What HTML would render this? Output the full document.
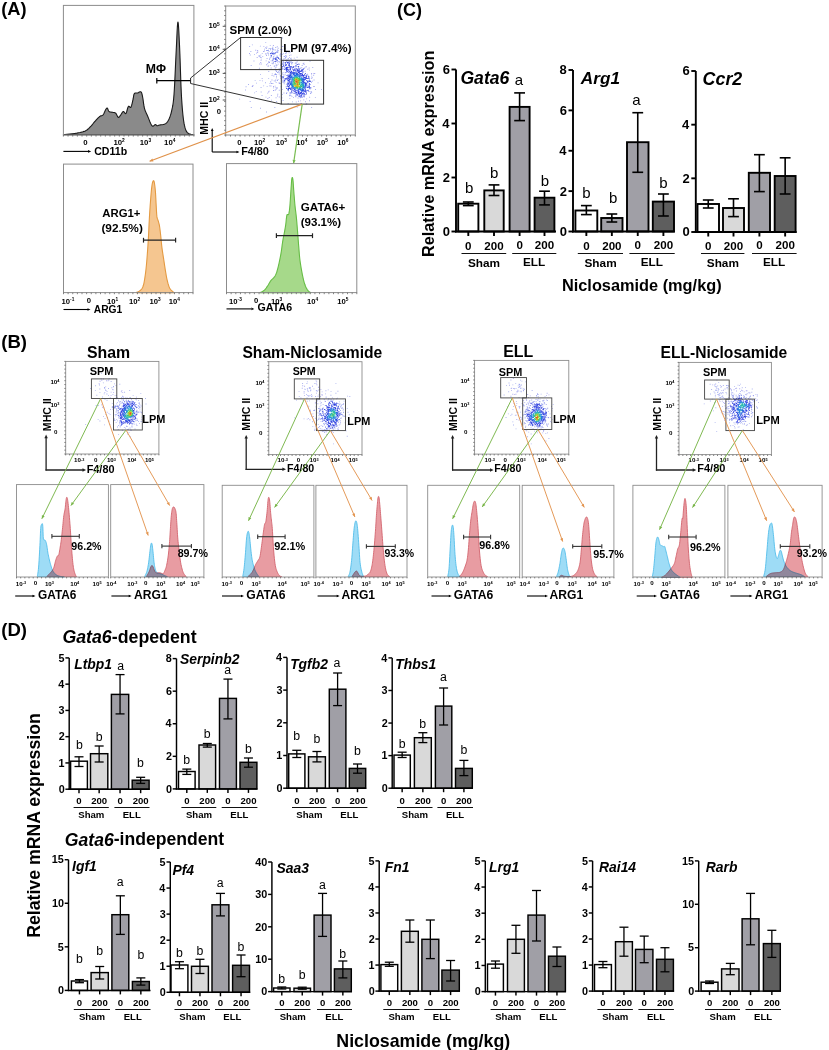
<!DOCTYPE html>
<html><head><meta charset="utf-8"><style>
html,body{margin:0;padding:0;background:#fff;width:829px;height:1050px;overflow:hidden;}
svg{display:block;}
text{font-family:"Liberation Sans",sans-serif;}
</style></head><body>
<svg width="829" height="1050" viewBox="0 0 829 1050">
<rect width="829" height="1050" fill="#fff"/>
<text x="1.29" y="15.46" font-size="18.29" font-weight="bold" font-style="normal" fill="#000">(A)</text>
<path d="M63.4,134.8 L64.93,134.62 L67.09,134.38 L69.62,134.09 L72.28,133.77 L74.79,133.43 L76.9,133.1 L78.63,132.79 L80.2,132.48 L81.62,132.16 L82.93,131.8 L84.15,131.39 L85.3,130.9 L86.34,130.34 L87.24,129.71 L88.06,129.03 L88.82,128.3 L89.59,127.52 L90.4,126.7 L91.26,125.8 L92.13,124.8 L93.01,123.76 L93.87,122.71 L94.7,121.71 L95.5,120.8 L96.26,119.96 L97,119.15 L97.71,118.39 L98.39,117.68 L99.06,117.05 L99.7,116.5 L100.32,116.1 L100.93,115.86 L101.51,115.69 L102.06,115.51 L102.59,115.24 L103.1,114.8 L103.58,114.12 L104.03,113.26 L104.46,112.3 L104.86,111.34 L105.24,110.48 L105.6,109.8 L105.93,109.27 L106.23,108.8 L106.5,108.42 L106.76,108.17 L107.03,108.05 L107.3,108.1 L107.56,108.4 L107.8,108.95 L108.04,109.64 L108.31,110.37 L108.62,111.02 L109,111.5 L109.47,111.78 L110.01,111.96 L110.6,112.06 L111.21,112.12 L111.82,112.19 L112.4,112.3 L112.96,112.41 L113.53,112.47 L114.1,112.54 L114.66,112.65 L115.19,112.86 L115.7,113.2 L116.17,113.79 L116.62,114.61 L117.05,115.52 L117.47,116.38 L117.88,117.06 L118.3,117.4 L118.72,117.37 L119.14,117.06 L119.56,116.57 L119.97,115.97 L120.38,115.35 L120.8,114.8 L121.22,114.23 L121.63,113.56 L122.04,112.86 L122.46,112.23 L122.88,111.75 L123.3,111.5 L123.73,111.63 L124.16,112.11 L124.6,112.74 L125.04,113.31 L125.47,113.63 L125.9,113.5 L126.32,112.75 L126.74,111.51 L127.16,110.02 L127.57,108.52 L127.98,107.23 L128.4,106.4 L128.82,106.17 L129.25,106.39 L129.68,106.83 L130.1,107.26 L130.51,107.46 L130.9,107.2 L131.28,106.4 L131.66,105.23 L132.03,103.82 L132.37,102.32 L132.7,100.87 L133,99.6 L133.24,98.46 L133.41,97.32 L133.57,96.22 L133.74,95.23 L133.97,94.37 L134.3,93.7 L134.75,93.27 L135.28,93.06 L135.87,92.99 L136.49,92.99 L137.11,92.98 L137.7,92.9 L138.29,92.68 L138.9,92.35 L139.51,92.03 L140.09,91.79 L140.63,91.75 L141.1,92 L141.48,92.55 L141.8,93.34 L142.06,94.31 L142.3,95.44 L142.54,96.68 L142.8,98 L143.05,99.47 L143.27,101.13 L143.49,102.9 L143.74,104.71 L144.03,106.47 L144.4,108.1 L144.85,109.59 L145.37,110.99 L145.94,112.35 L146.54,113.7 L147.17,115.07 L147.8,116.5 L148.46,118.12 L149.17,119.92 L149.9,121.75 L150.63,123.44 L151.34,124.85 L152,125.8 L152.63,126.18 L153.26,126.09 L153.86,125.71 L154.42,125.21 L154.94,124.78 L155.4,124.6 L155.77,124.68 L156.06,124.9 L156.31,125.17 L156.54,125.46 L156.79,125.69 L157.1,125.8 L157.44,125.78 L157.78,125.69 L158.14,125.53 L158.54,125.35 L159.02,125.16 L159.6,125 L160.32,124.88 L161.17,124.8 L162.09,124.71 L163.03,124.58 L163.92,124.39 L164.7,124.1 L165.37,123.76 L165.96,123.4 L166.51,122.97 L167.03,122.43 L167.55,121.72 L168.1,120.8 L168.68,119.69 L169.27,118.43 L169.86,117 L170.43,115.39 L170.99,113.56 L171.5,111.5 L171.97,109.44 L172.41,107.43 L172.82,105.21 L173.22,102.51 L173.61,99.07 L174,94.6 L174.39,88.67 L174.77,81.4 L175.15,73.39 L175.51,65.21 L175.87,57.45 L176.2,50.7 L176.51,44.41 L176.8,38.01 L177.08,32.03 L177.35,27 L177.62,23.48 L177.9,22 L178.18,22.86 L178.47,25.68 L178.75,30.01 L179.03,35.36 L179.32,41.28 L179.6,47.3 L179.88,53.96 L180.16,61.75 L180.43,70.1 L180.71,78.45 L181,86.24 L181.3,92.9 L181.61,98.45 L181.93,103.34 L182.25,107.66 L182.59,111.52 L182.93,115 L183.3,118.2 L183.68,121.04 L184.06,123.43 L184.46,125.44 L184.88,127.16 L185.33,128.65 L185.8,130 L186.3,131.13 L186.82,131.96 L187.36,132.57 L187.94,133.04 L188.55,133.42 L189.2,133.8 L189.96,134.14 L190.84,134.38 L191.76,134.54 L192.63,134.64 L193.37,134.72 L193.9,134.8 Z" fill="#8a8a8a" stroke="#1a1a1a" stroke-width="1.1" stroke-linejoin="round"/>
<rect x="63.4" y="5.4" width="130.5" height="129.6" fill="none" stroke="#8c8c8c" stroke-width="1"/>
<path d="M63.4,135v1.6 M68.06,135v1.6 M72.72,135v1.6 M77.38,135v1.6 M82.04,135v1.6 M86.7,135v1.6 M91.36,135v1.6 M96.03,135v1.6 M100.69,135v1.6 M105.35,135v1.6 M110.01,135v1.6 M114.67,135v1.6 M119.33,135v1.6 M123.99,135v1.6 M128.65,135v1.6 M133.31,135v1.6 M137.97,135v1.6 M142.63,135v1.6 M147.29,135v1.6 M151.95,135v1.6 M156.61,135v1.6 M161.28,135v1.6 M165.94,135v1.6 M170.6,135v1.6 M175.26,135v1.6 M179.92,135v1.6 M184.58,135v1.6 M189.24,135v1.6 M193.9,135v1.6" stroke="#666" stroke-width="0.8" fill="none"/>
<text x="145.7" y="72.71" font-size="12.24" font-weight="bold" font-style="normal" fill="#000">MΦ</text>
<line x1="156.8" y1="80.7" x2="190.6" y2="80.7" stroke="#000" stroke-width="1.2"/>
<line x1="156.8" y1="78" x2="156.8" y2="83.4" stroke="#000" stroke-width="1.2"/>
<text x="83.14" y="144.66" font-size="7.8" font-weight="bold" font-style="normal" fill="#000">0</text>
<text x="113.4" y="144.8" font-size="7.8" font-weight="bold">10<tspan font-size="4.84" dy="-2.34">2</tspan></text>
<text x="139.7" y="144.8" font-size="7.8" font-weight="bold">10<tspan font-size="4.84" dy="-2.34">3</tspan></text>
<text x="164.1" y="144.8" font-size="7.8" font-weight="bold">10<tspan font-size="4.84" dy="-2.34">4</tspan></text>
<line x1="63.4" y1="151.4" x2="88" y2="151.4" stroke="#000" stroke-width="1.1"/>
<path d="M91.2,151.4 L88,152.84 L88,149.96 Z" fill="#000" stroke="none"/>
<text x="94.18" y="154.58" font-size="10.59" font-weight="bold" font-style="normal" fill="#000">CD11b</text>
<path d="M260.0,107.8h0.9v0.9h-0.9zM268.2,78.2h0.9v0.9h-0.9zM256.1,82.7h0.9v0.9h-0.9zM239.2,98.7h0.9v0.9h-0.9zM249.7,101.0h0.9v0.9h-0.9zM271.0,99.7h0.9v0.9h-0.9zM265.1,82.3h0.9v0.9h-0.9zM282.0,89.2h0.9v0.9h-0.9zM260.0,74.2h0.9v0.9h-0.9zM292.0,101.4h0.9v0.9h-0.9zM274.4,107.0h0.9v0.9h-0.9zM280.7,86.3h0.9v0.9h-0.9zM261.6,95.1h0.9v0.9h-0.9zM248.1,84.0h0.9v0.9h-0.9zM276.2,101.1h0.9v0.9h-0.9zM245.6,86.3h0.9v0.9h-0.9zM263.2,85.4h0.9v0.9h-0.9zM312.3,67.1h0.9v0.9h-0.9zM278.8,89.8h0.9v0.9h-0.9zM282.1,37.5h0.9v0.9h-0.9zM265.3,42.2h0.9v0.9h-0.9zM259.9,45.7h0.9v0.9h-0.9zM311.2,107.1h0.9v0.9h-0.9zM317.6,82.4h0.9v0.9h-0.9zM321.1,88.9h0.9v0.9h-0.9zM296.7,106.8h0.9v0.9h-0.9zM306.2,98.4h0.9v0.9h-0.9zM314.9,96.9h0.9v0.9h-0.9zM269.8,44.9h0.9v0.9h-0.9zM315.1,89.0h0.9v0.9h-0.9zM251.9,44.4h0.9v0.9h-0.9zM309.2,96.8h0.9v0.9h-0.9zM266.0,111.6h0.9v0.9h-0.9zM245.0,89.6h0.9v0.9h-0.9zM254.7,79.9h0.9v0.9h-0.9zM258.9,67.8h0.9v0.9h-0.9zM260.6,87.1h0.9v0.9h-0.9zM268.3,71.1h0.9v0.9h-0.9zM309.1,100.3h0.9v0.9h-0.9zM253.5,60.5h0.9v0.9h-0.9zM249.2,46.1h0.9v0.9h-0.9zM287.7,103.0h0.9v0.9h-0.9zM309.6,60.9h0.9v0.9h-0.9zM250.7,65.1h0.9v0.9h-0.9zM250.8,107.0h0.9v0.9h-0.9zM260.7,91.6h0.9v0.9h-0.9zM282.6,100.1h0.9v0.9h-0.9zM282.0,46.0h0.9v0.9h-0.9zM250.4,51.0h0.9v0.9h-0.9zM295.8,101.5h0.9v0.9h-0.9zM254.0,53.9h0.9v0.9h-0.9zM249.8,54.5h0.9v0.9h-0.9zM275.6,97.3h0.9v0.9h-0.9zM255.8,91.2h0.9v0.9h-0.9zM296.6,56.8h0.9v0.9h-0.9zM266.7,85.9h0.9v0.9h-0.9zM265.5,96.7h0.9v0.9h-0.9zM282.1,94.2h0.9v0.9h-0.9zM270.7,67.6h0.9v0.9h-0.9zM261.7,78.0h0.9v0.9h-0.9zM270.9,95.0h0.9v0.9h-0.9zM277.3,93.8h0.9v0.9h-0.9zM259.5,80.2h0.9v0.9h-0.9zM254.2,92.4h0.9v0.9h-0.9zM313.6,86.2h0.9v0.9h-0.9z" fill="#5060e0" fill-opacity="0.55"/>
<path d="M289.4,98.2h0.9v0.9h-0.9zM261.9,80.4h0.9v0.9h-0.9zM308.7,67.5h0.9v0.9h-0.9zM306.3,103.2h0.9v0.9h-0.9zM260.8,63.6h0.9v0.9h-0.9zM267.4,98.1h0.9v0.9h-0.9zM301.1,103.1h0.9v0.9h-0.9zM286.0,93.1h0.9v0.9h-0.9zM289.8,51.6h0.9v0.9h-0.9zM314.3,73.1h0.9v0.9h-0.9zM256.7,57.1h0.9v0.9h-0.9zM278.8,83.0h0.9v0.9h-0.9zM300.4,103.2h0.9v0.9h-0.9zM249.1,53.1h0.9v0.9h-0.9zM284.7,47.7h0.9v0.9h-0.9zM271.6,75.1h0.9v0.9h-0.9zM313.5,86.0h0.9v0.9h-0.9zM309.1,69.7h0.9v0.9h-0.9zM263.4,45.9h0.9v0.9h-0.9zM281.6,97.4h0.9v0.9h-0.9zM268.2,91.6h0.9v0.9h-0.9zM313.6,79.5h0.9v0.9h-0.9zM268.7,90.7h0.9v0.9h-0.9zM278.8,96.5h0.9v0.9h-0.9zM267.2,92.7h0.9v0.9h-0.9zM298.0,100.8h0.9v0.9h-0.9zM268.8,97.1h0.9v0.9h-0.9zM259.3,63.6h0.9v0.9h-0.9zM272.9,45.1h0.9v0.9h-0.9zM305.7,103.8h0.9v0.9h-0.9zM276.8,46.3h0.9v0.9h-0.9zM261.8,53.2h0.9v0.9h-0.9zM263.1,51.0h0.9v0.9h-0.9zM283.5,92.5h0.9v0.9h-0.9zM305.0,101.3h0.9v0.9h-0.9zM252.6,85.2h0.9v0.9h-0.9zM279.8,83.1h0.9v0.9h-0.9zM255.3,49.8h0.9v0.9h-0.9zM280.9,48.9h0.9v0.9h-0.9zM303.3,99.4h0.9v0.9h-0.9zM283.6,45.9h0.9v0.9h-0.9zM266.4,46.6h0.9v0.9h-0.9zM293.8,57.7h0.9v0.9h-0.9zM293.0,96.9h0.9v0.9h-0.9zM260.6,59.9h0.9v0.9h-0.9zM252.3,85.2h0.9v0.9h-0.9zM271.5,79.5h0.9v0.9h-0.9zM269.3,85.4h0.9v0.9h-0.9zM252.2,85.9h0.9v0.9h-0.9zM265.7,60.4h0.9v0.9h-0.9zM260.3,62.0h0.9v0.9h-0.9zM281.6,49.2h0.9v0.9h-0.9zM284.6,48.2h0.9v0.9h-0.9zM266.1,64.3h0.9v0.9h-0.9zM307.4,68.8h0.9v0.9h-0.9zM265.2,53.4h0.9v0.9h-0.9zM277.0,95.6h0.9v0.9h-0.9zM251.8,86.1h0.9v0.9h-0.9zM271.8,73.4h0.9v0.9h-0.9zM276.9,87.4h0.9v0.9h-0.9zM270.5,85.6h0.9v0.9h-0.9zM266.6,58.2h0.9v0.9h-0.9zM300.2,100.4h0.9v0.9h-0.9zM268.3,61.8h0.9v0.9h-0.9zM285.8,51.7h0.9v0.9h-0.9zM256.1,52.7h0.9v0.9h-0.9zM302.7,63.3h0.9v0.9h-0.9zM260.8,58.7h0.9v0.9h-0.9zM273.1,86.0h0.9v0.9h-0.9zM311.2,73.1h0.9v0.9h-0.9zM311.8,77.3h0.9v0.9h-0.9zM303.0,63.4h0.9v0.9h-0.9zM303.5,62.7h0.9v0.9h-0.9zM289.0,55.2h0.9v0.9h-0.9zM313.3,73.3h0.9v0.9h-0.9zM311.0,73.7h0.9v0.9h-0.9zM273.1,89.9h0.9v0.9h-0.9zM305.8,65.9h0.9v0.9h-0.9zM266.6,58.0h0.9v0.9h-0.9zM273.0,90.0h0.9v0.9h-0.9zM267.4,65.7h0.9v0.9h-0.9zM305.5,66.5h0.9v0.9h-0.9zM268.2,65.5h0.9v0.9h-0.9zM257.3,50.7h0.9v0.9h-0.9zM297.1,60.4h0.9v0.9h-0.9zM266.0,55.0h0.9v0.9h-0.9zM290.5,54.5h0.9v0.9h-0.9zM257.2,52.1h0.9v0.9h-0.9zM270.1,65.2h0.9v0.9h-0.9zM257.2,50.1h0.9v0.9h-0.9z" fill="#5050e0" fill-opacity="0.55"/>
<path d="M311.2,92.2h0.9v0.9h-0.9zM277.7,47.8h0.9v0.9h-0.9zM262.3,56.2h0.9v0.9h-0.9zM264.1,50.6h0.9v0.9h-0.9zM265.3,47.2h0.9v0.9h-0.9zM270.3,81.7h0.9v0.9h-0.9zM272.4,83.0h0.9v0.9h-0.9zM276.1,77.4h0.9v0.9h-0.9zM274.8,80.7h0.9v0.9h-0.9zM286.4,92.3h0.9v0.9h-0.9zM258.7,56.0h0.9v0.9h-0.9zM265.7,53.6h0.9v0.9h-0.9zM279.6,54.6h0.9v0.9h-0.9zM273.7,80.4h0.9v0.9h-0.9zM285.9,52.4h0.9v0.9h-0.9zM291.5,96.2h0.9v0.9h-0.9zM288.6,52.4h0.9v0.9h-0.9zM303.8,63.9h0.9v0.9h-0.9zM258.7,55.1h0.9v0.9h-0.9zM275.3,47.1h0.9v0.9h-0.9zM280.1,49.2h0.9v0.9h-0.9zM271.1,83.0h0.9v0.9h-0.9zM277.6,79.2h0.9v0.9h-0.9zM301.7,65.1h0.9v0.9h-0.9zM269.0,62.1h0.9v0.9h-0.9zM270.3,81.3h0.9v0.9h-0.9zM274.7,85.7h0.9v0.9h-0.9zM276.4,87.8h0.9v0.9h-0.9zM290.7,57.7h0.9v0.9h-0.9zM281.5,50.4h0.9v0.9h-0.9zM278.7,68.2h0.9v0.9h-0.9zM304.3,67.4h0.9v0.9h-0.9zM274.7,89.8h0.9v0.9h-0.9zM289.0,56.9h0.9v0.9h-0.9zM259.8,56.5h0.9v0.9h-0.9zM310.1,93.1h0.9v0.9h-0.9zM274.4,74.0h0.9v0.9h-0.9zM272.5,63.4h0.9v0.9h-0.9zM311.3,75.7h0.9v0.9h-0.9zM260.3,54.7h0.9v0.9h-0.9zM273.4,75.6h0.9v0.9h-0.9zM310.5,92.5h0.9v0.9h-0.9zM283.7,83.3h0.9v0.9h-0.9zM280.3,54.5h0.9v0.9h-0.9zM299.0,63.9h0.9v0.9h-0.9zM264.0,48.7h0.9v0.9h-0.9zM290.3,58.0h0.9v0.9h-0.9zM284.1,50.9h0.9v0.9h-0.9zM289.3,95.4h0.9v0.9h-0.9zM312.0,80.7h0.9v0.9h-0.9zM313.2,74.9h0.9v0.9h-0.9zM295.0,59.7h0.9v0.9h-0.9zM290.7,58.9h0.9v0.9h-0.9zM278.7,81.9h0.9v0.9h-0.9zM285.3,53.0h0.9v0.9h-0.9zM267.3,63.3h0.9v0.9h-0.9zM280.7,54.0h0.9v0.9h-0.9zM268.5,61.3h0.9v0.9h-0.9zM275.7,82.2h0.9v0.9h-0.9zM276.1,75.8h0.9v0.9h-0.9zM269.5,83.2h0.9v0.9h-0.9zM275.5,87.2h0.9v0.9h-0.9zM276.9,80.0h0.9v0.9h-0.9zM275.3,74.1h0.9v0.9h-0.9zM276.2,74.2h0.9v0.9h-0.9zM292.2,62.3h0.9v0.9h-0.9zM290.4,95.1h0.9v0.9h-0.9zM282.6,71.9h0.9v0.9h-0.9zM289.1,94.7h0.9v0.9h-0.9zM260.6,57.1h0.9v0.9h-0.9zM273.4,49.4h0.9v0.9h-0.9zM271.6,62.8h0.9v0.9h-0.9zM294.9,95.7h0.9v0.9h-0.9zM275.3,79.5h0.9v0.9h-0.9zM273.8,65.8h0.9v0.9h-0.9zM282.6,60.0h0.9v0.9h-0.9zM269.1,58.8h0.9v0.9h-0.9zM280.4,53.1h0.9v0.9h-0.9zM276.7,64.7h0.9v0.9h-0.9zM297.6,97.5h0.9v0.9h-0.9zM294.8,62.8h0.9v0.9h-0.9zM270.1,56.7h0.9v0.9h-0.9zM275.6,88.8h0.9v0.9h-0.9zM310.9,77.8h0.9v0.9h-0.9zM273.2,87.4h0.9v0.9h-0.9zM277.0,80.1h0.9v0.9h-0.9zM279.4,70.3h0.9v0.9h-0.9zM275.4,69.8h0.9v0.9h-0.9zM272.9,62.5h0.9v0.9h-0.9zM267.0,50.0h0.9v0.9h-0.9zM268.7,48.1h0.9v0.9h-0.9zM278.5,72.1h0.9v0.9h-0.9zM272.4,46.7h0.9v0.9h-0.9zM274.9,73.2h0.9v0.9h-0.9zM275.7,64.5h0.9v0.9h-0.9zM304.7,70.8h0.9v0.9h-0.9zM282.8,53.2h0.9v0.9h-0.9zM295.4,62.4h0.9v0.9h-0.9zM277.9,50.3h0.9v0.9h-0.9zM277.3,52.0h0.9v0.9h-0.9zM271.8,48.4h0.9v0.9h-0.9zM278.7,73.5h0.9v0.9h-0.9zM270.3,48.0h0.9v0.9h-0.9zM269.4,57.7h0.9v0.9h-0.9zM282.2,53.9h0.9v0.9h-0.9zM280.7,58.2h0.9v0.9h-0.9zM285.8,55.6h0.9v0.9h-0.9zM275.4,69.9h0.9v0.9h-0.9zM268.2,52.8h0.9v0.9h-0.9zM268.0,54.5h0.9v0.9h-0.9zM276.8,50.8h0.9v0.9h-0.9zM295.5,96.3h0.9v0.9h-0.9zM276.0,64.5h0.9v0.9h-0.9zM274.8,67.6h0.9v0.9h-0.9zM298.4,63.3h0.9v0.9h-0.9zM275.7,66.6h0.9v0.9h-0.9zM272.6,48.5h0.9v0.9h-0.9zM310.7,91.1h0.9v0.9h-0.9zM271.0,56.3h0.9v0.9h-0.9zM279.8,58.8h0.9v0.9h-0.9zM296.5,61.6h0.9v0.9h-0.9zM275.7,65.0h0.9v0.9h-0.9zM271.9,47.7h0.9v0.9h-0.9zM279.3,59.2h0.9v0.9h-0.9zM280.2,74.9h0.9v0.9h-0.9zM284.8,72.3h0.9v0.9h-0.9zM283.4,81.5h0.9v0.9h-0.9zM310.1,83.9h0.9v0.9h-0.9zM265.8,48.1h0.9v0.9h-0.9zM310.6,90.9h0.9v0.9h-0.9zM280.5,56.0h0.9v0.9h-0.9zM275.3,69.6h0.9v0.9h-0.9zM266.0,50.1h0.9v0.9h-0.9zM277.2,52.0h0.9v0.9h-0.9zM282.2,73.4h0.9v0.9h-0.9zM295.6,62.4h0.9v0.9h-0.9zM267.9,50.1h0.9v0.9h-0.9zM274.1,65.5h0.9v0.9h-0.9zM268.0,49.8h0.9v0.9h-0.9zM274.8,49.5h0.9v0.9h-0.9zM272.3,49.0h0.9v0.9h-0.9zM291.5,62.0h0.9v0.9h-0.9zM285.8,56.3h0.9v0.9h-0.9zM307.2,73.7h0.9v0.9h-0.9zM278.9,70.4h0.9v0.9h-0.9zM283.3,58.7h0.9v0.9h-0.9zM304.1,96.1h0.9v0.9h-0.9zM276.9,49.6h0.9v0.9h-0.9zM276.8,51.4h0.9v0.9h-0.9zM277.3,61.7h0.9v0.9h-0.9zM277.8,63.7h0.9v0.9h-0.9zM304.1,67.9h0.9v0.9h-0.9zM303.7,96.6h0.9v0.9h-0.9zM279.2,58.6h0.9v0.9h-0.9zM292.1,60.2h0.9v0.9h-0.9zM278.5,61.0h0.9v0.9h-0.9zM284.1,81.3h0.9v0.9h-0.9zM311.1,81.8h0.9v0.9h-0.9zM291.1,60.7h0.9v0.9h-0.9zM305.8,94.0h0.9v0.9h-0.9zM268.6,50.9h0.9v0.9h-0.9zM276.6,55.6h0.9v0.9h-0.9zM270.1,49.3h0.9v0.9h-0.9zM277.2,61.5h0.9v0.9h-0.9zM267.0,52.5h0.9v0.9h-0.9zM279.8,75.4h0.9v0.9h-0.9zM282.5,81.9h0.9v0.9h-0.9zM291.2,62.6h0.9v0.9h-0.9zM276.1,70.9h0.9v0.9h-0.9zM280.8,68.7h0.9v0.9h-0.9zM285.1,55.2h0.9v0.9h-0.9zM281.8,68.9h0.9v0.9h-0.9zM280.4,68.6h0.9v0.9h-0.9zM302.9,68.0h0.9v0.9h-0.9zM284.8,74.4h0.9v0.9h-0.9zM283.7,58.2h0.9v0.9h-0.9zM284.2,56.0h0.9v0.9h-0.9zM276.6,56.1h0.9v0.9h-0.9zM310.9,87.4h0.9v0.9h-0.9zM280.4,77.8h0.9v0.9h-0.9zM276.2,51.6h0.9v0.9h-0.9zM272.0,59.5h0.9v0.9h-0.9zM272.9,61.6h0.9v0.9h-0.9zM280.3,65.2h0.9v0.9h-0.9zM298.2,64.0h0.9v0.9h-0.9zM276.8,56.2h0.9v0.9h-0.9zM272.0,60.3h0.9v0.9h-0.9zM290.0,93.3h0.9v0.9h-0.9zM275.9,71.2h0.9v0.9h-0.9zM276.1,69.4h0.9v0.9h-0.9zM291.3,63.5h0.9v0.9h-0.9zM280.7,71.3h0.9v0.9h-0.9zM282.2,68.1h0.9v0.9h-0.9zM270.7,60.4h0.9v0.9h-0.9zM287.8,58.0h0.9v0.9h-0.9zM282.0,80.5h0.9v0.9h-0.9zM283.6,55.9h0.9v0.9h-0.9zM285.3,72.0h0.9v0.9h-0.9zM291.0,92.7h0.9v0.9h-0.9zM291.0,92.3h0.9v0.9h-0.9zM285.2,57.1h0.9v0.9h-0.9zM296.1,65.7h0.9v0.9h-0.9zM280.9,77.8h0.9v0.9h-0.9zM310.0,87.3h0.9v0.9h-0.9zM281.3,79.1h0.9v0.9h-0.9zM284.4,81.5h0.9v0.9h-0.9zM281.0,62.9h0.9v0.9h-0.9zM283.4,74.2h0.9v0.9h-0.9zM287.7,59.6h0.9v0.9h-0.9zM289.3,92.5h0.9v0.9h-0.9zM287.5,89.9h0.9v0.9h-0.9zM295.2,94.7h0.9v0.9h-0.9zM273.8,54.4h0.9v0.9h-0.9zM281.9,61.6h0.9v0.9h-0.9zM293.1,66.0h0.9v0.9h-0.9zM295.9,63.6h0.9v0.9h-0.9zM285.7,86.6h0.9v0.9h-0.9zM283.3,80.5h0.9v0.9h-0.9zM284.2,80.3h0.9v0.9h-0.9zM286.4,59.6h0.9v0.9h-0.9zM280.4,63.7h0.9v0.9h-0.9zM282.7,68.5h0.9v0.9h-0.9zM281.2,77.8h0.9v0.9h-0.9zM283.5,75.5h0.9v0.9h-0.9zM281.6,73.7h0.9v0.9h-0.9zM285.1,57.6h0.9v0.9h-0.9zM285.8,85.9h0.9v0.9h-0.9zM272.7,58.3h0.9v0.9h-0.9zM273.4,52.6h0.9v0.9h-0.9zM287.6,89.4h0.9v0.9h-0.9zM274.6,53.4h0.9v0.9h-0.9zM279.2,61.7h0.9v0.9h-0.9zM272.7,57.5h0.9v0.9h-0.9zM280.3,76.3h0.9v0.9h-0.9zM294.5,66.1h0.9v0.9h-0.9zM274.9,62.7h0.9v0.9h-0.9zM301.3,67.3h0.9v0.9h-0.9zM310.1,87.0h0.9v0.9h-0.9zM299.7,97.4h0.9v0.9h-0.9zM301.8,97.0h0.9v0.9h-0.9zM281.7,63.2h0.9v0.9h-0.9zM308.4,91.0h0.9v0.9h-0.9zM281.6,64.0h0.9v0.9h-0.9zM308.6,91.1h0.9v0.9h-0.9zM290.3,92.0h0.9v0.9h-0.9zM301.3,96.9h0.9v0.9h-0.9zM277.0,72.0h0.9v0.9h-0.9zM283.0,60.8h0.9v0.9h-0.9zM277.9,70.9h0.9v0.9h-0.9zM282.0,67.3h0.9v0.9h-0.9zM296.3,65.9h0.9v0.9h-0.9zM286.1,75.1h0.9v0.9h-0.9zM275.8,60.6h0.9v0.9h-0.9zM310.2,81.1h0.9v0.9h-0.9zM292.7,92.9h0.9v0.9h-0.9zM274.2,52.8h0.9v0.9h-0.9zM272.6,59.8h0.9v0.9h-0.9zM298.3,66.1h0.9v0.9h-0.9zM285.9,83.9h0.9v0.9h-0.9zM285.0,57.6h0.9v0.9h-0.9z" fill="#4050e0" fill-opacity="0.55"/>
<path d="M270.7,55.3h0.9v0.9h-0.9zM271.3,52.4h0.9v0.9h-0.9zM273.7,57.9h0.9v0.9h-0.9zM282.1,65.9h0.9v0.9h-0.9zM309.7,80.5h0.9v0.9h-0.9zM285.1,65.0h0.9v0.9h-0.9zM281.2,64.0h0.9v0.9h-0.9zM274.5,53.0h0.9v0.9h-0.9zM291.6,91.8h0.9v0.9h-0.9zM308.6,77.4h0.9v0.9h-0.9zM275.4,60.9h0.9v0.9h-0.9zM284.3,80.1h0.9v0.9h-0.9zM304.9,73.1h0.9v0.9h-0.9zM304.2,94.5h0.9v0.9h-0.9zM309.2,83.9h0.9v0.9h-0.9zM270.4,53.4h0.9v0.9h-0.9zM283.1,76.4h0.9v0.9h-0.9zM302.7,96.2h0.9v0.9h-0.9zM307.8,90.3h0.9v0.9h-0.9zM283.1,62.4h0.9v0.9h-0.9zM273.3,56.4h0.9v0.9h-0.9zM281.5,76.7h0.9v0.9h-0.9zM309.3,87.5h0.9v0.9h-0.9zM291.0,90.9h0.9v0.9h-0.9zM299.8,67.7h0.9v0.9h-0.9zM284.5,77.9h0.9v0.9h-0.9zM277.8,57.3h0.9v0.9h-0.9zM306.0,92.9h0.9v0.9h-0.9zM296.9,64.1h0.9v0.9h-0.9zM309.8,81.1h0.9v0.9h-0.9zM271.0,54.9h0.9v0.9h-0.9zM286.2,71.3h0.9v0.9h-0.9zM307.3,90.1h0.9v0.9h-0.9zM302.3,69.9h0.9v0.9h-0.9zM298.1,66.2h0.9v0.9h-0.9zM308.7,84.5h0.9v0.9h-0.9zM286.5,71.5h0.9v0.9h-0.9zM309.0,81.0h0.9v0.9h-0.9zM271.9,50.7h0.9v0.9h-0.9zM283.7,79.6h0.9v0.9h-0.9zM270.7,55.1h0.9v0.9h-0.9zM287.9,90.3h0.9v0.9h-0.9zM270.8,52.8h0.9v0.9h-0.9zM270.1,53.1h0.9v0.9h-0.9zM286.1,88.0h0.9v0.9h-0.9zM281.4,66.2h0.9v0.9h-0.9zM298.0,67.6h0.9v0.9h-0.9zM300.3,96.6h0.9v0.9h-0.9zM295.5,65.0h0.9v0.9h-0.9zM297.8,66.0h0.9v0.9h-0.9zM282.6,77.5h0.9v0.9h-0.9zM281.6,63.4h0.9v0.9h-0.9zM277.0,56.9h0.9v0.9h-0.9zM299.7,96.3h0.9v0.9h-0.9zM302.9,68.8h0.9v0.9h-0.9zM288.9,61.4h0.9v0.9h-0.9zM275.4,52.0h0.9v0.9h-0.9zM287.5,89.1h0.9v0.9h-0.9zM285.4,78.3h0.9v0.9h-0.9zM308.2,76.5h0.9v0.9h-0.9zM301.8,69.4h0.9v0.9h-0.9zM306.4,74.7h0.9v0.9h-0.9zM283.3,65.8h0.9v0.9h-0.9zM293.1,66.5h0.9v0.9h-0.9zM293.8,92.9h0.9v0.9h-0.9zM307.9,80.8h0.9v0.9h-0.9zM302.4,69.1h0.9v0.9h-0.9zM285.0,59.9h0.9v0.9h-0.9zM308.2,75.7h0.9v0.9h-0.9zM308.5,87.0h0.9v0.9h-0.9zM308.8,80.3h0.9v0.9h-0.9zM286.6,60.0h0.9v0.9h-0.9zM308.4,76.2h0.9v0.9h-0.9zM272.7,52.7h0.9v0.9h-0.9zM273.2,58.7h0.9v0.9h-0.9zM286.0,77.7h0.9v0.9h-0.9zM308.9,78.6h0.9v0.9h-0.9zM308.6,86.6h0.9v0.9h-0.9zM285.0,61.9h0.9v0.9h-0.9zM304.6,94.2h0.9v0.9h-0.9zM308.7,85.4h0.9v0.9h-0.9zM291.0,90.6h0.9v0.9h-0.9zM307.7,89.8h0.9v0.9h-0.9zM298.0,95.7h0.9v0.9h-0.9zM282.1,76.4h0.9v0.9h-0.9zM281.4,76.3h0.9v0.9h-0.9zM308.8,80.3h0.9v0.9h-0.9zM306.5,74.6h0.9v0.9h-0.9zM282.8,76.8h0.9v0.9h-0.9zM308.2,76.6h0.9v0.9h-0.9zM309.1,86.3h0.9v0.9h-0.9zM291.9,66.8h0.9v0.9h-0.9zM274.5,61.0h0.9v0.9h-0.9zM272.7,53.1h0.9v0.9h-0.9zM291.6,66.8h0.9v0.9h-0.9zM284.0,69.2h0.9v0.9h-0.9zM275.7,59.5h0.9v0.9h-0.9zM284.9,62.8h0.9v0.9h-0.9zM275.8,57.3h0.9v0.9h-0.9zM284.9,78.8h0.9v0.9h-0.9zM272.3,53.5h0.9v0.9h-0.9zM272.0,52.8h0.9v0.9h-0.9zM308.9,83.1h0.9v0.9h-0.9zM286.8,83.2h0.9v0.9h-0.9zM289.7,61.6h0.9v0.9h-0.9zM284.7,62.1h0.9v0.9h-0.9zM286.0,61.4h0.9v0.9h-0.9zM286.0,78.5h0.9v0.9h-0.9zM285.5,65.2h0.9v0.9h-0.9zM287.6,61.6h0.9v0.9h-0.9zM274.8,58.8h0.9v0.9h-0.9zM306.3,80.1h0.9v0.9h-0.9zM301.0,69.6h0.9v0.9h-0.9zM278.2,57.8h0.9v0.9h-0.9zM298.9,68.5h0.9v0.9h-0.9zM307.0,81.1h0.9v0.9h-0.9zM308.8,85.9h0.9v0.9h-0.9zM285.3,68.2h0.9v0.9h-0.9zM306.9,80.8h0.9v0.9h-0.9zM288.1,89.1h0.9v0.9h-0.9zM308.0,77.9h0.9v0.9h-0.9zM288.8,61.7h0.9v0.9h-0.9zM306.3,75.0h0.9v0.9h-0.9zM278.1,58.2h0.9v0.9h-0.9zM275.7,58.7h0.9v0.9h-0.9zM301.4,70.3h0.9v0.9h-0.9zM288.0,62.5h0.9v0.9h-0.9zM299.0,95.9h0.9v0.9h-0.9zM286.9,85.6h0.9v0.9h-0.9zM287.1,83.6h0.9v0.9h-0.9zM289.1,65.6h0.9v0.9h-0.9zM309.6,88.4h0.9v0.9h-0.9zM295.8,93.8h0.9v0.9h-0.9zM289.9,68.0h0.9v0.9h-0.9zM301.1,95.7h0.9v0.9h-0.9zM290.2,67.7h0.9v0.9h-0.9zM302.5,71.6h0.9v0.9h-0.9zM283.2,64.8h0.9v0.9h-0.9zM295.3,66.4h0.9v0.9h-0.9zM289.1,63.0h0.9v0.9h-0.9zM286.9,71.1h0.9v0.9h-0.9zM309.4,88.4h0.9v0.9h-0.9zM285.5,64.3h0.9v0.9h-0.9zM284.6,68.6h0.9v0.9h-0.9zM272.9,53.5h0.9v0.9h-0.9z" fill="#4050e0" fill-opacity="1"/>
<path d="M293.2,66.8h0.9v0.9h-0.9zM296.8,94.8h0.9v0.9h-0.9zM275.2,57.8h0.9v0.9h-0.9zM276.9,59.8h0.9v0.9h-0.9zM296.5,94.5h0.9v0.9h-0.9zM288.6,88.2h0.9v0.9h-0.9zM285.9,70.1h0.9v0.9h-0.9zM302.3,71.6h0.9v0.9h-0.9zM287.5,88.2h0.9v0.9h-0.9zM288.6,65.4h0.9v0.9h-0.9zM288.9,65.1h0.9v0.9h-0.9zM295.4,93.2h0.9v0.9h-0.9zM287.4,84.9h0.9v0.9h-0.9zM302.4,71.7h0.9v0.9h-0.9zM283.3,63.7h0.9v0.9h-0.9zM287.7,70.1h0.9v0.9h-0.9zM285.7,63.9h0.9v0.9h-0.9zM294.9,91.9h0.9v0.9h-0.9zM302.8,94.5h0.9v0.9h-0.9zM288.5,65.0h0.9v0.9h-0.9zM275.4,58.8h0.9v0.9h-0.9zM290.0,66.3h0.9v0.9h-0.9zM287.6,86.0h0.9v0.9h-0.9zM286.9,62.0h0.9v0.9h-0.9zM304.0,93.2h0.9v0.9h-0.9zM286.0,68.1h0.9v0.9h-0.9zM307.4,82.1h0.9v0.9h-0.9zM288.2,88.0h0.9v0.9h-0.9zM287.6,82.1h0.9v0.9h-0.9zM288.3,72.2h0.9v0.9h-0.9zM301.1,95.4h0.9v0.9h-0.9zM307.5,87.0h0.9v0.9h-0.9zM275.4,58.2h0.9v0.9h-0.9zM288.6,64.5h0.9v0.9h-0.9zM305.2,91.6h0.9v0.9h-0.9zM288.8,64.0h0.9v0.9h-0.9zM299.1,69.4h0.9v0.9h-0.9zM305.7,90.5h0.9v0.9h-0.9zM290.8,66.0h0.9v0.9h-0.9zM286.9,62.1h0.9v0.9h-0.9zM286.1,67.0h0.9v0.9h-0.9zM285.6,64.5h0.9v0.9h-0.9zM285.8,69.2h0.9v0.9h-0.9zM296.6,69.2h0.9v0.9h-0.9zM291.8,67.7h0.9v0.9h-0.9zM297.8,69.6h0.9v0.9h-0.9zM287.1,62.6h0.9v0.9h-0.9zM290.5,66.6h0.9v0.9h-0.9zM301.1,71.2h0.9v0.9h-0.9zM287.5,84.3h0.9v0.9h-0.9zM307.2,78.2h0.9v0.9h-0.9zM287.6,80.7h0.9v0.9h-0.9zM286.0,68.5h0.9v0.9h-0.9zM288.3,86.5h0.9v0.9h-0.9zM303.8,93.5h0.9v0.9h-0.9zM288.8,66.4h0.9v0.9h-0.9zM299.1,70.6h0.9v0.9h-0.9zM296.2,68.3h0.9v0.9h-0.9zM287.2,79.6h0.9v0.9h-0.9zM286.9,68.8h0.9v0.9h-0.9zM305.8,78.1h0.9v0.9h-0.9zM307.6,86.3h0.9v0.9h-0.9zM285.7,69.0h0.9v0.9h-0.9zM288.6,64.5h0.9v0.9h-0.9zM286.0,68.4h0.9v0.9h-0.9zM300.7,70.1h0.9v0.9h-0.9zM305.0,78.3h0.9v0.9h-0.9zM298.1,70.2h0.9v0.9h-0.9zM286.8,67.6h0.9v0.9h-0.9zM285.7,67.2h0.9v0.9h-0.9zM288.1,80.4h0.9v0.9h-0.9zM287.3,74.7h0.9v0.9h-0.9zM290.1,69.4h0.9v0.9h-0.9zM287.8,70.5h0.9v0.9h-0.9zM294.5,90.8h0.9v0.9h-0.9zM294.5,69.2h0.9v0.9h-0.9zM305.8,91.9h0.9v0.9h-0.9zM306.9,87.2h0.9v0.9h-0.9zM289.4,70.6h0.9v0.9h-0.9zM286.6,69.4h0.9v0.9h-0.9zM290.1,89.2h0.9v0.9h-0.9zM297.4,68.8h0.9v0.9h-0.9zM293.6,91.3h0.9v0.9h-0.9zM304.1,74.3h0.9v0.9h-0.9zM288.2,64.6h0.9v0.9h-0.9zM284.3,66.6h0.9v0.9h-0.9zM305.5,91.7h0.9v0.9h-0.9zM306.5,77.9h0.9v0.9h-0.9zM294.6,68.9h0.9v0.9h-0.9zM288.2,80.3h0.9v0.9h-0.9zM289.5,67.2h0.9v0.9h-0.9zM295.3,90.8h0.9v0.9h-0.9zM306.3,83.2h0.9v0.9h-0.9zM294.3,69.2h0.9v0.9h-0.9zM288.8,68.8h0.9v0.9h-0.9zM287.9,83.1h0.9v0.9h-0.9zM301.7,93.8h0.9v0.9h-0.9zM304.6,74.8h0.9v0.9h-0.9zM297.7,70.8h0.9v0.9h-0.9zM297.2,93.5h0.9v0.9h-0.9zM304.6,74.7h0.9v0.9h-0.9zM289.2,88.1h0.9v0.9h-0.9zM300.8,94.7h0.9v0.9h-0.9zM305.3,90.1h0.9v0.9h-0.9zM305.5,89.9h0.9v0.9h-0.9zM290.1,69.0h0.9v0.9h-0.9zM303.0,74.9h0.9v0.9h-0.9zM294.5,68.5h0.9v0.9h-0.9zM298.8,94.2h0.9v0.9h-0.9zM290.4,89.0h0.9v0.9h-0.9zM306.2,76.0h0.9v0.9h-0.9zM294.9,90.4h0.9v0.9h-0.9zM287.5,78.7h0.9v0.9h-0.9zM296.9,70.0h0.9v0.9h-0.9zM299.1,94.6h0.9v0.9h-0.9zM305.1,76.9h0.9v0.9h-0.9zM288.5,86.1h0.9v0.9h-0.9zM294.6,68.3h0.9v0.9h-0.9zM289.3,71.4h0.9v0.9h-0.9zM288.0,79.7h0.9v0.9h-0.9zM299.0,71.6h0.9v0.9h-0.9zM292.4,69.2h0.9v0.9h-0.9zM303.3,75.3h0.9v0.9h-0.9zM288.8,86.8h0.9v0.9h-0.9zM289.2,71.4h0.9v0.9h-0.9zM300.1,71.1h0.9v0.9h-0.9zM299.7,94.9h0.9v0.9h-0.9zM305.8,77.0h0.9v0.9h-0.9zM288.5,86.5h0.9v0.9h-0.9zM288.8,80.8h0.9v0.9h-0.9zM301.6,73.5h0.9v0.9h-0.9zM292.8,69.4h0.9v0.9h-0.9zM294.4,90.2h0.9v0.9h-0.9zM287.4,75.7h0.9v0.9h-0.9zM303.2,92.9h0.9v0.9h-0.9zM304.6,91.1h0.9v0.9h-0.9zM301.8,92.9h0.9v0.9h-0.9zM289.8,88.2h0.9v0.9h-0.9zM288.2,66.9h0.9v0.9h-0.9zM292.7,90.0h0.9v0.9h-0.9zM291.6,89.3h0.9v0.9h-0.9zM305.4,76.6h0.9v0.9h-0.9zM298.5,93.4h0.9v0.9h-0.9zM305.5,76.7h0.9v0.9h-0.9zM287.5,75.5h0.9v0.9h-0.9zM300.6,93.7h0.9v0.9h-0.9zM298.0,93.2h0.9v0.9h-0.9zM301.5,92.7h0.9v0.9h-0.9zM305.8,83.4h0.9v0.9h-0.9zM290.4,71.7h0.9v0.9h-0.9zM287.1,66.9h0.9v0.9h-0.9zM302.1,73.5h0.9v0.9h-0.9zM295.9,92.0h0.9v0.9h-0.9zM290.3,71.8h0.9v0.9h-0.9zM299.4,93.0h0.9v0.9h-0.9zM291.7,89.3h0.9v0.9h-0.9zM287.7,69.2h0.9v0.9h-0.9zM298.1,92.4h0.9v0.9h-0.9zM300.0,93.1h0.9v0.9h-0.9zM302.2,74.4h0.9v0.9h-0.9zM306.7,84.7h0.9v0.9h-0.9zM296.9,91.6h0.9v0.9h-0.9zM296.1,92.4h0.9v0.9h-0.9zM288.3,83.6h0.9v0.9h-0.9zM290.1,72.4h0.9v0.9h-0.9zM293.8,70.1h0.9v0.9h-0.9zM290.0,72.2h0.9v0.9h-0.9zM293.4,69.7h0.9v0.9h-0.9zM297.0,71.4h0.9v0.9h-0.9zM287.2,76.9h0.9v0.9h-0.9zM298.3,92.3h0.9v0.9h-0.9zM293.3,70.0h0.9v0.9h-0.9zM304.4,77.1h0.9v0.9h-0.9zM286.8,66.7h0.9v0.9h-0.9zM290.2,72.6h0.9v0.9h-0.9zM302.3,92.9h0.9v0.9h-0.9zM289.0,85.0h0.9v0.9h-0.9zM290.4,87.9h0.9v0.9h-0.9zM305.4,82.1h0.9v0.9h-0.9zM293.1,69.6h0.9v0.9h-0.9zM305.4,82.8h0.9v0.9h-0.9zM301.4,74.2h0.9v0.9h-0.9zM304.9,89.3h0.9v0.9h-0.9zM293.0,69.5h0.9v0.9h-0.9zM305.7,84.2h0.9v0.9h-0.9zM298.7,71.8h0.9v0.9h-0.9zM288.8,79.8h0.9v0.9h-0.9zM295.0,90.2h0.9v0.9h-0.9zM300.3,93.0h0.9v0.9h-0.9zM298.0,92.1h0.9v0.9h-0.9zM302.4,75.6h0.9v0.9h-0.9zM290.2,72.8h0.9v0.9h-0.9zM305.3,83.0h0.9v0.9h-0.9zM289.6,72.9h0.9v0.9h-0.9zM302.0,74.9h0.9v0.9h-0.9zM304.8,79.0h0.9v0.9h-0.9zM299.8,73.0h0.9v0.9h-0.9zM298.1,92.1h0.9v0.9h-0.9zM304.3,90.8h0.9v0.9h-0.9zM293.3,70.5h0.9v0.9h-0.9zM302.9,75.8h0.9v0.9h-0.9zM303.3,75.8h0.9v0.9h-0.9zM302.3,75.5h0.9v0.9h-0.9zM301.2,92.1h0.9v0.9h-0.9zM287.3,78.0h0.9v0.9h-0.9zM297.9,71.7h0.9v0.9h-0.9zM288.5,74.5h0.9v0.9h-0.9zM300.7,73.1h0.9v0.9h-0.9zM294.1,89.0h0.9v0.9h-0.9zM291.3,71.1h0.9v0.9h-0.9zM303.3,91.9h0.9v0.9h-0.9zM298.0,72.1h0.9v0.9h-0.9zM300.0,72.9h0.9v0.9h-0.9zM291.1,70.7h0.9v0.9h-0.9zM295.7,70.4h0.9v0.9h-0.9zM305.4,87.1h0.9v0.9h-0.9zM298.8,72.8h0.9v0.9h-0.9zM300.3,92.1h0.9v0.9h-0.9zM303.9,90.7h0.9v0.9h-0.9zM300.2,92.1h0.9v0.9h-0.9zM289.0,81.7h0.9v0.9h-0.9zM295.2,70.4h0.9v0.9h-0.9zM299.5,73.3h0.9v0.9h-0.9zM291.0,71.6h0.9v0.9h-0.9zM289.5,81.7h0.9v0.9h-0.9zM301.2,75.2h0.9v0.9h-0.9zM289.2,83.7h0.9v0.9h-0.9zM295.1,70.3h0.9v0.9h-0.9zM295.7,70.9h0.9v0.9h-0.9zM298.2,91.2h0.9v0.9h-0.9zM288.1,77.8h0.9v0.9h-0.9zM291.2,87.6h0.9v0.9h-0.9zM288.6,75.8h0.9v0.9h-0.9zM305.6,85.8h0.9v0.9h-0.9zM298.0,90.8h0.9v0.9h-0.9zM298.6,91.2h0.9v0.9h-0.9zM291.6,72.6h0.9v0.9h-0.9zM302.0,90.7h0.9v0.9h-0.9zM293.1,73.1h0.9v0.9h-0.9zM304.0,79.4h0.9v0.9h-0.9zM289.3,75.9h0.9v0.9h-0.9zM289.2,79.2h0.9v0.9h-0.9zM305.0,83.7h0.9v0.9h-0.9zM299.8,73.9h0.9v0.9h-0.9zM290.5,87.5h0.9v0.9h-0.9zM296.2,90.2h0.9v0.9h-0.9zM288.9,75.8h0.9v0.9h-0.9zM288.2,76.0h0.9v0.9h-0.9zM304.8,88.3h0.9v0.9h-0.9zM303.7,79.8h0.9v0.9h-0.9zM294.8,72.4h0.9v0.9h-0.9zM289.1,79.1h0.9v0.9h-0.9zM300.7,74.9h0.9v0.9h-0.9zM289.0,75.5h0.9v0.9h-0.9zM289.7,83.7h0.9v0.9h-0.9zM292.6,72.2h0.9v0.9h-0.9zM303.7,77.1h0.9v0.9h-0.9zM304.4,82.9h0.9v0.9h-0.9zM299.7,74.9h0.9v0.9h-0.9zM303.7,77.4h0.9v0.9h-0.9zM297.2,90.2h0.9v0.9h-0.9zM298.9,91.5h0.9v0.9h-0.9zM290.5,80.9h0.9v0.9h-0.9zM297.3,90.2h0.9v0.9h-0.9zM303.5,90.0h0.9v0.9h-0.9zM290.5,80.9h0.9v0.9h-0.9zM289.6,82.6h0.9v0.9h-0.9zM304.1,81.9h0.9v0.9h-0.9zM289.7,75.9h0.9v0.9h-0.9zM293.4,72.4h0.9v0.9h-0.9zM298.0,90.2h0.9v0.9h-0.9zM288.4,77.2h0.9v0.9h-0.9zM305.5,85.1h0.9v0.9h-0.9zM305.2,86.6h0.9v0.9h-0.9zM303.7,78.6h0.9v0.9h-0.9zM289.7,73.9h0.9v0.9h-0.9zM305.1,84.2h0.9v0.9h-0.9zM303.5,90.6h0.9v0.9h-0.9zM301.2,75.4h0.9v0.9h-0.9zM299.6,74.0h0.9v0.9h-0.9zM289.0,76.7h0.9v0.9h-0.9z" fill="#3040e0" fill-opacity="1"/>
<path d="M291.9,87.6h0.9v0.9h-0.9zM303.5,81.7h0.9v0.9h-0.9zM303.3,81.6h0.9v0.9h-0.9zM293.2,71.9h0.9v0.9h-0.9zM294.5,88.6h0.9v0.9h-0.9zM305.1,85.2h0.9v0.9h-0.9zM299.5,74.4h0.9v0.9h-0.9zM293.4,72.3h0.9v0.9h-0.9zM305.3,85.1h0.9v0.9h-0.9zM294.7,72.4h0.9v0.9h-0.9zM291.1,73.2h0.9v0.9h-0.9zM289.3,76.7h0.9v0.9h-0.9zM289.6,74.7h0.9v0.9h-0.9zM301.8,90.1h0.9v0.9h-0.9zM293.5,72.4h0.9v0.9h-0.9zM291.3,73.4h0.9v0.9h-0.9zM295.9,72.5h0.9v0.9h-0.9zM303.4,77.0h0.9v0.9h-0.9zM302.0,89.8h0.9v0.9h-0.9zM289.8,75.4h0.9v0.9h-0.9zM303.7,81.8h0.9v0.9h-0.9zM290.0,83.4h0.9v0.9h-0.9zM297.0,73.1h0.9v0.9h-0.9zM292.9,73.9h0.9v0.9h-0.9zM302.6,89.9h0.9v0.9h-0.9zM291.7,72.0h0.9v0.9h-0.9zM301.5,90.9h0.9v0.9h-0.9zM289.2,77.7h0.9v0.9h-0.9zM293.3,72.4h0.9v0.9h-0.9zM289.3,75.3h0.9v0.9h-0.9zM291.4,73.2h0.9v0.9h-0.9zM297.8,73.7h0.9v0.9h-0.9zM303.2,90.7h0.9v0.9h-0.9zM297.9,73.9h0.9v0.9h-0.9zM290.2,74.5h0.9v0.9h-0.9zM303.0,90.1h0.9v0.9h-0.9z" fill="#3050e0" fill-opacity="1"/>
<path d="M303.0,79.2h0.9v0.9h-0.9zM303.4,82.0h0.9v0.9h-0.9zM294.2,72.3h0.9v0.9h-0.9zM290.2,74.6h0.9v0.9h-0.9zM295.8,72.6h0.9v0.9h-0.9zM294.4,88.5h0.9v0.9h-0.9zM303.2,78.3h0.9v0.9h-0.9zM289.7,75.0h0.9v0.9h-0.9zM293.6,73.9h0.9v0.9h-0.9zM290.7,74.3h0.9v0.9h-0.9zM301.0,90.5h0.9v0.9h-0.9zM303.2,81.2h0.9v0.9h-0.9zM304.9,84.3h0.9v0.9h-0.9zM294.0,73.6h0.9v0.9h-0.9zM294.2,72.2h0.9v0.9h-0.9zM290.0,84.0h0.9v0.9h-0.9zM302.3,81.8h0.9v0.9h-0.9zM302.3,81.8h0.9v0.9h-0.9zM294.5,73.0h0.9v0.9h-0.9zM290.4,83.0h0.9v0.9h-0.9zM293.1,88.3h0.9v0.9h-0.9zM289.9,79.3h0.9v0.9h-0.9zM302.2,90.1h0.9v0.9h-0.9zM293.1,88.3h0.9v0.9h-0.9zM292.4,87.7h0.9v0.9h-0.9zM291.9,73.3h0.9v0.9h-0.9zM290.8,75.7h0.9v0.9h-0.9zM293.1,74.2h0.9v0.9h-0.9zM301.5,89.7h0.9v0.9h-0.9zM290.7,81.7h0.9v0.9h-0.9zM289.8,76.7h0.9v0.9h-0.9zM303.1,80.3h0.9v0.9h-0.9zM302.3,78.4h0.9v0.9h-0.9zM289.4,77.9h0.9v0.9h-0.9z" fill="#2050e0" fill-opacity="1"/>
<path d="M290.7,83.1h0.9v0.9h-0.9zM301.9,89.0h0.9v0.9h-0.9zM296.4,73.9h0.9v0.9h-0.9zM304.0,86.8h0.9v0.9h-0.9zM296.7,73.7h0.9v0.9h-0.9zM303.7,88.1h0.9v0.9h-0.9zM303.3,89.3h0.9v0.9h-0.9zM298.9,75.2h0.9v0.9h-0.9zM290.7,82.3h0.9v0.9h-0.9zM291.6,86.8h0.9v0.9h-0.9zM298.5,89.4h0.9v0.9h-0.9zM303.7,88.0h0.9v0.9h-0.9zM304.7,86.1h0.9v0.9h-0.9zM299.3,75.4h0.9v0.9h-0.9zM290.1,77.3h0.9v0.9h-0.9zM290.0,76.8h0.9v0.9h-0.9zM303.3,88.7h0.9v0.9h-0.9zM290.4,77.5h0.9v0.9h-0.9zM302.3,79.8h0.9v0.9h-0.9zM302.6,79.6h0.9v0.9h-0.9zM290.4,77.3h0.9v0.9h-0.9zM291.5,86.4h0.9v0.9h-0.9zM298.4,74.4h0.9v0.9h-0.9zM290.7,84.5h0.9v0.9h-0.9zM290.2,77.7h0.9v0.9h-0.9zM298.1,74.6h0.9v0.9h-0.9zM302.0,89.0h0.9v0.9h-0.9zM291.0,84.3h0.9v0.9h-0.9zM291.2,84.3h0.9v0.9h-0.9zM295.4,88.9h0.9v0.9h-0.9zM303.7,88.0h0.9v0.9h-0.9zM295.8,74.4h0.9v0.9h-0.9zM297.8,89.3h0.9v0.9h-0.9zM290.5,75.2h0.9v0.9h-0.9zM290.9,79.3h0.9v0.9h-0.9zM290.7,84.2h0.9v0.9h-0.9zM291.2,82.7h0.9v0.9h-0.9zM291.0,76.8h0.9v0.9h-0.9zM297.9,89.3h0.9v0.9h-0.9zM291.0,77.4h0.9v0.9h-0.9zM290.6,84.6h0.9v0.9h-0.9zM296.0,73.1h0.9v0.9h-0.9zM301.9,79.3h0.9v0.9h-0.9zM300.5,76.3h0.9v0.9h-0.9zM290.3,77.8h0.9v0.9h-0.9zM302.4,79.2h0.9v0.9h-0.9zM302.3,79.7h0.9v0.9h-0.9zM297.0,74.0h0.9v0.9h-0.9zM296.7,75.4h0.9v0.9h-0.9zM302.2,81.1h0.9v0.9h-0.9zM293.5,75.3h0.9v0.9h-0.9zM301.0,89.5h0.9v0.9h-0.9zM300.6,90.4h0.9v0.9h-0.9zM297.8,74.4h0.9v0.9h-0.9zM300.7,90.1h0.9v0.9h-0.9zM302.6,88.7h0.9v0.9h-0.9zM291.2,76.1h0.9v0.9h-0.9zM303.8,86.4h0.9v0.9h-0.9zM291.8,85.7h0.9v0.9h-0.9zM291.2,80.7h0.9v0.9h-0.9zM296.0,74.6h0.9v0.9h-0.9zM293.9,74.8h0.9v0.9h-0.9zM291.4,86.3h0.9v0.9h-0.9zM291.9,86.1h0.9v0.9h-0.9zM290.7,83.6h0.9v0.9h-0.9zM302.5,82.6h0.9v0.9h-0.9zM295.5,74.0h0.9v0.9h-0.9zM299.4,89.1h0.9v0.9h-0.9zM303.4,87.0h0.9v0.9h-0.9zM304.7,85.3h0.9v0.9h-0.9zM300.2,89.0h0.9v0.9h-0.9zM301.4,76.9h0.9v0.9h-0.9zM292.2,86.1h0.9v0.9h-0.9zM302.0,79.8h0.9v0.9h-0.9zM291.4,84.9h0.9v0.9h-0.9zM301.8,78.4h0.9v0.9h-0.9z" fill="#2060e0" fill-opacity="1"/>
<path d="M292.2,75.6h0.9v0.9h-0.9zM292.7,76.9h0.9v0.9h-0.9zM299.3,76.3h0.9v0.9h-0.9zM294.4,76.0h0.9v0.9h-0.9zM299.8,89.6h0.9v0.9h-0.9zM291.6,77.2h0.9v0.9h-0.9zM297.4,74.9h0.9v0.9h-0.9zM294.2,74.4h0.9v0.9h-0.9zM303.6,86.6h0.9v0.9h-0.9zM292.2,77.4h0.9v0.9h-0.9zM302.1,80.8h0.9v0.9h-0.9zM291.5,82.3h0.9v0.9h-0.9zM294.1,74.8h0.9v0.9h-0.9zM296.3,75.4h0.9v0.9h-0.9zM291.4,80.7h0.9v0.9h-0.9zM303.3,86.2h0.9v0.9h-0.9zM301.4,77.6h0.9v0.9h-0.9zM296.3,75.4h0.9v0.9h-0.9zM291.5,80.4h0.9v0.9h-0.9zM292.6,76.7h0.9v0.9h-0.9zM299.9,88.7h0.9v0.9h-0.9zM299.8,76.6h0.9v0.9h-0.9zM292.9,76.8h0.9v0.9h-0.9zM301.0,79.0h0.9v0.9h-0.9zM291.4,80.9h0.9v0.9h-0.9zM301.3,82.0h0.9v0.9h-0.9zM296.8,74.5h0.9v0.9h-0.9zM294.6,87.9h0.9v0.9h-0.9zM291.8,78.0h0.9v0.9h-0.9zM302.7,87.2h0.9v0.9h-0.9zM293.3,87.2h0.9v0.9h-0.9zM303.2,86.3h0.9v0.9h-0.9zM292.4,86.4h0.9v0.9h-0.9zM292.3,85.2h0.9v0.9h-0.9zM303.0,86.7h0.9v0.9h-0.9zM292.0,79.7h0.9v0.9h-0.9zM301.3,79.5h0.9v0.9h-0.9zM299.6,76.4h0.9v0.9h-0.9zM298.8,76.1h0.9v0.9h-0.9zM303.1,83.3h0.9v0.9h-0.9zM302.5,87.6h0.9v0.9h-0.9zM298.6,88.8h0.9v0.9h-0.9zM302.7,83.2h0.9v0.9h-0.9zM294.7,75.2h0.9v0.9h-0.9zM301.6,80.6h0.9v0.9h-0.9zM294.8,75.9h0.9v0.9h-0.9zM303.2,83.2h0.9v0.9h-0.9zM293.8,87.1h0.9v0.9h-0.9zM291.7,85.0h0.9v0.9h-0.9zM303.0,87.2h0.9v0.9h-0.9zM301.8,83.0h0.9v0.9h-0.9zM299.3,77.0h0.9v0.9h-0.9zM295.2,75.7h0.9v0.9h-0.9zM295.0,87.4h0.9v0.9h-0.9zM298.3,88.8h0.9v0.9h-0.9zM301.6,78.0h0.9v0.9h-0.9zM293.5,87.3h0.9v0.9h-0.9zM292.6,86.0h0.9v0.9h-0.9zM301.3,78.4h0.9v0.9h-0.9zM298.2,88.8h0.9v0.9h-0.9zM293.2,76.9h0.9v0.9h-0.9zM295.1,75.0h0.9v0.9h-0.9zM303.5,84.7h0.9v0.9h-0.9z" fill="#2070e0" fill-opacity="1"/>
<path d="M292.3,84.3h0.9v0.9h-0.9zM294.2,75.1h0.9v0.9h-0.9zM297.9,75.7h0.9v0.9h-0.9zM292.6,80.2h0.9v0.9h-0.9zM292.0,84.1h0.9v0.9h-0.9zM296.5,75.8h0.9v0.9h-0.9zM303.3,85.7h0.9v0.9h-0.9zM292.5,85.6h0.9v0.9h-0.9zM301.9,84.3h0.9v0.9h-0.9zM301.5,78.2h0.9v0.9h-0.9zM292.9,79.2h0.9v0.9h-0.9zM292.4,80.9h0.9v0.9h-0.9zM300.9,78.2h0.9v0.9h-0.9zM297.3,88.5h0.9v0.9h-0.9zM302.6,84.9h0.9v0.9h-0.9zM298.3,76.3h0.9v0.9h-0.9zM291.6,82.6h0.9v0.9h-0.9zM301.0,79.9h0.9v0.9h-0.9zM295.9,75.7h0.9v0.9h-0.9zM292.2,85.5h0.9v0.9h-0.9zM294.4,76.3h0.9v0.9h-0.9zM299.0,88.5h0.9v0.9h-0.9zM294.4,87.5h0.9v0.9h-0.9zM299.0,88.1h0.9v0.9h-0.9zM292.8,86.0h0.9v0.9h-0.9zM301.5,78.4h0.9v0.9h-0.9zM294.4,87.5h0.9v0.9h-0.9zM303.5,83.6h0.9v0.9h-0.9z" fill="#2080e0" fill-opacity="1"/>
<path d="M300.2,87.4h0.9v0.9h-0.9zM292.4,85.8h0.9v0.9h-0.9zM292.2,78.9h0.9v0.9h-0.9zM301.5,88.4h0.9v0.9h-0.9zM299.3,88.0h0.9v0.9h-0.9zM300.6,88.4h0.9v0.9h-0.9zM298.7,88.0h0.9v0.9h-0.9zM300.8,79.0h0.9v0.9h-0.9zM299.1,87.9h0.9v0.9h-0.9zM297.0,75.7h0.9v0.9h-0.9zM294.5,87.4h0.9v0.9h-0.9zM295.9,86.8h0.9v0.9h-0.9zM303.4,84.6h0.9v0.9h-0.9zM293.4,86.9h0.9v0.9h-0.9zM293.7,76.9h0.9v0.9h-0.9zM301.1,81.9h0.9v0.9h-0.9zM301.0,82.2h0.9v0.9h-0.9zM299.2,82.6h0.9v0.9h-0.9zM300.3,87.1h0.9v0.9h-0.9zM300.7,88.2h0.9v0.9h-0.9zM295.6,87.5h0.9v0.9h-0.9zM299.2,82.7h0.9v0.9h-0.9zM292.5,81.6h0.9v0.9h-0.9zM302.1,88.2h0.9v0.9h-0.9zM302.8,85.0h0.9v0.9h-0.9zM303.2,85.6h0.9v0.9h-0.9z" fill="#2090d0" fill-opacity="1"/>
<path d="M291.7,83.5h0.9v0.9h-0.9zM301.9,85.4h0.9v0.9h-0.9zM302.3,87.2h0.9v0.9h-0.9zM303.1,85.9h0.9v0.9h-0.9zM292.4,85.1h0.9v0.9h-0.9zM301.8,85.2h0.9v0.9h-0.9zM299.0,87.6h0.9v0.9h-0.9zM300.7,79.8h0.9v0.9h-0.9zM292.5,84.9h0.9v0.9h-0.9zM292.6,78.6h0.9v0.9h-0.9zM302.3,86.7h0.9v0.9h-0.9zM300.0,87.5h0.9v0.9h-0.9zM293.0,78.6h0.9v0.9h-0.9zM292.1,78.9h0.9v0.9h-0.9zM295.7,76.5h0.9v0.9h-0.9zM302.5,84.1h0.9v0.9h-0.9zM298.9,76.8h0.9v0.9h-0.9zM302.7,85.6h0.9v0.9h-0.9zM301.6,84.2h0.9v0.9h-0.9zM300.7,83.5h0.9v0.9h-0.9zM299.2,82.7h0.9v0.9h-0.9zM298.8,87.5h0.9v0.9h-0.9zM296.0,87.0h0.9v0.9h-0.9zM301.8,85.6h0.9v0.9h-0.9z" fill="#20a0c0" fill-opacity="1"/>
<path d="M293.5,77.3h0.9v0.9h-0.9zM296.0,86.5h0.9v0.9h-0.9zM297.6,87.7h0.9v0.9h-0.9zM292.9,85.4h0.9v0.9h-0.9zM292.2,83.5h0.9v0.9h-0.9zM299.0,77.4h0.9v0.9h-0.9zM295.9,76.9h0.9v0.9h-0.9zM292.8,78.5h0.9v0.9h-0.9zM291.9,78.4h0.9v0.9h-0.9zM293.5,79.9h0.9v0.9h-0.9zM293.2,79.4h0.9v0.9h-0.9zM300.1,85.5h0.9v0.9h-0.9zM295.8,87.4h0.9v0.9h-0.9zM298.9,77.0h0.9v0.9h-0.9zM299.9,78.3h0.9v0.9h-0.9zM292.6,79.2h0.9v0.9h-0.9zM303.1,83.9h0.9v0.9h-0.9zM300.6,83.5h0.9v0.9h-0.9z" fill="#20b0c0" fill-opacity="1"/>
<path d="M300.9,84.1h0.9v0.9h-0.9zM301.5,86.0h0.9v0.9h-0.9zM301.4,85.0h0.9v0.9h-0.9zM302.8,85.3h0.9v0.9h-0.9zM300.5,79.2h0.9v0.9h-0.9zM301.8,88.1h0.9v0.9h-0.9zM293.9,82.5h0.9v0.9h-0.9zM295.0,86.9h0.9v0.9h-0.9zM302.8,85.4h0.9v0.9h-0.9zM299.8,78.3h0.9v0.9h-0.9zM295.9,76.4h0.9v0.9h-0.9zM300.0,85.6h0.9v0.9h-0.9z" fill="#20b0b0" fill-opacity="1"/>
<path d="M295.3,77.1h0.9v0.9h-0.9zM301.5,83.6h0.9v0.9h-0.9zM301.4,83.5h0.9v0.9h-0.9zM292.5,84.2h0.9v0.9h-0.9zM294.0,78.2h0.9v0.9h-0.9zM294.2,81.9h0.9v0.9h-0.9zM300.7,84.5h0.9v0.9h-0.9zM299.5,78.3h0.9v0.9h-0.9zM296.2,76.8h0.9v0.9h-0.9zM292.6,83.9h0.9v0.9h-0.9zM293.0,81.2h0.9v0.9h-0.9zM300.1,84.9h0.9v0.9h-0.9zM300.1,81.8h0.9v0.9h-0.9z" fill="#20c0b0" fill-opacity="1"/>
<path d="M296.6,87.9h0.9v0.9h-0.9zM300.4,85.1h0.9v0.9h-0.9zM300.4,84.7h0.9v0.9h-0.9zM296.7,87.9h0.9v0.9h-0.9zM296.9,87.2h0.9v0.9h-0.9zM293.9,78.0h0.9v0.9h-0.9zM298.0,78.3h0.9v0.9h-0.9zM292.6,83.4h0.9v0.9h-0.9zM300.6,81.2h0.9v0.9h-0.9zM299.4,86.0h0.9v0.9h-0.9zM292.7,82.2h0.9v0.9h-0.9zM296.5,86.1h0.9v0.9h-0.9zM299.6,85.7h0.9v0.9h-0.9zM294.2,82.3h0.9v0.9h-0.9zM294.0,77.3h0.9v0.9h-0.9z" fill="#30c0a0" fill-opacity="1"/>
<path d="M296.6,76.7h0.9v0.9h-0.9zM293.2,80.2h0.9v0.9h-0.9zM299.1,86.9h0.9v0.9h-0.9zM293.5,80.6h0.9v0.9h-0.9zM300.0,78.9h0.9v0.9h-0.9zM293.6,82.6h0.9v0.9h-0.9zM301.2,86.0h0.9v0.9h-0.9zM294.5,81.6h0.9v0.9h-0.9zM299.4,87.1h0.9v0.9h-0.9zM294.0,79.0h0.9v0.9h-0.9zM299.5,82.3h0.9v0.9h-0.9zM294.5,84.0h0.9v0.9h-0.9zM293.6,80.5h0.9v0.9h-0.9z" fill="#30c090" fill-opacity="1"/>
<path d="M293.9,79.8h0.9v0.9h-0.9zM299.2,81.4h0.9v0.9h-0.9zM299.9,79.0h0.9v0.9h-0.9zM299.6,86.4h0.9v0.9h-0.9zM293.7,79.3h0.9v0.9h-0.9zM298.7,78.2h0.9v0.9h-0.9zM296.7,77.0h0.9v0.9h-0.9zM296.3,86.9h0.9v0.9h-0.9zM298.9,79.5h0.9v0.9h-0.9zM295.3,83.1h0.9v0.9h-0.9zM300.6,80.4h0.9v0.9h-0.9zM296.2,87.6h0.9v0.9h-0.9zM294.0,78.0h0.9v0.9h-0.9zM298.6,83.6h0.9v0.9h-0.9zM293.9,83.3h0.9v0.9h-0.9zM296.3,77.4h0.9v0.9h-0.9zM298.8,81.8h0.9v0.9h-0.9zM297.3,77.1h0.9v0.9h-0.9zM294.6,83.8h0.9v0.9h-0.9z" fill="#40c080" fill-opacity="1"/>
<path d="M298.0,78.5h0.9v0.9h-0.9zM298.8,83.1h0.9v0.9h-0.9zM299.0,78.9h0.9v0.9h-0.9zM299.1,84.0h0.9v0.9h-0.9zM293.4,84.1h0.9v0.9h-0.9zM299.0,84.2h0.9v0.9h-0.9zM292.9,82.9h0.9v0.9h-0.9zM298.8,79.3h0.9v0.9h-0.9zM298.7,87.0h0.9v0.9h-0.9z" fill="#40c070" fill-opacity="1"/>
<path d="M295.6,77.6h0.9v0.9h-0.9zM295.2,83.3h0.9v0.9h-0.9zM295.3,83.3h0.9v0.9h-0.9zM296.9,87.5h0.9v0.9h-0.9zM298.9,77.9h0.9v0.9h-0.9zM294.3,77.7h0.9v0.9h-0.9zM295.6,83.4h0.9v0.9h-0.9zM298.8,84.4h0.9v0.9h-0.9zM299.2,81.2h0.9v0.9h-0.9zM299.4,83.6h0.9v0.9h-0.9zM300.6,86.3h0.9v0.9h-0.9zM293.3,80.9h0.9v0.9h-0.9zM295.6,83.7h0.9v0.9h-0.9zM298.8,78.4h0.9v0.9h-0.9zM299.2,79.5h0.9v0.9h-0.9zM297.0,86.7h0.9v0.9h-0.9zM294.1,79.9h0.9v0.9h-0.9zM295.3,83.3h0.9v0.9h-0.9zM293.8,80.8h0.9v0.9h-0.9z" fill="#40c060" fill-opacity="1"/>
<path d="M296.2,78.6h0.9v0.9h-0.9zM297.4,78.1h0.9v0.9h-0.9zM294.6,79.5h0.9v0.9h-0.9zM297.7,77.7h0.9v0.9h-0.9zM294.1,79.7h0.9v0.9h-0.9zM295.7,85.9h0.9v0.9h-0.9zM298.7,84.1h0.9v0.9h-0.9zM298.0,81.6h0.9v0.9h-0.9zM297.1,87.3h0.9v0.9h-0.9zM294.1,80.2h0.9v0.9h-0.9zM300.8,86.4h0.9v0.9h-0.9zM299.0,84.1h0.9v0.9h-0.9zM298.0,81.8h0.9v0.9h-0.9zM299.3,80.2h0.9v0.9h-0.9zM295.2,83.2h0.9v0.9h-0.9zM298.7,79.0h0.9v0.9h-0.9zM294.5,80.3h0.9v0.9h-0.9zM293.5,81.8h0.9v0.9h-0.9zM294.7,77.8h0.9v0.9h-0.9zM297.4,86.9h0.9v0.9h-0.9zM297.4,80.2h0.9v0.9h-0.9zM294.5,83.1h0.9v0.9h-0.9zM298.0,81.4h0.9v0.9h-0.9zM297.8,81.3h0.9v0.9h-0.9zM294.8,83.3h0.9v0.9h-0.9z" fill="#50c040" fill-opacity="1"/>
<path d="M298.2,82.1h0.9v0.9h-0.9zM293.7,84.7h0.9v0.9h-0.9zM294.7,82.8h0.9v0.9h-0.9zM297.1,78.8h0.9v0.9h-0.9zM298.4,84.9h0.9v0.9h-0.9zM297.1,78.5h0.9v0.9h-0.9zM297.3,78.5h0.9v0.9h-0.9zM298.7,80.1h0.9v0.9h-0.9zM298.6,84.2h0.9v0.9h-0.9zM297.2,85.9h0.9v0.9h-0.9zM299.7,80.0h0.9v0.9h-0.9zM295.9,85.6h0.9v0.9h-0.9zM296.8,86.5h0.9v0.9h-0.9zM297.1,86.2h0.9v0.9h-0.9zM295.6,85.3h0.9v0.9h-0.9zM299.0,86.1h0.9v0.9h-0.9z" fill="#70d030" fill-opacity="1"/>
<path d="M296.1,82.1h0.9v0.9h-0.9zM296.7,78.6h0.9v0.9h-0.9zM295.9,78.1h0.9v0.9h-0.9zM294.8,78.5h0.9v0.9h-0.9zM297.8,79.5h0.9v0.9h-0.9zM297.9,79.5h0.9v0.9h-0.9z" fill="#90d030" fill-opacity="1"/>
<path d="M296.9,80.5h0.9v0.9h-0.9zM295.4,82.9h0.9v0.9h-0.9zM295.3,85.4h0.9v0.9h-0.9zM297.6,83.2h0.9v0.9h-0.9zM297.6,79.5h0.9v0.9h-0.9zM293.7,85.6h0.9v0.9h-0.9zM296.2,78.4h0.9v0.9h-0.9zM298.1,84.1h0.9v0.9h-0.9z" fill="#a0d030" fill-opacity="1"/>
<path d="M297.6,85.4h0.9v0.9h-0.9zM297.6,80.4h0.9v0.9h-0.9zM297.5,81.5h0.9v0.9h-0.9zM296.6,78.8h0.9v0.9h-0.9zM296.1,85.0h0.9v0.9h-0.9zM295.9,84.1h0.9v0.9h-0.9zM297.7,82.7h0.9v0.9h-0.9zM294.8,85.5h0.9v0.9h-0.9z" fill="#b0d030" fill-opacity="1"/>
<path d="M295.1,79.6h0.9v0.9h-0.9zM295.2,86.2h0.9v0.9h-0.9zM297.5,83.7h0.9v0.9h-0.9zM295.1,81.6h0.9v0.9h-0.9zM297.4,82.7h0.9v0.9h-0.9zM297.2,79.9h0.9v0.9h-0.9zM297.5,86.0h0.9v0.9h-0.9zM297.4,83.5h0.9v0.9h-0.9zM296.8,84.6h0.9v0.9h-0.9zM294.8,86.1h0.9v0.9h-0.9zM294.5,78.9h0.9v0.9h-0.9zM297.7,79.7h0.9v0.9h-0.9zM298.7,85.9h0.9v0.9h-0.9z" fill="#c0d030" fill-opacity="1"/>
<path d="M298.0,86.1h0.9v0.9h-0.9zM297.7,84.7h0.9v0.9h-0.9zM294.2,85.4h0.9v0.9h-0.9zM295.7,81.8h0.9v0.9h-0.9zM296.3,85.3h0.9v0.9h-0.9zM296.4,84.7h0.9v0.9h-0.9zM297.0,85.1h0.9v0.9h-0.9zM298.4,80.9h0.9v0.9h-0.9zM295.6,79.8h0.9v0.9h-0.9zM295.6,78.8h0.9v0.9h-0.9zM295.6,78.8h0.9v0.9h-0.9zM297.9,80.0h0.9v0.9h-0.9zM296.1,81.9h0.9v0.9h-0.9z" fill="#e0d020" fill-opacity="1"/>
<path d="M298.0,82.2h0.9v0.9h-0.9zM297.4,85.1h0.9v0.9h-0.9zM296.9,82.0h0.9v0.9h-0.9zM296.8,84.4h0.9v0.9h-0.9zM297.8,85.9h0.9v0.9h-0.9zM296.9,82.2h0.9v0.9h-0.9zM297.1,79.9h0.9v0.9h-0.9zM295.2,85.5h0.9v0.9h-0.9zM295.4,79.1h0.9v0.9h-0.9zM294.5,85.3h0.9v0.9h-0.9z" fill="#e0a020" fill-opacity="1"/>
<path d="M297.2,82.5h0.9v0.9h-0.9zM297.9,80.3h0.9v0.9h-0.9z" fill="#e08020" fill-opacity="1"/>
<path d="M298.0,79.9h0.9v0.9h-0.9zM295.5,81.6h0.9v0.9h-0.9zM297.0,84.0h0.9v0.9h-0.9zM296.7,83.6h0.9v0.9h-0.9z" fill="#e07020" fill-opacity="1"/>
<path d="M296.0,79.2h0.9v0.9h-0.9zM297.0,81.3h0.9v0.9h-0.9zM296.6,82.7h0.9v0.9h-0.9zM296.0,80.8h0.9v0.9h-0.9z" fill="#e06020" fill-opacity="1"/>
<path d="M295.6,81.4h0.9v0.9h-0.9zM296.1,81.3h0.9v0.9h-0.9zM295.8,80.4h0.9v0.9h-0.9zM295.7,80.9h0.9v0.9h-0.9z" fill="#e05020" fill-opacity="1"/>
<path d="M295.5,80.5h0.9v0.9h-0.9z" fill="#e04020" fill-opacity="1"/>
<rect x="225.7" y="6" width="129.6" height="129" fill="none" stroke="#8c8c8c" stroke-width="1"/>
<path d="M225.7,6h-1.6 M225.7,10.78h-1.6 M225.7,15.56h-1.6 M225.7,20.33h-1.6 M225.7,25.11h-1.6 M225.7,29.89h-1.6 M225.7,34.67h-1.6 M225.7,39.44h-1.6 M225.7,44.22h-1.6 M225.7,49h-1.6 M225.7,53.78h-1.6 M225.7,58.56h-1.6 M225.7,63.33h-1.6 M225.7,68.11h-1.6 M225.7,72.89h-1.6 M225.7,77.67h-1.6 M225.7,82.44h-1.6 M225.7,87.22h-1.6 M225.7,92h-1.6 M225.7,96.78h-1.6 M225.7,101.56h-1.6 M225.7,106.33h-1.6 M225.7,111.11h-1.6 M225.7,115.89h-1.6 M225.7,120.67h-1.6 M225.7,125.44h-1.6 M225.7,130.22h-1.6 M225.7,135h-1.6" stroke="#666" stroke-width="0.8" fill="none"/>
<path d="M225.7,135v1.6 M230.5,135v1.6 M235.3,135v1.6 M240.1,135v1.6 M244.9,135v1.6 M249.7,135v1.6 M254.5,135v1.6 M259.3,135v1.6 M264.1,135v1.6 M268.9,135v1.6 M273.7,135v1.6 M278.5,135v1.6 M283.3,135v1.6 M288.1,135v1.6 M292.9,135v1.6 M297.7,135v1.6 M302.5,135v1.6 M307.3,135v1.6 M312.1,135v1.6 M316.9,135v1.6 M321.7,135v1.6 M326.5,135v1.6 M331.3,135v1.6 M336.1,135v1.6 M340.9,135v1.6 M345.7,135v1.6 M350.5,135v1.6 M355.3,135v1.6" stroke="#666" stroke-width="0.8" fill="none"/>
<rect x="240.6" y="37.5" width="40.7" height="32.1" fill="none" stroke="#333" stroke-width="1"/>
<rect x="281.3" y="60.3" width="42.3" height="43.8" fill="none" stroke="#333" stroke-width="1"/>
<text x="229.45" y="33.7" font-size="11.58" font-weight="bold" font-style="normal" fill="#000">SPM (2.0%)</text>
<text x="283.25" y="51.81" font-size="11.6" font-weight="bold" font-style="normal" fill="#000">LPM (97.4%)</text>
<text x="208.5" y="28.3" font-size="7.7" font-weight="bold">10<tspan font-size="4.77" dy="-2.31">5</tspan></text>
<text x="208.5" y="51.3" font-size="7.7" font-weight="bold">10<tspan font-size="4.77" dy="-2.31">4</tspan></text>
<text x="208.5" y="75.4" font-size="7.7" font-weight="bold">10<tspan font-size="4.77" dy="-2.31">3</tspan></text>
<text x="208.5" y="102" font-size="7.7" font-weight="bold">10<tspan font-size="4.77" dy="-2.31">2</tspan></text>
<text x="216.86" y="114.39" font-size="7.7" font-weight="bold" font-style="normal" fill="#000">0</text>
<line x1="222.7" y1="26.3" x2="225.7" y2="26.3" stroke="#444" stroke-width="0.9"/>
<line x1="222.7" y1="49.3" x2="225.7" y2="49.3" stroke="#444" stroke-width="0.9"/>
<line x1="222.7" y1="73.4" x2="225.7" y2="73.4" stroke="#444" stroke-width="0.9"/>
<line x1="222.7" y1="100" x2="225.7" y2="100" stroke="#444" stroke-width="0.9"/>
<text transform="translate(208.3,134.69) rotate(-90)" font-size="10.57" font-weight="bold" font-style="normal">MHC II</text>
<line x1="212.2" y1="152" x2="212.2" y2="130" stroke="#000" stroke-width="1.1"/>
<path d="M212.2,127.9 L213.55,130.9 L210.85,130.9 Z" fill="#000" stroke="none"/>
<line x1="212.2" y1="152" x2="237" y2="152" stroke="#000" stroke-width="1.1"/>
<path d="M239.5,152 L236.5,153.35 L236.5,150.65 Z" fill="#000" stroke="none"/>
<text x="241.2" y="154.84" font-size="10.82" font-weight="bold" font-style="normal" fill="#000">F4/80</text>
<text x="237.16" y="144.89" font-size="7.7" font-weight="bold" font-style="normal" fill="#000">0</text>
<text x="254" y="144.7" font-size="7.7" font-weight="bold">10<tspan font-size="4.77" dy="-2.31">2</tspan></text>
<text x="275.7" y="144.7" font-size="7.7" font-weight="bold">10<tspan font-size="4.77" dy="-2.31">3</tspan></text>
<text x="296.2" y="144.7" font-size="7.7" font-weight="bold">10<tspan font-size="4.77" dy="-2.31">4</tspan></text>
<text x="316.7" y="144.7" font-size="7.7" font-weight="bold">10<tspan font-size="4.77" dy="-2.31">5</tspan></text>
<text x="337.2" y="144.7" font-size="7.7" font-weight="bold">10<tspan font-size="4.77" dy="-2.31">6</tspan></text>
<line x1="190.6" y1="78" x2="190.6" y2="83.5" stroke="#222" stroke-width="1"/>
<line x1="190.6" y1="78" x2="240.6" y2="37.5" stroke="#333" stroke-width="1"/>
<line x1="190.6" y1="83.5" x2="281.3" y2="104.1" stroke="#333" stroke-width="1"/>
<line x1="302.2" y1="104.1" x2="149.6" y2="161.2" stroke="#e0924a" stroke-width="1.2"/>
<path d="M149.6,161.2 L152.33,158.5 L153.43,161.45 Z" fill="#e0924a" stroke="none"/>
<line x1="302.2" y1="104.1" x2="293.6" y2="163.4" stroke="#7abd52" stroke-width="1.2"/>
<path d="M293.6,163.4 L292.54,159.71 L295.66,160.16 Z" fill="#7abd52" stroke="none"/>
<path d="M136.3,292.6 L136.78,292.35 L137.46,292.02 L138.25,291.62 L139.08,291.17 L139.86,290.69 L140.5,290.2 L141.01,289.72 L141.46,289.25 L141.86,288.75 L142.22,288.18 L142.56,287.51 L142.9,286.7 L143.22,285.8 L143.51,284.84 L143.79,283.77 L144.05,282.56 L144.32,281.15 L144.6,279.5 L144.89,277.64 L145.19,275.61 L145.49,273.39 L145.8,270.93 L146.1,268.22 L146.4,265.2 L146.71,261.78 L147.02,257.97 L147.34,253.89 L147.64,249.69 L147.93,245.48 L148.2,241.4 L148.43,237.36 L148.64,233.24 L148.84,229.12 L149.02,225.09 L149.21,221.22 L149.4,217.6 L149.6,214.23 L149.8,211.05 L150,208.03 L150.2,205.16 L150.4,202.43 L150.6,199.8 L150.8,197.26 L151,194.8 L151.2,192.48 L151.4,190.32 L151.6,188.38 L151.8,186.7 L152,185.28 L152.2,184.11 L152.4,183.14 L152.6,182.37 L152.8,181.76 L153,181.3 L153.2,180.95 L153.4,180.73 L153.6,180.67 L153.8,180.82 L154,181.22 L154.2,181.9 L154.4,182.91 L154.61,184.23 L154.82,185.79 L155.03,187.55 L155.22,189.44 L155.4,191.4 L155.56,193.55 L155.7,195.94 L155.83,198.47 L155.96,201.02 L156.08,203.47 L156.2,205.7 L156.31,207.76 L156.41,209.75 L156.51,211.64 L156.62,213.4 L156.74,215 L156.9,216.4 L157.1,217.54 L157.32,218.44 L157.57,219.17 L157.82,219.82 L158.07,220.47 L158.3,221.2 L158.51,221.95 L158.71,222.63 L158.91,223.31 L159.11,224.05 L159.3,224.93 L159.5,226 L159.7,227.28 L159.9,228.73 L160.1,230.31 L160.3,231.98 L160.5,233.72 L160.7,235.5 L160.89,237.34 L161.08,239.29 L161.26,241.3 L161.46,243.34 L161.67,245.39 L161.9,247.4 L162.17,249.38 L162.46,251.37 L162.76,253.35 L163.08,255.33 L163.39,257.32 L163.7,259.3 L164,261.31 L164.3,263.36 L164.6,265.4 L164.9,267.41 L165.2,269.36 L165.5,271.2 L165.79,272.95 L166.08,274.63 L166.37,276.24 L166.66,277.79 L166.97,279.28 L167.3,280.7 L167.65,282.08 L168,283.41 L168.38,284.67 L168.76,285.86 L169.17,286.94 L169.6,287.9 L170.07,288.72 L170.59,289.43 L171.13,290.02 L171.66,290.54 L172.16,290.99 L172.6,291.4 L172.99,291.75 L173.36,292.01 L173.69,292.22 L173.98,292.37 L174.22,292.5 L174.4,292.6 Z" fill="#f5c690" stroke="#e49a42" stroke-width="1.1" stroke-linejoin="round"/>
<rect x="63.5" y="164.1" width="129.5" height="128.5" fill="none" stroke="#8c8c8c" stroke-width="1"/>
<path d="M63.5,292.6v1.6 M68.12,292.6v1.6 M72.75,292.6v1.6 M77.38,292.6v1.6 M82,292.6v1.6 M86.62,292.6v1.6 M91.25,292.6v1.6 M95.88,292.6v1.6 M100.5,292.6v1.6 M105.12,292.6v1.6 M109.75,292.6v1.6 M114.38,292.6v1.6 M119,292.6v1.6 M123.62,292.6v1.6 M128.25,292.6v1.6 M132.88,292.6v1.6 M137.5,292.6v1.6 M142.12,292.6v1.6 M146.75,292.6v1.6 M151.38,292.6v1.6 M156,292.6v1.6 M160.62,292.6v1.6 M165.25,292.6v1.6 M169.88,292.6v1.6 M174.5,292.6v1.6 M179.12,292.6v1.6 M183.75,292.6v1.6 M188.38,292.6v1.6 M193,292.6v1.6" stroke="#666" stroke-width="0.8" fill="none"/>
<text x="102.22" y="216.75" font-size="11.36" font-weight="bold" font-style="normal" fill="#000">ARG1+</text>
<text x="101.41" y="231.58" font-size="11.84" font-weight="bold" font-style="normal" fill="#000">(92.5%)</text>
<line x1="143.5" y1="240.2" x2="175.6" y2="240.2" stroke="#222" stroke-width="1.2"/>
<line x1="143.5" y1="237.8" x2="143.5" y2="242.6" stroke="#222" stroke-width="1.2"/>
<line x1="175.6" y1="237.8" x2="175.6" y2="242.6" stroke="#222" stroke-width="1.2"/>
<text x="61.5" y="303.6" font-size="7.7" font-weight="bold">10<tspan font-size="4.77" dy="-2.31">-1</tspan></text>
<text x="86.86" y="302.99" font-size="7.7" font-weight="bold" font-style="normal" fill="#000">0</text>
<text x="107" y="303.6" font-size="7.7" font-weight="bold">10<tspan font-size="4.77" dy="-2.31">1</tspan></text>
<text x="129" y="303.6" font-size="7.7" font-weight="bold">10<tspan font-size="4.77" dy="-2.31">2</tspan></text>
<text x="149.4" y="303.6" font-size="7.7" font-weight="bold">10<tspan font-size="4.77" dy="-2.31">3</tspan></text>
<text x="168.7" y="303.6" font-size="7.7" font-weight="bold">10<tspan font-size="4.77" dy="-2.31">4</tspan></text>
<line x1="63.5" y1="309.5" x2="88" y2="309.5" stroke="#000" stroke-width="1.1"/>
<path d="M90.5,309.5 L87.5,310.85 L87.5,308.15 Z" fill="#000" stroke="none"/>
<text x="93.74" y="312.99" font-size="10.28" font-weight="bold" font-style="normal" fill="#000">ARG1</text>
<path d="M260.1,292.6 L260.56,292.37 L261.21,292.06 L261.98,291.69 L262.79,291.26 L263.59,290.76 L264.3,290.2 L264.94,289.55 L265.57,288.81 L266.18,288 L266.77,287.16 L267.35,286.32 L267.9,285.5 L268.42,284.68 L268.91,283.84 L269.39,282.99 L269.85,282.17 L270.32,281.4 L270.8,280.7 L271.3,280.11 L271.81,279.61 L272.33,279.16 L272.84,278.71 L273.33,278.24 L273.8,277.7 L274.23,277.13 L274.64,276.57 L275.04,275.99 L275.42,275.33 L275.81,274.54 L276.2,273.6 L276.6,272.49 L277,271.25 L277.4,269.89 L277.8,268.42 L278.2,266.85 L278.6,265.2 L279.01,263.42 L279.43,261.49 L279.84,259.47 L280.25,257.4 L280.64,255.32 L281,253.3 L281.32,251.29 L281.61,249.24 L281.89,247.2 L282.15,245.19 L282.42,243.24 L282.7,241.4 L283,239.65 L283.31,237.97 L283.63,236.35 L283.94,234.8 L284.23,233.32 L284.5,231.9 L284.73,230.61 L284.94,229.45 L285.14,228.36 L285.32,227.26 L285.51,226.1 L285.7,224.8 L285.89,223.25 L286.08,221.47 L286.26,219.63 L286.46,217.87 L286.67,216.34 L286.9,215.2 L287.17,214.6 L287.48,214.44 L287.8,214.52 L288.12,214.61 L288.43,214.51 L288.7,214 L288.93,213.14 L289.14,212.11 L289.34,210.89 L289.52,209.43 L289.71,207.72 L289.9,205.7 L290.1,203.19 L290.31,200.17 L290.52,196.88 L290.73,193.58 L290.92,190.5 L291.1,187.9 L291.25,185.7 L291.39,183.69 L291.51,181.91 L291.63,180.4 L291.76,179.18 L291.9,178.3 L292.06,177.75 L292.22,177.5 L292.39,177.56 L292.57,177.91 L292.74,178.56 L292.9,179.5 L293.05,180.84 L293.2,182.59 L293.34,184.63 L293.48,186.86 L293.63,189.15 L293.8,191.4 L293.98,193.67 L294.17,196.08 L294.37,198.55 L294.57,201.02 L294.78,203.43 L295,205.7 L295.22,207.79 L295.46,209.76 L295.7,211.65 L295.94,213.54 L296.18,215.51 L296.4,217.6 L296.61,219.83 L296.81,222.14 L297.01,224.52 L297.21,226.96 L297.4,229.42 L297.6,231.9 L297.8,234.44 L298,237.07 L298.2,239.73 L298.4,242.37 L298.6,244.94 L298.8,247.4 L298.99,249.71 L299.16,251.9 L299.32,254.03 L299.51,256.13 L299.73,258.27 L300,260.5 L300.33,262.87 L300.71,265.36 L301.12,267.88 L301.56,270.34 L301.99,272.68 L302.4,274.8 L302.79,276.7 L303.18,278.46 L303.57,280.07 L303.96,281.58 L304.37,282.98 L304.8,284.3 L305.25,285.53 L305.73,286.66 L306.21,287.69 L306.71,288.63 L307.21,289.46 L307.7,290.2 L308.23,290.83 L308.8,291.35 L309.38,291.77 L309.92,292.11 L310.37,292.38 L310.7,292.6 Z" fill="#a6d98a" stroke="#66bd45" stroke-width="1.1" stroke-linejoin="round"/>
<rect x="226.5" y="163.6" width="130.3" height="129" fill="none" stroke="#8c8c8c" stroke-width="1"/>
<path d="M226.5,292.6v1.6 M231.15,292.6v1.6 M235.81,292.6v1.6 M240.46,292.6v1.6 M245.11,292.6v1.6 M249.77,292.6v1.6 M254.42,292.6v1.6 M259.07,292.6v1.6 M263.73,292.6v1.6 M268.38,292.6v1.6 M273.04,292.6v1.6 M277.69,292.6v1.6 M282.34,292.6v1.6 M287,292.6v1.6 M291.65,292.6v1.6 M296.3,292.6v1.6 M300.96,292.6v1.6 M305.61,292.6v1.6 M310.26,292.6v1.6 M314.92,292.6v1.6 M319.57,292.6v1.6 M324.23,292.6v1.6 M328.88,292.6v1.6 M333.53,292.6v1.6 M338.19,292.6v1.6 M342.84,292.6v1.6 M347.49,292.6v1.6 M352.15,292.6v1.6 M356.8,292.6v1.6" stroke="#666" stroke-width="0.8" fill="none"/>
<text x="300.84" y="211.13" font-size="11.62" font-weight="bold" font-style="normal" fill="#000">GATA6+</text>
<text x="300.72" y="226.07" font-size="11.54" font-weight="bold" font-style="normal" fill="#000">(93.1%)</text>
<line x1="276.4" y1="235.7" x2="312.5" y2="235.7" stroke="#222" stroke-width="1.2"/>
<line x1="276.4" y1="233.3" x2="276.4" y2="238.1" stroke="#222" stroke-width="1.2"/>
<line x1="312.5" y1="233.3" x2="312.5" y2="238.1" stroke="#222" stroke-width="1.2"/>
<text x="229" y="303.6" font-size="7.7" font-weight="bold">10<tspan font-size="4.77" dy="-2.31">-3</tspan></text>
<text x="254.06" y="302.99" font-size="7.7" font-weight="bold" font-style="normal" fill="#000">0</text>
<text x="271" y="303.6" font-size="7.7" font-weight="bold">10<tspan font-size="4.77" dy="-2.31">3</tspan></text>
<text x="307" y="303.6" font-size="7.7" font-weight="bold">10<tspan font-size="4.77" dy="-2.31">4</tspan></text>
<text x="337.3" y="303.6" font-size="7.7" font-weight="bold">10<tspan font-size="4.77" dy="-2.31">5</tspan></text>
<line x1="226.5" y1="308.9" x2="251" y2="308.9" stroke="#000" stroke-width="1.1"/>
<path d="M254.3,308.9 L251.3,310.25 L251.3,307.55 Z" fill="#000" stroke="none"/>
<text x="257.57" y="311.45" font-size="10.65" font-weight="bold" font-style="normal" fill="#000">GATA6</text>
<text x="1.27" y="347.53" font-size="18.53" font-weight="bold" font-style="normal" fill="#000">(B)</text>
<text x="86.92" y="358.2" font-size="15.86" font-weight="bold" font-style="normal" fill="#000">Sham</text>
<path d="M85.2,424.2h0.85v0.85h-0.85zM118.2,433.9h0.85v0.85h-0.85zM109.5,424.2h0.85v0.85h-0.85zM104.2,424.5h0.85v0.85h-0.85zM102.9,382.5h0.85v0.85h-0.85zM119.4,383.8h0.85v0.85h-0.85zM94.9,389.9h0.85v0.85h-0.85zM90.3,388.1h0.85v0.85h-0.85zM129.3,390.1h0.85v0.85h-0.85zM132.7,395.0h0.85v0.85h-0.85zM129.8,436.3h0.85v0.85h-0.85zM140.4,393.2h0.85v0.85h-0.85zM145.6,403.6h0.85v0.85h-0.85zM134.6,428.6h0.85v0.85h-0.85zM145.0,398.1h0.85v0.85h-0.85zM144.3,414.9h0.85v0.85h-0.85zM101.2,373.0h0.85v0.85h-0.85zM95.2,385.3h0.85v0.85h-0.85zM108.1,388.1h0.85v0.85h-0.85zM99.5,392.2h0.85v0.85h-0.85zM122.2,429.8h0.85v0.85h-0.85zM99.4,388.6h0.85v0.85h-0.85zM108.5,420.7h0.85v0.85h-0.85zM96.4,394.8h0.85v0.85h-0.85zM109.7,414.0h0.85v0.85h-0.85zM142.2,423.5h0.85v0.85h-0.85zM105.5,413.9h0.85v0.85h-0.85zM97.7,418.9h0.85v0.85h-0.85zM104.6,398.8h0.85v0.85h-0.85zM102.2,396.5h0.85v0.85h-0.85zM103.1,415.9h0.85v0.85h-0.85zM106.6,399.8h0.85v0.85h-0.85zM103.4,407.4h0.85v0.85h-0.85zM124.2,391.8h0.85v0.85h-0.85zM117.8,429.1h0.85v0.85h-0.85zM110.7,381.1h0.85v0.85h-0.85zM102.2,396.6h0.85v0.85h-0.85zM127.2,433.6h0.85v0.85h-0.85zM141.3,416.7h0.85v0.85h-0.85zM99.5,420.6h0.85v0.85h-0.85zM95.7,405.1h0.85v0.85h-0.85zM99.0,384.6h0.85v0.85h-0.85zM107.1,417.1h0.85v0.85h-0.85z" fill="#5060e0" fill-opacity="0.55"/>
<path d="M110.0,408.9h0.85v0.85h-0.85zM136.0,396.7h0.85v0.85h-0.85zM102.1,406.8h0.85v0.85h-0.85zM102.9,378.6h0.85v0.85h-0.85zM101.0,404.5h0.85v0.85h-0.85zM141.4,419.0h0.85v0.85h-0.85zM114.1,383.4h0.85v0.85h-0.85zM128.6,432.0h0.85v0.85h-0.85zM113.2,422.7h0.85v0.85h-0.85zM120.9,391.3h0.85v0.85h-0.85zM136.1,423.7h0.85v0.85h-0.85zM111.8,403.2h0.85v0.85h-0.85zM121.5,389.9h0.85v0.85h-0.85zM109.8,397.2h0.85v0.85h-0.85zM135.3,398.6h0.85v0.85h-0.85zM103.8,393.5h0.85v0.85h-0.85zM98.7,383.3h0.85v0.85h-0.85zM98.2,405.2h0.85v0.85h-0.85zM136.5,425.1h0.85v0.85h-0.85zM106.2,380.3h0.85v0.85h-0.85zM108.5,412.9h0.85v0.85h-0.85zM104.6,418.2h0.85v0.85h-0.85zM123.9,427.0h0.85v0.85h-0.85zM108.7,377.9h0.85v0.85h-0.85zM139.0,423.0h0.85v0.85h-0.85zM106.7,411.8h0.85v0.85h-0.85zM131.6,426.6h0.85v0.85h-0.85zM110.7,391.7h0.85v0.85h-0.85zM127.1,429.2h0.85v0.85h-0.85zM130.7,429.8h0.85v0.85h-0.85zM113.2,415.2h0.85v0.85h-0.85zM122.3,392.2h0.85v0.85h-0.85zM141.2,412.3h0.85v0.85h-0.85zM115.5,385.2h0.85v0.85h-0.85zM112.3,389.0h0.85v0.85h-0.85zM101.4,379.8h0.85v0.85h-0.85zM100.7,378.3h0.85v0.85h-0.85zM114.7,394.9h0.85v0.85h-0.85zM99.6,380.8h0.85v0.85h-0.85zM116.0,395.0h0.85v0.85h-0.85zM108.0,395.2h0.85v0.85h-0.85zM113.2,391.9h0.85v0.85h-0.85zM110.6,395.0h0.85v0.85h-0.85zM107.6,380.5h0.85v0.85h-0.85z" fill="#5050e0" fill-opacity="0.55"/>
<path d="M104.0,387.1h0.85v0.85h-0.85zM138.2,400.0h0.85v0.85h-0.85zM113.0,386.0h0.85v0.85h-0.85zM106.6,390.9h0.85v0.85h-0.85zM112.5,393.9h0.85v0.85h-0.85zM105.3,386.5h0.85v0.85h-0.85zM125.2,427.7h0.85v0.85h-0.85zM130.3,429.5h0.85v0.85h-0.85zM113.9,419.6h0.85v0.85h-0.85zM122.0,395.8h0.85v0.85h-0.85zM126.8,426.0h0.85v0.85h-0.85zM129.8,397.3h0.85v0.85h-0.85zM108.4,379.6h0.85v0.85h-0.85zM111.5,387.3h0.85v0.85h-0.85zM139.1,402.6h0.85v0.85h-0.85zM113.1,412.8h0.85v0.85h-0.85zM114.0,418.5h0.85v0.85h-0.85zM128.2,428.8h0.85v0.85h-0.85zM126.0,425.8h0.85v0.85h-0.85zM117.1,426.6h0.85v0.85h-0.85zM113.1,386.3h0.85v0.85h-0.85zM140.7,421.1h0.85v0.85h-0.85zM112.7,389.5h0.85v0.85h-0.85zM116.9,401.9h0.85v0.85h-0.85zM136.1,399.5h0.85v0.85h-0.85zM106.5,393.6h0.85v0.85h-0.85zM115.7,422.2h0.85v0.85h-0.85zM105.5,390.1h0.85v0.85h-0.85zM104.3,387.9h0.85v0.85h-0.85zM129.6,397.1h0.85v0.85h-0.85zM115.3,415.4h0.85v0.85h-0.85zM115.9,398.4h0.85v0.85h-0.85zM140.6,405.6h0.85v0.85h-0.85zM140.4,411.6h0.85v0.85h-0.85zM104.3,387.9h0.85v0.85h-0.85zM104.4,392.0h0.85v0.85h-0.85zM113.5,420.2h0.85v0.85h-0.85zM131.5,425.7h0.85v0.85h-0.85zM115.8,397.0h0.85v0.85h-0.85zM129.6,427.6h0.85v0.85h-0.85zM118.7,401.0h0.85v0.85h-0.85zM116.8,398.1h0.85v0.85h-0.85zM122.9,396.5h0.85v0.85h-0.85zM138.9,402.8h0.85v0.85h-0.85zM120.0,426.5h0.85v0.85h-0.85zM121.0,397.0h0.85v0.85h-0.85zM116.3,419.2h0.85v0.85h-0.85zM114.6,420.0h0.85v0.85h-0.85zM118.3,425.1h0.85v0.85h-0.85zM117.2,420.4h0.85v0.85h-0.85zM117.2,398.1h0.85v0.85h-0.85zM138.0,421.2h0.85v0.85h-0.85zM105.2,389.4h0.85v0.85h-0.85zM119.6,426.4h0.85v0.85h-0.85zM138.3,402.7h0.85v0.85h-0.85zM117.1,397.4h0.85v0.85h-0.85zM113.1,409.9h0.85v0.85h-0.85zM113.3,404.0h0.85v0.85h-0.85zM139.4,404.3h0.85v0.85h-0.85zM139.6,407.3h0.85v0.85h-0.85zM114.8,414.1h0.85v0.85h-0.85zM136.9,420.2h0.85v0.85h-0.85zM112.5,409.2h0.85v0.85h-0.85zM139.5,409.5h0.85v0.85h-0.85zM126.7,397.4h0.85v0.85h-0.85zM126.5,397.8h0.85v0.85h-0.85zM116.4,410.4h0.85v0.85h-0.85zM116.1,414.0h0.85v0.85h-0.85zM121.7,399.4h0.85v0.85h-0.85zM122.7,397.6h0.85v0.85h-0.85zM124.9,397.5h0.85v0.85h-0.85zM119.5,398.2h0.85v0.85h-0.85zM131.1,399.2h0.85v0.85h-0.85zM138.8,406.1h0.85v0.85h-0.85zM120.9,398.4h0.85v0.85h-0.85zM134.3,423.7h0.85v0.85h-0.85zM118.1,399.8h0.85v0.85h-0.85zM116.3,403.5h0.85v0.85h-0.85zM136.8,419.5h0.85v0.85h-0.85zM138.3,407.9h0.85v0.85h-0.85zM123.0,399.3h0.85v0.85h-0.85zM119.1,402.4h0.85v0.85h-0.85zM119.3,404.1h0.85v0.85h-0.85zM127.3,398.1h0.85v0.85h-0.85zM116.1,409.4h0.85v0.85h-0.85zM115.7,411.6h0.85v0.85h-0.85zM120.1,401.3h0.85v0.85h-0.85zM120.5,402.9h0.85v0.85h-0.85zM138.9,407.2h0.85v0.85h-0.85zM136.8,411.0h0.85v0.85h-0.85zM131.6,424.4h0.85v0.85h-0.85zM132.8,423.5h0.85v0.85h-0.85zM123.1,400.2h0.85v0.85h-0.85zM116.9,412.8h0.85v0.85h-0.85zM136.3,410.6h0.85v0.85h-0.85zM137.9,411.8h0.85v0.85h-0.85zM125.8,398.5h0.85v0.85h-0.85zM111.8,406.4h0.85v0.85h-0.85zM121.6,402.5h0.85v0.85h-0.85zM111.9,407.4h0.85v0.85h-0.85zM121.7,401.6h0.85v0.85h-0.85zM128.2,398.4h0.85v0.85h-0.85zM120.3,425.2h0.85v0.85h-0.85zM112.3,406.0h0.85v0.85h-0.85zM113.1,407.5h0.85v0.85h-0.85zM117.8,410.8h0.85v0.85h-0.85zM112.5,407.1h0.85v0.85h-0.85zM118.0,406.1h0.85v0.85h-0.85zM136.5,417.9h0.85v0.85h-0.85zM138.4,411.5h0.85v0.85h-0.85zM128.9,424.1h0.85v0.85h-0.85zM136.6,409.7h0.85v0.85h-0.85zM118.3,405.6h0.85v0.85h-0.85zM122.3,402.4h0.85v0.85h-0.85zM136.9,406.9h0.85v0.85h-0.85zM138.7,411.7h0.85v0.85h-0.85zM135.4,420.4h0.85v0.85h-0.85zM121.1,425.1h0.85v0.85h-0.85zM135.6,420.2h0.85v0.85h-0.85zM134.0,421.2h0.85v0.85h-0.85zM117.6,406.0h0.85v0.85h-0.85zM136.7,412.1h0.85v0.85h-0.85zM136.2,403.9h0.85v0.85h-0.85zM119.2,405.2h0.85v0.85h-0.85zM133.6,421.6h0.85v0.85h-0.85zM132.0,423.3h0.85v0.85h-0.85zM135.7,403.9h0.85v0.85h-0.85zM126.1,399.7h0.85v0.85h-0.85zM136.2,407.3h0.85v0.85h-0.85zM114.8,405.4h0.85v0.85h-0.85zM125.5,400.4h0.85v0.85h-0.85zM114.3,405.7h0.85v0.85h-0.85z" fill="#4050e0" fill-opacity="0.55"/>
<path d="M135.8,406.8h0.85v0.85h-0.85zM114.8,405.8h0.85v0.85h-0.85zM114.6,406.7h0.85v0.85h-0.85zM117.7,410.0h0.85v0.85h-0.85zM136.1,406.8h0.85v0.85h-0.85zM126.6,401.2h0.85v0.85h-0.85zM135.1,406.0h0.85v0.85h-0.85zM128.9,401.0h0.85v0.85h-0.85zM124.2,401.3h0.85v0.85h-0.85zM118.5,417.4h0.85v0.85h-0.85zM135.9,414.6h0.85v0.85h-0.85zM117.7,414.8h0.85v0.85h-0.85zM117.9,415.1h0.85v0.85h-0.85zM128.3,401.0h0.85v0.85h-0.85zM137.8,405.4h0.85v0.85h-0.85zM132.8,400.9h0.85v0.85h-0.85zM116.4,408.4h0.85v0.85h-0.85zM118.6,407.5h0.85v0.85h-0.85zM119.5,423.5h0.85v0.85h-0.85zM118.3,407.8h0.85v0.85h-0.85zM114.4,407.0h0.85v0.85h-0.85zM121.2,423.8h0.85v0.85h-0.85zM114.5,407.7h0.85v0.85h-0.85zM117.7,407.5h0.85v0.85h-0.85zM121.2,424.1h0.85v0.85h-0.85zM135.8,414.4h0.85v0.85h-0.85zM127.9,399.9h0.85v0.85h-0.85zM128.8,401.3h0.85v0.85h-0.85zM132.8,400.9h0.85v0.85h-0.85zM119.5,422.2h0.85v0.85h-0.85zM129.6,423.1h0.85v0.85h-0.85zM135.3,418.3h0.85v0.85h-0.85zM135.6,414.1h0.85v0.85h-0.85zM116.8,405.6h0.85v0.85h-0.85zM136.5,413.8h0.85v0.85h-0.85zM118.1,412.5h0.85v0.85h-0.85zM131.6,400.8h0.85v0.85h-0.85zM119.1,409.0h0.85v0.85h-0.85zM116.6,406.2h0.85v0.85h-0.85zM134.5,401.9h0.85v0.85h-0.85zM136.5,413.5h0.85v0.85h-0.85zM118.7,415.9h0.85v0.85h-0.85zM116.6,405.8h0.85v0.85h-0.85zM135.1,404.5h0.85v0.85h-0.85zM119.5,420.6h0.85v0.85h-0.85zM121.8,423.4h0.85v0.85h-0.85zM131.4,423.2h0.85v0.85h-0.85zM126.3,401.4h0.85v0.85h-0.85zM132.4,420.0h0.85v0.85h-0.85zM122.2,423.6h0.85v0.85h-0.85zM134.6,417.3h0.85v0.85h-0.85zM133.2,421.0h0.85v0.85h-0.85zM123.0,423.0h0.85v0.85h-0.85zM119.8,408.0h0.85v0.85h-0.85zM121.8,405.7h0.85v0.85h-0.85zM135.2,417.0h0.85v0.85h-0.85zM132.2,420.4h0.85v0.85h-0.85zM134.9,417.3h0.85v0.85h-0.85zM135.8,411.3h0.85v0.85h-0.85zM118.5,412.5h0.85v0.85h-0.85zM123.5,403.1h0.85v0.85h-0.85zM123.3,403.3h0.85v0.85h-0.85zM132.6,401.5h0.85v0.85h-0.85zM133.4,419.2h0.85v0.85h-0.85zM130.2,401.4h0.85v0.85h-0.85zM126.9,423.2h0.85v0.85h-0.85zM134.5,418.0h0.85v0.85h-0.85zM124.7,422.6h0.85v0.85h-0.85zM134.6,405.7h0.85v0.85h-0.85zM132.6,421.2h0.85v0.85h-0.85zM120.5,418.6h0.85v0.85h-0.85zM119.8,412.6h0.85v0.85h-0.85zM120.4,420.5h0.85v0.85h-0.85zM132.2,418.9h0.85v0.85h-0.85zM119.8,408.8h0.85v0.85h-0.85zM133.6,402.6h0.85v0.85h-0.85zM120.1,420.4h0.85v0.85h-0.85zM133.5,402.4h0.85v0.85h-0.85zM119.8,418.0h0.85v0.85h-0.85zM121.2,422.1h0.85v0.85h-0.85z" fill="#4050e0" fill-opacity="1"/>
<path d="M121.5,422.4h0.85v0.85h-0.85zM121.4,421.8h0.85v0.85h-0.85zM129.0,422.9h0.85v0.85h-0.85zM119.9,417.7h0.85v0.85h-0.85zM134.3,419.0h0.85v0.85h-0.85zM122.5,422.5h0.85v0.85h-0.85zM123.8,422.3h0.85v0.85h-0.85zM120.3,416.8h0.85v0.85h-0.85zM120.0,408.4h0.85v0.85h-0.85zM120.8,420.4h0.85v0.85h-0.85zM120.3,420.6h0.85v0.85h-0.85zM121.2,422.6h0.85v0.85h-0.85zM124.6,421.5h0.85v0.85h-0.85zM120.1,416.6h0.85v0.85h-0.85zM120.0,413.4h0.85v0.85h-0.85zM134.1,408.9h0.85v0.85h-0.85zM133.7,408.1h0.85v0.85h-0.85zM120.2,412.7h0.85v0.85h-0.85zM121.1,422.6h0.85v0.85h-0.85zM123.2,404.5h0.85v0.85h-0.85zM125.3,421.5h0.85v0.85h-0.85zM125.2,421.6h0.85v0.85h-0.85zM120.7,417.8h0.85v0.85h-0.85zM121.1,418.3h0.85v0.85h-0.85zM121.2,421.0h0.85v0.85h-0.85zM134.0,403.3h0.85v0.85h-0.85zM134.6,415.8h0.85v0.85h-0.85zM130.6,422.3h0.85v0.85h-0.85zM134.8,415.3h0.85v0.85h-0.85zM132.4,402.4h0.85v0.85h-0.85zM134.6,415.5h0.85v0.85h-0.85zM120.6,412.1h0.85v0.85h-0.85zM123.2,405.3h0.85v0.85h-0.85zM129.8,422.4h0.85v0.85h-0.85zM123.7,405.0h0.85v0.85h-0.85zM129.0,402.5h0.85v0.85h-0.85zM132.0,402.6h0.85v0.85h-0.85zM123.7,405.2h0.85v0.85h-0.85zM126.4,402.6h0.85v0.85h-0.85zM122.0,418.8h0.85v0.85h-0.85zM119.9,413.8h0.85v0.85h-0.85zM130.9,420.9h0.85v0.85h-0.85zM122.9,405.7h0.85v0.85h-0.85zM131.2,418.8h0.85v0.85h-0.85zM133.3,410.0h0.85v0.85h-0.85zM133.8,404.9h0.85v0.85h-0.85zM133.6,410.3h0.85v0.85h-0.85zM132.5,418.2h0.85v0.85h-0.85zM130.7,419.8h0.85v0.85h-0.85zM120.8,410.2h0.85v0.85h-0.85zM122.8,421.5h0.85v0.85h-0.85zM134.3,416.1h0.85v0.85h-0.85zM131.8,402.7h0.85v0.85h-0.85zM127.4,422.5h0.85v0.85h-0.85zM131.5,402.7h0.85v0.85h-0.85zM122.5,419.2h0.85v0.85h-0.85zM134.5,415.3h0.85v0.85h-0.85zM119.8,414.8h0.85v0.85h-0.85zM126.3,421.7h0.85v0.85h-0.85zM130.6,402.6h0.85v0.85h-0.85zM127.0,402.4h0.85v0.85h-0.85zM132.1,403.3h0.85v0.85h-0.85zM122.8,418.7h0.85v0.85h-0.85zM121.4,407.7h0.85v0.85h-0.85zM133.4,404.1h0.85v0.85h-0.85zM132.7,403.9h0.85v0.85h-0.85zM127.3,402.8h0.85v0.85h-0.85zM133.1,409.9h0.85v0.85h-0.85zM122.9,421.2h0.85v0.85h-0.85zM126.7,403.6h0.85v0.85h-0.85zM126.0,421.4h0.85v0.85h-0.85zM133.5,407.9h0.85v0.85h-0.85zM121.4,408.7h0.85v0.85h-0.85zM129.5,421.6h0.85v0.85h-0.85zM123.2,406.1h0.85v0.85h-0.85zM119.9,415.1h0.85v0.85h-0.85zM119.9,415.0h0.85v0.85h-0.85zM130.5,419.6h0.85v0.85h-0.85zM132.3,403.5h0.85v0.85h-0.85zM121.1,416.8h0.85v0.85h-0.85zM134.3,413.4h0.85v0.85h-0.85zM120.6,411.1h0.85v0.85h-0.85zM134.5,412.4h0.85v0.85h-0.85zM120.3,414.6h0.85v0.85h-0.85zM128.3,403.2h0.85v0.85h-0.85zM124.1,404.6h0.85v0.85h-0.85zM133.2,407.6h0.85v0.85h-0.85zM129.5,421.4h0.85v0.85h-0.85zM125.0,403.7h0.85v0.85h-0.85zM121.6,408.5h0.85v0.85h-0.85zM123.1,418.3h0.85v0.85h-0.85zM130.0,419.4h0.85v0.85h-0.85zM129.7,420.8h0.85v0.85h-0.85zM123.8,418.9h0.85v0.85h-0.85zM124.7,403.9h0.85v0.85h-0.85zM127.9,422.1h0.85v0.85h-0.85zM124.9,420.4h0.85v0.85h-0.85zM121.2,411.1h0.85v0.85h-0.85zM123.9,418.5h0.85v0.85h-0.85zM133.5,411.6h0.85v0.85h-0.85zM133.3,416.2h0.85v0.85h-0.85zM132.6,417.1h0.85v0.85h-0.85zM121.1,415.4h0.85v0.85h-0.85zM132.1,405.5h0.85v0.85h-0.85zM123.3,406.5h0.85v0.85h-0.85zM132.2,404.9h0.85v0.85h-0.85zM121.4,414.2h0.85v0.85h-0.85zM130.5,403.6h0.85v0.85h-0.85zM133.1,410.5h0.85v0.85h-0.85zM129.3,419.5h0.85v0.85h-0.85zM121.7,412.1h0.85v0.85h-0.85zM126.9,421.7h0.85v0.85h-0.85zM126.7,421.3h0.85v0.85h-0.85zM131.5,404.7h0.85v0.85h-0.85zM128.7,420.9h0.85v0.85h-0.85zM131.2,404.7h0.85v0.85h-0.85zM131.7,405.2h0.85v0.85h-0.85zM125.3,404.5h0.85v0.85h-0.85zM121.3,416.2h0.85v0.85h-0.85zM126.8,404.3h0.85v0.85h-0.85zM128.3,403.8h0.85v0.85h-0.85zM129.1,419.9h0.85v0.85h-0.85zM129.1,419.8h0.85v0.85h-0.85zM122.0,416.8h0.85v0.85h-0.85zM121.8,409.8h0.85v0.85h-0.85zM127.1,421.1h0.85v0.85h-0.85zM122.0,409.7h0.85v0.85h-0.85zM122.2,409.9h0.85v0.85h-0.85zM133.8,413.2h0.85v0.85h-0.85zM126.7,404.3h0.85v0.85h-0.85zM127.5,404.3h0.85v0.85h-0.85zM126.7,404.4h0.85v0.85h-0.85zM121.6,414.6h0.85v0.85h-0.85zM122.1,409.0h0.85v0.85h-0.85zM128.5,404.6h0.85v0.85h-0.85zM121.8,413.3h0.85v0.85h-0.85zM124.5,405.6h0.85v0.85h-0.85zM128.9,420.1h0.85v0.85h-0.85zM132.9,410.1h0.85v0.85h-0.85zM131.6,406.7h0.85v0.85h-0.85zM122.3,409.6h0.85v0.85h-0.85zM126.1,420.6h0.85v0.85h-0.85zM130.9,404.7h0.85v0.85h-0.85zM131.8,405.9h0.85v0.85h-0.85zM130.4,404.2h0.85v0.85h-0.85zM123.7,407.0h0.85v0.85h-0.85zM131.8,406.1h0.85v0.85h-0.85zM122.5,410.1h0.85v0.85h-0.85zM122.3,410.9h0.85v0.85h-0.85zM129.1,404.5h0.85v0.85h-0.85zM128.4,419.5h0.85v0.85h-0.85zM128.7,420.2h0.85v0.85h-0.85zM127.1,420.5h0.85v0.85h-0.85zM122.1,413.3h0.85v0.85h-0.85zM122.8,408.1h0.85v0.85h-0.85zM123.4,410.0h0.85v0.85h-0.85zM123.0,408.6h0.85v0.85h-0.85zM126.9,404.4h0.85v0.85h-0.85zM124.7,418.5h0.85v0.85h-0.85zM122.4,409.1h0.85v0.85h-0.85zM125.3,420.1h0.85v0.85h-0.85zM127.6,420.4h0.85v0.85h-0.85zM128.7,404.9h0.85v0.85h-0.85z" fill="#3040e0" fill-opacity="1"/>
<path d="M124.4,406.8h0.85v0.85h-0.85zM125.8,420.3h0.85v0.85h-0.85zM123.2,413.0h0.85v0.85h-0.85zM123.2,415.2h0.85v0.85h-0.85zM128.2,420.1h0.85v0.85h-0.85zM124.1,412.1h0.85v0.85h-0.85zM126.1,405.3h0.85v0.85h-0.85zM122.9,415.3h0.85v0.85h-0.85zM123.7,409.4h0.85v0.85h-0.85zM123.6,413.1h0.85v0.85h-0.85zM133.1,415.2h0.85v0.85h-0.85z" fill="#3050e0" fill-opacity="1"/>
<path d="M122.5,415.7h0.85v0.85h-0.85zM122.4,413.6h0.85v0.85h-0.85zM132.9,415.0h0.85v0.85h-0.85zM131.1,406.2h0.85v0.85h-0.85zM132.3,415.8h0.85v0.85h-0.85zM122.8,411.9h0.85v0.85h-0.85zM123.2,415.3h0.85v0.85h-0.85zM130.9,416.7h0.85v0.85h-0.85zM124.6,407.2h0.85v0.85h-0.85zM131.0,406.7h0.85v0.85h-0.85zM127.4,406.7h0.85v0.85h-0.85zM124.3,407.0h0.85v0.85h-0.85zM125.4,408.1h0.85v0.85h-0.85zM131.9,408.6h0.85v0.85h-0.85zM125.0,418.4h0.85v0.85h-0.85zM124.9,408.2h0.85v0.85h-0.85zM133.0,411.7h0.85v0.85h-0.85zM124.9,406.4h0.85v0.85h-0.85zM122.5,414.5h0.85v0.85h-0.85z" fill="#2050e0" fill-opacity="1"/>
<path d="M132.1,408.7h0.85v0.85h-0.85zM126.6,408.4h0.85v0.85h-0.85zM125.7,404.9h0.85v0.85h-0.85zM123.1,414.4h0.85v0.85h-0.85zM129.5,405.6h0.85v0.85h-0.85zM123.7,408.3h0.85v0.85h-0.85zM123.8,415.5h0.85v0.85h-0.85zM130.1,417.3h0.85v0.85h-0.85zM126.4,407.3h0.85v0.85h-0.85zM123.0,411.1h0.85v0.85h-0.85zM124.5,411.9h0.85v0.85h-0.85zM123.8,412.4h0.85v0.85h-0.85zM125.3,406.2h0.85v0.85h-0.85zM129.5,406.0h0.85v0.85h-0.85zM123.5,414.0h0.85v0.85h-0.85zM124.3,417.1h0.85v0.85h-0.85zM123.8,414.9h0.85v0.85h-0.85zM128.6,405.5h0.85v0.85h-0.85zM131.6,415.9h0.85v0.85h-0.85zM123.5,413.9h0.85v0.85h-0.85zM126.5,407.3h0.85v0.85h-0.85zM126.2,419.8h0.85v0.85h-0.85zM128.1,406.3h0.85v0.85h-0.85zM126.8,406.0h0.85v0.85h-0.85zM124.1,409.4h0.85v0.85h-0.85zM131.8,408.8h0.85v0.85h-0.85zM124.2,408.0h0.85v0.85h-0.85zM124.0,410.4h0.85v0.85h-0.85zM125.8,409.8h0.85v0.85h-0.85zM123.7,410.6h0.85v0.85h-0.85zM125.2,406.6h0.85v0.85h-0.85zM126.5,405.4h0.85v0.85h-0.85zM126.8,419.5h0.85v0.85h-0.85zM124.5,408.9h0.85v0.85h-0.85zM129.6,406.3h0.85v0.85h-0.85zM126.5,405.8h0.85v0.85h-0.85zM124.3,408.7h0.85v0.85h-0.85zM127.8,419.6h0.85v0.85h-0.85zM130.6,407.7h0.85v0.85h-0.85zM124.9,410.2h0.85v0.85h-0.85zM129.4,405.6h0.85v0.85h-0.85z" fill="#2060e0" fill-opacity="1"/>
<path d="M130.2,406.8h0.85v0.85h-0.85zM126.2,410.3h0.85v0.85h-0.85zM124.1,410.9h0.85v0.85h-0.85zM123.8,414.5h0.85v0.85h-0.85zM127.7,419.0h0.85v0.85h-0.85zM123.9,416.6h0.85v0.85h-0.85zM132.6,411.6h0.85v0.85h-0.85zM128.5,405.9h0.85v0.85h-0.85zM127.5,418.5h0.85v0.85h-0.85zM126.0,412.1h0.85v0.85h-0.85zM126.8,407.0h0.85v0.85h-0.85zM125.6,418.2h0.85v0.85h-0.85zM127.4,418.9h0.85v0.85h-0.85zM132.3,410.2h0.85v0.85h-0.85zM125.5,418.3h0.85v0.85h-0.85zM132.1,415.0h0.85v0.85h-0.85zM125.8,411.7h0.85v0.85h-0.85zM127.3,408.4h0.85v0.85h-0.85zM130.7,407.3h0.85v0.85h-0.85zM125.3,417.8h0.85v0.85h-0.85zM131.3,408.0h0.85v0.85h-0.85zM131.8,409.4h0.85v0.85h-0.85zM125.3,409.1h0.85v0.85h-0.85zM130.4,408.1h0.85v0.85h-0.85zM126.4,418.7h0.85v0.85h-0.85zM130.8,407.5h0.85v0.85h-0.85zM124.3,413.9h0.85v0.85h-0.85zM127.8,419.3h0.85v0.85h-0.85z" fill="#2070e0" fill-opacity="1"/>
<path d="M130.7,416.3h0.85v0.85h-0.85zM126.8,417.6h0.85v0.85h-0.85zM123.8,416.6h0.85v0.85h-0.85zM125.4,413.7h0.85v0.85h-0.85zM126.9,407.3h0.85v0.85h-0.85zM124.8,409.9h0.85v0.85h-0.85zM129.2,406.3h0.85v0.85h-0.85zM123.6,411.2h0.85v0.85h-0.85zM124.6,409.3h0.85v0.85h-0.85zM129.5,407.4h0.85v0.85h-0.85zM132.7,412.9h0.85v0.85h-0.85zM124.6,413.4h0.85v0.85h-0.85zM123.8,416.0h0.85v0.85h-0.85zM125.0,415.1h0.85v0.85h-0.85zM127.2,407.3h0.85v0.85h-0.85zM125.7,416.7h0.85v0.85h-0.85zM124.9,413.3h0.85v0.85h-0.85zM130.6,416.3h0.85v0.85h-0.85zM129.2,405.9h0.85v0.85h-0.85zM126.7,410.0h0.85v0.85h-0.85zM129.7,416.0h0.85v0.85h-0.85zM126.8,410.3h0.85v0.85h-0.85zM126.3,411.4h0.85v0.85h-0.85z" fill="#2080e0" fill-opacity="1"/>
<path d="M126.3,411.1h0.85v0.85h-0.85zM129.0,406.5h0.85v0.85h-0.85zM129.7,407.8h0.85v0.85h-0.85zM129.7,408.5h0.85v0.85h-0.85zM127.9,408.4h0.85v0.85h-0.85zM131.1,415.9h0.85v0.85h-0.85zM128.7,406.6h0.85v0.85h-0.85zM124.8,409.1h0.85v0.85h-0.85z" fill="#2090d0" fill-opacity="1"/>
<path d="M125.9,417.4h0.85v0.85h-0.85zM126.5,411.2h0.85v0.85h-0.85zM130.9,415.8h0.85v0.85h-0.85zM130.6,415.8h0.85v0.85h-0.85zM126.9,418.0h0.85v0.85h-0.85zM129.6,408.2h0.85v0.85h-0.85zM125.1,416.4h0.85v0.85h-0.85zM125.4,412.8h0.85v0.85h-0.85zM125.3,414.8h0.85v0.85h-0.85zM125.4,414.8h0.85v0.85h-0.85zM126.5,418.5h0.85v0.85h-0.85zM125.4,416.1h0.85v0.85h-0.85zM128.1,407.9h0.85v0.85h-0.85zM125.1,415.8h0.85v0.85h-0.85zM125.2,415.7h0.85v0.85h-0.85zM127.1,410.8h0.85v0.85h-0.85zM129.8,408.7h0.85v0.85h-0.85zM128.0,409.3h0.85v0.85h-0.85zM132.4,411.0h0.85v0.85h-0.85zM129.5,415.8h0.85v0.85h-0.85zM126.0,417.7h0.85v0.85h-0.85zM132.6,413.5h0.85v0.85h-0.85zM126.4,417.5h0.85v0.85h-0.85z" fill="#20a0c0" fill-opacity="1"/>
<path d="M125.3,413.0h0.85v0.85h-0.85zM129.2,416.6h0.85v0.85h-0.85zM124.2,415.8h0.85v0.85h-0.85zM126.6,417.0h0.85v0.85h-0.85zM131.6,415.1h0.85v0.85h-0.85zM126.7,417.3h0.85v0.85h-0.85zM132.5,414.0h0.85v0.85h-0.85zM128.1,417.4h0.85v0.85h-0.85z" fill="#20b0b0" fill-opacity="1"/>
<path d="M126.5,417.0h0.85v0.85h-0.85zM129.6,409.2h0.85v0.85h-0.85zM126.6,411.3h0.85v0.85h-0.85zM124.6,416.3h0.85v0.85h-0.85zM127.5,410.0h0.85v0.85h-0.85zM130.7,408.7h0.85v0.85h-0.85zM127.8,417.1h0.85v0.85h-0.85zM127.7,417.3h0.85v0.85h-0.85zM127.2,411.1h0.85v0.85h-0.85z" fill="#20c0b0" fill-opacity="1"/>
<path d="M125.5,415.8h0.85v0.85h-0.85zM129.1,417.2h0.85v0.85h-0.85zM125.5,415.9h0.85v0.85h-0.85zM132.0,414.6h0.85v0.85h-0.85zM128.6,409.6h0.85v0.85h-0.85zM127.1,416.5h0.85v0.85h-0.85zM130.0,415.6h0.85v0.85h-0.85zM127.2,415.7h0.85v0.85h-0.85z" fill="#30c0a0" fill-opacity="1"/>
<path d="M129.2,409.4h0.85v0.85h-0.85zM130.0,409.5h0.85v0.85h-0.85zM126.2,415.9h0.85v0.85h-0.85zM131.0,415.4h0.85v0.85h-0.85zM130.1,409.6h0.85v0.85h-0.85zM128.5,416.1h0.85v0.85h-0.85zM132.0,411.3h0.85v0.85h-0.85z" fill="#30c090" fill-opacity="1"/>
<path d="M126.1,414.9h0.85v0.85h-0.85zM128.4,416.1h0.85v0.85h-0.85zM129.6,409.4h0.85v0.85h-0.85zM130.3,409.6h0.85v0.85h-0.85zM131.9,412.8h0.85v0.85h-0.85z" fill="#30c080" fill-opacity="1"/>
<path d="M131.5,410.6h0.85v0.85h-0.85zM132.1,413.4h0.85v0.85h-0.85zM127.0,415.1h0.85v0.85h-0.85zM128.5,415.5h0.85v0.85h-0.85zM126.4,414.0h0.85v0.85h-0.85z" fill="#40c080" fill-opacity="1"/>
<path d="M132.0,413.3h0.85v0.85h-0.85zM131.9,413.2h0.85v0.85h-0.85zM129.9,409.8h0.85v0.85h-0.85zM128.2,410.3h0.85v0.85h-0.85zM127.7,411.7h0.85v0.85h-0.85zM130.2,410.0h0.85v0.85h-0.85zM128.9,415.4h0.85v0.85h-0.85z" fill="#40c070" fill-opacity="1"/>
<path d="M127.6,412.1h0.85v0.85h-0.85zM127.0,414.9h0.85v0.85h-0.85zM131.4,410.8h0.85v0.85h-0.85zM128.9,415.3h0.85v0.85h-0.85zM130.8,410.0h0.85v0.85h-0.85z" fill="#40c060" fill-opacity="1"/>
<path d="M131.8,413.7h0.85v0.85h-0.85zM128.4,414.8h0.85v0.85h-0.85zM131.3,414.4h0.85v0.85h-0.85zM128.1,414.6h0.85v0.85h-0.85zM130.3,415.1h0.85v0.85h-0.85zM127.5,413.7h0.85v0.85h-0.85z" fill="#40c050" fill-opacity="1"/>
<path d="M130.6,415.1h0.85v0.85h-0.85zM127.5,413.1h0.85v0.85h-0.85zM127.6,413.7h0.85v0.85h-0.85zM128.6,414.7h0.85v0.85h-0.85zM128.3,414.9h0.85v0.85h-0.85zM127.9,412.0h0.85v0.85h-0.85zM130.5,410.6h0.85v0.85h-0.85zM131.2,411.9h0.85v0.85h-0.85zM130.4,414.9h0.85v0.85h-0.85zM130.0,410.6h0.85v0.85h-0.85z" fill="#50c040" fill-opacity="1"/>
<path d="M129.0,411.0h0.85v0.85h-0.85zM128.8,410.7h0.85v0.85h-0.85zM128.8,410.6h0.85v0.85h-0.85zM131.4,413.6h0.85v0.85h-0.85zM130.1,411.6h0.85v0.85h-0.85z" fill="#60d040" fill-opacity="1"/>
<path d="M128.9,410.8h0.85v0.85h-0.85zM130.8,414.8h0.85v0.85h-0.85zM129.0,411.5h0.85v0.85h-0.85zM127.9,412.5h0.85v0.85h-0.85z" fill="#70d030" fill-opacity="1"/>
<path d="M128.2,413.0h0.85v0.85h-0.85zM129.1,415.0h0.85v0.85h-0.85zM131.0,412.8h0.85v0.85h-0.85zM128.9,412.8h0.85v0.85h-0.85z" fill="#80d030" fill-opacity="1"/>
<path d="M128.7,413.0h0.85v0.85h-0.85zM128.1,412.4h0.85v0.85h-0.85zM128.6,413.5h0.85v0.85h-0.85zM128.2,412.2h0.85v0.85h-0.85zM130.1,411.7h0.85v0.85h-0.85zM128.7,413.1h0.85v0.85h-0.85z" fill="#a0d030" fill-opacity="1"/>
<path d="M128.8,414.3h0.85v0.85h-0.85zM129.5,414.7h0.85v0.85h-0.85zM130.8,412.1h0.85v0.85h-0.85zM130.5,411.5h0.85v0.85h-0.85zM129.3,413.0h0.85v0.85h-0.85zM128.1,412.9h0.85v0.85h-0.85zM129.9,411.8h0.85v0.85h-0.85zM128.9,413.5h0.85v0.85h-0.85zM130.6,411.5h0.85v0.85h-0.85z" fill="#c0d030" fill-opacity="1"/>
<path d="M129.5,415.0h0.85v0.85h-0.85zM129.7,412.0h0.85v0.85h-0.85zM130.1,414.6h0.85v0.85h-0.85z" fill="#d0d020" fill-opacity="1"/>
<path d="M130.9,412.3h0.85v0.85h-0.85zM130.7,412.5h0.85v0.85h-0.85zM130.5,412.3h0.85v0.85h-0.85z" fill="#e0d020" fill-opacity="1"/>
<path d="M129.1,414.5h0.85v0.85h-0.85zM130.5,411.9h0.85v0.85h-0.85z" fill="#e0c020" fill-opacity="1"/>
<path d="M130.1,412.3h0.85v0.85h-0.85zM129.3,412.5h0.85v0.85h-0.85zM130.1,412.3h0.85v0.85h-0.85zM130.1,412.2h0.85v0.85h-0.85z" fill="#e0a020" fill-opacity="1"/>
<path d="M129.6,413.6h0.85v0.85h-0.85zM129.4,412.3h0.85v0.85h-0.85zM129.4,412.3h0.85v0.85h-0.85z" fill="#e08020" fill-opacity="1"/>
<path d="M129.8,412.8h0.85v0.85h-0.85zM130.2,413.9h0.85v0.85h-0.85zM130.1,412.7h0.85v0.85h-0.85zM130.4,414.1h0.85v0.85h-0.85zM129.3,413.7h0.85v0.85h-0.85z" fill="#e06020" fill-opacity="1"/>
<path d="M130.3,412.8h0.85v0.85h-0.85z" fill="#e05020" fill-opacity="1"/>
<path d="M130.3,412.9h0.85v0.85h-0.85z" fill="#e04020" fill-opacity="1"/>
<rect x="65.7" y="361.4" width="93.2" height="92.6" fill="none" stroke="#8c8c8c" stroke-width="0.9"/>
<path d="M65.7,361.4h-1.4 M65.7,365.26h-1.4 M65.7,369.12h-1.4 M65.7,372.97h-1.4 M65.7,376.83h-1.4 M65.7,380.69h-1.4 M65.7,384.55h-1.4 M65.7,388.41h-1.4 M65.7,392.27h-1.4 M65.7,396.12h-1.4 M65.7,399.98h-1.4 M65.7,403.84h-1.4 M65.7,407.7h-1.4 M65.7,411.56h-1.4 M65.7,415.42h-1.4 M65.7,419.27h-1.4 M65.7,423.13h-1.4 M65.7,426.99h-1.4 M65.7,430.85h-1.4 M65.7,434.71h-1.4 M65.7,438.57h-1.4 M65.7,442.43h-1.4 M65.7,446.28h-1.4 M65.7,450.14h-1.4 M65.7,454h-1.4" stroke="#666" stroke-width="0.8" fill="none"/>
<path d="M65.7,454v1.4 M69.58,454v1.4 M73.47,454v1.4 M77.35,454v1.4 M81.23,454v1.4 M85.12,454v1.4 M89,454v1.4 M92.88,454v1.4 M96.77,454v1.4 M100.65,454v1.4 M104.53,454v1.4 M108.42,454v1.4 M112.3,454v1.4 M116.18,454v1.4 M120.07,454v1.4 M123.95,454v1.4 M127.83,454v1.4 M131.72,454v1.4 M135.6,454v1.4 M139.48,454v1.4 M143.37,454v1.4 M147.25,454v1.4 M151.13,454v1.4 M155.02,454v1.4 M158.9,454v1.4" stroke="#666" stroke-width="0.8" fill="none"/>
<rect x="91.4" y="378.9" width="25.4" height="19.6" fill="none" stroke="#444" stroke-width="0.9"/>
<rect x="113.5" y="398.5" width="28.8" height="31.5" fill="none" stroke="#444" stroke-width="0.9"/>
<text x="89.67" y="374.68" font-size="10.97" font-weight="bold" font-style="normal" fill="#000">SPM</text>
<text x="142.29" y="422.53" font-size="10.91" font-weight="bold" font-style="normal" fill="#000">LPM</text>
<text x="50.4" y="384.2" font-size="6.2" font-weight="bold">10<tspan font-size="3.84" dy="-1.86">4</tspan></text>
<text x="50.4" y="406.7" font-size="6.2" font-weight="bold">10<tspan font-size="3.84" dy="-1.86">3</tspan></text>
<text x="54.08" y="434.14" font-size="6.2" font-weight="bold" font-style="normal" fill="#000">0</text>
<text transform="translate(50.52,431.19) rotate(-90)" font-size="10.6" font-weight="bold" font-style="normal">MHC II</text>
<line x1="46.1" y1="470.6" x2="46.1" y2="437.1" stroke="#222" stroke-width="1.3"/>
<path d="M46.1,434.6 L47.8,438.2 L44.4,438.2 Z" fill="#222" stroke="none"/>
<line x1="45.5" y1="470" x2="83.6" y2="470" stroke="#222" stroke-width="1.3"/>
<path d="M86.1,470 L82.5,471.7 L82.5,468.3 Z" fill="#222" stroke="none"/>
<text x="86.69" y="472.87" font-size="10.86" font-weight="bold" font-style="normal" fill="#000">F4/80</text>
<text x="74" y="462.4" font-size="6.2" font-weight="bold">10<tspan font-size="3.84" dy="-1.86">-3</tspan></text>
<text x="93.98" y="462.24" font-size="6.2" font-weight="bold" font-style="normal" fill="#000">0</text>
<text x="106.9" y="462.4" font-size="6.2" font-weight="bold">10<tspan font-size="3.84" dy="-1.86">3</tspan></text>
<text x="127.2" y="462.4" font-size="6.2" font-weight="bold">10<tspan font-size="3.84" dy="-1.86">4</tspan></text>
<text x="144.9" y="462.4" font-size="6.2" font-weight="bold">10<tspan font-size="3.84" dy="-1.86">5</tspan></text>
<path d="M46.7,576.6 L47.03,576.27 L47.49,575.83 L48.04,575.29 L48.62,574.72 L49.19,574.14 L49.7,573.6 L50.17,573.09 L50.63,572.59 L51.08,572.08 L51.51,571.56 L51.92,571.04 L52.3,570.5 L52.64,569.99 L52.93,569.51 L53.21,569.03 L53.47,568.5 L53.73,567.87 L54,567.1 L54.28,566.13 L54.57,564.99 L54.85,563.76 L55.13,562.51 L55.42,561.33 L55.7,560.3 L55.99,559.4 L56.28,558.56 L56.58,557.78 L56.86,557.09 L57.14,556.49 L57.4,556 L57.64,555.72 L57.86,555.67 L58.07,555.71 L58.28,555.71 L58.49,555.55 L58.7,555.1 L58.92,554.33 L59.13,553.34 L59.35,552.18 L59.57,550.92 L59.78,549.61 L60,548.3 L60.22,547.01 L60.43,545.69 L60.65,544.32 L60.87,542.89 L61.08,541.35 L61.3,539.7 L61.52,537.9 L61.74,535.95 L61.96,533.91 L62.17,531.83 L62.39,529.74 L62.6,527.7 L62.8,525.64 L63,523.51 L63.2,521.38 L63.4,519.31 L63.6,517.4 L63.8,515.7 L64.02,514.29 L64.24,513.11 L64.47,512.09 L64.69,511.11 L64.91,510.08 L65.1,508.9 L65.27,507.51 L65.43,505.96 L65.58,504.36 L65.72,502.82 L65.86,501.43 L66,500.3 L66.14,499.41 L66.27,498.66 L66.4,498.07 L66.53,497.65 L66.66,497.39 L66.8,497.3 L66.94,497.35 L67.08,497.52 L67.22,497.86 L67.37,498.41 L67.53,499.21 L67.7,500.3 L67.89,501.73 L68.1,503.47 L68.32,505.47 L68.55,507.65 L68.78,509.95 L69,512.3 L69.22,514.81 L69.45,517.54 L69.68,520.4 L69.9,523.27 L70.11,526.04 L70.3,528.6 L70.46,530.88 L70.59,532.96 L70.7,534.94 L70.81,536.94 L70.94,539.05 L71.1,541.4 L71.29,544.09 L71.5,547.06 L71.72,550.16 L71.95,553.21 L72.18,556.08 L72.4,558.6 L72.61,560.77 L72.82,562.71 L73.03,564.46 L73.24,566.05 L73.46,567.52 L73.7,568.9 L73.96,570.19 L74.25,571.34 L74.55,572.38 L74.85,573.3 L75.14,574.1 L75.4,574.8 L75.65,575.36 L75.91,575.77 L76.16,576.07 L76.38,576.29 L76.56,576.45 L76.7,576.6 Z" fill="#e89ca2" stroke="#d2646e" stroke-width="0.9" stroke-linejoin="round"/>
<path d="M37.3,576.6 L37.44,575.7 L37.64,574.58 L37.87,573.19 L38.12,571.5 L38.37,569.48 L38.6,567.1 L38.82,564.17 L39.05,560.69 L39.28,556.88 L39.5,552.96 L39.71,549.16 L39.9,545.7 L40.06,542.45 L40.2,539.21 L40.33,536.08 L40.44,533.19 L40.57,530.66 L40.7,528.6 L40.84,527.08 L40.99,526.03 L41.13,525.33 L41.28,524.88 L41.44,524.57 L41.6,524.3 L41.78,524 L41.97,523.74 L42.17,523.62 L42.36,523.75 L42.54,524.21 L42.7,525.1 L42.83,526.68 L42.93,528.92 L43.02,531.49 L43.1,534.08 L43.19,536.36 L43.3,538 L43.42,538.94 L43.53,539.43 L43.66,539.6 L43.79,539.61 L43.94,539.59 L44.1,539.7 L44.29,539.86 L44.5,539.94 L44.72,539.99 L44.95,540.09 L45.18,540.27 L45.4,540.6 L45.62,541.06 L45.83,541.59 L46.05,542.22 L46.27,542.95 L46.48,543.81 L46.7,544.8 L46.91,545.99 L47.12,547.37 L47.33,548.88 L47.54,550.44 L47.76,551.97 L48,553.4 L48.26,554.76 L48.54,556.1 L48.83,557.41 L49.12,558.69 L49.41,559.93 L49.7,561.1 L49.98,562.22 L50.27,563.29 L50.55,564.31 L50.83,565.29 L51.12,566.22 L51.4,567.1 L51.67,567.93 L51.93,568.71 L52.19,569.44 L52.47,570.13 L52.76,570.78 L53.1,571.4 L53.47,571.99 L53.87,572.54 L54.29,573.06 L54.74,573.54 L55.21,573.99 L55.7,574.4 L56.2,574.77 L56.71,575.09 L57.24,575.38 L57.8,575.64 L58.42,575.88 L59.1,576.1 L59.92,576.31 L60.89,576.49 L61.91,576.66 L62.89,576.8 L63.71,576.91 L64.3,577 Z" fill="#9edcf6" stroke="#52bdea" stroke-width="0.9" stroke-linejoin="round" style="mix-blend-mode:multiply"/>
<rect x="16.5" y="484.6" width="91.9" height="92.4" fill="none" stroke="#8c8c8c" stroke-width="0.9"/>
<path d="M16.5,577v1.4 M20.68,577v1.4 M24.85,577v1.4 M29.03,577v1.4 M33.21,577v1.4 M37.39,577v1.4 M41.56,577v1.4 M45.74,577v1.4 M49.92,577v1.4 M54.1,577v1.4 M58.27,577v1.4 M62.45,577v1.4 M66.63,577v1.4 M70.8,577v1.4 M74.98,577v1.4 M79.16,577v1.4 M83.34,577v1.4 M87.51,577v1.4 M91.69,577v1.4 M95.87,577v1.4 M100.05,577v1.4 M104.22,577v1.4 M108.4,577v1.4" stroke="#666" stroke-width="0.8" fill="none"/>
<line x1="51.9" y1="536.3" x2="79.3" y2="536.3" stroke="#333" stroke-width="1.1"/>
<line x1="51.9" y1="534.1" x2="51.9" y2="538.5" stroke="#333" stroke-width="1.1"/>
<line x1="79.3" y1="534.1" x2="79.3" y2="538.5" stroke="#333" stroke-width="1.1"/>
<text x="15.8" y="585.6" font-size="6.2" font-weight="bold">10<tspan font-size="3.84" dy="-1.86">-3</tspan></text>
<text x="33.78" y="585.34" font-size="6.2" font-weight="bold" font-style="normal" fill="#000">0</text>
<text x="44.9" y="585.6" font-size="6.2" font-weight="bold">10<tspan font-size="3.84" dy="-1.86">3</tspan></text>
<text x="70.2" y="585.6" font-size="6.2" font-weight="bold">10<tspan font-size="3.84" dy="-1.86">4</tspan></text>
<text x="92.5" y="585.6" font-size="6.2" font-weight="bold">10<tspan font-size="3.84" dy="-1.86">5</tspan></text>
<path d="M146.4,576.6 L146.68,576.12 L147.06,575.48 L147.51,574.71 L148.01,573.85 L148.51,572.94 L149,572 L149.47,570.86 L149.96,569.45 L150.45,567.98 L150.96,566.67 L151.47,565.74 L152,565.4 L152.53,565.84 L153.07,566.94 L153.62,568.41 L154.19,569.98 L154.78,571.37 L155.4,572.3 L156.08,572.74 L156.8,572.9 L157.55,572.88 L158.3,572.77 L159.03,572.68 L159.7,572.7 L160.34,572.87 L160.96,573.11 L161.56,573.37 L162.12,573.58 L162.64,573.68 L163.1,573.6 L163.49,573.34 L163.82,572.94 L164.11,572.42 L164.37,571.83 L164.62,571.18 L164.9,570.5 L165.19,569.83 L165.47,569.14 L165.76,568.4 L166.04,567.56 L166.32,566.57 L166.6,565.4 L166.89,564.02 L167.18,562.48 L167.47,560.79 L167.76,558.98 L168.04,557.07 L168.3,555.1 L168.55,553 L168.78,550.75 L169.01,548.41 L169.22,546.03 L169.42,543.67 L169.6,541.4 L169.76,539.22 L169.9,537.07 L170.03,534.95 L170.14,532.84 L170.27,530.73 L170.4,528.6 L170.54,526.39 L170.69,524.1 L170.83,521.81 L170.98,519.59 L171.14,517.53 L171.3,515.7 L171.47,514.09 L171.65,512.63 L171.83,511.33 L172.02,510.19 L172.21,509.21 L172.4,508.4 L172.6,507.8 L172.8,507.41 L173,507.18 L173.2,507.07 L173.4,507.03 L173.6,507 L173.79,506.99 L173.97,507.03 L174.14,507.14 L174.32,507.33 L174.51,507.61 L174.7,508 L174.91,508.46 L175.14,508.97 L175.37,509.57 L175.6,510.3 L175.81,511.2 L176,512.3 L176.16,513.62 L176.3,515.13 L176.43,516.81 L176.54,518.63 L176.67,520.57 L176.8,522.6 L176.94,524.79 L177.08,527.18 L177.22,529.69 L177.37,532.23 L177.53,534.73 L177.7,537.1 L177.89,539.34 L178.09,541.52 L178.3,543.66 L178.52,545.77 L178.76,547.87 L179,550 L179.26,552.19 L179.52,554.43 L179.8,556.67 L180.09,558.85 L180.39,560.91 L180.7,562.8 L181.03,564.54 L181.38,566.17 L181.74,567.69 L182.11,569.07 L182.46,570.32 L182.8,571.4 L183.12,572.29 L183.43,572.98 L183.73,573.52 L184.02,573.98 L184.31,574.39 L184.6,574.8 L184.91,575.21 L185.24,575.59 L185.56,575.91 L185.86,576.19 L186.12,576.42 L186.3,576.6 Z" fill="#e89ca2" stroke="#d2646e" stroke-width="0.9" stroke-linejoin="round"/>
<path d="M144.7,576.6 L144.95,576.07 L145.29,575.38 L145.69,574.54 L146.12,573.58 L146.54,572.52 L146.9,571.4 L147.22,570.19 L147.52,568.88 L147.81,567.47 L148.08,565.98 L148.35,564.42 L148.6,562.8 L148.84,561.06 L149.07,559.16 L149.29,557.19 L149.5,555.24 L149.7,553.38 L149.9,551.7 L150.1,550.13 L150.29,548.6 L150.47,547.16 L150.65,545.87 L150.82,544.8 L151,544 L151.17,543.47 L151.34,543.14 L151.51,543.04 L151.67,543.14 L151.83,543.47 L152,544 L152.17,544.8 L152.33,545.87 L152.49,547.16 L152.66,548.6 L152.83,550.13 L153,551.7 L153.18,553.4 L153.35,555.3 L153.53,557.3 L153.71,559.29 L153.9,561.15 L154.1,562.8 L154.3,564.24 L154.5,565.56 L154.71,566.76 L154.93,567.84 L155.16,568.82 L155.4,569.7 L155.65,570.45 L155.9,571.07 L156.17,571.58 L156.45,572 L156.76,572.37 L157.1,572.7 L157.48,572.97 L157.9,573.16 L158.34,573.29 L158.8,573.39 L159.26,573.48 L159.7,573.6 L160.13,573.73 L160.57,573.86 L161,573.98 L161.43,574.1 L161.87,574.24 L162.3,574.4 L162.73,574.59 L163.17,574.81 L163.61,575.04 L164.04,575.27 L164.47,575.49 L164.9,575.7 L165.35,575.9 L165.83,576.09 L166.31,576.28 L166.76,576.45 L167.13,576.59 L167.4,576.7 Z" fill="#9edcf6" stroke="#52bdea" stroke-width="0.9" stroke-linejoin="round" style="mix-blend-mode:multiply"/>
<rect x="110.7" y="484.6" width="93.2" height="92.4" fill="none" stroke="#8c8c8c" stroke-width="0.9"/>
<path d="M110.7,577v1.4 M114.94,577v1.4 M119.17,577v1.4 M123.41,577v1.4 M127.65,577v1.4 M131.88,577v1.4 M136.12,577v1.4 M140.35,577v1.4 M144.59,577v1.4 M148.83,577v1.4 M153.06,577v1.4 M157.3,577v1.4 M161.54,577v1.4 M165.77,577v1.4 M170.01,577v1.4 M174.25,577v1.4 M178.48,577v1.4 M182.72,577v1.4 M186.95,577v1.4 M191.19,577v1.4 M195.43,577v1.4 M199.66,577v1.4 M203.9,577v1.4" stroke="#666" stroke-width="0.8" fill="none"/>
<line x1="161.9" y1="546.1" x2="191.4" y2="546.1" stroke="#333" stroke-width="1.1"/>
<line x1="161.9" y1="543.9" x2="161.9" y2="548.3" stroke="#333" stroke-width="1.1"/>
<line x1="191.4" y1="543.9" x2="191.4" y2="548.3" stroke="#333" stroke-width="1.1"/>
<text x="106.2" y="585.6" font-size="6.2" font-weight="bold">10<tspan font-size="3.84" dy="-1.86">-4</tspan></text>
<text x="127.2" y="585.6" font-size="6.2" font-weight="bold">10<tspan font-size="3.84" dy="-1.86">-3</tspan></text>
<text x="143.88" y="585.34" font-size="6.2" font-weight="bold" font-style="normal" fill="#000">0</text>
<text x="156.3" y="585.6" font-size="6.2" font-weight="bold">10<tspan font-size="3.84" dy="-1.86">3</tspan></text>
<text x="176.1" y="585.6" font-size="6.2" font-weight="bold">10<tspan font-size="3.84" dy="-1.86">4</tspan></text>
<text x="190.5" y="585.6" font-size="6.2" font-weight="bold">10<tspan font-size="3.84" dy="-1.86">5</tspan></text>
<text x="71.33" y="549.77" font-size="10.67" font-weight="bold" font-style="normal" fill="#000">96.2%</text>
<text x="177.68" y="557.48" font-size="10.68" font-weight="bold" font-style="normal" fill="#000">89.7%</text>
<line x1="15.2" y1="596" x2="33.5" y2="596" stroke="#000" stroke-width="1.1"/>
<path d="M35.5,596 L32.5,597.35 L32.5,594.65 Z" fill="#000" stroke="none"/>
<text x="38.03" y="598.69" font-size="11.85" font-weight="bold" font-style="normal" fill="#000">GATA6</text>
<line x1="111.4" y1="596" x2="129.7" y2="596" stroke="#000" stroke-width="1.1"/>
<path d="M131.7,596 L128.7,597.35 L128.7,594.65 Z" fill="#000" stroke="none"/>
<text x="133.9" y="598.88" font-size="12.11" font-weight="bold" font-style="normal" fill="#000">ARG1</text>
<line x1="100.7" y1="398.5" x2="41.8" y2="518.8" stroke="#78b548" stroke-width="0.95"/>
<path d="M41.8,518.8 L41.92,515.07 L44.67,516.42 Z" fill="#78b548" stroke="none"/>
<line x1="126" y1="430" x2="70.9" y2="505.6" stroke="#78b548" stroke-width="0.95"/>
<path d="M70.9,505.6 L71.67,501.95 L74.14,503.75 Z" fill="#78b548" stroke="none"/>
<line x1="100.7" y1="398.5" x2="148.2" y2="535.5" stroke="#e39550" stroke-width="0.95"/>
<path d="M148.2,535.5 L145.64,532.79 L148.53,531.79 Z" fill="#e39550" stroke="none"/>
<line x1="126" y1="430" x2="169.7" y2="505.6" stroke="#e39550" stroke-width="0.95"/>
<path d="M169.7,505.6 L166.67,503.42 L169.32,501.89 Z" fill="#e39550" stroke="none"/>
<text x="242.43" y="357.83" font-size="15.63" font-weight="bold" font-style="normal" fill="#000">Sham-Niclosamide</text>
<path d="M345.8,430.4h0.85v0.85h-0.85zM353.3,411.5h0.85v0.85h-0.85zM346.8,435.8h0.85v0.85h-0.85zM296.0,399.7h0.85v0.85h-0.85zM335.5,382.9h0.85v0.85h-0.85zM330.6,391.2h0.85v0.85h-0.85zM333.2,443.4h0.85v0.85h-0.85zM330.5,394.8h0.85v0.85h-0.85zM298.6,391.2h0.85v0.85h-0.85zM303.6,418.4h0.85v0.85h-0.85zM344.6,422.4h0.85v0.85h-0.85zM325.0,393.4h0.85v0.85h-0.85zM294.3,417.5h0.85v0.85h-0.85zM312.1,421.3h0.85v0.85h-0.85zM346.8,408.2h0.85v0.85h-0.85zM302.8,400.0h0.85v0.85h-0.85zM347.2,395.7h0.85v0.85h-0.85zM310.1,409.8h0.85v0.85h-0.85zM327.8,389.5h0.85v0.85h-0.85zM348.8,414.3h0.85v0.85h-0.85zM317.8,424.0h0.85v0.85h-0.85zM313.5,388.4h0.85v0.85h-0.85zM343.6,400.7h0.85v0.85h-0.85zM300.5,397.4h0.85v0.85h-0.85zM325.7,396.4h0.85v0.85h-0.85zM347.6,424.6h0.85v0.85h-0.85zM347.6,411.8h0.85v0.85h-0.85zM335.5,392.8h0.85v0.85h-0.85zM321.7,391.5h0.85v0.85h-0.85zM347.6,420.7h0.85v0.85h-0.85zM315.2,396.1h0.85v0.85h-0.85zM312.4,426.2h0.85v0.85h-0.85zM314.0,430.2h0.85v0.85h-0.85zM325.5,390.3h0.85v0.85h-0.85zM308.4,405.8h0.85v0.85h-0.85zM298.8,395.9h0.85v0.85h-0.85zM308.0,407.6h0.85v0.85h-0.85zM302.2,383.1h0.85v0.85h-0.85zM306.5,383.1h0.85v0.85h-0.85zM309.0,400.4h0.85v0.85h-0.85zM306.8,400.8h0.85v0.85h-0.85zM337.5,390.8h0.85v0.85h-0.85zM349.4,396.1h0.85v0.85h-0.85zM306.9,381.4h0.85v0.85h-0.85zM315.5,406.4h0.85v0.85h-0.85zM337.1,397.7h0.85v0.85h-0.85z" fill="#5060e0" fill-opacity="0.55"/>
<path d="M306.8,418.7h0.85v0.85h-0.85zM310.0,411.0h0.85v0.85h-0.85zM318.3,427.1h0.85v0.85h-0.85zM336.2,398.5h0.85v0.85h-0.85zM311.7,398.5h0.85v0.85h-0.85zM316.0,392.7h0.85v0.85h-0.85zM326.1,434.3h0.85v0.85h-0.85zM324.5,400.7h0.85v0.85h-0.85zM312.0,385.8h0.85v0.85h-0.85zM304.2,385.8h0.85v0.85h-0.85zM322.1,394.6h0.85v0.85h-0.85zM314.4,428.8h0.85v0.85h-0.85zM345.3,415.9h0.85v0.85h-0.85zM348.2,422.8h0.85v0.85h-0.85zM306.6,397.6h0.85v0.85h-0.85zM308.1,418.0h0.85v0.85h-0.85zM304.0,395.0h0.85v0.85h-0.85zM301.8,387.8h0.85v0.85h-0.85zM320.5,389.0h0.85v0.85h-0.85zM314.8,426.4h0.85v0.85h-0.85zM309.5,419.3h0.85v0.85h-0.85zM315.7,380.4h0.85v0.85h-0.85zM303.7,391.0h0.85v0.85h-0.85zM317.6,395.8h0.85v0.85h-0.85zM323.8,399.1h0.85v0.85h-0.85zM343.1,408.7h0.85v0.85h-0.85zM315.9,383.5h0.85v0.85h-0.85zM343.2,403.0h0.85v0.85h-0.85zM338.0,429.0h0.85v0.85h-0.85zM317.5,399.4h0.85v0.85h-0.85zM339.6,423.7h0.85v0.85h-0.85zM332.9,431.9h0.85v0.85h-0.85zM311.0,394.2h0.85v0.85h-0.85zM331.9,397.5h0.85v0.85h-0.85zM325.1,401.1h0.85v0.85h-0.85zM318.1,386.8h0.85v0.85h-0.85zM319.8,428.3h0.85v0.85h-0.85zM321.0,394.5h0.85v0.85h-0.85zM312.9,416.1h0.85v0.85h-0.85zM319.2,398.6h0.85v0.85h-0.85zM303.7,392.6h0.85v0.85h-0.85zM317.9,386.7h0.85v0.85h-0.85zM317.6,389.9h0.85v0.85h-0.85zM314.9,402.6h0.85v0.85h-0.85zM312.5,413.5h0.85v0.85h-0.85zM302.3,385.3h0.85v0.85h-0.85zM320.7,425.2h0.85v0.85h-0.85zM318.6,394.4h0.85v0.85h-0.85zM310.6,413.7h0.85v0.85h-0.85zM313.2,410.0h0.85v0.85h-0.85zM311.4,416.0h0.85v0.85h-0.85zM315.7,402.2h0.85v0.85h-0.85z" fill="#5050e0" fill-opacity="0.55"/>
<path d="M313.9,410.2h0.85v0.85h-0.85zM314.9,417.8h0.85v0.85h-0.85zM328.4,398.2h0.85v0.85h-0.85zM314.3,409.7h0.85v0.85h-0.85zM306.2,393.9h0.85v0.85h-0.85zM319.7,400.7h0.85v0.85h-0.85zM311.6,395.6h0.85v0.85h-0.85zM316.7,412.5h0.85v0.85h-0.85zM313.9,409.7h0.85v0.85h-0.85zM337.2,429.7h0.85v0.85h-0.85zM325.7,397.5h0.85v0.85h-0.85zM317.4,403.3h0.85v0.85h-0.85zM344.0,415.8h0.85v0.85h-0.85zM307.5,390.5h0.85v0.85h-0.85zM307.5,395.1h0.85v0.85h-0.85zM342.8,404.1h0.85v0.85h-0.85zM343.2,411.8h0.85v0.85h-0.85zM322.7,403.9h0.85v0.85h-0.85zM304.8,389.0h0.85v0.85h-0.85zM314.5,383.1h0.85v0.85h-0.85zM316.7,391.0h0.85v0.85h-0.85zM307.8,390.9h0.85v0.85h-0.85zM338.9,401.5h0.85v0.85h-0.85zM316.3,381.5h0.85v0.85h-0.85zM331.5,431.3h0.85v0.85h-0.85zM316.7,400.6h0.85v0.85h-0.85zM319.2,426.1h0.85v0.85h-0.85zM316.1,419.8h0.85v0.85h-0.85zM320.2,396.2h0.85v0.85h-0.85zM340.2,422.3h0.85v0.85h-0.85zM333.3,398.7h0.85v0.85h-0.85zM340.8,417.5h0.85v0.85h-0.85zM343.2,412.2h0.85v0.85h-0.85zM320.5,404.8h0.85v0.85h-0.85zM315.9,390.1h0.85v0.85h-0.85zM343.1,415.6h0.85v0.85h-0.85zM336.9,428.5h0.85v0.85h-0.85zM316.1,418.8h0.85v0.85h-0.85zM331.2,430.8h0.85v0.85h-0.85zM320.5,405.0h0.85v0.85h-0.85zM316.0,408.6h0.85v0.85h-0.85zM309.6,394.9h0.85v0.85h-0.85zM310.2,390.4h0.85v0.85h-0.85zM321.1,402.3h0.85v0.85h-0.85zM321.9,430.8h0.85v0.85h-0.85zM311.2,396.2h0.85v0.85h-0.85zM308.4,395.8h0.85v0.85h-0.85zM316.5,384.4h0.85v0.85h-0.85zM319.9,402.7h0.85v0.85h-0.85zM341.6,403.9h0.85v0.85h-0.85zM327.5,399.7h0.85v0.85h-0.85zM308.8,387.6h0.85v0.85h-0.85zM318.6,389.2h0.85v0.85h-0.85zM321.5,428.7h0.85v0.85h-0.85zM342.6,409.7h0.85v0.85h-0.85zM316.9,419.7h0.85v0.85h-0.85zM310.0,387.7h0.85v0.85h-0.85zM322.1,426.0h0.85v0.85h-0.85zM338.0,427.4h0.85v0.85h-0.85zM338.7,424.6h0.85v0.85h-0.85zM310.4,389.6h0.85v0.85h-0.85zM328.4,399.0h0.85v0.85h-0.85zM342.1,407.6h0.85v0.85h-0.85zM309.6,387.0h0.85v0.85h-0.85zM304.4,388.7h0.85v0.85h-0.85zM322.7,429.7h0.85v0.85h-0.85zM326.1,431.4h0.85v0.85h-0.85zM306.9,387.9h0.85v0.85h-0.85zM322.5,425.7h0.85v0.85h-0.85zM340.4,418.1h0.85v0.85h-0.85zM322.9,407.4h0.85v0.85h-0.85zM342.1,415.5h0.85v0.85h-0.85zM322.7,407.6h0.85v0.85h-0.85zM324.3,432.1h0.85v0.85h-0.85zM307.0,389.5h0.85v0.85h-0.85zM309.2,387.8h0.85v0.85h-0.85zM322.8,407.8h0.85v0.85h-0.85zM329.1,429.4h0.85v0.85h-0.85zM320.6,420.9h0.85v0.85h-0.85zM339.7,420.6h0.85v0.85h-0.85zM339.6,403.6h0.85v0.85h-0.85zM324.8,405.2h0.85v0.85h-0.85zM319.5,406.5h0.85v0.85h-0.85zM323.5,430.8h0.85v0.85h-0.85zM341.0,405.2h0.85v0.85h-0.85zM339.8,420.2h0.85v0.85h-0.85zM318.0,418.6h0.85v0.85h-0.85zM318.2,408.1h0.85v0.85h-0.85zM323.8,424.1h0.85v0.85h-0.85zM333.4,428.4h0.85v0.85h-0.85zM319.3,418.5h0.85v0.85h-0.85zM318.3,418.8h0.85v0.85h-0.85zM325.0,427.2h0.85v0.85h-0.85zM330.6,399.1h0.85v0.85h-0.85zM341.2,407.8h0.85v0.85h-0.85zM325.1,430.3h0.85v0.85h-0.85zM319.1,414.3h0.85v0.85h-0.85zM318.4,415.2h0.85v0.85h-0.85zM334.7,428.4h0.85v0.85h-0.85zM325.2,426.3h0.85v0.85h-0.85zM318.7,413.5h0.85v0.85h-0.85zM328.1,403.0h0.85v0.85h-0.85zM323.3,423.1h0.85v0.85h-0.85zM339.2,404.5h0.85v0.85h-0.85zM319.4,408.0h0.85v0.85h-0.85zM325.5,405.1h0.85v0.85h-0.85zM323.9,429.1h0.85v0.85h-0.85zM318.7,412.3h0.85v0.85h-0.85zM324.0,424.5h0.85v0.85h-0.85zM318.7,416.7h0.85v0.85h-0.85zM340.4,406.7h0.85v0.85h-0.85zM340.1,410.1h0.85v0.85h-0.85zM340.4,405.8h0.85v0.85h-0.85zM338.3,403.3h0.85v0.85h-0.85zM331.7,429.9h0.85v0.85h-0.85zM319.5,408.8h0.85v0.85h-0.85zM318.9,412.9h0.85v0.85h-0.85zM319.3,408.5h0.85v0.85h-0.85zM326.1,428.6h0.85v0.85h-0.85zM323.0,411.9h0.85v0.85h-0.85zM325.2,429.5h0.85v0.85h-0.85zM341.1,412.4h0.85v0.85h-0.85zM332.8,428.8h0.85v0.85h-0.85zM340.5,413.9h0.85v0.85h-0.85zM324.5,422.7h0.85v0.85h-0.85zM336.7,425.0h0.85v0.85h-0.85zM320.5,417.9h0.85v0.85h-0.85zM328.2,403.4h0.85v0.85h-0.85zM320.4,419.1h0.85v0.85h-0.85zM319.7,409.9h0.85v0.85h-0.85zM342.0,413.9h0.85v0.85h-0.85zM327.7,428.6h0.85v0.85h-0.85zM332.5,400.0h0.85v0.85h-0.85z" fill="#4050e0" fill-opacity="0.55"/>
<path d="M336.3,402.4h0.85v0.85h-0.85zM319.6,410.5h0.85v0.85h-0.85zM321.1,418.2h0.85v0.85h-0.85zM322.6,410.7h0.85v0.85h-0.85zM322.2,412.4h0.85v0.85h-0.85zM326.7,428.6h0.85v0.85h-0.85zM336.5,425.7h0.85v0.85h-0.85zM322.3,420.8h0.85v0.85h-0.85zM323.9,409.1h0.85v0.85h-0.85zM326.3,427.9h0.85v0.85h-0.85zM319.0,410.8h0.85v0.85h-0.85zM340.9,413.9h0.85v0.85h-0.85zM328.8,401.7h0.85v0.85h-0.85zM331.8,427.8h0.85v0.85h-0.85zM320.5,414.8h0.85v0.85h-0.85zM325.8,405.2h0.85v0.85h-0.85zM332.1,401.0h0.85v0.85h-0.85zM322.4,411.1h0.85v0.85h-0.85zM322.2,412.6h0.85v0.85h-0.85zM330.4,400.7h0.85v0.85h-0.85zM330.8,401.1h0.85v0.85h-0.85zM320.5,414.1h0.85v0.85h-0.85zM328.9,402.8h0.85v0.85h-0.85zM326.1,405.5h0.85v0.85h-0.85zM328.9,402.0h0.85v0.85h-0.85zM336.8,403.0h0.85v0.85h-0.85zM321.1,415.3h0.85v0.85h-0.85zM321.9,410.7h0.85v0.85h-0.85zM332.0,401.9h0.85v0.85h-0.85zM328.2,403.7h0.85v0.85h-0.85zM339.1,408.6h0.85v0.85h-0.85zM322.5,419.5h0.85v0.85h-0.85zM338.1,406.6h0.85v0.85h-0.85zM324.3,409.1h0.85v0.85h-0.85zM322.3,415.3h0.85v0.85h-0.85zM321.9,408.2h0.85v0.85h-0.85zM320.5,409.3h0.85v0.85h-0.85zM330.7,400.4h0.85v0.85h-0.85zM337.9,405.8h0.85v0.85h-0.85zM322.1,409.0h0.85v0.85h-0.85zM335.6,425.7h0.85v0.85h-0.85zM329.3,402.4h0.85v0.85h-0.85zM332.1,427.1h0.85v0.85h-0.85zM320.3,413.1h0.85v0.85h-0.85zM325.2,409.7h0.85v0.85h-0.85zM338.9,419.1h0.85v0.85h-0.85zM322.1,418.5h0.85v0.85h-0.85zM336.0,403.5h0.85v0.85h-0.85zM323.5,420.2h0.85v0.85h-0.85zM323.2,414.5h0.85v0.85h-0.85zM325.6,422.8h0.85v0.85h-0.85zM329.7,428.0h0.85v0.85h-0.85zM338.8,408.5h0.85v0.85h-0.85zM322.4,418.5h0.85v0.85h-0.85zM323.4,413.5h0.85v0.85h-0.85zM337.4,406.9h0.85v0.85h-0.85zM325.7,422.8h0.85v0.85h-0.85zM332.1,402.3h0.85v0.85h-0.85zM334.3,426.9h0.85v0.85h-0.85zM335.6,403.3h0.85v0.85h-0.85zM332.1,426.7h0.85v0.85h-0.85zM323.2,414.8h0.85v0.85h-0.85zM327.6,426.6h0.85v0.85h-0.85zM339.7,412.6h0.85v0.85h-0.85zM333.1,426.4h0.85v0.85h-0.85zM322.1,417.3h0.85v0.85h-0.85zM335.7,424.5h0.85v0.85h-0.85zM337.7,408.1h0.85v0.85h-0.85zM334.7,403.6h0.85v0.85h-0.85zM331.1,405.3h0.85v0.85h-0.85zM332.6,402.5h0.85v0.85h-0.85zM325.0,421.1h0.85v0.85h-0.85zM330.5,427.6h0.85v0.85h-0.85zM326.6,406.0h0.85v0.85h-0.85zM336.2,423.6h0.85v0.85h-0.85zM335.1,404.2h0.85v0.85h-0.85zM335.2,424.2h0.85v0.85h-0.85zM332.7,402.6h0.85v0.85h-0.85zM332.7,425.1h0.85v0.85h-0.85zM335.9,404.6h0.85v0.85h-0.85zM328.4,426.7h0.85v0.85h-0.85zM328.3,426.3h0.85v0.85h-0.85z" fill="#4050e0" fill-opacity="1"/>
<path d="M338.7,415.3h0.85v0.85h-0.85zM333.7,403.3h0.85v0.85h-0.85zM326.8,405.9h0.85v0.85h-0.85zM334.0,402.4h0.85v0.85h-0.85zM326.7,424.3h0.85v0.85h-0.85zM336.2,405.0h0.85v0.85h-0.85zM338.1,416.5h0.85v0.85h-0.85zM329.0,426.5h0.85v0.85h-0.85zM337.9,421.7h0.85v0.85h-0.85zM334.4,424.7h0.85v0.85h-0.85zM330.0,402.9h0.85v0.85h-0.85zM337.7,417.0h0.85v0.85h-0.85zM331.2,404.6h0.85v0.85h-0.85zM339.5,413.3h0.85v0.85h-0.85zM333.0,424.8h0.85v0.85h-0.85zM334.2,425.6h0.85v0.85h-0.85zM339.4,412.9h0.85v0.85h-0.85zM337.0,408.8h0.85v0.85h-0.85zM334.9,405.0h0.85v0.85h-0.85zM337.0,408.3h0.85v0.85h-0.85zM333.1,425.1h0.85v0.85h-0.85zM336.6,408.7h0.85v0.85h-0.85zM332.7,403.8h0.85v0.85h-0.85zM334.4,404.1h0.85v0.85h-0.85zM324.6,413.5h0.85v0.85h-0.85zM328.2,425.8h0.85v0.85h-0.85zM328.1,404.6h0.85v0.85h-0.85zM328.5,425.6h0.85v0.85h-0.85zM327.2,407.1h0.85v0.85h-0.85zM336.5,406.0h0.85v0.85h-0.85zM323.8,418.3h0.85v0.85h-0.85zM326.3,407.6h0.85v0.85h-0.85zM329.4,404.7h0.85v0.85h-0.85zM329.4,425.7h0.85v0.85h-0.85zM324.2,420.2h0.85v0.85h-0.85zM329.3,425.5h0.85v0.85h-0.85zM333.8,404.3h0.85v0.85h-0.85zM328.1,424.9h0.85v0.85h-0.85zM339.5,414.6h0.85v0.85h-0.85zM331.7,425.5h0.85v0.85h-0.85zM338.6,411.5h0.85v0.85h-0.85zM326.0,421.5h0.85v0.85h-0.85zM335.3,423.2h0.85v0.85h-0.85zM326.3,410.3h0.85v0.85h-0.85zM325.2,413.6h0.85v0.85h-0.85zM329.1,404.8h0.85v0.85h-0.85zM326.7,410.6h0.85v0.85h-0.85zM328.0,422.4h0.85v0.85h-0.85zM329.2,425.2h0.85v0.85h-0.85zM333.4,424.2h0.85v0.85h-0.85zM337.2,415.9h0.85v0.85h-0.85zM327.7,423.4h0.85v0.85h-0.85zM338.0,419.4h0.85v0.85h-0.85zM335.4,423.3h0.85v0.85h-0.85zM326.5,410.2h0.85v0.85h-0.85zM334.0,404.8h0.85v0.85h-0.85zM324.2,418.2h0.85v0.85h-0.85zM326.1,412.3h0.85v0.85h-0.85zM332.0,423.8h0.85v0.85h-0.85zM334.2,404.9h0.85v0.85h-0.85zM326.1,412.5h0.85v0.85h-0.85zM332.6,404.8h0.85v0.85h-0.85zM335.4,422.6h0.85v0.85h-0.85zM338.4,410.9h0.85v0.85h-0.85zM326.6,412.2h0.85v0.85h-0.85zM324.2,416.6h0.85v0.85h-0.85zM329.5,422.8h0.85v0.85h-0.85zM327.9,422.8h0.85v0.85h-0.85zM328.4,406.5h0.85v0.85h-0.85zM327.7,406.9h0.85v0.85h-0.85zM329.0,423.1h0.85v0.85h-0.85zM325.6,420.4h0.85v0.85h-0.85zM324.2,415.7h0.85v0.85h-0.85zM337.3,410.3h0.85v0.85h-0.85zM330.4,424.1h0.85v0.85h-0.85zM327.7,422.1h0.85v0.85h-0.85zM330.1,423.0h0.85v0.85h-0.85zM327.6,423.9h0.85v0.85h-0.85zM334.8,407.7h0.85v0.85h-0.85zM328.0,406.8h0.85v0.85h-0.85zM324.3,418.6h0.85v0.85h-0.85zM336.6,419.8h0.85v0.85h-0.85zM331.0,421.8h0.85v0.85h-0.85zM336.7,420.5h0.85v0.85h-0.85zM336.8,410.0h0.85v0.85h-0.85zM335.3,408.1h0.85v0.85h-0.85zM327.5,408.3h0.85v0.85h-0.85zM330.1,424.2h0.85v0.85h-0.85zM329.8,423.3h0.85v0.85h-0.85zM337.1,410.1h0.85v0.85h-0.85zM324.8,415.9h0.85v0.85h-0.85zM330.8,425.4h0.85v0.85h-0.85zM327.1,408.9h0.85v0.85h-0.85zM337.0,420.3h0.85v0.85h-0.85zM330.2,424.5h0.85v0.85h-0.85zM330.7,421.9h0.85v0.85h-0.85zM328.4,421.8h0.85v0.85h-0.85zM336.7,419.2h0.85v0.85h-0.85zM328.1,407.1h0.85v0.85h-0.85zM331.9,421.8h0.85v0.85h-0.85zM338.4,414.0h0.85v0.85h-0.85zM331.8,406.0h0.85v0.85h-0.85zM331.7,406.2h0.85v0.85h-0.85zM331.6,422.0h0.85v0.85h-0.85zM334.3,422.6h0.85v0.85h-0.85zM337.4,415.3h0.85v0.85h-0.85zM333.4,421.4h0.85v0.85h-0.85zM331.1,406.5h0.85v0.85h-0.85zM336.6,421.0h0.85v0.85h-0.85zM336.2,421.4h0.85v0.85h-0.85zM327.5,409.5h0.85v0.85h-0.85zM330.4,423.9h0.85v0.85h-0.85zM335.2,407.0h0.85v0.85h-0.85zM335.1,408.3h0.85v0.85h-0.85zM334.3,422.1h0.85v0.85h-0.85zM328.2,410.1h0.85v0.85h-0.85zM337.3,414.9h0.85v0.85h-0.85zM338.3,413.7h0.85v0.85h-0.85zM336.3,419.0h0.85v0.85h-0.85zM331.3,406.4h0.85v0.85h-0.85zM335.3,408.4h0.85v0.85h-0.85zM337.3,414.5h0.85v0.85h-0.85zM327.3,420.2h0.85v0.85h-0.85zM327.6,410.8h0.85v0.85h-0.85zM334.8,421.9h0.85v0.85h-0.85zM332.8,420.7h0.85v0.85h-0.85zM336.2,418.9h0.85v0.85h-0.85zM327.8,412.4h0.85v0.85h-0.85zM337.0,418.0h0.85v0.85h-0.85zM336.2,420.2h0.85v0.85h-0.85zM337.2,411.8h0.85v0.85h-0.85zM330.8,406.9h0.85v0.85h-0.85zM331.6,420.5h0.85v0.85h-0.85zM327.9,408.6h0.85v0.85h-0.85zM335.5,421.6h0.85v0.85h-0.85zM328.3,408.9h0.85v0.85h-0.85zM325.0,416.6h0.85v0.85h-0.85zM324.8,417.8h0.85v0.85h-0.85zM337.0,414.9h0.85v0.85h-0.85zM326.5,414.0h0.85v0.85h-0.85zM326.4,419.3h0.85v0.85h-0.85zM327.2,413.1h0.85v0.85h-0.85zM328.0,421.2h0.85v0.85h-0.85zM328.6,407.2h0.85v0.85h-0.85zM337.8,412.4h0.85v0.85h-0.85zM331.1,421.1h0.85v0.85h-0.85zM328.0,411.1h0.85v0.85h-0.85zM332.5,420.4h0.85v0.85h-0.85zM336.8,415.1h0.85v0.85h-0.85zM326.5,414.0h0.85v0.85h-0.85zM336.4,410.0h0.85v0.85h-0.85zM335.9,419.1h0.85v0.85h-0.85zM337.7,412.7h0.85v0.85h-0.85zM334.0,407.1h0.85v0.85h-0.85zM326.9,420.1h0.85v0.85h-0.85zM325.2,417.8h0.85v0.85h-0.85zM332.7,406.7h0.85v0.85h-0.85zM327.7,419.9h0.85v0.85h-0.85zM329.0,406.7h0.85v0.85h-0.85zM334.5,408.6h0.85v0.85h-0.85zM333.6,421.3h0.85v0.85h-0.85zM325.7,416.7h0.85v0.85h-0.85zM324.8,418.4h0.85v0.85h-0.85zM333.9,406.9h0.85v0.85h-0.85zM330.2,420.9h0.85v0.85h-0.85zM327.0,420.2h0.85v0.85h-0.85zM328.2,419.5h0.85v0.85h-0.85zM327.1,413.8h0.85v0.85h-0.85zM329.4,406.9h0.85v0.85h-0.85zM334.2,421.2h0.85v0.85h-0.85z" fill="#3040e0" fill-opacity="1"/>
<path d="M335.9,419.9h0.85v0.85h-0.85zM325.5,415.5h0.85v0.85h-0.85zM325.5,417.9h0.85v0.85h-0.85zM326.0,419.0h0.85v0.85h-0.85zM335.8,420.5h0.85v0.85h-0.85zM336.5,417.7h0.85v0.85h-0.85zM327.5,413.5h0.85v0.85h-0.85zM337.2,413.4h0.85v0.85h-0.85zM327.1,413.9h0.85v0.85h-0.85zM328.7,409.5h0.85v0.85h-0.85zM333.1,407.5h0.85v0.85h-0.85zM327.2,413.7h0.85v0.85h-0.85zM328.1,412.7h0.85v0.85h-0.85zM333.0,407.6h0.85v0.85h-0.85zM333.6,421.0h0.85v0.85h-0.85z" fill="#3050e0" fill-opacity="1"/>
<path d="M327.8,419.1h0.85v0.85h-0.85zM326.0,415.5h0.85v0.85h-0.85zM328.1,411.6h0.85v0.85h-0.85zM326.2,415.1h0.85v0.85h-0.85zM326.5,419.0h0.85v0.85h-0.85zM337.1,413.2h0.85v0.85h-0.85zM331.3,419.6h0.85v0.85h-0.85zM329.7,419.6h0.85v0.85h-0.85zM329.5,408.4h0.85v0.85h-0.85zM326.4,416.9h0.85v0.85h-0.85zM327.3,418.8h0.85v0.85h-0.85zM336.3,417.4h0.85v0.85h-0.85zM332.9,420.3h0.85v0.85h-0.85zM330.2,410.2h0.85v0.85h-0.85zM336.6,413.9h0.85v0.85h-0.85zM335.5,419.2h0.85v0.85h-0.85zM330.5,419.6h0.85v0.85h-0.85zM326.6,417.3h0.85v0.85h-0.85zM336.1,415.7h0.85v0.85h-0.85zM331.3,419.2h0.85v0.85h-0.85zM336.4,412.1h0.85v0.85h-0.85z" fill="#2050e0" fill-opacity="1"/>
<path d="M329.3,410.8h0.85v0.85h-0.85zM328.9,419.4h0.85v0.85h-0.85zM336.2,413.6h0.85v0.85h-0.85zM328.9,409.5h0.85v0.85h-0.85zM328.9,419.4h0.85v0.85h-0.85zM329.6,419.1h0.85v0.85h-0.85zM328.3,413.5h0.85v0.85h-0.85zM335.5,419.9h0.85v0.85h-0.85zM328.9,419.5h0.85v0.85h-0.85zM335.9,414.1h0.85v0.85h-0.85zM331.3,408.0h0.85v0.85h-0.85zM329.4,418.3h0.85v0.85h-0.85zM327.8,413.7h0.85v0.85h-0.85zM336.1,411.8h0.85v0.85h-0.85zM330.1,408.3h0.85v0.85h-0.85zM327.0,415.8h0.85v0.85h-0.85zM329.8,409.4h0.85v0.85h-0.85zM333.3,408.4h0.85v0.85h-0.85zM329.0,409.0h0.85v0.85h-0.85zM329.6,418.8h0.85v0.85h-0.85zM335.0,418.5h0.85v0.85h-0.85zM330.5,409.0h0.85v0.85h-0.85zM333.4,409.0h0.85v0.85h-0.85zM335.4,412.0h0.85v0.85h-0.85zM336.5,412.3h0.85v0.85h-0.85zM330.0,410.4h0.85v0.85h-0.85zM334.9,418.5h0.85v0.85h-0.85zM335.7,415.7h0.85v0.85h-0.85zM327.1,418.2h0.85v0.85h-0.85zM331.4,408.3h0.85v0.85h-0.85zM336.2,412.9h0.85v0.85h-0.85zM333.5,420.0h0.85v0.85h-0.85zM335.0,418.8h0.85v0.85h-0.85zM334.7,409.5h0.85v0.85h-0.85zM332.9,419.6h0.85v0.85h-0.85zM326.9,416.2h0.85v0.85h-0.85zM328.3,417.9h0.85v0.85h-0.85zM335.1,417.2h0.85v0.85h-0.85zM336.3,413.0h0.85v0.85h-0.85zM335.0,419.7h0.85v0.85h-0.85zM329.4,418.9h0.85v0.85h-0.85zM328.8,413.0h0.85v0.85h-0.85zM333.0,409.0h0.85v0.85h-0.85zM331.3,408.4h0.85v0.85h-0.85z" fill="#2060e0" fill-opacity="1"/>
<path d="M331.2,410.0h0.85v0.85h-0.85zM331.8,418.3h0.85v0.85h-0.85zM327.6,417.9h0.85v0.85h-0.85zM327.9,414.4h0.85v0.85h-0.85zM334.5,417.5h0.85v0.85h-0.85zM329.3,409.4h0.85v0.85h-0.85zM328.6,414.5h0.85v0.85h-0.85zM328.5,414.8h0.85v0.85h-0.85zM331.1,408.6h0.85v0.85h-0.85zM331.6,408.5h0.85v0.85h-0.85zM333.2,409.1h0.85v0.85h-0.85zM327.0,416.5h0.85v0.85h-0.85zM331.5,418.4h0.85v0.85h-0.85zM332.9,418.4h0.85v0.85h-0.85zM336.0,412.2h0.85v0.85h-0.85zM331.1,409.0h0.85v0.85h-0.85zM329.0,416.3h0.85v0.85h-0.85zM327.1,417.5h0.85v0.85h-0.85zM334.5,418.2h0.85v0.85h-0.85zM327.1,417.2h0.85v0.85h-0.85zM333.0,417.1h0.85v0.85h-0.85zM334.6,418.5h0.85v0.85h-0.85zM328.1,415.4h0.85v0.85h-0.85zM333.4,417.3h0.85v0.85h-0.85zM334.9,412.7h0.85v0.85h-0.85zM330.6,411.0h0.85v0.85h-0.85zM335.0,412.4h0.85v0.85h-0.85zM334.8,412.6h0.85v0.85h-0.85zM330.7,417.7h0.85v0.85h-0.85z" fill="#2070e0" fill-opacity="1"/>
<path d="M327.4,417.4h0.85v0.85h-0.85zM332.0,408.7h0.85v0.85h-0.85zM334.6,415.9h0.85v0.85h-0.85zM331.4,417.5h0.85v0.85h-0.85zM331.7,418.2h0.85v0.85h-0.85zM335.0,410.5h0.85v0.85h-0.85zM333.6,409.6h0.85v0.85h-0.85zM334.7,409.7h0.85v0.85h-0.85zM333.2,418.8h0.85v0.85h-0.85zM332.7,410.0h0.85v0.85h-0.85zM330.3,417.1h0.85v0.85h-0.85zM333.2,417.5h0.85v0.85h-0.85zM331.8,410.2h0.85v0.85h-0.85zM329.9,416.9h0.85v0.85h-0.85zM334.1,411.0h0.85v0.85h-0.85zM333.5,417.4h0.85v0.85h-0.85zM328.1,416.7h0.85v0.85h-0.85zM334.5,416.1h0.85v0.85h-0.85zM331.9,408.9h0.85v0.85h-0.85zM330.9,410.7h0.85v0.85h-0.85zM330.8,413.5h0.85v0.85h-0.85zM332.0,417.2h0.85v0.85h-0.85zM328.7,414.7h0.85v0.85h-0.85z" fill="#2080e0" fill-opacity="1"/>
<path d="M330.8,413.3h0.85v0.85h-0.85zM333.5,416.8h0.85v0.85h-0.85zM334.0,410.7h0.85v0.85h-0.85zM333.4,416.8h0.85v0.85h-0.85zM334.6,412.3h0.85v0.85h-0.85zM331.7,410.5h0.85v0.85h-0.85zM333.8,417.1h0.85v0.85h-0.85zM330.8,413.3h0.85v0.85h-0.85zM329.0,417.1h0.85v0.85h-0.85zM329.7,416.1h0.85v0.85h-0.85zM329.8,414.1h0.85v0.85h-0.85zM333.8,417.8h0.85v0.85h-0.85z" fill="#2090d0" fill-opacity="1"/>
<path d="M332.0,410.3h0.85v0.85h-0.85zM334.5,410.8h0.85v0.85h-0.85zM330.9,411.2h0.85v0.85h-0.85zM328.6,416.5h0.85v0.85h-0.85zM333.4,410.8h0.85v0.85h-0.85zM333.3,415.8h0.85v0.85h-0.85zM328.3,416.1h0.85v0.85h-0.85zM329.5,415.6h0.85v0.85h-0.85zM329.7,414.3h0.85v0.85h-0.85zM332.7,409.6h0.85v0.85h-0.85zM331.3,417.8h0.85v0.85h-0.85zM329.1,416.8h0.85v0.85h-0.85zM329.8,414.6h0.85v0.85h-0.85zM330.0,414.7h0.85v0.85h-0.85zM329.8,413.7h0.85v0.85h-0.85z" fill="#20a0c0" fill-opacity="1"/>
<path d="M333.2,416.4h0.85v0.85h-0.85zM333.6,416.1h0.85v0.85h-0.85zM330.0,414.5h0.85v0.85h-0.85zM331.0,417.5h0.85v0.85h-0.85zM332.8,416.5h0.85v0.85h-0.85zM334.1,412.1h0.85v0.85h-0.85zM331.3,413.3h0.85v0.85h-0.85zM333.2,415.4h0.85v0.85h-0.85z" fill="#20b0c0" fill-opacity="1"/>
<path d="M331.5,413.3h0.85v0.85h-0.85zM330.8,412.8h0.85v0.85h-0.85zM331.9,411.7h0.85v0.85h-0.85zM331.2,413.4h0.85v0.85h-0.85zM333.9,415.0h0.85v0.85h-0.85zM333.1,416.1h0.85v0.85h-0.85z" fill="#20b0b0" fill-opacity="1"/>
<path d="M334.1,411.8h0.85v0.85h-0.85zM331.4,414.1h0.85v0.85h-0.85zM334.1,411.8h0.85v0.85h-0.85zM331.3,411.4h0.85v0.85h-0.85zM331.5,411.3h0.85v0.85h-0.85zM331.6,411.2h0.85v0.85h-0.85zM334.6,415.4h0.85v0.85h-0.85zM332.7,414.8h0.85v0.85h-0.85zM331.0,417.0h0.85v0.85h-0.85z" fill="#20c0b0" fill-opacity="1"/>
<path d="M333.1,411.1h0.85v0.85h-0.85zM335.1,413.3h0.85v0.85h-0.85zM333.7,414.2h0.85v0.85h-0.85zM333.8,412.7h0.85v0.85h-0.85zM331.4,412.9h0.85v0.85h-0.85zM330.3,415.3h0.85v0.85h-0.85zM334.5,413.6h0.85v0.85h-0.85zM330.4,415.1h0.85v0.85h-0.85zM333.3,411.5h0.85v0.85h-0.85z" fill="#30c0a0" fill-opacity="1"/>
<path d="M333.1,412.1h0.85v0.85h-0.85zM333.8,412.5h0.85v0.85h-0.85zM331.5,415.3h0.85v0.85h-0.85zM334.2,413.4h0.85v0.85h-0.85zM333.2,411.8h0.85v0.85h-0.85z" fill="#30c090" fill-opacity="1"/>
<path d="M332.9,413.9h0.85v0.85h-0.85zM332.4,414.3h0.85v0.85h-0.85zM332.3,414.9h0.85v0.85h-0.85zM333.3,414.9h0.85v0.85h-0.85zM330.8,415.4h0.85v0.85h-0.85zM333.6,413.1h0.85v0.85h-0.85z" fill="#30c080" fill-opacity="1"/>
<path d="M332.7,414.1h0.85v0.85h-0.85zM332.2,413.6h0.85v0.85h-0.85zM332.7,411.2h0.85v0.85h-0.85z" fill="#40c080" fill-opacity="1"/>
<path d="M332.3,413.7h0.85v0.85h-0.85zM332.3,414.1h0.85v0.85h-0.85zM331.5,415.8h0.85v0.85h-0.85zM332.4,415.2h0.85v0.85h-0.85zM332.3,413.6h0.85v0.85h-0.85zM332.2,415.7h0.85v0.85h-0.85zM332.6,413.6h0.85v0.85h-0.85z" fill="#40c070" fill-opacity="1"/>
<rect x="268.8" y="361.7" width="93.2" height="92.9" fill="none" stroke="#8c8c8c" stroke-width="0.9"/>
<path d="M268.8,361.7h-1.4 M268.8,365.57h-1.4 M268.8,369.44h-1.4 M268.8,373.31h-1.4 M268.8,377.18h-1.4 M268.8,381.05h-1.4 M268.8,384.93h-1.4 M268.8,388.8h-1.4 M268.8,392.67h-1.4 M268.8,396.54h-1.4 M268.8,400.41h-1.4 M268.8,404.28h-1.4 M268.8,408.15h-1.4 M268.8,412.02h-1.4 M268.8,415.89h-1.4 M268.8,419.76h-1.4 M268.8,423.63h-1.4 M268.8,427.5h-1.4 M268.8,431.38h-1.4 M268.8,435.25h-1.4 M268.8,439.12h-1.4 M268.8,442.99h-1.4 M268.8,446.86h-1.4 M268.8,450.73h-1.4 M268.8,454.6h-1.4" stroke="#666" stroke-width="0.8" fill="none"/>
<path d="M268.8,454.6v1.4 M272.68,454.6v1.4 M276.57,454.6v1.4 M280.45,454.6v1.4 M284.33,454.6v1.4 M288.22,454.6v1.4 M292.1,454.6v1.4 M295.98,454.6v1.4 M299.87,454.6v1.4 M303.75,454.6v1.4 M307.63,454.6v1.4 M311.52,454.6v1.4 M315.4,454.6v1.4 M319.28,454.6v1.4 M323.17,454.6v1.4 M327.05,454.6v1.4 M330.93,454.6v1.4 M334.82,454.6v1.4 M338.7,454.6v1.4 M342.58,454.6v1.4 M346.47,454.6v1.4 M350.35,454.6v1.4 M354.23,454.6v1.4 M358.12,454.6v1.4 M362,454.6v1.4" stroke="#666" stroke-width="0.8" fill="none"/>
<rect x="294.3" y="378.9" width="25.4" height="20" fill="none" stroke="#444" stroke-width="0.9"/>
<rect x="316.4" y="398.9" width="29.1" height="31.7" fill="none" stroke="#444" stroke-width="0.9"/>
<text x="292.68" y="375.44" font-size="10.63" font-weight="bold" font-style="normal" fill="#000">SPM</text>
<text x="347.29" y="424.93" font-size="10.91" font-weight="bold" font-style="normal" fill="#000">LPM</text>
<text x="255.4" y="384.5" font-size="6.2" font-weight="bold">10<tspan font-size="3.84" dy="-1.86">4</tspan></text>
<text x="255.4" y="407.7" font-size="6.2" font-weight="bold">10<tspan font-size="3.84" dy="-1.86">3</tspan></text>
<text x="259.08" y="434.74" font-size="6.2" font-weight="bold" font-style="normal" fill="#000">0</text>
<text transform="translate(250.42,430.69) rotate(-90)" font-size="10.6" font-weight="bold" font-style="normal">MHC II</text>
<line x1="246.2" y1="469.9" x2="246.2" y2="437.5" stroke="#222" stroke-width="1.3"/>
<path d="M246.2,435 L247.9,438.6 L244.5,438.6 Z" fill="#222" stroke="none"/>
<line x1="245.6" y1="469.3" x2="283.5" y2="469.3" stroke="#222" stroke-width="1.3"/>
<path d="M286,469.3 L282.4,471 L282.4,467.6 Z" fill="#222" stroke="none"/>
<text x="287.11" y="471.69" font-size="10.61" font-weight="bold" font-style="normal" fill="#000">F4/80</text>
<text x="277.5" y="462.4" font-size="6.2" font-weight="bold">10<tspan font-size="3.84" dy="-1.86">-3</tspan></text>
<text x="296.78" y="462.24" font-size="6.2" font-weight="bold" font-style="normal" fill="#000">0</text>
<text x="309.5" y="462.4" font-size="6.2" font-weight="bold">10<tspan font-size="3.84" dy="-1.86">3</tspan></text>
<text x="330.5" y="462.4" font-size="6.2" font-weight="bold">10<tspan font-size="3.84" dy="-1.86">4</tspan></text>
<text x="348.5" y="462.4" font-size="6.2" font-weight="bold">10<tspan font-size="3.84" dy="-1.86">5</tspan></text>
<path d="M247.9,576.6 L248.37,576.17 L249.01,575.61 L249.78,574.93 L250.6,574.14 L251.39,573.26 L252.1,572.3 L252.74,571.17 L253.36,569.86 L253.96,568.45 L254.53,567.04 L255.08,565.73 L255.6,564.6 L256.08,563.68 L256.53,562.89 L256.96,562.19 L257.36,561.55 L257.74,560.93 L258.1,560.3 L258.44,559.76 L258.76,559.36 L259.05,558.97 L259.33,558.5 L259.61,557.81 L259.9,556.8 L260.19,555.41 L260.47,553.73 L260.76,551.84 L261.04,549.81 L261.32,547.74 L261.6,545.7 L261.89,543.6 L262.18,541.37 L262.48,539.09 L262.76,536.84 L263.04,534.72 L263.3,532.8 L263.54,531.06 L263.77,529.42 L263.98,527.91 L264.19,526.53 L264.39,525.32 L264.6,524.3 L264.8,523.61 L265,523.28 L265.2,523.11 L265.4,522.92 L265.6,522.51 L265.8,521.7 L266.02,520.44 L266.24,518.87 L266.47,517.08 L266.69,515.18 L266.91,513.25 L267.1,511.4 L267.27,509.5 L267.43,507.46 L267.58,505.39 L267.72,503.43 L267.86,501.69 L268,500.3 L268.14,499.25 L268.27,498.45 L268.4,497.87 L268.53,497.5 L268.66,497.31 L268.8,497.3 L268.94,497.45 L269.09,497.79 L269.24,498.31 L269.4,499.03 L269.55,499.96 L269.7,501.1 L269.85,502.58 L270,504.41 L270.16,506.46 L270.31,508.55 L270.46,510.55 L270.6,512.3 L270.74,513.78 L270.87,515.09 L271,516.31 L271.13,517.5 L271.26,518.71 L271.4,520 L271.54,521.23 L271.68,522.33 L271.82,523.44 L271.97,524.75 L272.13,526.42 L272.3,528.6 L272.49,531.5 L272.69,535.01 L272.9,538.88 L273.12,542.84 L273.36,546.63 L273.6,550 L273.86,553.01 L274.12,555.89 L274.4,558.61 L274.69,561.12 L274.99,563.39 L275.3,565.4 L275.63,567.08 L275.97,568.46 L276.32,569.6 L276.68,570.57 L277.04,571.45 L277.4,572.3 L277.76,573.1 L278.13,573.79 L278.5,574.38 L278.87,574.88 L279.24,575.32 L279.6,575.7 L279.98,576.01 L280.39,576.22 L280.79,576.36 L281.16,576.46 L281.47,576.53 L281.7,576.6 Z" fill="#e89ca2" stroke="#d2646e" stroke-width="0.9" stroke-linejoin="round"/>
<path d="M242.7,576.6 L242.84,575.82 L243.04,574.8 L243.27,573.56 L243.52,572.13 L243.77,570.53 L244,568.8 L244.22,566.9 L244.43,564.8 L244.65,562.53 L244.87,560.14 L245.08,557.65 L245.3,555.1 L245.52,552.32 L245.74,549.24 L245.96,546.07 L246.18,543 L246.39,540.25 L246.6,538 L246.8,536.29 L246.99,534.96 L247.17,533.93 L247.35,533.14 L247.52,532.52 L247.7,532 L247.87,531.58 L248.04,531.33 L248.21,531.25 L248.37,531.33 L248.53,531.58 L248.7,532 L248.86,532.58 L249.03,533.33 L249.19,534.25 L249.35,535.33 L249.52,536.58 L249.7,538 L249.89,539.68 L250.09,541.65 L250.29,543.79 L250.49,545.97 L250.7,548.08 L250.9,550 L251.09,551.74 L251.28,553.39 L251.46,554.97 L251.66,556.49 L251.87,557.96 L252.1,559.4 L252.37,560.82 L252.66,562.22 L252.97,563.57 L253.29,564.85 L253.6,566.03 L253.9,567.1 L254.19,568.03 L254.47,568.83 L254.76,569.54 L255.04,570.19 L255.32,570.8 L255.6,571.4 L255.88,571.98 L256.17,572.53 L256.45,573.03 L256.73,573.51 L257.02,573.96 L257.3,574.4 L257.6,574.84 L257.93,575.27 L258.26,575.69 L258.56,576.06 L258.82,576.37 L259,576.6 Z" fill="#9edcf6" stroke="#52bdea" stroke-width="0.9" stroke-linejoin="round" style="mix-blend-mode:multiply"/>
<rect x="222.2" y="485.3" width="91.7" height="91.7" fill="none" stroke="#8c8c8c" stroke-width="0.9"/>
<path d="M222.2,577v1.4 M226.37,577v1.4 M230.54,577v1.4 M234.7,577v1.4 M238.87,577v1.4 M243.04,577v1.4 M247.21,577v1.4 M251.38,577v1.4 M255.55,577v1.4 M259.71,577v1.4 M263.88,577v1.4 M268.05,577v1.4 M272.22,577v1.4 M276.39,577v1.4 M280.55,577v1.4 M284.72,577v1.4 M288.89,577v1.4 M293.06,577v1.4 M297.23,577v1.4 M301.4,577v1.4 M305.56,577v1.4 M309.73,577v1.4 M313.9,577v1.4" stroke="#666" stroke-width="0.8" fill="none"/>
<line x1="257.7" y1="536.7" x2="285.1" y2="536.7" stroke="#333" stroke-width="1.1"/>
<line x1="257.7" y1="534.5" x2="257.7" y2="538.9" stroke="#333" stroke-width="1.1"/>
<line x1="285.1" y1="534.5" x2="285.1" y2="538.9" stroke="#333" stroke-width="1.1"/>
<text x="221.5" y="585.6" font-size="6.2" font-weight="bold">10<tspan font-size="3.84" dy="-1.86">-3</tspan></text>
<text x="239.78" y="585.34" font-size="6.2" font-weight="bold" font-style="normal" fill="#000">0</text>
<text x="251.5" y="585.6" font-size="6.2" font-weight="bold">10<tspan font-size="3.84" dy="-1.86">3</tspan></text>
<text x="277.5" y="585.6" font-size="6.2" font-weight="bold">10<tspan font-size="3.84" dy="-1.86">4</tspan></text>
<text x="300.5" y="585.6" font-size="6.2" font-weight="bold">10<tspan font-size="3.84" dy="-1.86">5</tspan></text>
<path d="M352,576.6 L352.48,575.87 L353.15,574.77 L353.94,573.51 L354.77,572.31 L355.59,571.4 L356.3,571 L356.9,571.24 L357.43,571.96 L357.94,572.98 L358.47,574.07 L359.04,575.05 L359.7,575.7 L360.49,576.04 L361.4,576.21 L362.36,576.28 L363.3,576.25 L364.17,576.18 L364.9,576.1 L365.47,576 L365.93,575.84 L366.31,575.63 L366.66,575.39 L367.01,575.11 L367.4,574.8 L367.84,574.48 L368.29,574.16 L368.75,573.79 L369.2,573.38 L369.62,572.89 L370,572.3 L370.34,571.63 L370.65,570.89 L370.93,570.07 L371.2,569.18 L371.45,568.19 L371.7,567.1 L371.94,565.93 L372.16,564.67 L372.37,563.33 L372.58,561.88 L372.79,560.31 L373,558.6 L373.22,556.75 L373.43,554.78 L373.65,552.69 L373.87,550.47 L374.08,548.14 L374.3,545.7 L374.52,543.04 L374.75,540.16 L374.98,537.15 L375.2,534.14 L375.41,531.26 L375.6,528.6 L375.76,526.19 L375.9,523.92 L376.02,521.78 L376.14,519.71 L376.27,517.7 L376.4,515.7 L376.55,513.7 L376.7,511.73 L376.85,509.8 L377,507.95 L377.15,506.21 L377.3,504.6 L377.44,503.08 L377.57,501.61 L377.7,500.26 L377.83,499.05 L377.96,498.05 L378.1,497.3 L378.25,496.79 L378.4,496.49 L378.55,496.39 L378.7,496.49 L378.85,496.79 L379,497.3 L379.14,498.05 L379.27,499.05 L379.4,500.26 L379.53,501.61 L379.66,503.08 L379.8,504.6 L379.94,506.16 L380.08,507.8 L380.22,509.54 L380.37,511.41 L380.53,513.46 L380.7,515.7 L380.89,518.2 L381.1,520.95 L381.32,523.87 L381.55,526.87 L381.78,529.87 L382,532.8 L382.21,535.68 L382.42,538.59 L382.62,541.51 L382.84,544.4 L383.06,547.24 L383.3,550 L383.56,552.75 L383.82,555.52 L384.1,558.24 L384.39,560.84 L384.69,563.25 L385,565.4 L385.32,567.3 L385.65,568.99 L385.99,570.5 L386.35,571.83 L386.72,572.99 L387.1,574 L387.53,574.81 L388.03,575.41 L388.53,575.84 L389.01,576.15 L389.41,576.39 L389.7,576.6 Z" fill="#e89ca2" stroke="#d2646e" stroke-width="0.9" stroke-linejoin="round"/>
<path d="M348.1,576.6 L348.3,576.22 L348.57,575.77 L348.89,575.2 L349.24,574.46 L349.58,573.51 L349.9,572.3 L350.19,570.81 L350.49,569.06 L350.78,567.11 L351.07,564.97 L351.34,562.69 L351.6,560.3 L351.84,557.7 L352.07,554.85 L352.28,551.86 L352.49,548.83 L352.69,545.87 L352.9,543.1 L353.11,540.44 L353.31,537.79 L353.51,535.21 L353.7,532.77 L353.9,530.55 L354.1,528.6 L354.3,526.93 L354.5,525.48 L354.7,524.24 L354.9,523.21 L355.1,522.36 L355.3,521.7 L355.5,521.22 L355.7,520.93 L355.91,520.84 L356.11,520.93 L356.31,521.22 L356.5,521.7 L356.69,522.33 L356.87,523.11 L357.04,524.08 L357.22,525.29 L357.41,526.78 L357.6,528.6 L357.81,530.86 L358.02,533.54 L358.24,536.51 L358.47,539.62 L358.69,542.73 L358.9,545.7 L359.1,548.64 L359.29,551.68 L359.47,554.73 L359.66,557.66 L359.87,560.39 L360.1,562.8 L360.37,564.88 L360.66,566.72 L360.97,568.35 L361.29,569.8 L361.6,571.11 L361.9,572.3 L362.21,573.37 L362.54,574.28 L362.86,575.04 L363.16,575.68 L363.42,576.19 L363.6,576.6 Z" fill="#9edcf6" stroke="#52bdea" stroke-width="0.9" stroke-linejoin="round" style="mix-blend-mode:multiply"/>
<rect x="315.9" y="485.3" width="91.1" height="91.7" fill="none" stroke="#8c8c8c" stroke-width="0.9"/>
<path d="M315.9,577v1.4 M320.04,577v1.4 M324.18,577v1.4 M328.32,577v1.4 M332.46,577v1.4 M336.6,577v1.4 M340.75,577v1.4 M344.89,577v1.4 M349.03,577v1.4 M353.17,577v1.4 M357.31,577v1.4 M361.45,577v1.4 M365.59,577v1.4 M369.73,577v1.4 M373.87,577v1.4 M378.01,577v1.4 M382.15,577v1.4 M386.3,577v1.4 M390.44,577v1.4 M394.58,577v1.4 M398.72,577v1.4 M402.86,577v1.4 M407,577v1.4" stroke="#666" stroke-width="0.8" fill="none"/>
<line x1="366.4" y1="546.4" x2="395.3" y2="546.4" stroke="#333" stroke-width="1.1"/>
<line x1="366.4" y1="544.2" x2="366.4" y2="548.6" stroke="#333" stroke-width="1.1"/>
<line x1="395.3" y1="544.2" x2="395.3" y2="548.6" stroke="#333" stroke-width="1.1"/>
<text x="313.5" y="585.6" font-size="6.2" font-weight="bold">10<tspan font-size="3.84" dy="-1.86">-4</tspan></text>
<text x="332.5" y="585.6" font-size="6.2" font-weight="bold">10<tspan font-size="3.84" dy="-1.86">-3</tspan></text>
<text x="349.78" y="585.34" font-size="6.2" font-weight="bold" font-style="normal" fill="#000">0</text>
<text x="361.5" y="585.6" font-size="6.2" font-weight="bold">10<tspan font-size="3.84" dy="-1.86">3</tspan></text>
<text x="381.5" y="585.6" font-size="6.2" font-weight="bold">10<tspan font-size="3.84" dy="-1.86">4</tspan></text>
<text x="395.5" y="585.6" font-size="6.2" font-weight="bold">10<tspan font-size="3.84" dy="-1.86">5</tspan></text>
<text x="274.22" y="549.97" font-size="10.95" font-weight="bold" font-style="normal" fill="#000">92.1%</text>
<text x="384.43" y="557.34" font-size="10.49" font-weight="bold" font-style="normal" fill="#000">93.3%</text>
<line x1="222" y1="596" x2="242" y2="596" stroke="#000" stroke-width="1.1"/>
<path d="M244,596 L241,597.35 L241,594.65 Z" fill="#000" stroke="none"/>
<text x="246.21" y="598.92" font-size="12.16" font-weight="bold" font-style="normal" fill="#000">GATA6</text>
<line x1="317.6" y1="596" x2="337.7" y2="596" stroke="#000" stroke-width="1.1"/>
<path d="M339.7,596 L336.7,597.35 L336.7,594.65 Z" fill="#000" stroke="none"/>
<text x="341.4" y="598.88" font-size="12.11" font-weight="bold" font-style="normal" fill="#000">ARG1</text>
<line x1="304.5" y1="398.9" x2="248.5" y2="520.8" stroke="#78b548" stroke-width="0.95"/>
<path d="M248.5,520.8 L248.53,517.07 L251.31,518.35 Z" fill="#78b548" stroke="none"/>
<line x1="330.3" y1="430.6" x2="274.6" y2="507.4" stroke="#78b548" stroke-width="0.95"/>
<path d="M274.6,507.4 L275.36,503.75 L277.83,505.55 Z" fill="#78b548" stroke="none"/>
<line x1="304.5" y1="398.9" x2="354.9" y2="517" stroke="#e39550" stroke-width="0.95"/>
<path d="M354.9,517 L352.16,514.47 L354.97,513.27 Z" fill="#e39550" stroke="none"/>
<line x1="330.3" y1="430.6" x2="372.1" y2="500.5" stroke="#e39550" stroke-width="0.95"/>
<path d="M372.1,500.5 L369.04,498.37 L371.67,496.8 Z" fill="#e39550" stroke="none"/>
<text x="503.16" y="357.49" font-size="15.93" font-weight="bold" font-style="normal" fill="#000">ELL</text>
<path d="M506.9,406.5h0.85v0.85h-0.85zM505.6,417.1h0.85v0.85h-0.85zM512.4,421.4h0.85v0.85h-0.85zM512.4,384.4h0.85v0.85h-0.85zM503.7,394.6h0.85v0.85h-0.85zM545.5,440.6h0.85v0.85h-0.85zM531.7,390.1h0.85v0.85h-0.85zM530.7,433.6h0.85v0.85h-0.85zM548.5,438.1h0.85v0.85h-0.85zM521.2,425.7h0.85v0.85h-0.85zM530.8,443.4h0.85v0.85h-0.85zM515.6,428.4h0.85v0.85h-0.85zM507.9,413.4h0.85v0.85h-0.85zM513.1,424.6h0.85v0.85h-0.85zM515.3,383.2h0.85v0.85h-0.85zM525.2,381.5h0.85v0.85h-0.85zM518.6,397.2h0.85v0.85h-0.85zM527.3,394.1h0.85v0.85h-0.85zM516.1,411.6h0.85v0.85h-0.85zM544.6,396.0h0.85v0.85h-0.85zM525.1,435.3h0.85v0.85h-0.85zM515.8,405.0h0.85v0.85h-0.85zM510.4,415.2h0.85v0.85h-0.85zM547.1,432.4h0.85v0.85h-0.85zM545.4,432.9h0.85v0.85h-0.85zM552.8,404.0h0.85v0.85h-0.85zM528.3,431.7h0.85v0.85h-0.85zM540.7,393.7h0.85v0.85h-0.85zM508.3,391.3h0.85v0.85h-0.85zM506.1,385.0h0.85v0.85h-0.85zM511.5,413.8h0.85v0.85h-0.85zM513.0,406.2h0.85v0.85h-0.85zM527.2,436.3h0.85v0.85h-0.85zM550.9,422.0h0.85v0.85h-0.85zM537.1,432.5h0.85v0.85h-0.85zM549.6,413.4h0.85v0.85h-0.85zM534.1,430.7h0.85v0.85h-0.85zM520.2,411.7h0.85v0.85h-0.85zM508.6,382.6h0.85v0.85h-0.85zM512.5,408.9h0.85v0.85h-0.85zM510.5,395.8h0.85v0.85h-0.85zM521.5,380.7h0.85v0.85h-0.85zM521.7,397.8h0.85v0.85h-0.85zM551.5,410.5h0.85v0.85h-0.85zM520.0,379.7h0.85v0.85h-0.85zM546.9,400.1h0.85v0.85h-0.85zM514.9,414.8h0.85v0.85h-0.85z" fill="#5060e0" fill-opacity="0.55"/>
<path d="M527.9,397.1h0.85v0.85h-0.85zM515.9,401.2h0.85v0.85h-0.85zM514.2,394.2h0.85v0.85h-0.85zM550.2,420.9h0.85v0.85h-0.85zM512.9,378.1h0.85v0.85h-0.85zM542.3,432.5h0.85v0.85h-0.85zM519.1,407.6h0.85v0.85h-0.85zM525.3,429.5h0.85v0.85h-0.85zM525.0,426.9h0.85v0.85h-0.85zM546.7,392.8h0.85v0.85h-0.85zM513.5,403.0h0.85v0.85h-0.85zM551.8,418.9h0.85v0.85h-0.85zM526.2,399.8h0.85v0.85h-0.85zM529.8,395.4h0.85v0.85h-0.85zM551.0,405.9h0.85v0.85h-0.85zM548.5,394.4h0.85v0.85h-0.85zM518.6,406.3h0.85v0.85h-0.85zM510.5,379.6h0.85v0.85h-0.85zM512.4,393.8h0.85v0.85h-0.85zM511.0,377.2h0.85v0.85h-0.85zM509.1,384.8h0.85v0.85h-0.85zM516.4,414.7h0.85v0.85h-0.85zM546.0,399.5h0.85v0.85h-0.85zM551.9,407.9h0.85v0.85h-0.85zM526.3,430.3h0.85v0.85h-0.85zM515.5,393.8h0.85v0.85h-0.85zM519.5,406.3h0.85v0.85h-0.85zM516.4,419.1h0.85v0.85h-0.85zM517.1,391.3h0.85v0.85h-0.85zM520.1,416.8h0.85v0.85h-0.85zM521.7,403.1h0.85v0.85h-0.85zM523.3,405.3h0.85v0.85h-0.85zM517.8,412.4h0.85v0.85h-0.85zM521.2,417.4h0.85v0.85h-0.85zM543.1,430.8h0.85v0.85h-0.85zM543.3,430.1h0.85v0.85h-0.85zM516.4,403.2h0.85v0.85h-0.85zM524.1,423.3h0.85v0.85h-0.85zM525.9,399.2h0.85v0.85h-0.85zM550.2,417.0h0.85v0.85h-0.85zM523.2,400.2h0.85v0.85h-0.85zM548.3,417.3h0.85v0.85h-0.85zM518.5,419.7h0.85v0.85h-0.85zM511.0,390.2h0.85v0.85h-0.85zM545.8,404.1h0.85v0.85h-0.85zM510.7,388.0h0.85v0.85h-0.85zM537.0,392.9h0.85v0.85h-0.85zM525.3,425.8h0.85v0.85h-0.85zM546.1,394.9h0.85v0.85h-0.85zM514.0,388.3h0.85v0.85h-0.85z" fill="#5050e0" fill-opacity="0.55"/>
<path d="M547.3,407.8h0.85v0.85h-0.85zM515.6,388.0h0.85v0.85h-0.85zM536.5,430.8h0.85v0.85h-0.85zM513.1,388.0h0.85v0.85h-0.85zM516.3,391.5h0.85v0.85h-0.85zM520.7,391.3h0.85v0.85h-0.85zM523.8,405.5h0.85v0.85h-0.85zM528.2,425.0h0.85v0.85h-0.85zM542.5,400.1h0.85v0.85h-0.85zM523.0,414.6h0.85v0.85h-0.85zM539.4,429.6h0.85v0.85h-0.85zM532.6,427.9h0.85v0.85h-0.85zM524.0,422.2h0.85v0.85h-0.85zM521.3,418.8h0.85v0.85h-0.85zM547.1,407.7h0.85v0.85h-0.85zM511.3,387.7h0.85v0.85h-0.85zM523.4,388.0h0.85v0.85h-0.85zM529.4,399.9h0.85v0.85h-0.85zM524.0,389.0h0.85v0.85h-0.85zM546.7,424.5h0.85v0.85h-0.85zM524.7,417.7h0.85v0.85h-0.85zM547.9,417.1h0.85v0.85h-0.85zM523.0,390.3h0.85v0.85h-0.85zM517.4,389.8h0.85v0.85h-0.85zM523.2,404.3h0.85v0.85h-0.85zM518.4,390.7h0.85v0.85h-0.85zM542.5,427.1h0.85v0.85h-0.85zM547.9,423.6h0.85v0.85h-0.85zM530.6,427.4h0.85v0.85h-0.85zM536.8,429.0h0.85v0.85h-0.85zM547.1,426.2h0.85v0.85h-0.85zM524.3,402.2h0.85v0.85h-0.85zM537.8,396.0h0.85v0.85h-0.85zM518.9,418.0h0.85v0.85h-0.85zM546.6,425.2h0.85v0.85h-0.85zM536.2,395.1h0.85v0.85h-0.85zM537.0,394.0h0.85v0.85h-0.85zM542.6,400.9h0.85v0.85h-0.85zM543.5,399.8h0.85v0.85h-0.85zM539.6,398.7h0.85v0.85h-0.85zM520.6,390.8h0.85v0.85h-0.85zM520.9,384.6h0.85v0.85h-0.85zM537.8,394.2h0.85v0.85h-0.85zM525.0,422.9h0.85v0.85h-0.85zM518.7,383.8h0.85v0.85h-0.85zM536.3,396.5h0.85v0.85h-0.85zM538.6,429.0h0.85v0.85h-0.85zM531.3,399.6h0.85v0.85h-0.85zM535.6,399.1h0.85v0.85h-0.85zM544.3,403.5h0.85v0.85h-0.85zM537.2,399.6h0.85v0.85h-0.85zM540.7,428.4h0.85v0.85h-0.85zM538.1,398.4h0.85v0.85h-0.85zM546.3,423.4h0.85v0.85h-0.85zM537.4,399.8h0.85v0.85h-0.85zM518.8,384.1h0.85v0.85h-0.85zM521.4,387.7h0.85v0.85h-0.85zM520.1,388.2h0.85v0.85h-0.85zM517.8,385.5h0.85v0.85h-0.85zM525.4,420.2h0.85v0.85h-0.85zM542.0,428.9h0.85v0.85h-0.85zM526.3,403.8h0.85v0.85h-0.85zM518.0,387.2h0.85v0.85h-0.85zM519.3,384.3h0.85v0.85h-0.85zM522.8,389.5h0.85v0.85h-0.85zM526.1,403.9h0.85v0.85h-0.85zM524.7,416.7h0.85v0.85h-0.85zM547.9,411.2h0.85v0.85h-0.85zM528.8,401.6h0.85v0.85h-0.85zM529.1,401.4h0.85v0.85h-0.85zM538.9,400.9h0.85v0.85h-0.85zM539.6,401.3h0.85v0.85h-0.85zM546.3,408.8h0.85v0.85h-0.85zM527.4,402.4h0.85v0.85h-0.85zM546.0,423.7h0.85v0.85h-0.85zM523.9,413.7h0.85v0.85h-0.85zM543.7,402.6h0.85v0.85h-0.85zM543.9,402.0h0.85v0.85h-0.85zM534.2,401.0h0.85v0.85h-0.85zM537.1,427.6h0.85v0.85h-0.85zM519.5,386.8h0.85v0.85h-0.85zM526.3,420.8h0.85v0.85h-0.85zM528.2,423.9h0.85v0.85h-0.85zM533.1,401.0h0.85v0.85h-0.85zM541.4,426.6h0.85v0.85h-0.85zM543.2,423.9h0.85v0.85h-0.85zM519.7,385.6h0.85v0.85h-0.85zM528.3,402.9h0.85v0.85h-0.85zM519.1,386.0h0.85v0.85h-0.85zM541.9,425.7h0.85v0.85h-0.85zM524.4,411.6h0.85v0.85h-0.85zM526.7,406.3h0.85v0.85h-0.85zM527.1,407.0h0.85v0.85h-0.85zM529.5,405.3h0.85v0.85h-0.85zM525.4,410.2h0.85v0.85h-0.85zM528.0,404.5h0.85v0.85h-0.85zM524.3,414.2h0.85v0.85h-0.85zM545.5,420.5h0.85v0.85h-0.85zM542.6,404.5h0.85v0.85h-0.85zM532.2,401.7h0.85v0.85h-0.85zM534.4,426.3h0.85v0.85h-0.85zM529.0,407.1h0.85v0.85h-0.85zM545.0,408.2h0.85v0.85h-0.85zM545.0,408.4h0.85v0.85h-0.85zM535.7,401.3h0.85v0.85h-0.85zM546.4,416.8h0.85v0.85h-0.85zM542.0,404.3h0.85v0.85h-0.85zM527.7,407.6h0.85v0.85h-0.85zM529.0,407.6h0.85v0.85h-0.85zM530.1,408.0h0.85v0.85h-0.85zM530.1,405.1h0.85v0.85h-0.85zM543.7,423.2h0.85v0.85h-0.85zM531.6,403.9h0.85v0.85h-0.85zM525.2,411.1h0.85v0.85h-0.85zM525.8,411.1h0.85v0.85h-0.85zM532.8,402.1h0.85v0.85h-0.85zM526.4,409.5h0.85v0.85h-0.85zM542.5,405.9h0.85v0.85h-0.85zM526.8,419.9h0.85v0.85h-0.85zM531.6,402.3h0.85v0.85h-0.85zM546.1,411.8h0.85v0.85h-0.85zM544.7,422.2h0.85v0.85h-0.85zM543.8,408.1h0.85v0.85h-0.85zM527.4,421.6h0.85v0.85h-0.85zM525.7,409.1h0.85v0.85h-0.85z" fill="#4050e0" fill-opacity="0.55"/>
<path d="M543.3,408.1h0.85v0.85h-0.85zM530.3,402.8h0.85v0.85h-0.85zM528.6,410.0h0.85v0.85h-0.85zM531.2,403.2h0.85v0.85h-0.85zM526.7,408.6h0.85v0.85h-0.85zM531.7,425.5h0.85v0.85h-0.85zM527.7,409.4h0.85v0.85h-0.85zM540.4,426.5h0.85v0.85h-0.85zM525.3,411.7h0.85v0.85h-0.85zM527.5,410.1h0.85v0.85h-0.85zM545.0,420.6h0.85v0.85h-0.85zM545.6,411.7h0.85v0.85h-0.85zM546.0,412.1h0.85v0.85h-0.85zM532.1,406.9h0.85v0.85h-0.85zM543.2,409.0h0.85v0.85h-0.85zM527.6,410.6h0.85v0.85h-0.85zM532.4,403.7h0.85v0.85h-0.85zM529.3,410.4h0.85v0.85h-0.85zM532.6,425.2h0.85v0.85h-0.85zM532.6,405.4h0.85v0.85h-0.85zM546.1,412.7h0.85v0.85h-0.85zM546.1,414.9h0.85v0.85h-0.85zM546.1,412.8h0.85v0.85h-0.85zM538.9,426.0h0.85v0.85h-0.85zM541.4,403.6h0.85v0.85h-0.85zM526.3,415.8h0.85v0.85h-0.85zM532.3,409.1h0.85v0.85h-0.85zM538.4,426.7h0.85v0.85h-0.85zM529.4,424.0h0.85v0.85h-0.85zM525.3,414.0h0.85v0.85h-0.85zM531.9,424.7h0.85v0.85h-0.85zM536.4,425.6h0.85v0.85h-0.85zM545.2,415.7h0.85v0.85h-0.85zM544.9,410.6h0.85v0.85h-0.85zM544.7,419.4h0.85v0.85h-0.85zM531.6,409.2h0.85v0.85h-0.85zM538.9,403.3h0.85v0.85h-0.85zM542.0,422.9h0.85v0.85h-0.85zM545.9,414.5h0.85v0.85h-0.85zM544.9,417.2h0.85v0.85h-0.85zM538.5,403.5h0.85v0.85h-0.85zM535.6,424.4h0.85v0.85h-0.85zM538.3,425.7h0.85v0.85h-0.85zM540.7,405.1h0.85v0.85h-0.85zM530.1,424.7h0.85v0.85h-0.85zM544.2,420.5h0.85v0.85h-0.85zM542.5,408.8h0.85v0.85h-0.85zM537.2,403.4h0.85v0.85h-0.85zM536.8,425.8h0.85v0.85h-0.85zM533.2,406.4h0.85v0.85h-0.85zM541.6,407.1h0.85v0.85h-0.85zM532.5,424.0h0.85v0.85h-0.85zM541.0,407.6h0.85v0.85h-0.85zM542.7,409.5h0.85v0.85h-0.85zM526.7,414.6h0.85v0.85h-0.85zM531.6,410.5h0.85v0.85h-0.85zM540.2,405.0h0.85v0.85h-0.85zM536.2,403.3h0.85v0.85h-0.85zM526.8,414.0h0.85v0.85h-0.85zM529.6,422.9h0.85v0.85h-0.85zM526.4,413.0h0.85v0.85h-0.85zM533.9,406.1h0.85v0.85h-0.85zM534.4,424.4h0.85v0.85h-0.85zM527.6,413.7h0.85v0.85h-0.85zM538.9,403.8h0.85v0.85h-0.85zM539.6,404.7h0.85v0.85h-0.85zM532.2,424.1h0.85v0.85h-0.85zM541.2,408.0h0.85v0.85h-0.85zM531.2,423.4h0.85v0.85h-0.85zM545.2,412.3h0.85v0.85h-0.85zM539.0,404.8h0.85v0.85h-0.85zM539.0,404.7h0.85v0.85h-0.85zM527.3,414.6h0.85v0.85h-0.85zM538.3,404.2h0.85v0.85h-0.85zM534.2,403.4h0.85v0.85h-0.85zM533.9,403.9h0.85v0.85h-0.85zM527.7,412.6h0.85v0.85h-0.85zM545.3,413.4h0.85v0.85h-0.85z" fill="#4050e0" fill-opacity="1"/>
<path d="M531.6,423.6h0.85v0.85h-0.85zM535.0,403.9h0.85v0.85h-0.85zM538.0,404.0h0.85v0.85h-0.85zM544.4,416.3h0.85v0.85h-0.85zM530.9,423.2h0.85v0.85h-0.85zM529.6,422.0h0.85v0.85h-0.85zM535.0,424.2h0.85v0.85h-0.85zM527.4,417.9h0.85v0.85h-0.85zM545.1,413.3h0.85v0.85h-0.85zM544.4,418.8h0.85v0.85h-0.85zM540.4,406.2h0.85v0.85h-0.85zM540.5,407.2h0.85v0.85h-0.85zM542.5,409.4h0.85v0.85h-0.85zM542.3,421.8h0.85v0.85h-0.85zM538.8,424.6h0.85v0.85h-0.85zM544.4,418.2h0.85v0.85h-0.85zM528.2,419.8h0.85v0.85h-0.85zM530.5,411.6h0.85v0.85h-0.85zM539.7,424.8h0.85v0.85h-0.85zM529.7,422.0h0.85v0.85h-0.85zM538.5,425.0h0.85v0.85h-0.85zM541.7,421.5h0.85v0.85h-0.85zM544.3,417.0h0.85v0.85h-0.85zM533.2,409.5h0.85v0.85h-0.85zM527.4,414.9h0.85v0.85h-0.85zM532.8,410.0h0.85v0.85h-0.85zM540.4,423.3h0.85v0.85h-0.85zM539.4,425.1h0.85v0.85h-0.85zM536.2,403.9h0.85v0.85h-0.85zM537.1,424.7h0.85v0.85h-0.85zM534.7,405.2h0.85v0.85h-0.85zM539.1,424.3h0.85v0.85h-0.85zM540.4,423.0h0.85v0.85h-0.85zM540.9,422.7h0.85v0.85h-0.85zM539.2,424.6h0.85v0.85h-0.85zM528.4,418.7h0.85v0.85h-0.85zM537.1,404.1h0.85v0.85h-0.85zM539.8,422.9h0.85v0.85h-0.85zM534.4,406.0h0.85v0.85h-0.85zM544.6,414.2h0.85v0.85h-0.85zM542.5,420.6h0.85v0.85h-0.85zM527.5,416.6h0.85v0.85h-0.85zM542.9,420.4h0.85v0.85h-0.85zM531.2,422.5h0.85v0.85h-0.85zM539.6,423.3h0.85v0.85h-0.85zM534.4,406.6h0.85v0.85h-0.85zM544.5,415.4h0.85v0.85h-0.85zM534.4,405.4h0.85v0.85h-0.85zM530.6,421.9h0.85v0.85h-0.85zM528.2,414.1h0.85v0.85h-0.85zM533.4,409.3h0.85v0.85h-0.85zM530.1,422.0h0.85v0.85h-0.85zM534.7,406.0h0.85v0.85h-0.85zM543.9,412.8h0.85v0.85h-0.85zM531.7,423.2h0.85v0.85h-0.85zM527.6,415.4h0.85v0.85h-0.85zM528.3,413.9h0.85v0.85h-0.85zM528.9,412.5h0.85v0.85h-0.85zM542.5,411.3h0.85v0.85h-0.85zM533.7,408.8h0.85v0.85h-0.85zM542.9,412.2h0.85v0.85h-0.85zM528.8,418.8h0.85v0.85h-0.85zM539.5,408.6h0.85v0.85h-0.85zM528.9,420.1h0.85v0.85h-0.85zM539.1,407.1h0.85v0.85h-0.85zM543.5,413.3h0.85v0.85h-0.85zM533.9,407.4h0.85v0.85h-0.85zM543.7,414.3h0.85v0.85h-0.85zM539.4,408.6h0.85v0.85h-0.85zM543.8,418.9h0.85v0.85h-0.85zM528.8,418.5h0.85v0.85h-0.85zM543.0,413.3h0.85v0.85h-0.85zM536.9,404.9h0.85v0.85h-0.85zM530.8,412.0h0.85v0.85h-0.85zM533.2,410.5h0.85v0.85h-0.85zM539.7,408.6h0.85v0.85h-0.85zM541.9,420.4h0.85v0.85h-0.85zM529.9,413.2h0.85v0.85h-0.85zM535.9,405.2h0.85v0.85h-0.85zM529.1,420.1h0.85v0.85h-0.85zM540.0,408.7h0.85v0.85h-0.85zM530.1,421.4h0.85v0.85h-0.85zM528.9,418.4h0.85v0.85h-0.85zM538.9,408.6h0.85v0.85h-0.85zM537.2,424.1h0.85v0.85h-0.85zM527.9,416.2h0.85v0.85h-0.85zM543.3,413.4h0.85v0.85h-0.85zM530.5,421.2h0.85v0.85h-0.85zM543.1,419.7h0.85v0.85h-0.85zM536.6,404.6h0.85v0.85h-0.85zM535.6,406.8h0.85v0.85h-0.85zM535.9,423.2h0.85v0.85h-0.85zM534.2,409.9h0.85v0.85h-0.85zM533.8,423.2h0.85v0.85h-0.85zM542.8,413.3h0.85v0.85h-0.85zM534.8,423.6h0.85v0.85h-0.85zM537.3,405.8h0.85v0.85h-0.85zM541.5,411.2h0.85v0.85h-0.85zM541.0,410.9h0.85v0.85h-0.85zM535.7,405.8h0.85v0.85h-0.85zM531.5,422.1h0.85v0.85h-0.85zM537.4,405.3h0.85v0.85h-0.85zM528.6,413.8h0.85v0.85h-0.85zM531.5,412.3h0.85v0.85h-0.85zM540.9,409.9h0.85v0.85h-0.85zM536.0,405.8h0.85v0.85h-0.85zM536.6,406.7h0.85v0.85h-0.85zM541.8,411.9h0.85v0.85h-0.85zM528.9,417.8h0.85v0.85h-0.85zM537.6,408.1h0.85v0.85h-0.85zM542.3,413.1h0.85v0.85h-0.85zM543.6,417.9h0.85v0.85h-0.85zM533.8,410.6h0.85v0.85h-0.85zM537.5,408.6h0.85v0.85h-0.85zM537.9,408.0h0.85v0.85h-0.85zM543.5,417.7h0.85v0.85h-0.85zM538.5,422.8h0.85v0.85h-0.85zM543.2,418.8h0.85v0.85h-0.85zM535.5,408.6h0.85v0.85h-0.85zM542.6,419.3h0.85v0.85h-0.85zM529.5,418.9h0.85v0.85h-0.85zM538.5,422.8h0.85v0.85h-0.85zM542.3,419.5h0.85v0.85h-0.85zM532.0,411.5h0.85v0.85h-0.85zM539.3,422.1h0.85v0.85h-0.85zM533.6,411.0h0.85v0.85h-0.85zM535.7,408.5h0.85v0.85h-0.85zM535.9,408.8h0.85v0.85h-0.85zM531.1,412.6h0.85v0.85h-0.85zM536.5,422.6h0.85v0.85h-0.85zM532.0,411.9h0.85v0.85h-0.85zM542.5,413.6h0.85v0.85h-0.85zM542.8,414.3h0.85v0.85h-0.85zM535.7,407.6h0.85v0.85h-0.85zM532.8,422.0h0.85v0.85h-0.85zM532.5,411.3h0.85v0.85h-0.85zM535.5,408.8h0.85v0.85h-0.85zM533.7,422.0h0.85v0.85h-0.85zM536.7,407.0h0.85v0.85h-0.85zM538.3,406.6h0.85v0.85h-0.85zM532.8,421.7h0.85v0.85h-0.85zM542.7,413.9h0.85v0.85h-0.85zM530.1,419.3h0.85v0.85h-0.85zM536.8,423.6h0.85v0.85h-0.85zM543.1,416.3h0.85v0.85h-0.85zM541.6,412.2h0.85v0.85h-0.85zM538.1,423.2h0.85v0.85h-0.85zM530.2,419.3h0.85v0.85h-0.85zM538.0,406.9h0.85v0.85h-0.85zM529.1,414.5h0.85v0.85h-0.85zM536.3,407.5h0.85v0.85h-0.85zM541.1,419.8h0.85v0.85h-0.85zM528.6,416.2h0.85v0.85h-0.85zM540.1,410.5h0.85v0.85h-0.85zM537.5,406.9h0.85v0.85h-0.85zM532.0,420.3h0.85v0.85h-0.85zM529.0,417.3h0.85v0.85h-0.85zM540.1,421.5h0.85v0.85h-0.85zM535.1,421.9h0.85v0.85h-0.85z" fill="#3040e0" fill-opacity="1"/>
<path d="M532.3,419.2h0.85v0.85h-0.85zM539.9,410.5h0.85v0.85h-0.85zM532.2,419.2h0.85v0.85h-0.85zM539.6,421.4h0.85v0.85h-0.85zM539.9,410.7h0.85v0.85h-0.85zM529.3,414.7h0.85v0.85h-0.85zM528.8,416.2h0.85v0.85h-0.85zM542.6,416.9h0.85v0.85h-0.85zM535.8,409.0h0.85v0.85h-0.85z" fill="#3050e0" fill-opacity="1"/>
<path d="M535.6,409.3h0.85v0.85h-0.85zM529.9,417.0h0.85v0.85h-0.85zM530.9,413.6h0.85v0.85h-0.85zM531.6,420.4h0.85v0.85h-0.85zM531.4,413.7h0.85v0.85h-0.85zM530.7,419.4h0.85v0.85h-0.85zM531.3,413.6h0.85v0.85h-0.85zM535.1,410.7h0.85v0.85h-0.85zM537.7,422.7h0.85v0.85h-0.85zM534.9,410.6h0.85v0.85h-0.85zM533.5,421.0h0.85v0.85h-0.85zM531.6,420.0h0.85v0.85h-0.85zM538.4,409.3h0.85v0.85h-0.85zM532.6,420.4h0.85v0.85h-0.85zM538.4,409.4h0.85v0.85h-0.85zM531.2,413.7h0.85v0.85h-0.85zM529.6,416.9h0.85v0.85h-0.85zM530.0,418.2h0.85v0.85h-0.85zM531.2,413.6h0.85v0.85h-0.85zM532.1,419.7h0.85v0.85h-0.85zM538.0,422.5h0.85v0.85h-0.85zM529.7,415.6h0.85v0.85h-0.85zM540.3,411.8h0.85v0.85h-0.85zM531.1,413.7h0.85v0.85h-0.85zM533.7,421.4h0.85v0.85h-0.85zM541.5,419.5h0.85v0.85h-0.85zM541.0,412.4h0.85v0.85h-0.85zM529.6,416.8h0.85v0.85h-0.85z" fill="#2050e0" fill-opacity="1"/>
<path d="M530.5,418.3h0.85v0.85h-0.85zM542.1,416.9h0.85v0.85h-0.85zM537.0,409.7h0.85v0.85h-0.85zM531.2,414.2h0.85v0.85h-0.85zM536.2,409.9h0.85v0.85h-0.85zM532.9,419.0h0.85v0.85h-0.85zM533.1,419.6h0.85v0.85h-0.85zM539.6,411.2h0.85v0.85h-0.85zM530.3,415.1h0.85v0.85h-0.85zM530.9,418.8h0.85v0.85h-0.85zM542.0,418.2h0.85v0.85h-0.85zM535.9,421.8h0.85v0.85h-0.85zM538.2,409.7h0.85v0.85h-0.85zM542.2,415.9h0.85v0.85h-0.85zM538.8,410.3h0.85v0.85h-0.85zM540.2,419.6h0.85v0.85h-0.85zM540.7,420.4h0.85v0.85h-0.85zM530.1,414.7h0.85v0.85h-0.85zM537.8,409.4h0.85v0.85h-0.85zM541.6,418.1h0.85v0.85h-0.85zM539.1,411.6h0.85v0.85h-0.85zM535.6,421.4h0.85v0.85h-0.85zM532.0,416.7h0.85v0.85h-0.85zM541.1,417.9h0.85v0.85h-0.85zM533.9,420.7h0.85v0.85h-0.85zM531.3,418.9h0.85v0.85h-0.85zM541.5,414.4h0.85v0.85h-0.85zM541.4,416.3h0.85v0.85h-0.85zM530.8,414.8h0.85v0.85h-0.85zM541.0,417.4h0.85v0.85h-0.85zM541.1,419.1h0.85v0.85h-0.85zM531.0,416.1h0.85v0.85h-0.85zM541.9,416.8h0.85v0.85h-0.85zM533.5,419.8h0.85v0.85h-0.85zM530.9,418.0h0.85v0.85h-0.85zM541.2,416.7h0.85v0.85h-0.85z" fill="#2060e0" fill-opacity="1"/>
<path d="M539.8,412.3h0.85v0.85h-0.85zM531.3,416.3h0.85v0.85h-0.85zM530.4,415.5h0.85v0.85h-0.85zM535.3,421.4h0.85v0.85h-0.85zM536.0,421.7h0.85v0.85h-0.85zM534.6,411.6h0.85v0.85h-0.85zM540.5,414.4h0.85v0.85h-0.85zM534.7,411.7h0.85v0.85h-0.85zM540.3,412.6h0.85v0.85h-0.85zM541.0,418.7h0.85v0.85h-0.85zM541.1,415.7h0.85v0.85h-0.85zM540.3,412.6h0.85v0.85h-0.85zM541.6,416.0h0.85v0.85h-0.85zM537.2,409.9h0.85v0.85h-0.85zM539.7,412.5h0.85v0.85h-0.85zM541.2,413.9h0.85v0.85h-0.85zM536.2,421.7h0.85v0.85h-0.85zM534.2,412.4h0.85v0.85h-0.85zM540.8,416.2h0.85v0.85h-0.85zM535.7,421.4h0.85v0.85h-0.85zM540.4,414.5h0.85v0.85h-0.85zM531.3,417.2h0.85v0.85h-0.85zM535.5,411.6h0.85v0.85h-0.85zM531.6,416.0h0.85v0.85h-0.85zM540.8,418.1h0.85v0.85h-0.85zM533.9,420.3h0.85v0.85h-0.85zM541.0,417.9h0.85v0.85h-0.85zM532.5,413.9h0.85v0.85h-0.85zM540.8,415.5h0.85v0.85h-0.85zM531.3,417.6h0.85v0.85h-0.85zM530.7,416.4h0.85v0.85h-0.85zM540.8,414.2h0.85v0.85h-0.85z" fill="#2070e0" fill-opacity="1"/>
<path d="M531.2,414.8h0.85v0.85h-0.85zM533.7,420.0h0.85v0.85h-0.85zM538.5,421.4h0.85v0.85h-0.85zM535.1,421.0h0.85v0.85h-0.85zM532.3,417.0h0.85v0.85h-0.85zM530.5,416.1h0.85v0.85h-0.85zM535.8,421.4h0.85v0.85h-0.85zM539.6,414.7h0.85v0.85h-0.85zM538.3,411.9h0.85v0.85h-0.85zM532.2,417.5h0.85v0.85h-0.85zM540.3,414.3h0.85v0.85h-0.85zM538.6,421.0h0.85v0.85h-0.85z" fill="#2080e0" fill-opacity="1"/>
<path d="M538.0,411.9h0.85v0.85h-0.85zM539.0,419.9h0.85v0.85h-0.85zM532.0,415.4h0.85v0.85h-0.85zM537.8,411.7h0.85v0.85h-0.85zM541.0,416.8h0.85v0.85h-0.85zM536.9,411.1h0.85v0.85h-0.85zM538.9,419.9h0.85v0.85h-0.85zM533.1,416.6h0.85v0.85h-0.85zM533.0,417.2h0.85v0.85h-0.85zM540.5,417.8h0.85v0.85h-0.85z" fill="#2080d0" fill-opacity="1"/>
<path d="M532.9,415.1h0.85v0.85h-0.85zM533.2,412.7h0.85v0.85h-0.85zM538.3,411.9h0.85v0.85h-0.85zM537.4,421.1h0.85v0.85h-0.85zM535.3,411.8h0.85v0.85h-0.85z" fill="#2090d0" fill-opacity="1"/>
<path d="M538.8,412.1h0.85v0.85h-0.85zM532.9,413.7h0.85v0.85h-0.85zM533.4,415.9h0.85v0.85h-0.85zM539.2,412.5h0.85v0.85h-0.85zM533.2,413.6h0.85v0.85h-0.85zM533.1,413.5h0.85v0.85h-0.85zM537.2,411.2h0.85v0.85h-0.85zM539.7,418.8h0.85v0.85h-0.85zM538.0,420.9h0.85v0.85h-0.85zM536.5,412.2h0.85v0.85h-0.85zM537.4,410.8h0.85v0.85h-0.85zM539.9,414.0h0.85v0.85h-0.85z" fill="#20a0d0" fill-opacity="1"/>
<path d="M536.2,411.8h0.85v0.85h-0.85zM537.1,411.5h0.85v0.85h-0.85zM539.7,415.3h0.85v0.85h-0.85zM532.8,414.8h0.85v0.85h-0.85zM533.4,413.0h0.85v0.85h-0.85zM533.3,414.3h0.85v0.85h-0.85zM539.6,415.6h0.85v0.85h-0.85zM533.7,418.9h0.85v0.85h-0.85zM536.4,420.6h0.85v0.85h-0.85zM536.5,412.1h0.85v0.85h-0.85zM534.7,412.5h0.85v0.85h-0.85zM540.1,416.6h0.85v0.85h-0.85z" fill="#20a0c0" fill-opacity="1"/>
<path d="M534.7,414.1h0.85v0.85h-0.85zM538.5,419.6h0.85v0.85h-0.85zM534.1,415.4h0.85v0.85h-0.85zM534.0,416.1h0.85v0.85h-0.85zM538.7,412.5h0.85v0.85h-0.85zM535.6,420.8h0.85v0.85h-0.85zM533.4,415.4h0.85v0.85h-0.85zM536.4,421.2h0.85v0.85h-0.85zM539.4,415.2h0.85v0.85h-0.85zM537.0,420.6h0.85v0.85h-0.85z" fill="#20b0b0" fill-opacity="1"/>
<path d="M539.4,413.9h0.85v0.85h-0.85zM533.2,415.6h0.85v0.85h-0.85zM540.0,416.3h0.85v0.85h-0.85zM534.1,418.5h0.85v0.85h-0.85zM539.3,418.5h0.85v0.85h-0.85zM539.2,418.7h0.85v0.85h-0.85zM536.8,412.5h0.85v0.85h-0.85zM534.5,418.5h0.85v0.85h-0.85zM537.4,412.1h0.85v0.85h-0.85zM532.9,414.3h0.85v0.85h-0.85zM535.4,413.2h0.85v0.85h-0.85z" fill="#20c0b0" fill-opacity="1"/>
<path d="M534.2,415.3h0.85v0.85h-0.85zM535.5,412.9h0.85v0.85h-0.85zM537.7,412.6h0.85v0.85h-0.85zM538.3,419.5h0.85v0.85h-0.85zM533.9,418.5h0.85v0.85h-0.85zM534.3,418.0h0.85v0.85h-0.85zM534.4,417.9h0.85v0.85h-0.85z" fill="#30c0a0" fill-opacity="1"/>
<path d="M535.8,413.0h0.85v0.85h-0.85zM539.0,414.8h0.85v0.85h-0.85zM538.8,413.8h0.85v0.85h-0.85zM534.8,413.2h0.85v0.85h-0.85z" fill="#30c090" fill-opacity="1"/>
<path d="M537.6,413.0h0.85v0.85h-0.85zM534.7,414.7h0.85v0.85h-0.85zM539.0,418.8h0.85v0.85h-0.85zM539.8,418.2h0.85v0.85h-0.85zM539.0,416.1h0.85v0.85h-0.85zM539.0,418.8h0.85v0.85h-0.85z" fill="#30c080" fill-opacity="1"/>
<path d="M537.9,419.4h0.85v0.85h-0.85zM536.7,413.4h0.85v0.85h-0.85zM538.9,415.3h0.85v0.85h-0.85zM536.7,413.5h0.85v0.85h-0.85zM534.5,415.0h0.85v0.85h-0.85zM538.0,415.4h0.85v0.85h-0.85zM536.0,417.8h0.85v0.85h-0.85zM538.3,413.3h0.85v0.85h-0.85zM535.7,413.4h0.85v0.85h-0.85zM536.6,413.4h0.85v0.85h-0.85zM537.8,419.2h0.85v0.85h-0.85zM538.0,420.1h0.85v0.85h-0.85z" fill="#40c070" fill-opacity="1"/>
<path d="M538.4,415.8h0.85v0.85h-0.85zM535.4,418.8h0.85v0.85h-0.85zM535.0,415.0h0.85v0.85h-0.85zM538.3,419.1h0.85v0.85h-0.85zM534.9,419.0h0.85v0.85h-0.85zM536.7,413.8h0.85v0.85h-0.85z" fill="#40c060" fill-opacity="1"/>
<path d="M535.2,419.4h0.85v0.85h-0.85zM537.7,415.6h0.85v0.85h-0.85zM539.5,417.5h0.85v0.85h-0.85zM536.2,418.4h0.85v0.85h-0.85zM536.7,413.6h0.85v0.85h-0.85zM536.3,414.5h0.85v0.85h-0.85zM536.0,418.2h0.85v0.85h-0.85zM534.9,414.5h0.85v0.85h-0.85zM535.3,415.0h0.85v0.85h-0.85z" fill="#50c050" fill-opacity="1"/>
<path d="M534.7,416.5h0.85v0.85h-0.85zM537.1,419.4h0.85v0.85h-0.85zM538.4,413.9h0.85v0.85h-0.85zM535.3,414.4h0.85v0.85h-0.85z" fill="#50c040" fill-opacity="1"/>
<path d="M539.3,417.8h0.85v0.85h-0.85zM534.9,417.5h0.85v0.85h-0.85zM537.3,414.0h0.85v0.85h-0.85zM535.5,419.2h0.85v0.85h-0.85zM537.5,419.2h0.85v0.85h-0.85zM538.1,417.0h0.85v0.85h-0.85zM538.2,416.3h0.85v0.85h-0.85zM534.8,415.9h0.85v0.85h-0.85z" fill="#60d040" fill-opacity="1"/>
<path d="M535.0,417.4h0.85v0.85h-0.85zM535.4,415.4h0.85v0.85h-0.85zM537.4,414.1h0.85v0.85h-0.85zM537.4,419.0h0.85v0.85h-0.85z" fill="#80d030" fill-opacity="1"/>
<path d="M537.3,415.6h0.85v0.85h-0.85zM536.6,415.1h0.85v0.85h-0.85zM536.4,420.1h0.85v0.85h-0.85zM535.6,414.6h0.85v0.85h-0.85zM536.4,419.8h0.85v0.85h-0.85zM535.5,414.6h0.85v0.85h-0.85zM535.8,418.5h0.85v0.85h-0.85z" fill="#90d030" fill-opacity="1"/>
<path d="M537.0,418.6h0.85v0.85h-0.85zM535.9,418.8h0.85v0.85h-0.85zM535.1,417.0h0.85v0.85h-0.85zM536.6,417.6h0.85v0.85h-0.85zM538.3,418.4h0.85v0.85h-0.85zM538.5,416.4h0.85v0.85h-0.85zM537.6,417.1h0.85v0.85h-0.85zM535.6,414.7h0.85v0.85h-0.85zM537.1,418.7h0.85v0.85h-0.85zM537.3,417.3h0.85v0.85h-0.85zM536.0,414.9h0.85v0.85h-0.85zM536.3,419.5h0.85v0.85h-0.85zM537.7,416.3h0.85v0.85h-0.85zM536.3,419.5h0.85v0.85h-0.85z" fill="#c0d030" fill-opacity="1"/>
<path d="M536.4,418.8h0.85v0.85h-0.85zM536.9,414.2h0.85v0.85h-0.85zM536.9,414.7h0.85v0.85h-0.85zM536.8,418.0h0.85v0.85h-0.85zM536.1,417.5h0.85v0.85h-0.85zM537.4,417.6h0.85v0.85h-0.85zM537.0,418.3h0.85v0.85h-0.85z" fill="#e0b020" fill-opacity="1"/>
<path d="M537.3,415.9h0.85v0.85h-0.85zM537.0,416.5h0.85v0.85h-0.85zM537.0,419.1h0.85v0.85h-0.85zM536.9,417.3h0.85v0.85h-0.85z" fill="#e09020" fill-opacity="1"/>
<path d="M536.6,416.2h0.85v0.85h-0.85zM536.2,417.1h0.85v0.85h-0.85zM537.0,416.0h0.85v0.85h-0.85z" fill="#e07020" fill-opacity="1"/>
<path d="M535.7,417.0h0.85v0.85h-0.85zM537.0,417.2h0.85v0.85h-0.85zM535.8,417.4h0.85v0.85h-0.85z" fill="#e05020" fill-opacity="1"/>
<path d="M535.8,417.3h0.85v0.85h-0.85z" fill="#e04020" fill-opacity="1"/>
<rect x="474.6" y="360.4" width="94.2" height="93.7" fill="none" stroke="#8c8c8c" stroke-width="0.9"/>
<path d="M474.6,360.4h-1.4 M474.6,364.3h-1.4 M474.6,368.21h-1.4 M474.6,372.11h-1.4 M474.6,376.02h-1.4 M474.6,379.92h-1.4 M474.6,383.82h-1.4 M474.6,387.73h-1.4 M474.6,391.63h-1.4 M474.6,395.54h-1.4 M474.6,399.44h-1.4 M474.6,403.35h-1.4 M474.6,407.25h-1.4 M474.6,411.15h-1.4 M474.6,415.06h-1.4 M474.6,418.96h-1.4 M474.6,422.87h-1.4 M474.6,426.77h-1.4 M474.6,430.68h-1.4 M474.6,434.58h-1.4 M474.6,438.48h-1.4 M474.6,442.39h-1.4 M474.6,446.29h-1.4 M474.6,450.2h-1.4 M474.6,454.1h-1.4" stroke="#666" stroke-width="0.8" fill="none"/>
<path d="M474.6,454.1v1.4 M478.53,454.1v1.4 M482.45,454.1v1.4 M486.38,454.1v1.4 M490.3,454.1v1.4 M494.23,454.1v1.4 M498.15,454.1v1.4 M502.07,454.1v1.4 M506,454.1v1.4 M509.93,454.1v1.4 M513.85,454.1v1.4 M517.77,454.1v1.4 M521.7,454.1v1.4 M525.62,454.1v1.4 M529.55,454.1v1.4 M533.48,454.1v1.4 M537.4,454.1v1.4 M541.32,454.1v1.4 M545.25,454.1v1.4 M549.17,454.1v1.4 M553.1,454.1v1.4 M557.02,454.1v1.4 M560.95,454.1v1.4 M564.88,454.1v1.4 M568.8,454.1v1.4" stroke="#666" stroke-width="0.8" fill="none"/>
<rect x="500.7" y="377.6" width="25.8" height="20.3" fill="none" stroke="#444" stroke-width="0.9"/>
<rect x="522.7" y="397.9" width="29.1" height="31.6" fill="none" stroke="#444" stroke-width="0.9"/>
<text x="498.67" y="375.61" font-size="10.87" font-weight="bold" font-style="normal" fill="#000">SPM</text>
<text x="552.9" y="423.06" font-size="10.81" font-weight="bold" font-style="normal" fill="#000">LPM</text>
<text x="460.4" y="383" font-size="6.2" font-weight="bold">10<tspan font-size="3.84" dy="-1.86">4</tspan></text>
<text x="460.4" y="406.5" font-size="6.2" font-weight="bold">10<tspan font-size="3.84" dy="-1.86">3</tspan></text>
<text x="464.08" y="433.64" font-size="6.2" font-weight="bold" font-style="normal" fill="#000">0</text>
<text transform="translate(457.12,430.99) rotate(-90)" font-size="10.6" font-weight="bold" font-style="normal">MHC II</text>
<line x1="452.6" y1="470.6" x2="452.6" y2="437.5" stroke="#222" stroke-width="1.3"/>
<path d="M452.6,435 L454.3,438.6 L450.9,438.6 Z" fill="#222" stroke="none"/>
<line x1="452" y1="470" x2="491.1" y2="470" stroke="#222" stroke-width="1.3"/>
<path d="M493.6,470 L490,471.7 L490,468.3 Z" fill="#222" stroke="none"/>
<text x="494.21" y="472.22" font-size="10.65" font-weight="bold" font-style="normal" fill="#000">F4/80</text>
<text x="484.5" y="462.4" font-size="6.2" font-weight="bold">10<tspan font-size="3.84" dy="-1.86">-3</tspan></text>
<text x="503.58" y="462.24" font-size="6.2" font-weight="bold" font-style="normal" fill="#000">0</text>
<text x="516.5" y="462.4" font-size="6.2" font-weight="bold">10<tspan font-size="3.84" dy="-1.86">3</tspan></text>
<text x="537.5" y="462.4" font-size="6.2" font-weight="bold">10<tspan font-size="3.84" dy="-1.86">4</tspan></text>
<text x="556.5" y="462.4" font-size="6.2" font-weight="bold">10<tspan font-size="3.84" dy="-1.86">5</tspan></text>
<path d="M459.3,576.6 L459.63,576.25 L460.09,575.79 L460.64,575.23 L461.22,574.58 L461.79,573.87 L462.3,573.1 L462.76,572.25 L463.21,571.31 L463.66,570.31 L464.09,569.25 L464.5,568.18 L464.9,567.1 L465.29,566.05 L465.67,565.02 L466.03,563.97 L466.38,562.86 L466.7,561.65 L467,560.3 L467.26,558.87 L467.49,557.38 L467.7,555.8 L467.9,554.07 L468.09,552.16 L468.3,550 L468.52,547.48 L468.74,544.61 L468.96,541.56 L469.17,538.46 L469.39,535.49 L469.6,532.8 L469.8,530.36 L470,528.05 L470.2,525.86 L470.4,523.79 L470.6,521.84 L470.8,520 L471.01,518.31 L471.23,516.79 L471.44,515.38 L471.66,514.04 L471.88,512.73 L472.1,511.4 L472.32,510.01 L472.53,508.58 L472.75,507.17 L472.97,505.86 L473.18,504.68 L473.4,503.7 L473.62,502.91 L473.84,502.26 L474.06,501.76 L474.28,501.39 L474.49,501.17 L474.7,501.1 L474.9,501.16 L475.09,501.36 L475.27,501.7 L475.45,502.2 L475.62,502.86 L475.8,503.7 L475.97,504.7 L476.13,505.84 L476.29,507.14 L476.45,508.64 L476.62,510.35 L476.8,512.3 L477,514.51 L477.21,516.97 L477.43,519.65 L477.66,522.5 L477.88,525.5 L478.1,528.6 L478.31,531.94 L478.52,535.58 L478.73,539.36 L478.94,543.12 L479.16,546.72 L479.4,550 L479.65,553.01 L479.92,555.89 L480.19,558.61 L480.48,561.12 L480.78,563.39 L481.1,565.4 L481.44,567.09 L481.8,568.47 L482.18,569.62 L482.56,570.6 L482.93,571.47 L483.3,572.3 L483.65,573.05 L484,573.65 L484.35,574.15 L484.7,574.57 L485.05,574.94 L485.4,575.3 L485.79,575.63 L486.21,575.91 L486.63,576.14 L487.03,576.33 L487.36,576.48 L487.6,576.6 Z" fill="#e89ca2" stroke="#d2646e" stroke-width="0.9" stroke-linejoin="round"/>
<path d="M447.7,576.6 L447.84,575.88 L448.04,574.99 L448.28,573.88 L448.53,572.5 L448.78,570.83 L449,568.8 L449.2,566.28 L449.39,563.29 L449.57,559.99 L449.75,556.56 L449.92,553.17 L450.1,550 L450.27,546.92 L450.44,543.76 L450.61,540.65 L450.78,537.7 L450.94,535.05 L451.1,532.8 L451.25,530.99 L451.4,529.51 L451.55,528.32 L451.7,527.38 L451.85,526.62 L452,526 L452.16,525.51 L452.33,525.18 L452.5,525.04 L452.67,525.11 L452.84,525.42 L453,526 L453.15,526.81 L453.3,527.82 L453.44,529.07 L453.59,530.59 L453.74,532.42 L453.9,534.6 L454.07,537.32 L454.24,540.6 L454.42,544.19 L454.61,547.83 L454.8,551.29 L455,554.3 L455.2,556.9 L455.4,559.3 L455.61,561.5 L455.83,563.53 L456.06,565.39 L456.3,567.1 L456.56,568.64 L456.82,570 L457.1,571.19 L457.39,572.24 L457.69,573.17 L458,574 L458.35,574.71 L458.75,575.28 L459.16,575.73 L459.54,576.09 L459.87,576.37 L460.1,576.6 Z" fill="#9edcf6" stroke="#52bdea" stroke-width="0.9" stroke-linejoin="round" style="mix-blend-mode:multiply"/>
<rect x="427.7" y="485.3" width="92" height="91.7" fill="none" stroke="#8c8c8c" stroke-width="0.9"/>
<path d="M427.7,577v1.4 M431.88,577v1.4 M436.06,577v1.4 M440.25,577v1.4 M444.43,577v1.4 M448.61,577v1.4 M452.79,577v1.4 M456.97,577v1.4 M461.15,577v1.4 M465.34,577v1.4 M469.52,577v1.4 M473.7,577v1.4 M477.88,577v1.4 M482.06,577v1.4 M486.25,577v1.4 M490.43,577v1.4 M494.61,577v1.4 M498.79,577v1.4 M502.97,577v1.4 M507.15,577v1.4 M511.34,577v1.4 M515.52,577v1.4 M519.7,577v1.4" stroke="#666" stroke-width="0.8" fill="none"/>
<line x1="463.6" y1="537" x2="490.6" y2="537" stroke="#333" stroke-width="1.1"/>
<line x1="463.6" y1="534.8" x2="463.6" y2="539.2" stroke="#333" stroke-width="1.1"/>
<line x1="490.6" y1="534.8" x2="490.6" y2="539.2" stroke="#333" stroke-width="1.1"/>
<text x="427" y="585.6" font-size="6.2" font-weight="bold">10<tspan font-size="3.84" dy="-1.86">-3</tspan></text>
<text x="445.78" y="585.34" font-size="6.2" font-weight="bold" font-style="normal" fill="#000">0</text>
<text x="457.5" y="585.6" font-size="6.2" font-weight="bold">10<tspan font-size="3.84" dy="-1.86">3</tspan></text>
<text x="483.5" y="585.6" font-size="6.2" font-weight="bold">10<tspan font-size="3.84" dy="-1.86">4</tspan></text>
<text x="506.5" y="585.6" font-size="6.2" font-weight="bold">10<tspan font-size="3.84" dy="-1.86">5</tspan></text>
<path d="M559.4,576.6 L559.63,576.43 L559.94,576.18 L560.31,575.89 L560.73,575.61 L561.16,575.4 L561.6,575.3 L562.01,575.34 L562.41,575.5 L562.84,575.71 L563.32,575.95 L563.89,576.16 L564.6,576.3 L565.5,576.39 L566.57,576.48 L567.74,576.54 L568.93,576.56 L570.04,576.52 L571,576.4 L571.81,576.21 L572.52,575.96 L573.17,575.65 L573.77,575.29 L574.34,574.87 L574.9,574.4 L575.45,573.9 L575.97,573.38 L576.46,572.81 L576.92,572.15 L577.37,571.39 L577.8,570.5 L578.22,569.5 L578.62,568.4 L579,567.21 L579.36,565.89 L579.69,564.42 L580,562.8 L580.27,560.99 L580.5,559.01 L580.71,556.88 L580.9,554.65 L581.09,552.34 L581.3,550 L581.52,547.52 L581.74,544.87 L581.96,542.14 L582.17,539.45 L582.39,536.9 L582.6,534.6 L582.8,532.53 L583,530.6 L583.2,528.81 L583.4,527.17 L583.6,525.66 L583.8,524.3 L584.01,523.1 L584.23,522.07 L584.44,521.19 L584.66,520.41 L584.88,519.73 L585.1,519.1 L585.32,518.53 L585.54,518.04 L585.76,517.64 L585.98,517.33 L586.19,517.12 L586.4,517 L586.59,516.97 L586.78,517.01 L586.96,517.14 L587.14,517.39 L587.32,517.77 L587.5,518.3 L587.68,518.9 L587.86,519.54 L588.04,520.31 L588.23,521.3 L588.41,522.6 L588.6,524.3 L588.79,526.51 L588.99,529.17 L589.19,532.15 L589.39,535.28 L589.59,538.42 L589.8,541.4 L590.01,544.33 L590.21,547.35 L590.42,550.38 L590.63,553.31 L590.86,556.09 L591.1,558.6 L591.35,560.87 L591.62,562.97 L591.89,564.91 L592.18,566.67 L592.48,568.27 L592.8,569.7 L593.14,570.94 L593.5,571.97 L593.88,572.83 L594.26,573.57 L594.63,574.21 L595,574.8 L595.38,575.31 L595.79,575.71 L596.19,576.02 L596.56,576.26 L596.87,576.44 L597.1,576.6 Z" fill="#e89ca2" stroke="#d2646e" stroke-width="0.9" stroke-linejoin="round"/>
<path d="M556.4,576.6 L556.58,576.18 L556.84,575.64 L557.14,574.99 L557.46,574.21 L557.79,573.32 L558.1,572.3 L558.4,571.12 L558.71,569.75 L559.03,568.27 L559.34,566.73 L559.63,565.18 L559.9,563.7 L560.13,562.24 L560.34,560.74 L560.53,559.24 L560.71,557.77 L560.9,556.38 L561.1,555.1 L561.31,553.89 L561.53,552.71 L561.74,551.61 L561.96,550.62 L562.18,549.77 L562.4,549.1 L562.62,548.62 L562.83,548.29 L563.05,548.11 L563.27,548.06 L563.48,548.13 L563.7,548.3 L563.92,548.56 L564.13,548.93 L564.35,549.41 L564.57,550.03 L564.78,550.78 L565,551.7 L565.22,552.82 L565.43,554.15 L565.65,555.62 L565.87,557.18 L566.08,558.76 L566.3,560.3 L566.51,561.86 L566.72,563.5 L566.92,565.16 L567.14,566.79 L567.36,568.32 L567.6,569.7 L567.86,570.96 L568.15,572.14 L568.45,573.23 L568.75,574.2 L569.04,575.03 L569.3,575.7 L569.55,576.16 L569.81,576.41 L570.06,576.53 L570.28,576.56 L570.46,576.56 L570.6,576.6 Z" fill="#9edcf6" stroke="#52bdea" stroke-width="0.9" stroke-linejoin="round" style="mix-blend-mode:multiply"/>
<rect x="522.2" y="485.3" width="91.7" height="91.7" fill="none" stroke="#8c8c8c" stroke-width="0.9"/>
<path d="M522.2,577v1.4 M526.37,577v1.4 M530.54,577v1.4 M534.7,577v1.4 M538.87,577v1.4 M543.04,577v1.4 M547.21,577v1.4 M551.38,577v1.4 M555.55,577v1.4 M559.71,577v1.4 M563.88,577v1.4 M568.05,577v1.4 M572.22,577v1.4 M576.39,577v1.4 M580.55,577v1.4 M584.72,577v1.4 M588.89,577v1.4 M593.06,577v1.4 M597.23,577v1.4 M601.4,577v1.4 M605.56,577v1.4 M609.73,577v1.4 M613.9,577v1.4" stroke="#666" stroke-width="0.8" fill="none"/>
<line x1="572.7" y1="546.4" x2="601.8" y2="546.4" stroke="#333" stroke-width="1.1"/>
<line x1="572.7" y1="544.2" x2="572.7" y2="548.6" stroke="#333" stroke-width="1.1"/>
<line x1="601.8" y1="544.2" x2="601.8" y2="548.6" stroke="#333" stroke-width="1.1"/>
<text x="519.5" y="585.6" font-size="6.2" font-weight="bold">10<tspan font-size="3.84" dy="-1.86">-4</tspan></text>
<text x="538.5" y="585.6" font-size="6.2" font-weight="bold">10<tspan font-size="3.84" dy="-1.86">-3</tspan></text>
<text x="555.28" y="585.34" font-size="6.2" font-weight="bold" font-style="normal" fill="#000">0</text>
<text x="567.5" y="585.6" font-size="6.2" font-weight="bold">10<tspan font-size="3.84" dy="-1.86">3</tspan></text>
<text x="587.5" y="585.6" font-size="6.2" font-weight="bold">10<tspan font-size="3.84" dy="-1.86">4</tspan></text>
<text x="601.5" y="585.6" font-size="6.2" font-weight="bold">10<tspan font-size="3.84" dy="-1.86">5</tspan></text>
<text x="479.32" y="548.72" font-size="10.74" font-weight="bold" font-style="normal" fill="#000">96.8%</text>
<text x="593.22" y="557.54" font-size="10.77" font-weight="bold" font-style="normal" fill="#000">95.7%</text>
<line x1="431.5" y1="596" x2="449.8" y2="596" stroke="#000" stroke-width="1.1"/>
<path d="M451.8,596 L448.8,597.35 L448.8,594.65 Z" fill="#000" stroke="none"/>
<text x="453.81" y="598.92" font-size="12.16" font-weight="bold" font-style="normal" fill="#000">GATA6</text>
<line x1="527" y1="596" x2="546" y2="596" stroke="#000" stroke-width="1.1"/>
<path d="M548,596 L545,597.35 L545,594.65 Z" fill="#000" stroke="none"/>
<text x="549.5" y="598.88" font-size="12.11" font-weight="bold" font-style="normal" fill="#000">ARG1</text>
<line x1="512.3" y1="397.9" x2="452.6" y2="518.8" stroke="#78b548" stroke-width="0.95"/>
<path d="M452.6,518.8 L452.73,515.07 L455.48,516.43 Z" fill="#78b548" stroke="none"/>
<line x1="537.9" y1="429.5" x2="482.2" y2="506.9" stroke="#78b548" stroke-width="0.95"/>
<path d="M482.2,506.9 L482.94,503.25 L485.43,505.03 Z" fill="#78b548" stroke="none"/>
<line x1="512.3" y1="397.9" x2="562.7" y2="541.6" stroke="#e39550" stroke-width="0.95"/>
<path d="M562.7,541.6 L560.13,538.9 L563.02,537.89 Z" fill="#e39550" stroke="none"/>
<line x1="537.9" y1="429.5" x2="584.3" y2="507.4" stroke="#e39550" stroke-width="0.95"/>
<path d="M584.3,507.4 L581.25,505.26 L583.87,503.7 Z" fill="#e39550" stroke="none"/>
<text x="660.48" y="357.83" font-size="15.63" font-weight="bold" font-style="normal" fill="#000">ELL-Niclosamide</text>
<path d="M712.9,410.5h0.85v0.85h-0.85zM742.8,428.9h0.85v0.85h-0.85zM711.2,389.1h0.85v0.85h-0.85zM710.2,393.6h0.85v0.85h-0.85zM715.4,407.3h0.85v0.85h-0.85zM719.1,405.1h0.85v0.85h-0.85zM724.4,420.1h0.85v0.85h-0.85zM714.7,422.2h0.85v0.85h-0.85zM714.4,402.1h0.85v0.85h-0.85zM745.0,386.9h0.85v0.85h-0.85zM703.8,403.4h0.85v0.85h-0.85zM716.3,431.2h0.85v0.85h-0.85zM751.8,388.6h0.85v0.85h-0.85zM738.7,426.4h0.85v0.85h-0.85zM716.5,379.7h0.85v0.85h-0.85zM722.0,406.2h0.85v0.85h-0.85zM748.9,422.9h0.85v0.85h-0.85zM729.0,422.5h0.85v0.85h-0.85zM711.8,398.7h0.85v0.85h-0.85zM726.3,393.5h0.85v0.85h-0.85zM709.7,383.8h0.85v0.85h-0.85zM714.9,396.5h0.85v0.85h-0.85zM709.9,400.6h0.85v0.85h-0.85zM737.7,426.7h0.85v0.85h-0.85zM718.3,382.0h0.85v0.85h-0.85zM734.6,427.6h0.85v0.85h-0.85zM725.0,414.9h0.85v0.85h-0.85zM734.2,385.9h0.85v0.85h-0.85zM751.4,391.8h0.85v0.85h-0.85zM730.3,425.5h0.85v0.85h-0.85zM741.8,387.3h0.85v0.85h-0.85zM720.5,386.8h0.85v0.85h-0.85zM752.9,395.5h0.85v0.85h-0.85zM737.6,384.7h0.85v0.85h-0.85zM740.2,383.7h0.85v0.85h-0.85zM754.0,411.6h0.85v0.85h-0.85zM746.8,424.3h0.85v0.85h-0.85zM756.7,407.1h0.85v0.85h-0.85zM733.6,422.3h0.85v0.85h-0.85zM725.6,392.1h0.85v0.85h-0.85zM757.1,394.4h0.85v0.85h-0.85zM730.2,425.3h0.85v0.85h-0.85zM758.1,401.9h0.85v0.85h-0.85zM739.1,385.2h0.85v0.85h-0.85zM756.9,407.8h0.85v0.85h-0.85z" fill="#5060e0" fill-opacity="0.55"/>
<path d="M736.0,390.6h0.85v0.85h-0.85zM756.8,395.7h0.85v0.85h-0.85zM723.6,414.2h0.85v0.85h-0.85zM742.3,390.3h0.85v0.85h-0.85zM736.2,387.8h0.85v0.85h-0.85zM721.4,389.9h0.85v0.85h-0.85zM743.8,424.2h0.85v0.85h-0.85zM756.2,406.2h0.85v0.85h-0.85zM752.9,395.1h0.85v0.85h-0.85zM739.3,388.3h0.85v0.85h-0.85zM730.7,389.1h0.85v0.85h-0.85zM713.6,391.5h0.85v0.85h-0.85zM712.3,384.4h0.85v0.85h-0.85zM723.3,402.1h0.85v0.85h-0.85zM755.5,394.0h0.85v0.85h-0.85zM756.9,399.5h0.85v0.85h-0.85zM723.1,385.0h0.85v0.85h-0.85zM722.8,384.9h0.85v0.85h-0.85zM714.9,394.8h0.85v0.85h-0.85zM734.0,425.9h0.85v0.85h-0.85zM719.6,400.9h0.85v0.85h-0.85zM727.2,417.8h0.85v0.85h-0.85zM721.0,410.1h0.85v0.85h-0.85zM724.2,403.1h0.85v0.85h-0.85zM745.8,390.4h0.85v0.85h-0.85zM745.9,425.2h0.85v0.85h-0.85zM723.0,389.8h0.85v0.85h-0.85zM724.1,398.5h0.85v0.85h-0.85zM719.9,385.2h0.85v0.85h-0.85zM733.6,389.3h0.85v0.85h-0.85zM715.3,383.6h0.85v0.85h-0.85zM746.3,394.3h0.85v0.85h-0.85zM735.0,388.2h0.85v0.85h-0.85zM749.5,392.6h0.85v0.85h-0.85zM732.6,425.2h0.85v0.85h-0.85zM721.2,385.9h0.85v0.85h-0.85zM724.6,388.6h0.85v0.85h-0.85zM753.8,405.6h0.85v0.85h-0.85zM724.4,405.4h0.85v0.85h-0.85zM721.9,400.7h0.85v0.85h-0.85zM725.4,411.8h0.85v0.85h-0.85zM741.1,389.8h0.85v0.85h-0.85zM720.9,412.4h0.85v0.85h-0.85zM743.8,391.4h0.85v0.85h-0.85zM746.5,390.3h0.85v0.85h-0.85zM730.2,388.0h0.85v0.85h-0.85zM728.1,397.2h0.85v0.85h-0.85zM724.5,398.1h0.85v0.85h-0.85zM725.7,401.1h0.85v0.85h-0.85z" fill="#5050e0" fill-opacity="0.55"/>
<path d="M725.2,408.2h0.85v0.85h-0.85zM741.9,423.4h0.85v0.85h-0.85zM719.2,399.6h0.85v0.85h-0.85zM722.6,412.9h0.85v0.85h-0.85zM748.5,392.3h0.85v0.85h-0.85zM727.4,385.0h0.85v0.85h-0.85zM727.8,385.2h0.85v0.85h-0.85zM727.4,388.4h0.85v0.85h-0.85zM751.0,416.5h0.85v0.85h-0.85zM745.4,421.2h0.85v0.85h-0.85zM735.7,394.8h0.85v0.85h-0.85zM751.3,416.2h0.85v0.85h-0.85zM731.1,390.3h0.85v0.85h-0.85zM732.3,392.3h0.85v0.85h-0.85zM740.1,391.2h0.85v0.85h-0.85zM721.7,410.9h0.85v0.85h-0.85zM745.2,394.0h0.85v0.85h-0.85zM751.7,412.6h0.85v0.85h-0.85zM718.4,388.9h0.85v0.85h-0.85zM714.3,384.6h0.85v0.85h-0.85zM729.1,394.7h0.85v0.85h-0.85zM714.5,392.6h0.85v0.85h-0.85zM715.0,389.7h0.85v0.85h-0.85zM751.5,409.5h0.85v0.85h-0.85zM727.9,399.4h0.85v0.85h-0.85zM752.3,412.1h0.85v0.85h-0.85zM744.7,421.2h0.85v0.85h-0.85zM750.0,395.5h0.85v0.85h-0.85zM726.1,385.1h0.85v0.85h-0.85zM729.7,397.9h0.85v0.85h-0.85zM716.3,386.6h0.85v0.85h-0.85zM717.3,385.4h0.85v0.85h-0.85zM749.8,396.1h0.85v0.85h-0.85zM755.3,398.3h0.85v0.85h-0.85zM723.1,411.2h0.85v0.85h-0.85zM751.9,414.7h0.85v0.85h-0.85zM724.5,411.6h0.85v0.85h-0.85zM719.4,396.9h0.85v0.85h-0.85zM740.0,422.7h0.85v0.85h-0.85zM722.3,391.9h0.85v0.85h-0.85zM746.7,393.0h0.85v0.85h-0.85zM754.2,400.8h0.85v0.85h-0.85zM726.4,408.1h0.85v0.85h-0.85zM727.8,403.5h0.85v0.85h-0.85zM753.4,400.0h0.85v0.85h-0.85zM726.0,406.9h0.85v0.85h-0.85zM740.2,393.5h0.85v0.85h-0.85zM727.0,386.9h0.85v0.85h-0.85zM720.7,393.0h0.85v0.85h-0.85zM744.6,420.8h0.85v0.85h-0.85zM753.4,401.3h0.85v0.85h-0.85zM739.0,393.0h0.85v0.85h-0.85zM726.2,387.5h0.85v0.85h-0.85zM749.1,396.7h0.85v0.85h-0.85zM714.7,386.0h0.85v0.85h-0.85zM753.6,399.6h0.85v0.85h-0.85zM755.9,400.2h0.85v0.85h-0.85zM743.9,423.0h0.85v0.85h-0.85zM715.6,386.5h0.85v0.85h-0.85zM743.3,395.0h0.85v0.85h-0.85zM729.6,398.6h0.85v0.85h-0.85zM722.7,397.0h0.85v0.85h-0.85zM718.4,395.5h0.85v0.85h-0.85zM717.7,388.1h0.85v0.85h-0.85zM717.7,389.8h0.85v0.85h-0.85zM728.4,386.2h0.85v0.85h-0.85zM728.1,403.1h0.85v0.85h-0.85zM741.0,422.2h0.85v0.85h-0.85zM722.6,392.6h0.85v0.85h-0.85zM750.8,410.8h0.85v0.85h-0.85zM717.9,394.2h0.85v0.85h-0.85zM729.0,415.4h0.85v0.85h-0.85zM722.3,395.6h0.85v0.85h-0.85zM716.0,388.5h0.85v0.85h-0.85zM720.4,391.9h0.85v0.85h-0.85zM717.4,393.9h0.85v0.85h-0.85zM727.6,414.0h0.85v0.85h-0.85zM744.0,397.0h0.85v0.85h-0.85zM729.0,418.8h0.85v0.85h-0.85zM720.4,398.8h0.85v0.85h-0.85zM734.6,423.7h0.85v0.85h-0.85zM740.8,394.4h0.85v0.85h-0.85zM744.1,396.0h0.85v0.85h-0.85zM717.2,392.2h0.85v0.85h-0.85zM722.6,397.7h0.85v0.85h-0.85zM722.7,397.0h0.85v0.85h-0.85zM749.5,397.7h0.85v0.85h-0.85zM731.2,392.6h0.85v0.85h-0.85zM728.9,401.6h0.85v0.85h-0.85zM750.8,413.0h0.85v0.85h-0.85zM748.7,416.8h0.85v0.85h-0.85zM721.5,396.2h0.85v0.85h-0.85zM727.5,408.7h0.85v0.85h-0.85zM751.9,399.4h0.85v0.85h-0.85zM727.9,400.8h0.85v0.85h-0.85zM729.1,419.8h0.85v0.85h-0.85zM727.3,406.6h0.85v0.85h-0.85zM717.6,391.5h0.85v0.85h-0.85zM752.3,404.3h0.85v0.85h-0.85zM715.8,390.1h0.85v0.85h-0.85zM718.9,393.3h0.85v0.85h-0.85zM732.6,396.2h0.85v0.85h-0.85zM729.8,404.6h0.85v0.85h-0.85zM720.4,397.1h0.85v0.85h-0.85zM736.8,423.0h0.85v0.85h-0.85zM737.0,423.7h0.85v0.85h-0.85zM750.5,398.8h0.85v0.85h-0.85zM738.1,394.6h0.85v0.85h-0.85zM729.1,414.5h0.85v0.85h-0.85zM720.7,393.5h0.85v0.85h-0.85zM733.6,393.7h0.85v0.85h-0.85zM731.3,393.9h0.85v0.85h-0.85zM718.9,393.6h0.85v0.85h-0.85zM732.2,394.9h0.85v0.85h-0.85zM731.8,395.4h0.85v0.85h-0.85zM730.5,416.2h0.85v0.85h-0.85zM730.5,401.0h0.85v0.85h-0.85zM731.3,420.2h0.85v0.85h-0.85zM730.7,401.3h0.85v0.85h-0.85zM745.8,397.3h0.85v0.85h-0.85zM748.4,416.3h0.85v0.85h-0.85zM732.9,395.8h0.85v0.85h-0.85zM719.4,395.2h0.85v0.85h-0.85zM728.9,411.3h0.85v0.85h-0.85zM739.0,394.9h0.85v0.85h-0.85zM743.4,396.6h0.85v0.85h-0.85zM726.9,412.3h0.85v0.85h-0.85zM733.1,395.2h0.85v0.85h-0.85zM731.1,399.4h0.85v0.85h-0.85zM747.9,398.1h0.85v0.85h-0.85zM731.5,420.0h0.85v0.85h-0.85zM731.7,419.6h0.85v0.85h-0.85zM751.8,400.2h0.85v0.85h-0.85zM727.9,410.2h0.85v0.85h-0.85zM728.6,411.8h0.85v0.85h-0.85zM732.1,418.8h0.85v0.85h-0.85zM729.3,403.0h0.85v0.85h-0.85zM748.3,398.3h0.85v0.85h-0.85zM735.7,396.5h0.85v0.85h-0.85zM736.6,422.5h0.85v0.85h-0.85zM730.6,419.0h0.85v0.85h-0.85zM743.2,397.2h0.85v0.85h-0.85zM729.3,411.4h0.85v0.85h-0.85zM732.3,397.1h0.85v0.85h-0.85zM731.5,395.5h0.85v0.85h-0.85zM728.1,405.9h0.85v0.85h-0.85zM728.5,412.5h0.85v0.85h-0.85zM728.5,408.1h0.85v0.85h-0.85zM729.1,411.6h0.85v0.85h-0.85z" fill="#4050e0" fill-opacity="0.55"/>
<path d="M731.7,413.1h0.85v0.85h-0.85zM747.4,413.9h0.85v0.85h-0.85zM748.3,414.2h0.85v0.85h-0.85zM738.0,422.5h0.85v0.85h-0.85zM740.8,395.2h0.85v0.85h-0.85zM748.1,412.8h0.85v0.85h-0.85zM735.8,421.8h0.85v0.85h-0.85zM747.6,416.7h0.85v0.85h-0.85zM731.5,415.9h0.85v0.85h-0.85zM729.9,405.2h0.85v0.85h-0.85zM730.7,418.7h0.85v0.85h-0.85zM749.1,414.7h0.85v0.85h-0.85zM751.4,402.4h0.85v0.85h-0.85zM730.3,406.4h0.85v0.85h-0.85zM731.8,414.8h0.85v0.85h-0.85zM729.8,405.8h0.85v0.85h-0.85zM736.9,421.9h0.85v0.85h-0.85zM744.8,398.2h0.85v0.85h-0.85zM735.3,418.5h0.85v0.85h-0.85zM747.5,413.8h0.85v0.85h-0.85zM732.7,412.3h0.85v0.85h-0.85zM751.0,408.7h0.85v0.85h-0.85zM748.4,411.9h0.85v0.85h-0.85zM749.3,399.7h0.85v0.85h-0.85zM729.8,412.6h0.85v0.85h-0.85zM747.4,414.1h0.85v0.85h-0.85zM729.3,410.4h0.85v0.85h-0.85zM736.6,421.3h0.85v0.85h-0.85zM739.1,395.5h0.85v0.85h-0.85zM731.3,417.9h0.85v0.85h-0.85zM742.6,420.9h0.85v0.85h-0.85zM734.3,417.6h0.85v0.85h-0.85zM733.4,418.3h0.85v0.85h-0.85zM732.5,414.8h0.85v0.85h-0.85zM732.2,402.4h0.85v0.85h-0.85zM747.7,410.6h0.85v0.85h-0.85zM741.0,396.9h0.85v0.85h-0.85zM749.8,402.0h0.85v0.85h-0.85zM731.7,401.4h0.85v0.85h-0.85zM743.8,419.5h0.85v0.85h-0.85zM733.2,411.8h0.85v0.85h-0.85zM730.1,410.4h0.85v0.85h-0.85zM732.3,402.4h0.85v0.85h-0.85zM749.0,410.1h0.85v0.85h-0.85zM734.8,399.4h0.85v0.85h-0.85zM734.5,414.7h0.85v0.85h-0.85zM734.7,416.7h0.85v0.85h-0.85zM751.4,406.4h0.85v0.85h-0.85zM734.3,415.0h0.85v0.85h-0.85zM734.1,399.1h0.85v0.85h-0.85zM734.9,415.4h0.85v0.85h-0.85zM732.4,417.5h0.85v0.85h-0.85zM733.1,397.8h0.85v0.85h-0.85zM749.4,401.0h0.85v0.85h-0.85zM749.4,401.6h0.85v0.85h-0.85zM745.7,399.4h0.85v0.85h-0.85zM745.8,399.9h0.85v0.85h-0.85zM736.9,396.7h0.85v0.85h-0.85zM734.1,414.8h0.85v0.85h-0.85zM737.1,421.5h0.85v0.85h-0.85zM745.6,400.4h0.85v0.85h-0.85zM745.0,416.2h0.85v0.85h-0.85zM743.0,419.2h0.85v0.85h-0.85zM742.6,418.8h0.85v0.85h-0.85zM733.6,398.4h0.85v0.85h-0.85zM738.6,422.1h0.85v0.85h-0.85zM733.9,399.5h0.85v0.85h-0.85zM745.1,417.0h0.85v0.85h-0.85zM732.1,403.1h0.85v0.85h-0.85zM734.1,413.5h0.85v0.85h-0.85zM744.8,416.1h0.85v0.85h-0.85zM745.0,417.7h0.85v0.85h-0.85zM742.2,399.2h0.85v0.85h-0.85zM733.5,402.9h0.85v0.85h-0.85zM733.0,404.4h0.85v0.85h-0.85zM733.9,399.7h0.85v0.85h-0.85zM746.6,399.9h0.85v0.85h-0.85zM738.6,396.6h0.85v0.85h-0.85z" fill="#4050e0" fill-opacity="1"/>
<path d="M746.5,416.2h0.85v0.85h-0.85zM747.1,399.9h0.85v0.85h-0.85zM734.1,416.4h0.85v0.85h-0.85zM731.3,405.8h0.85v0.85h-0.85zM735.0,399.0h0.85v0.85h-0.85zM733.0,417.7h0.85v0.85h-0.85zM736.8,421.1h0.85v0.85h-0.85zM749.0,408.4h0.85v0.85h-0.85zM751.1,406.8h0.85v0.85h-0.85z" fill="#4040e0" fill-opacity="1"/>
<path d="M733.2,401.2h0.85v0.85h-0.85zM733.1,411.6h0.85v0.85h-0.85zM735.4,399.7h0.85v0.85h-0.85zM746.7,401.6h0.85v0.85h-0.85zM734.4,400.2h0.85v0.85h-0.85zM741.0,398.3h0.85v0.85h-0.85zM745.8,415.9h0.85v0.85h-0.85zM744.6,415.9h0.85v0.85h-0.85zM740.9,398.2h0.85v0.85h-0.85zM740.4,420.4h0.85v0.85h-0.85zM733.7,403.0h0.85v0.85h-0.85zM749.5,403.0h0.85v0.85h-0.85zM739.8,397.7h0.85v0.85h-0.85zM746.8,401.3h0.85v0.85h-0.85zM740.7,398.1h0.85v0.85h-0.85zM735.4,398.7h0.85v0.85h-0.85zM733.5,404.1h0.85v0.85h-0.85zM745.7,413.2h0.85v0.85h-0.85zM735.5,417.1h0.85v0.85h-0.85zM746.5,410.3h0.85v0.85h-0.85zM745.5,413.9h0.85v0.85h-0.85zM730.8,406.4h0.85v0.85h-0.85zM742.5,417.6h0.85v0.85h-0.85zM739.7,420.9h0.85v0.85h-0.85zM734.5,400.5h0.85v0.85h-0.85zM745.5,401.1h0.85v0.85h-0.85zM744.8,414.9h0.85v0.85h-0.85zM746.1,410.1h0.85v0.85h-0.85zM750.9,405.0h0.85v0.85h-0.85zM742.8,417.5h0.85v0.85h-0.85zM735.8,403.1h0.85v0.85h-0.85zM741.8,419.1h0.85v0.85h-0.85zM738.9,397.4h0.85v0.85h-0.85zM744.2,414.2h0.85v0.85h-0.85zM737.8,398.0h0.85v0.85h-0.85zM731.1,410.9h0.85v0.85h-0.85zM734.2,404.1h0.85v0.85h-0.85zM735.4,411.4h0.85v0.85h-0.85zM743.9,416.1h0.85v0.85h-0.85zM736.1,398.0h0.85v0.85h-0.85zM734.9,402.5h0.85v0.85h-0.85zM745.9,410.8h0.85v0.85h-0.85zM744.2,416.6h0.85v0.85h-0.85zM743.6,415.8h0.85v0.85h-0.85zM745.8,409.7h0.85v0.85h-0.85zM744.1,414.4h0.85v0.85h-0.85zM738.2,398.2h0.85v0.85h-0.85zM736.6,398.6h0.85v0.85h-0.85zM734.5,404.3h0.85v0.85h-0.85zM736.3,418.4h0.85v0.85h-0.85zM745.6,410.7h0.85v0.85h-0.85zM750.6,404.7h0.85v0.85h-0.85zM737.0,419.9h0.85v0.85h-0.85zM744.8,401.0h0.85v0.85h-0.85zM749.0,402.9h0.85v0.85h-0.85zM748.6,402.6h0.85v0.85h-0.85zM733.6,411.1h0.85v0.85h-0.85zM741.1,413.9h0.85v0.85h-0.85zM737.4,419.7h0.85v0.85h-0.85zM739.1,398.2h0.85v0.85h-0.85zM736.7,399.3h0.85v0.85h-0.85zM733.6,405.3h0.85v0.85h-0.85zM745.4,410.4h0.85v0.85h-0.85zM736.6,402.4h0.85v0.85h-0.85zM742.1,418.0h0.85v0.85h-0.85zM736.2,403.3h0.85v0.85h-0.85zM740.7,419.3h0.85v0.85h-0.85zM748.5,407.7h0.85v0.85h-0.85zM746.2,409.6h0.85v0.85h-0.85zM733.5,405.0h0.85v0.85h-0.85zM745.8,410.3h0.85v0.85h-0.85zM745.4,410.0h0.85v0.85h-0.85zM731.3,408.7h0.85v0.85h-0.85zM741.9,417.6h0.85v0.85h-0.85zM735.3,414.9h0.85v0.85h-0.85zM742.8,399.9h0.85v0.85h-0.85zM736.7,399.6h0.85v0.85h-0.85zM745.9,401.8h0.85v0.85h-0.85zM731.6,407.6h0.85v0.85h-0.85zM748.4,408.1h0.85v0.85h-0.85zM750.3,405.6h0.85v0.85h-0.85zM735.9,412.1h0.85v0.85h-0.85zM749.5,407.0h0.85v0.85h-0.85zM745.1,412.0h0.85v0.85h-0.85zM748.4,407.4h0.85v0.85h-0.85zM732.2,406.4h0.85v0.85h-0.85zM741.1,413.5h0.85v0.85h-0.85zM739.1,419.4h0.85v0.85h-0.85zM736.7,401.4h0.85v0.85h-0.85zM742.7,416.7h0.85v0.85h-0.85zM747.1,401.9h0.85v0.85h-0.85zM738.6,419.5h0.85v0.85h-0.85zM748.0,409.0h0.85v0.85h-0.85zM732.5,408.6h0.85v0.85h-0.85zM739.0,419.3h0.85v0.85h-0.85zM744.1,412.5h0.85v0.85h-0.85zM747.8,407.5h0.85v0.85h-0.85zM735.3,404.7h0.85v0.85h-0.85zM738.6,418.4h0.85v0.85h-0.85zM741.8,415.0h0.85v0.85h-0.85zM732.6,408.6h0.85v0.85h-0.85zM749.5,404.3h0.85v0.85h-0.85zM733.7,409.9h0.85v0.85h-0.85zM731.9,410.0h0.85v0.85h-0.85zM731.8,407.4h0.85v0.85h-0.85zM734.3,409.6h0.85v0.85h-0.85zM738.3,418.6h0.85v0.85h-0.85zM741.7,415.8h0.85v0.85h-0.85zM733.3,408.7h0.85v0.85h-0.85zM744.9,409.3h0.85v0.85h-0.85zM738.8,419.1h0.85v0.85h-0.85zM739.4,418.8h0.85v0.85h-0.85zM742.4,414.4h0.85v0.85h-0.85zM744.9,411.8h0.85v0.85h-0.85zM737.6,418.7h0.85v0.85h-0.85zM749.3,407.0h0.85v0.85h-0.85zM735.2,410.2h0.85v0.85h-0.85zM738.3,399.1h0.85v0.85h-0.85zM732.3,408.6h0.85v0.85h-0.85zM732.8,408.6h0.85v0.85h-0.85zM732.2,408.9h0.85v0.85h-0.85zM733.1,407.5h0.85v0.85h-0.85zM749.7,404.6h0.85v0.85h-0.85zM736.7,413.9h0.85v0.85h-0.85zM736.7,415.5h0.85v0.85h-0.85zM733.4,409.2h0.85v0.85h-0.85zM732.6,408.8h0.85v0.85h-0.85zM736.4,405.3h0.85v0.85h-0.85zM737.8,417.4h0.85v0.85h-0.85zM741.0,417.3h0.85v0.85h-0.85zM736.8,414.5h0.85v0.85h-0.85zM737.9,400.0h0.85v0.85h-0.85zM737.2,404.0h0.85v0.85h-0.85zM733.6,409.3h0.85v0.85h-0.85zM745.2,402.0h0.85v0.85h-0.85zM732.7,406.6h0.85v0.85h-0.85zM733.7,408.1h0.85v0.85h-0.85zM748.4,403.4h0.85v0.85h-0.85zM746.4,402.4h0.85v0.85h-0.85zM748.7,404.0h0.85v0.85h-0.85zM737.0,413.0h0.85v0.85h-0.85zM735.5,405.8h0.85v0.85h-0.85zM743.8,412.3h0.85v0.85h-0.85zM735.9,404.9h0.85v0.85h-0.85zM739.9,399.6h0.85v0.85h-0.85zM736.6,411.8h0.85v0.85h-0.85zM733.5,406.7h0.85v0.85h-0.85zM736.9,412.9h0.85v0.85h-0.85zM748.9,406.8h0.85v0.85h-0.85zM735.9,409.4h0.85v0.85h-0.85zM733.7,407.7h0.85v0.85h-0.85zM739.6,401.1h0.85v0.85h-0.85zM742.6,411.5h0.85v0.85h-0.85zM749.1,406.7h0.85v0.85h-0.85zM739.6,401.2h0.85v0.85h-0.85zM739.3,417.7h0.85v0.85h-0.85zM737.6,401.6h0.85v0.85h-0.85zM741.0,416.4h0.85v0.85h-0.85zM737.2,413.1h0.85v0.85h-0.85zM739.9,417.8h0.85v0.85h-0.85zM745.9,403.1h0.85v0.85h-0.85zM737.6,404.6h0.85v0.85h-0.85zM737.8,403.7h0.85v0.85h-0.85zM737.8,415.2h0.85v0.85h-0.85zM737.8,415.9h0.85v0.85h-0.85zM740.7,400.0h0.85v0.85h-0.85zM738.5,399.7h0.85v0.85h-0.85zM738.8,416.9h0.85v0.85h-0.85zM742.4,411.1h0.85v0.85h-0.85zM742.9,411.7h0.85v0.85h-0.85zM738.2,414.9h0.85v0.85h-0.85zM743.3,401.6h0.85v0.85h-0.85z" fill="#3040e0" fill-opacity="1"/>
<path d="M739.5,417.4h0.85v0.85h-0.85zM742.9,410.8h0.85v0.85h-0.85zM740.3,400.1h0.85v0.85h-0.85zM744.0,411.6h0.85v0.85h-0.85zM738.0,402.0h0.85v0.85h-0.85zM740.3,413.9h0.85v0.85h-0.85zM734.3,408.2h0.85v0.85h-0.85zM744.2,407.9h0.85v0.85h-0.85zM747.4,404.5h0.85v0.85h-0.85zM739.2,418.1h0.85v0.85h-0.85zM736.8,408.0h0.85v0.85h-0.85zM734.9,409.8h0.85v0.85h-0.85zM738.4,416.2h0.85v0.85h-0.85zM748.5,405.2h0.85v0.85h-0.85zM742.6,401.3h0.85v0.85h-0.85z" fill="#3050e0" fill-opacity="1"/>
<path d="M739.3,416.3h0.85v0.85h-0.85zM741.5,412.9h0.85v0.85h-0.85zM745.4,408.0h0.85v0.85h-0.85zM740.3,415.4h0.85v0.85h-0.85zM739.1,400.4h0.85v0.85h-0.85zM739.2,400.3h0.85v0.85h-0.85zM741.9,409.9h0.85v0.85h-0.85zM748.1,404.3h0.85v0.85h-0.85zM742.4,410.6h0.85v0.85h-0.85zM734.5,407.2h0.85v0.85h-0.85zM743.3,410.8h0.85v0.85h-0.85zM737.2,408.7h0.85v0.85h-0.85zM736.3,408.5h0.85v0.85h-0.85zM737.0,416.0h0.85v0.85h-0.85zM739.3,416.9h0.85v0.85h-0.85zM748.4,406.2h0.85v0.85h-0.85z" fill="#2050e0" fill-opacity="1"/>
<path d="M737.9,417.0h0.85v0.85h-0.85zM737.8,404.6h0.85v0.85h-0.85zM749.0,405.3h0.85v0.85h-0.85zM738.2,414.9h0.85v0.85h-0.85zM739.8,401.6h0.85v0.85h-0.85zM745.9,407.4h0.85v0.85h-0.85zM737.3,412.1h0.85v0.85h-0.85zM747.7,406.4h0.85v0.85h-0.85zM737.1,408.3h0.85v0.85h-0.85zM748.6,405.7h0.85v0.85h-0.85zM746.7,406.1h0.85v0.85h-0.85zM736.2,406.3h0.85v0.85h-0.85zM745.7,403.8h0.85v0.85h-0.85zM737.6,412.4h0.85v0.85h-0.85zM740.9,401.0h0.85v0.85h-0.85zM738.2,417.2h0.85v0.85h-0.85zM736.0,406.4h0.85v0.85h-0.85zM740.1,415.3h0.85v0.85h-0.85zM742.1,410.1h0.85v0.85h-0.85zM746.4,406.6h0.85v0.85h-0.85zM738.9,402.1h0.85v0.85h-0.85zM740.7,412.8h0.85v0.85h-0.85zM745.5,407.0h0.85v0.85h-0.85zM737.0,409.1h0.85v0.85h-0.85zM737.6,406.7h0.85v0.85h-0.85zM743.1,409.7h0.85v0.85h-0.85zM738.0,405.5h0.85v0.85h-0.85zM743.5,407.4h0.85v0.85h-0.85zM737.6,406.2h0.85v0.85h-0.85zM738.5,404.2h0.85v0.85h-0.85zM743.5,409.7h0.85v0.85h-0.85zM742.0,411.9h0.85v0.85h-0.85zM746.6,406.7h0.85v0.85h-0.85zM737.9,413.7h0.85v0.85h-0.85zM741.8,409.7h0.85v0.85h-0.85zM743.4,410.2h0.85v0.85h-0.85zM738.2,404.4h0.85v0.85h-0.85zM743.2,402.0h0.85v0.85h-0.85zM740.7,401.8h0.85v0.85h-0.85zM738.1,414.3h0.85v0.85h-0.85zM747.5,405.9h0.85v0.85h-0.85zM738.0,414.3h0.85v0.85h-0.85zM740.9,401.6h0.85v0.85h-0.85zM746.2,405.0h0.85v0.85h-0.85z" fill="#2060e0" fill-opacity="1"/>
<path d="M748.0,405.4h0.85v0.85h-0.85zM740.4,401.6h0.85v0.85h-0.85zM746.3,404.6h0.85v0.85h-0.85zM737.6,408.6h0.85v0.85h-0.85zM746.4,403.9h0.85v0.85h-0.85zM741.2,412.5h0.85v0.85h-0.85zM740.1,401.9h0.85v0.85h-0.85zM740.4,401.8h0.85v0.85h-0.85zM742.0,409.3h0.85v0.85h-0.85zM738.1,411.9h0.85v0.85h-0.85zM738.0,407.9h0.85v0.85h-0.85zM745.2,406.0h0.85v0.85h-0.85zM737.8,407.2h0.85v0.85h-0.85zM739.7,413.8h0.85v0.85h-0.85zM745.1,404.9h0.85v0.85h-0.85zM746.5,405.3h0.85v0.85h-0.85zM740.3,412.6h0.85v0.85h-0.85zM739.6,412.4h0.85v0.85h-0.85zM745.3,404.6h0.85v0.85h-0.85zM738.0,409.2h0.85v0.85h-0.85zM738.6,409.5h0.85v0.85h-0.85zM738.7,411.5h0.85v0.85h-0.85zM737.1,410.5h0.85v0.85h-0.85zM739.4,402.2h0.85v0.85h-0.85zM737.7,409.8h0.85v0.85h-0.85zM739.0,403.3h0.85v0.85h-0.85zM741.4,409.6h0.85v0.85h-0.85zM738.0,408.5h0.85v0.85h-0.85zM737.8,408.4h0.85v0.85h-0.85zM744.8,405.2h0.85v0.85h-0.85zM738.6,405.9h0.85v0.85h-0.85zM739.3,412.5h0.85v0.85h-0.85zM738.9,412.8h0.85v0.85h-0.85zM741.7,409.0h0.85v0.85h-0.85zM739.3,412.4h0.85v0.85h-0.85zM738.8,411.6h0.85v0.85h-0.85z" fill="#2070e0" fill-opacity="1"/>
<path d="M742.5,408.1h0.85v0.85h-0.85zM740.6,408.8h0.85v0.85h-0.85zM738.3,410.0h0.85v0.85h-0.85zM742.6,407.8h0.85v0.85h-0.85zM739.4,414.5h0.85v0.85h-0.85zM742.5,402.3h0.85v0.85h-0.85zM738.8,404.0h0.85v0.85h-0.85zM739.8,402.3h0.85v0.85h-0.85zM739.0,412.0h0.85v0.85h-0.85zM741.8,402.2h0.85v0.85h-0.85zM739.3,410.6h0.85v0.85h-0.85zM738.8,407.5h0.85v0.85h-0.85zM738.7,406.1h0.85v0.85h-0.85zM739.1,411.5h0.85v0.85h-0.85zM744.9,404.6h0.85v0.85h-0.85zM738.7,411.0h0.85v0.85h-0.85zM739.6,409.2h0.85v0.85h-0.85zM738.7,409.1h0.85v0.85h-0.85zM740.0,406.5h0.85v0.85h-0.85zM744.4,403.8h0.85v0.85h-0.85z" fill="#2080e0" fill-opacity="1"/>
<path d="M740.9,410.1h0.85v0.85h-0.85zM740.2,408.9h0.85v0.85h-0.85zM739.0,410.0h0.85v0.85h-0.85zM742.9,407.5h0.85v0.85h-0.85zM741.9,407.2h0.85v0.85h-0.85zM738.8,410.1h0.85v0.85h-0.85zM739.9,402.7h0.85v0.85h-0.85zM744.2,403.3h0.85v0.85h-0.85zM741.4,411.7h0.85v0.85h-0.85zM739.6,410.6h0.85v0.85h-0.85zM740.1,406.5h0.85v0.85h-0.85zM741.1,402.2h0.85v0.85h-0.85zM743.5,406.1h0.85v0.85h-0.85zM738.8,406.3h0.85v0.85h-0.85zM740.3,408.2h0.85v0.85h-0.85z" fill="#2090d0" fill-opacity="1"/>
<path d="M740.6,406.9h0.85v0.85h-0.85zM738.7,407.2h0.85v0.85h-0.85zM744.2,403.6h0.85v0.85h-0.85zM743.3,406.1h0.85v0.85h-0.85zM740.4,410.0h0.85v0.85h-0.85zM740.4,407.1h0.85v0.85h-0.85zM742.5,402.8h0.85v0.85h-0.85zM740.3,409.7h0.85v0.85h-0.85zM739.8,407.2h0.85v0.85h-0.85zM740.6,403.7h0.85v0.85h-0.85zM744.0,404.7h0.85v0.85h-0.85zM744.1,404.8h0.85v0.85h-0.85zM741.6,406.7h0.85v0.85h-0.85zM741.7,402.6h0.85v0.85h-0.85zM743.9,404.0h0.85v0.85h-0.85zM739.8,410.0h0.85v0.85h-0.85z" fill="#20a0c0" fill-opacity="1"/>
<path d="M743.7,404.5h0.85v0.85h-0.85zM741.6,405.2h0.85v0.85h-0.85zM740.4,405.3h0.85v0.85h-0.85zM743.2,405.6h0.85v0.85h-0.85zM740.6,405.0h0.85v0.85h-0.85zM741.7,403.4h0.85v0.85h-0.85zM740.2,405.1h0.85v0.85h-0.85zM742.5,404.3h0.85v0.85h-0.85zM742.9,406.6h0.85v0.85h-0.85zM743.6,405.5h0.85v0.85h-0.85zM743.3,405.7h0.85v0.85h-0.85z" fill="#20b0c0" fill-opacity="1"/>
<path d="M743.8,406.1h0.85v0.85h-0.85zM742.1,404.8h0.85v0.85h-0.85zM740.1,407.5h0.85v0.85h-0.85zM741.4,406.4h0.85v0.85h-0.85zM741.6,405.1h0.85v0.85h-0.85z" fill="#20b0b0" fill-opacity="1"/>
<path d="M742.5,404.6h0.85v0.85h-0.85zM741.6,403.4h0.85v0.85h-0.85zM740.4,405.0h0.85v0.85h-0.85zM742.7,406.5h0.85v0.85h-0.85zM742.2,404.1h0.85v0.85h-0.85zM742.6,404.7h0.85v0.85h-0.85zM741.4,406.0h0.85v0.85h-0.85zM742.8,404.9h0.85v0.85h-0.85z" fill="#20c0b0" fill-opacity="1"/>
<path d="M742.2,403.7h0.85v0.85h-0.85zM742.1,403.8h0.85v0.85h-0.85zM742.0,404.1h0.85v0.85h-0.85zM741.4,405.1h0.85v0.85h-0.85zM741.8,404.0h0.85v0.85h-0.85zM741.2,404.8h0.85v0.85h-0.85zM740.9,404.6h0.85v0.85h-0.85z" fill="#30c0a0" fill-opacity="1"/>
<rect x="679" y="362.4" width="92.4" height="92.2" fill="none" stroke="#8c8c8c" stroke-width="0.9"/>
<path d="M679,362.4h-1.4 M679,366.24h-1.4 M679,370.08h-1.4 M679,373.92h-1.4 M679,377.77h-1.4 M679,381.61h-1.4 M679,385.45h-1.4 M679,389.29h-1.4 M679,393.13h-1.4 M679,396.98h-1.4 M679,400.82h-1.4 M679,404.66h-1.4 M679,408.5h-1.4 M679,412.34h-1.4 M679,416.18h-1.4 M679,420.02h-1.4 M679,423.87h-1.4 M679,427.71h-1.4 M679,431.55h-1.4 M679,435.39h-1.4 M679,439.23h-1.4 M679,443.08h-1.4 M679,446.92h-1.4 M679,450.76h-1.4 M679,454.6h-1.4" stroke="#666" stroke-width="0.8" fill="none"/>
<path d="M679,454.6v1.4 M682.85,454.6v1.4 M686.7,454.6v1.4 M690.55,454.6v1.4 M694.4,454.6v1.4 M698.25,454.6v1.4 M702.1,454.6v1.4 M705.95,454.6v1.4 M709.8,454.6v1.4 M713.65,454.6v1.4 M717.5,454.6v1.4 M721.35,454.6v1.4 M725.2,454.6v1.4 M729.05,454.6v1.4 M732.9,454.6v1.4 M736.75,454.6v1.4 M740.6,454.6v1.4 M744.45,454.6v1.4 M748.3,454.6v1.4 M752.15,454.6v1.4 M756,454.6v1.4 M759.85,454.6v1.4 M763.7,454.6v1.4 M767.55,454.6v1.4 M771.4,454.6v1.4" stroke="#666" stroke-width="0.8" fill="none"/>
<rect x="704.6" y="380" width="24.6" height="19.1" fill="none" stroke="#444" stroke-width="0.9"/>
<rect x="725.9" y="399.1" width="28.6" height="31.5" fill="none" stroke="#444" stroke-width="0.9"/>
<text x="702.97" y="375.64" font-size="10.92" font-weight="bold" font-style="normal" fill="#000">SPM</text>
<text x="756.28" y="423.67" font-size="11.11" font-weight="bold" font-style="normal" fill="#000">LPM</text>
<text x="665.4" y="385" font-size="6.2" font-weight="bold">10<tspan font-size="3.84" dy="-1.86">4</tspan></text>
<text x="665.4" y="408" font-size="6.2" font-weight="bold">10<tspan font-size="3.84" dy="-1.86">3</tspan></text>
<text x="669.08" y="435.14" font-size="6.2" font-weight="bold" font-style="normal" fill="#000">0</text>
<text transform="translate(660.62,430.69) rotate(-90)" font-size="10.6" font-weight="bold" font-style="normal">MHC II</text>
<line x1="656.5" y1="470.6" x2="656.5" y2="437.5" stroke="#222" stroke-width="1.3"/>
<path d="M656.5,435 L658.2,438.6 L654.8,438.6 Z" fill="#222" stroke="none"/>
<line x1="655.9" y1="470" x2="693.8" y2="470" stroke="#222" stroke-width="1.3"/>
<path d="M696.3,470 L692.7,471.7 L692.7,468.3 Z" fill="#222" stroke="none"/>
<text x="697.29" y="472.46" font-size="10.98" font-weight="bold" font-style="normal" fill="#000">F4/80</text>
<text x="688.5" y="462.4" font-size="6.2" font-weight="bold">10<tspan font-size="3.84" dy="-1.86">-3</tspan></text>
<text x="706.78" y="462.24" font-size="6.2" font-weight="bold" font-style="normal" fill="#000">0</text>
<text x="719.5" y="462.4" font-size="6.2" font-weight="bold">10<tspan font-size="3.84" dy="-1.86">3</tspan></text>
<text x="739.5" y="462.4" font-size="6.2" font-weight="bold">10<tspan font-size="3.84" dy="-1.86">4</tspan></text>
<text x="758.5" y="462.4" font-size="6.2" font-weight="bold">10<tspan font-size="3.84" dy="-1.86">5</tspan></text>
<path d="M661.4,577.4 L661.86,577.16 L662.49,576.85 L663.23,576.47 L664.05,576.01 L664.89,575.46 L665.7,574.8 L666.52,573.99 L667.4,573.02 L668.3,571.96 L669.19,570.86 L670.03,569.79 L670.8,568.8 L671.5,567.92 L672.15,567.1 L672.76,566.31 L673.33,565.5 L673.84,564.64 L674.3,563.7 L674.69,562.66 L675,561.56 L675.26,560.41 L675.5,559.23 L675.74,558.02 L676,556.8 L676.28,555.52 L676.57,554.17 L676.85,552.79 L677.13,551.44 L677.42,550.2 L677.7,549.1 L677.99,548.28 L678.28,547.7 L678.58,547.22 L678.86,546.68 L679.14,545.92 L679.4,544.8 L679.64,543.27 L679.86,541.43 L680.07,539.39 L680.28,537.21 L680.49,534.99 L680.7,532.8 L680.92,530.47 L681.15,527.88 L681.38,525.25 L681.6,522.77 L681.81,520.66 L682,519.1 L682.16,518.34 L682.3,518.26 L682.42,518.54 L682.54,518.86 L682.67,518.89 L682.8,518.3 L682.94,516.99 L683.09,515.21 L683.24,513.13 L683.4,510.96 L683.55,508.88 L683.7,507.1 L683.85,505.53 L684,503.99 L684.16,502.55 L684.31,501.27 L684.46,500.2 L684.6,499.4 L684.74,498.87 L684.87,498.54 L685,498.44 L685.13,498.54 L685.26,498.87 L685.4,499.4 L685.55,500.13 L685.7,501.04 L685.85,502.17 L686,503.54 L686.15,505.18 L686.3,507.1 L686.43,509.32 L686.56,511.81 L686.67,514.58 L686.8,517.59 L686.94,520.83 L687.1,524.3 L687.29,528.21 L687.5,532.62 L687.72,537.26 L687.95,541.88 L688.18,546.21 L688.4,550 L688.61,553.23 L688.82,556.12 L689.02,558.72 L689.24,561.09 L689.46,563.3 L689.7,565.4 L689.96,567.39 L690.25,569.23 L690.55,570.9 L690.85,572.39 L691.14,573.7 L691.4,574.8 L691.65,575.66 L691.91,576.27 L692.16,576.69 L692.38,576.98 L692.56,577.2 L692.7,577.4 Z" fill="#e89ca2" stroke="#d2646e" stroke-width="0.9" stroke-linejoin="round"/>
<path d="M652,577.4 L652.14,576.83 L652.34,576.1 L652.57,575.2 L652.82,574.13 L653.07,572.86 L653.3,571.4 L653.52,569.69 L653.73,567.74 L653.95,565.59 L654.17,563.32 L654.38,560.97 L654.6,558.6 L654.82,556.06 L655.04,553.26 L655.26,550.39 L655.47,547.63 L655.69,545.14 L655.9,543.1 L656.11,541.54 L656.31,540.32 L656.51,539.38 L656.71,538.66 L656.91,538.08 L657.1,537.6 L657.29,537.24 L657.47,537.05 L657.66,537.02 L657.84,537.11 L658.02,537.32 L658.2,537.6 L658.39,538.02 L658.58,538.6 L658.77,539.29 L658.96,540.02 L659.13,540.75 L659.3,541.4 L659.44,542.02 L659.55,542.66 L659.66,543.28 L659.77,543.87 L659.91,544.38 L660.1,544.8 L660.34,545.09 L660.63,545.29 L660.94,545.41 L661.27,545.49 L661.59,545.58 L661.9,545.7 L662.19,545.86 L662.49,546.03 L662.79,546.21 L663.07,546.37 L663.35,546.5 L663.6,546.6 L663.83,546.61 L664.05,546.54 L664.25,546.44 L664.44,546.38 L664.62,546.41 L664.8,546.6 L664.96,546.93 L665.09,547.36 L665.22,547.88 L665.35,548.49 L665.51,549.2 L665.7,550 L665.94,550.94 L666.21,552.01 L666.5,553.18 L666.8,554.4 L667.11,555.62 L667.4,556.8 L667.68,557.95 L667.95,559.13 L668.22,560.3 L668.5,561.46 L668.79,562.6 L669.1,563.7 L669.43,564.78 L669.77,565.86 L670.12,566.92 L670.49,567.93 L670.88,568.86 L671.3,569.7 L671.75,570.43 L672.23,571.06 L672.72,571.61 L673.24,572.12 L673.77,572.61 L674.3,573.1 L674.85,573.59 L675.43,574.06 L676.02,574.51 L676.61,574.93 L677.18,575.33 L677.7,575.7 L678.21,576.06 L678.72,576.4 L679.21,576.71 L679.66,576.99 L680.03,577.23 L680.3,577.4 Z" fill="#9edcf6" stroke="#52bdea" stroke-width="0.9" stroke-linejoin="round" style="mix-blend-mode:multiply"/>
<rect x="632.9" y="485.3" width="92" height="91.7" fill="none" stroke="#8c8c8c" stroke-width="0.9"/>
<path d="M632.9,577v1.4 M637.08,577v1.4 M641.26,577v1.4 M645.45,577v1.4 M649.63,577v1.4 M653.81,577v1.4 M657.99,577v1.4 M662.17,577v1.4 M666.35,577v1.4 M670.54,577v1.4 M674.72,577v1.4 M678.9,577v1.4 M683.08,577v1.4 M687.26,577v1.4 M691.45,577v1.4 M695.63,577v1.4 M699.81,577v1.4 M703.99,577v1.4 M708.17,577v1.4 M712.35,577v1.4 M716.54,577v1.4 M720.72,577v1.4 M724.9,577v1.4" stroke="#666" stroke-width="0.8" fill="none"/>
<line x1="668.7" y1="537" x2="696.1" y2="537" stroke="#333" stroke-width="1.1"/>
<line x1="668.7" y1="534.8" x2="668.7" y2="539.2" stroke="#333" stroke-width="1.1"/>
<line x1="696.1" y1="534.8" x2="696.1" y2="539.2" stroke="#333" stroke-width="1.1"/>
<text x="633.5" y="585.6" font-size="6.2" font-weight="bold">10<tspan font-size="3.84" dy="-1.86">-3</tspan></text>
<text x="650.28" y="585.34" font-size="6.2" font-weight="bold" font-style="normal" fill="#000">0</text>
<text x="661.5" y="585.6" font-size="6.2" font-weight="bold">10<tspan font-size="3.84" dy="-1.86">3</tspan></text>
<text x="688.5" y="585.6" font-size="6.2" font-weight="bold">10<tspan font-size="3.84" dy="-1.86">4</tspan></text>
<text x="711.5" y="585.6" font-size="6.2" font-weight="bold">10<tspan font-size="3.84" dy="-1.86">5</tspan></text>
<path d="M766.1,576.6 L766.56,576.25 L767.18,575.74 L767.92,575.16 L768.74,574.56 L769.58,574.01 L770.4,573.6 L771.22,573.32 L772.1,573.13 L773,572.99 L773.9,572.89 L774.77,572.8 L775.6,572.7 L776.38,572.63 L777.13,572.61 L777.86,572.61 L778.57,572.58 L779.25,572.49 L779.9,572.3 L780.53,572.04 L781.13,571.76 L781.71,571.41 L782.27,570.97 L782.8,570.41 L783.3,569.7 L783.77,568.81 L784.21,567.75 L784.62,566.57 L785.02,565.32 L785.41,564.05 L785.8,562.8 L786.19,561.59 L786.56,560.39 L786.92,559.16 L787.29,557.89 L787.64,556.54 L788,555.1 L788.37,553.55 L788.74,551.92 L789.11,550.22 L789.46,548.46 L789.8,546.65 L790.1,544.8 L790.36,542.86 L790.59,540.8 L790.8,538.69 L791,536.6 L791.19,534.62 L791.4,532.8 L791.62,531.15 L791.84,529.61 L792.07,528.17 L792.29,526.82 L792.5,525.53 L792.7,524.3 L792.88,523.1 L793.05,521.94 L793.21,520.85 L793.37,519.86 L793.53,519 L793.7,518.3 L793.88,517.77 L794.06,517.39 L794.24,517.14 L794.43,517.01 L794.62,516.97 L794.8,517 L794.98,517.12 L795.17,517.33 L795.35,517.64 L795.53,518.04 L795.72,518.53 L795.9,519.1 L796.08,519.73 L796.26,520.41 L796.44,521.19 L796.62,522.07 L796.81,523.1 L797,524.3 L797.21,525.72 L797.42,527.36 L797.64,529.14 L797.86,530.99 L798.08,532.83 L798.3,534.6 L798.51,536.28 L798.72,537.94 L798.92,539.59 L799.14,541.27 L799.36,543 L799.6,544.8 L799.86,546.72 L800.12,548.73 L800.4,550.79 L800.69,552.86 L800.99,554.88 L801.3,556.8 L801.63,558.65 L801.97,560.49 L802.32,562.27 L802.68,563.98 L803.04,565.6 L803.4,567.1 L803.76,568.5 L804.11,569.81 L804.47,571.03 L804.84,572.14 L805.21,573.14 L805.6,574 L806.03,574.71 L806.5,575.28 L806.99,575.73 L807.44,576.09 L807.82,576.37 L808.1,576.6 Z" fill="#e89ca2" stroke="#d2646e" stroke-width="0.9" stroke-linejoin="round"/>
<path d="M763.6,576.6 L763.78,575.88 L764.04,574.99 L764.34,573.88 L764.67,572.5 L765,570.83 L765.3,568.8 L765.59,566.26 L765.88,563.22 L766.17,559.88 L766.46,556.42 L766.74,553.06 L767,550 L767.24,547.16 L767.46,544.36 L767.67,541.66 L767.88,539.1 L768.09,536.73 L768.3,534.6 L768.52,532.7 L768.73,531.01 L768.95,529.5 L769.17,528.17 L769.38,527.01 L769.6,526 L769.82,525.18 L770.04,524.56 L770.26,524.11 L770.47,523.79 L770.69,523.56 L770.9,523.4 L771.1,523.24 L771.3,523.09 L771.5,523.04 L771.7,523.17 L771.9,523.57 L772.1,524.3 L772.31,525.43 L772.53,526.91 L772.74,528.65 L772.96,530.57 L773.18,532.58 L773.4,534.6 L773.62,536.76 L773.83,539.14 L774.05,541.61 L774.27,544.05 L774.48,546.32 L774.7,548.3 L774.92,549.99 L775.13,551.5 L775.35,552.84 L775.57,554.03 L775.78,555.08 L776,556 L776.22,556.8 L776.43,557.47 L776.65,558 L776.87,558.37 L777.08,558.58 L777.3,558.6 L777.52,558.38 L777.73,557.91 L777.95,557.28 L778.17,556.55 L778.38,555.8 L778.6,555.1 L778.82,554.38 L779.04,553.57 L779.26,552.73 L779.47,551.94 L779.69,551.28 L779.9,550.8 L780.1,550.49 L780.3,550.29 L780.5,550.21 L780.7,550.26 L780.9,550.45 L781.1,550.8 L781.31,551.36 L781.51,552.12 L781.72,553.02 L781.93,554.01 L782.16,555.03 L782.4,556 L782.65,556.96 L782.9,557.97 L783.17,559.01 L783.45,560.04 L783.76,561.04 L784.1,562 L784.47,562.92 L784.87,563.83 L785.29,564.71 L785.74,565.56 L786.21,566.36 L786.7,567.1 L787.22,567.78 L787.77,568.42 L788.34,569.01 L788.93,569.55 L789.52,570.05 L790.1,570.5 L790.67,570.9 L791.23,571.24 L791.8,571.53 L792.38,571.8 L792.98,572.05 L793.6,572.3 L794.27,572.55 L794.97,572.77 L795.7,572.99 L796.43,573.19 L797.13,573.39 L797.8,573.6 L798.42,573.8 L799.02,573.99 L799.6,574.17 L800.17,574.36 L800.73,574.57 L801.3,574.8 L801.91,575.09 L802.57,575.42 L803.22,575.77 L803.82,576.11 L804.33,576.4 L804.7,576.6 Z" fill="#9edcf6" stroke="#52bdea" stroke-width="0.9" stroke-linejoin="round" style="mix-blend-mode:multiply"/>
<rect x="727.9" y="485.3" width="94.2" height="91.7" fill="none" stroke="#8c8c8c" stroke-width="0.9"/>
<path d="M727.9,577v1.4 M732.18,577v1.4 M736.46,577v1.4 M740.75,577v1.4 M745.03,577v1.4 M749.31,577v1.4 M753.59,577v1.4 M757.87,577v1.4 M762.15,577v1.4 M766.44,577v1.4 M770.72,577v1.4 M775,577v1.4 M779.28,577v1.4 M783.56,577v1.4 M787.85,577v1.4 M792.13,577v1.4 M796.41,577v1.4 M800.69,577v1.4 M804.97,577v1.4 M809.25,577v1.4 M813.54,577v1.4 M817.82,577v1.4 M822.1,577v1.4" stroke="#666" stroke-width="0.8" fill="none"/>
<line x1="780.3" y1="546.4" x2="809.8" y2="546.4" stroke="#333" stroke-width="1.1"/>
<line x1="780.3" y1="544.2" x2="780.3" y2="548.6" stroke="#333" stroke-width="1.1"/>
<line x1="809.8" y1="544.2" x2="809.8" y2="548.6" stroke="#333" stroke-width="1.1"/>
<text x="725.5" y="585.6" font-size="6.2" font-weight="bold">10<tspan font-size="3.84" dy="-1.86">-4</tspan></text>
<text x="745" y="585.6" font-size="6.2" font-weight="bold">10<tspan font-size="3.84" dy="-1.86">-3</tspan></text>
<text x="762.28" y="585.34" font-size="6.2" font-weight="bold" font-style="normal" fill="#000">0</text>
<text x="773.5" y="585.6" font-size="6.2" font-weight="bold">10<tspan font-size="3.84" dy="-1.86">3</tspan></text>
<text x="793.5" y="585.6" font-size="6.2" font-weight="bold">10<tspan font-size="3.84" dy="-1.86">4</tspan></text>
<text x="808.5" y="585.6" font-size="6.2" font-weight="bold">10<tspan font-size="3.84" dy="-1.86">5</tspan></text>
<text x="690.02" y="550.74" font-size="10.77" font-weight="bold" font-style="normal" fill="#000">96.2%</text>
<text x="796.63" y="557.49" font-size="10.7" font-weight="bold" font-style="normal" fill="#000">93.2%</text>
<line x1="636.7" y1="596" x2="655" y2="596" stroke="#000" stroke-width="1.1"/>
<path d="M657,596 L654,597.35 L654,594.65 Z" fill="#000" stroke="none"/>
<text x="659.8" y="599.07" font-size="12.39" font-weight="bold" font-style="normal" fill="#000">GATA6</text>
<line x1="730.4" y1="596" x2="750.5" y2="596" stroke="#000" stroke-width="1.1"/>
<path d="M752.5,596 L749.5,597.35 L749.5,594.65 Z" fill="#000" stroke="none"/>
<text x="754.7" y="598.88" font-size="12.11" font-weight="bold" font-style="normal" fill="#000">ARG1</text>
<line x1="716.5" y1="399.1" x2="659.5" y2="529.7" stroke="#78b548" stroke-width="0.95"/>
<path d="M659.5,529.7 L659.46,525.97 L662.26,527.2 Z" fill="#78b548" stroke="none"/>
<line x1="742.4" y1="430.6" x2="692.5" y2="507.6" stroke="#78b548" stroke-width="0.95"/>
<path d="M692.5,507.6 L693.07,503.91 L695.63,505.58 Z" fill="#78b548" stroke="none"/>
<line x1="716.5" y1="399.1" x2="766.7" y2="520.8" stroke="#e39550" stroke-width="0.95"/>
<path d="M766.7,520.8 L763.99,518.24 L766.82,517.07 Z" fill="#e39550" stroke="none"/>
<line x1="742.4" y1="430.6" x2="794.5" y2="512" stroke="#e39550" stroke-width="0.95"/>
<path d="M794.5,512 L791.38,509.96 L793.96,508.31 Z" fill="#e39550" stroke="none"/>
<text x="397.1" y="15.74" font-size="17.98" font-weight="bold" font-style="normal" fill="#000">(C)</text>
<rect x="458.2" y="203.7" width="20.2" height="27.8" fill="#ffffff" stroke="#000" stroke-width="1.9"/>
<rect x="484.3" y="190.4" width="19.4" height="41.1" fill="#d9d9d9" stroke="#000" stroke-width="1.9"/>
<rect x="509.6" y="106.9" width="20" height="124.6" fill="#a09fa6" stroke="#000" stroke-width="1.9"/>
<rect x="534.6" y="197.7" width="19.8" height="33.8" fill="#5e5e5e" stroke="#000" stroke-width="1.9"/>
<line x1="468.3" y1="202" x2="468.3" y2="205.6" stroke="#000" stroke-width="1.6"/>
<line x1="462.9" y1="202" x2="473.7" y2="202" stroke="#000" stroke-width="1.6"/>
<line x1="462.9" y1="205.6" x2="473.7" y2="205.6" stroke="#000" stroke-width="1.6"/>
<line x1="494" y1="184.9" x2="494" y2="195.5" stroke="#000" stroke-width="1.6"/>
<line x1="488.6" y1="184.9" x2="499.4" y2="184.9" stroke="#000" stroke-width="1.6"/>
<line x1="488.6" y1="195.5" x2="499.4" y2="195.5" stroke="#000" stroke-width="1.6"/>
<line x1="519.6" y1="92.9" x2="519.6" y2="120.6" stroke="#000" stroke-width="1.6"/>
<line x1="514.2" y1="92.9" x2="525" y2="92.9" stroke="#000" stroke-width="1.6"/>
<line x1="514.2" y1="120.6" x2="525" y2="120.6" stroke="#000" stroke-width="1.6"/>
<line x1="544.5" y1="191.2" x2="544.5" y2="204.9" stroke="#000" stroke-width="1.6"/>
<line x1="539.1" y1="191.2" x2="549.9" y2="191.2" stroke="#000" stroke-width="1.6"/>
<line x1="539.1" y1="204.9" x2="549.9" y2="204.9" stroke="#000" stroke-width="1.6"/>
<line x1="456" y1="69.5" x2="456" y2="232.45" stroke="#000" stroke-width="1.9"/>
<line x1="451.5" y1="231.5" x2="456" y2="231.5" stroke="#000" stroke-width="1.9"/>
<text x="442.7" y="235.99" font-size="13" font-weight="bold">0</text>
<line x1="451.5" y1="177.5" x2="456" y2="177.5" stroke="#000" stroke-width="1.9"/>
<text x="442.7" y="182.05" font-size="13" font-weight="bold">2</text>
<line x1="451.5" y1="123.5" x2="456" y2="123.5" stroke="#000" stroke-width="1.9"/>
<text x="442.25" y="127.98" font-size="13" font-weight="bold">4</text>
<line x1="451.5" y1="69.5" x2="456" y2="69.5" stroke="#000" stroke-width="1.9"/>
<text x="442.64" y="73.98" font-size="13" font-weight="bold">6</text>
<line x1="455.05" y1="231.5" x2="556" y2="231.5" stroke="#000" stroke-width="1.9"/>
<line x1="468.3" y1="231.5" x2="468.3" y2="236" stroke="#000" stroke-width="1.9"/>
<line x1="494" y1="231.5" x2="494" y2="236" stroke="#000" stroke-width="1.9"/>
<line x1="519.6" y1="231.5" x2="519.6" y2="236" stroke="#000" stroke-width="1.9"/>
<line x1="544.5" y1="231.5" x2="544.5" y2="236" stroke="#000" stroke-width="1.9"/>
<text x="465.08" y="249.92" font-size="11.6" font-weight="bold" font-style="normal" fill="#000">0</text>
<text x="484.37" y="249.92" font-size="11.6" font-weight="bold" font-style="normal" fill="#000">200</text>
<text x="516.38" y="249.12" font-size="11.6" font-weight="bold" font-style="normal" fill="#000">0</text>
<text x="534.87" y="249.12" font-size="11.6" font-weight="bold" font-style="normal" fill="#000">200</text>
<line x1="461.5" y1="253.5" x2="506.2" y2="253.5" stroke="#111" stroke-width="1.15"/>
<text x="467.95" y="266.75" font-size="11.8" font-weight="bold" font-style="normal" fill="#000">Sham</text>
<line x1="512.2" y1="253.5" x2="556.3" y2="253.5" stroke="#111" stroke-width="1.15"/>
<text x="522.89" y="266.34" font-size="11.8" font-weight="bold" font-style="normal" fill="#000">ELL</text>
<text x="460.42" y="83.94" font-size="17.62" font-weight="bold" font-style="italic" fill="#000">Gata6</text>
<text x="464.95" y="193.38" font-size="15" font-weight="normal" font-style="normal" fill="#000">b</text>
<text x="489.95" y="178.18" font-size="15" font-weight="normal" font-style="normal" fill="#000">b</text>
<text x="514.84" y="84.7" font-size="15" font-weight="normal" font-style="normal" fill="#000">a</text>
<text x="540.65" y="185.68" font-size="15" font-weight="normal" font-style="normal" fill="#000">b</text>
<rect x="575.4" y="210.5" width="21.9" height="21" fill="#ffffff" stroke="#000" stroke-width="1.9"/>
<rect x="601.2" y="218" width="21.3" height="13.5" fill="#a09fa6" stroke="#000" stroke-width="1.9"/>
<rect x="627" y="142.2" width="21.5" height="89.3" fill="#a09fa6" stroke="#000" stroke-width="1.9"/>
<rect x="652.8" y="201.6" width="21.2" height="29.9" fill="#5e5e5e" stroke="#000" stroke-width="1.9"/>
<line x1="586.35" y1="205.6" x2="586.35" y2="214.6" stroke="#000" stroke-width="1.6"/>
<line x1="580.95" y1="205.6" x2="591.75" y2="205.6" stroke="#000" stroke-width="1.6"/>
<line x1="580.95" y1="214.6" x2="591.75" y2="214.6" stroke="#000" stroke-width="1.6"/>
<line x1="611.85" y1="214" x2="611.85" y2="222" stroke="#000" stroke-width="1.6"/>
<line x1="606.45" y1="214" x2="617.25" y2="214" stroke="#000" stroke-width="1.6"/>
<line x1="606.45" y1="222" x2="617.25" y2="222" stroke="#000" stroke-width="1.6"/>
<line x1="637.75" y1="112.7" x2="637.75" y2="172.3" stroke="#000" stroke-width="1.6"/>
<line x1="632.35" y1="112.7" x2="643.15" y2="112.7" stroke="#000" stroke-width="1.6"/>
<line x1="632.35" y1="172.3" x2="643.15" y2="172.3" stroke="#000" stroke-width="1.6"/>
<line x1="663.4" y1="194" x2="663.4" y2="216" stroke="#000" stroke-width="1.6"/>
<line x1="658" y1="194" x2="668.8" y2="194" stroke="#000" stroke-width="1.6"/>
<line x1="658" y1="216" x2="668.8" y2="216" stroke="#000" stroke-width="1.6"/>
<line x1="573" y1="70" x2="573" y2="232.45" stroke="#000" stroke-width="1.9"/>
<line x1="568.5" y1="231.5" x2="573" y2="231.5" stroke="#000" stroke-width="1.9"/>
<text x="559.7" y="235.99" font-size="13" font-weight="bold">0</text>
<line x1="568.5" y1="191.12" x2="573" y2="191.12" stroke="#000" stroke-width="1.9"/>
<text x="559.7" y="195.68" font-size="13" font-weight="bold">2</text>
<line x1="568.5" y1="150.75" x2="573" y2="150.75" stroke="#000" stroke-width="1.9"/>
<text x="559.25" y="155.24" font-size="13" font-weight="bold">4</text>
<line x1="568.5" y1="110.38" x2="573" y2="110.38" stroke="#000" stroke-width="1.9"/>
<text x="559.64" y="114.86" font-size="13" font-weight="bold">6</text>
<line x1="568.5" y1="70" x2="573" y2="70" stroke="#000" stroke-width="1.9"/>
<text x="559.57" y="74.48" font-size="13" font-weight="bold">8</text>
<line x1="572.05" y1="231.5" x2="674.7" y2="231.5" stroke="#000" stroke-width="1.9"/>
<line x1="586.35" y1="231.5" x2="586.35" y2="236" stroke="#000" stroke-width="1.9"/>
<line x1="611.85" y1="231.5" x2="611.85" y2="236" stroke="#000" stroke-width="1.9"/>
<line x1="637.75" y1="231.5" x2="637.75" y2="236" stroke="#000" stroke-width="1.9"/>
<line x1="663.4" y1="231.5" x2="663.4" y2="236" stroke="#000" stroke-width="1.9"/>
<text x="583.13" y="249.92" font-size="11.6" font-weight="bold" font-style="normal" fill="#000">0</text>
<text x="602.22" y="249.92" font-size="11.6" font-weight="bold" font-style="normal" fill="#000">200</text>
<text x="634.53" y="249.12" font-size="11.6" font-weight="bold" font-style="normal" fill="#000">0</text>
<text x="653.77" y="249.12" font-size="11.6" font-weight="bold" font-style="normal" fill="#000">200</text>
<line x1="577.8" y1="253.5" x2="623" y2="253.5" stroke="#111" stroke-width="1.15"/>
<text x="584.5" y="266.75" font-size="11.8" font-weight="bold" font-style="normal" fill="#000">Sham</text>
<line x1="629.4" y1="253.5" x2="674.7" y2="253.5" stroke="#111" stroke-width="1.15"/>
<text x="640.69" y="266.34" font-size="11.8" font-weight="bold" font-style="normal" fill="#000">ELL</text>
<text x="580.84" y="83.59" font-size="17.23" font-weight="bold" font-style="italic" fill="#000">Arg1</text>
<text x="582.15" y="198.47" font-size="15" font-weight="normal" font-style="normal" fill="#000">b</text>
<text x="609.05" y="203.18" font-size="15" font-weight="normal" font-style="normal" fill="#000">b</text>
<text x="632.14" y="104.7" font-size="15" font-weight="normal" font-style="normal" fill="#000">a</text>
<text x="659.15" y="187.57" font-size="15" font-weight="normal" font-style="normal" fill="#000">b</text>
<rect x="697.5" y="204" width="21.5" height="28" fill="#ffffff" stroke="#000" stroke-width="1.9"/>
<rect x="723" y="208" width="21" height="24" fill="#d9d9d9" stroke="#000" stroke-width="1.9"/>
<rect x="748.8" y="172.8" width="21.2" height="59.2" fill="#a09fa6" stroke="#000" stroke-width="1.9"/>
<rect x="774.7" y="176" width="20.9" height="56" fill="#5e5e5e" stroke="#000" stroke-width="1.9"/>
<line x1="708.25" y1="200" x2="708.25" y2="208" stroke="#000" stroke-width="1.6"/>
<line x1="702.85" y1="200" x2="713.65" y2="200" stroke="#000" stroke-width="1.6"/>
<line x1="702.85" y1="208" x2="713.65" y2="208" stroke="#000" stroke-width="1.6"/>
<line x1="733.5" y1="198.8" x2="733.5" y2="216.6" stroke="#000" stroke-width="1.6"/>
<line x1="728.1" y1="198.8" x2="738.9" y2="198.8" stroke="#000" stroke-width="1.6"/>
<line x1="728.1" y1="216.6" x2="738.9" y2="216.6" stroke="#000" stroke-width="1.6"/>
<line x1="759.4" y1="154.7" x2="759.4" y2="191.6" stroke="#000" stroke-width="1.6"/>
<line x1="754" y1="154.7" x2="764.8" y2="154.7" stroke="#000" stroke-width="1.6"/>
<line x1="754" y1="191.6" x2="764.8" y2="191.6" stroke="#000" stroke-width="1.6"/>
<line x1="785.15" y1="157.8" x2="785.15" y2="194" stroke="#000" stroke-width="1.6"/>
<line x1="779.75" y1="157.8" x2="790.55" y2="157.8" stroke="#000" stroke-width="1.6"/>
<line x1="779.75" y1="194" x2="790.55" y2="194" stroke="#000" stroke-width="1.6"/>
<line x1="695.8" y1="71" x2="695.8" y2="232.95" stroke="#000" stroke-width="1.9"/>
<line x1="691.3" y1="232" x2="695.8" y2="232" stroke="#000" stroke-width="1.9"/>
<text x="682.5" y="236.49" font-size="13" font-weight="bold">0</text>
<line x1="691.3" y1="178.33" x2="695.8" y2="178.33" stroke="#000" stroke-width="1.9"/>
<text x="682.5" y="182.88" font-size="13" font-weight="bold">2</text>
<line x1="691.3" y1="124.67" x2="695.8" y2="124.67" stroke="#000" stroke-width="1.9"/>
<text x="682.05" y="129.15" font-size="13" font-weight="bold">4</text>
<line x1="691.3" y1="71" x2="695.8" y2="71" stroke="#000" stroke-width="1.9"/>
<text x="682.44" y="75.48" font-size="13" font-weight="bold">6</text>
<line x1="694.85" y1="232" x2="796.6" y2="232" stroke="#000" stroke-width="1.9"/>
<line x1="708.25" y1="232" x2="708.25" y2="236.5" stroke="#000" stroke-width="1.9"/>
<line x1="733.5" y1="232" x2="733.5" y2="236.5" stroke="#000" stroke-width="1.9"/>
<line x1="759.4" y1="232" x2="759.4" y2="236.5" stroke="#000" stroke-width="1.9"/>
<line x1="785.15" y1="232" x2="785.15" y2="236.5" stroke="#000" stroke-width="1.9"/>
<text x="705.03" y="249.92" font-size="11.6" font-weight="bold" font-style="normal" fill="#000">0</text>
<text x="723.87" y="249.92" font-size="11.6" font-weight="bold" font-style="normal" fill="#000">200</text>
<text x="756.18" y="249.12" font-size="11.6" font-weight="bold" font-style="normal" fill="#000">0</text>
<text x="775.52" y="249.12" font-size="11.6" font-weight="bold" font-style="normal" fill="#000">200</text>
<line x1="701" y1="253.5" x2="744.4" y2="253.5" stroke="#111" stroke-width="1.15"/>
<text x="706.8" y="266.75" font-size="11.8" font-weight="bold" font-style="normal" fill="#000">Sham</text>
<line x1="752" y1="253.5" x2="796.6" y2="253.5" stroke="#111" stroke-width="1.15"/>
<text x="762.94" y="266.34" font-size="11.8" font-weight="bold" font-style="normal" fill="#000">ELL</text>
<text x="702.61" y="85.48" font-size="17.83" font-weight="bold" font-style="italic" fill="#000">Ccr2</text>
<text transform="translate(433.81,257.06) rotate(-90)" font-size="16.28" font-weight="bold" font-style="normal">Relative mRNA expression</text>
<text x="561.94" y="290.84" font-size="16.33" font-weight="bold" font-style="normal" fill="#000">Niclosamide (mg/kg)</text>
<text x="1.27" y="635.73" font-size="18.53" font-weight="bold" font-style="normal" fill="#000">(D)</text>
<text x="62.41" y="643.32" font-size="17.75" font-weight="bold" font-style="italic" fill="#000">Gata6</text>
<text x="111.75" y="642.9" font-size="17.75" font-weight="bold" font-style="normal" text-anchor="start" fill="#000">-depedent</text>
<text x="64.82" y="845.62" font-size="17.6" font-weight="bold" font-style="italic" fill="#000">Gata6</text>
<text x="113.74" y="845.3" font-size="17.6" font-weight="bold" font-style="normal" text-anchor="start" fill="#000">-independent</text>
<text transform="translate(40.05,937.85) rotate(-90)" font-size="17.72" font-weight="bold" font-style="normal">Relative mRNA expression</text>
<text x="336.34" y="1047.49" font-size="17.79" font-weight="bold" font-style="normal" fill="#000">Niclosamide (mg/kg)</text>
<rect x="70.6" y="761.2" width="16.8" height="28" fill="#ffffff" stroke="#000" stroke-width="1.45"/>
<rect x="90.5" y="753.7" width="17.3" height="35.5" fill="#d9d9d9" stroke="#000" stroke-width="1.45"/>
<rect x="111.4" y="694.4" width="17.3" height="94.8" fill="#a09fa6" stroke="#000" stroke-width="1.45"/>
<rect x="132.2" y="780.2" width="16.9" height="9" fill="#5e5e5e" stroke="#000" stroke-width="1.45"/>
<line x1="79" y1="756.8" x2="79" y2="766.5" stroke="#000" stroke-width="1.3"/>
<line x1="74.5" y1="756.8" x2="83.5" y2="756.8" stroke="#000" stroke-width="1.3"/>
<line x1="74.5" y1="766.5" x2="83.5" y2="766.5" stroke="#000" stroke-width="1.3"/>
<line x1="99.15" y1="746" x2="99.15" y2="762" stroke="#000" stroke-width="1.3"/>
<line x1="94.65" y1="746" x2="103.65" y2="746" stroke="#000" stroke-width="1.3"/>
<line x1="94.65" y1="762" x2="103.65" y2="762" stroke="#000" stroke-width="1.3"/>
<line x1="120.05" y1="674.6" x2="120.05" y2="713.9" stroke="#000" stroke-width="1.3"/>
<line x1="115.55" y1="674.6" x2="124.55" y2="674.6" stroke="#000" stroke-width="1.3"/>
<line x1="115.55" y1="713.9" x2="124.55" y2="713.9" stroke="#000" stroke-width="1.3"/>
<line x1="140.65" y1="777.3" x2="140.65" y2="783.4" stroke="#000" stroke-width="1.3"/>
<line x1="136.15" y1="777.3" x2="145.15" y2="777.3" stroke="#000" stroke-width="1.3"/>
<line x1="136.15" y1="783.4" x2="145.15" y2="783.4" stroke="#000" stroke-width="1.3"/>
<line x1="69.2" y1="657.9" x2="69.2" y2="789.93" stroke="#000" stroke-width="1.45"/>
<line x1="65.4" y1="789.2" x2="69.2" y2="789.2" stroke="#000" stroke-width="1.45"/>
<text x="58.64" y="792.93" font-size="10.8" font-weight="bold">0</text>
<line x1="65.4" y1="762.94" x2="69.2" y2="762.94" stroke="#000" stroke-width="1.45"/>
<text x="58.48" y="766.67" font-size="10.8" font-weight="bold">1</text>
<line x1="65.4" y1="736.68" x2="69.2" y2="736.68" stroke="#000" stroke-width="1.45"/>
<text x="58.64" y="740.46" font-size="10.8" font-weight="bold">2</text>
<line x1="65.4" y1="710.42" x2="69.2" y2="710.42" stroke="#000" stroke-width="1.45"/>
<text x="58.58" y="714.15" font-size="10.8" font-weight="bold">3</text>
<line x1="65.4" y1="684.16" x2="69.2" y2="684.16" stroke="#000" stroke-width="1.45"/>
<text x="58.26" y="687.89" font-size="10.8" font-weight="bold">4</text>
<line x1="65.4" y1="657.9" x2="69.2" y2="657.9" stroke="#000" stroke-width="1.45"/>
<text x="58.48" y="661.57" font-size="10.8" font-weight="bold">5</text>
<line x1="68.48" y1="789.2" x2="149.6" y2="789.2" stroke="#000" stroke-width="1.45"/>
<line x1="79" y1="789.2" x2="79" y2="793.2" stroke="#000" stroke-width="1.45"/>
<line x1="99.15" y1="789.2" x2="99.15" y2="793.2" stroke="#000" stroke-width="1.45"/>
<line x1="120.05" y1="789.2" x2="120.05" y2="793.2" stroke="#000" stroke-width="1.45"/>
<line x1="140.65" y1="789.2" x2="140.65" y2="793.2" stroke="#000" stroke-width="1.45"/>
<text x="76.34" y="804.42" font-size="9.6" font-weight="bold" font-style="normal" fill="#000">0</text>
<text x="91.18" y="804.42" font-size="9.6" font-weight="bold" font-style="normal" fill="#000">200</text>
<text x="117.39" y="804.42" font-size="9.6" font-weight="bold" font-style="normal" fill="#000">0</text>
<text x="132.68" y="804.42" font-size="9.6" font-weight="bold" font-style="normal" fill="#000">200</text>
<line x1="73.6" y1="807.5" x2="108.8" y2="807.5" stroke="#111" stroke-width="1.15"/>
<text x="78.26" y="817.96" font-size="9.6" font-weight="bold" font-style="normal" fill="#000">Sham</text>
<line x1="114.4" y1="807.5" x2="149.5" y2="807.5" stroke="#111" stroke-width="1.15"/>
<text x="122.71" y="817.62" font-size="9.6" font-weight="bold" font-style="normal" fill="#000">ELL</text>
<text x="74.22" y="669.28" font-size="13.9" font-weight="bold" font-style="italic" fill="#000">Ltbp1</text>
<text x="75.93" y="749.42" font-size="12.3" font-weight="normal" font-style="normal" fill="#000">b</text>
<text x="95.63" y="741.32" font-size="12.3" font-weight="normal" font-style="normal" fill="#000">b</text>
<text x="117.24" y="670.14" font-size="12.3" font-weight="normal" font-style="normal" fill="#000">a</text>
<text x="137.03" y="767.12" font-size="12.3" font-weight="normal" font-style="normal" fill="#000">b</text>
<rect x="178.5" y="771.5" width="16.6" height="17.4" fill="#ffffff" stroke="#000" stroke-width="1.45"/>
<rect x="199" y="745" width="16.6" height="43.9" fill="#d9d9d9" stroke="#000" stroke-width="1.45"/>
<rect x="219.5" y="698.4" width="16.9" height="90.5" fill="#a09fa6" stroke="#000" stroke-width="1.45"/>
<rect x="240" y="762.3" width="16.9" height="26.6" fill="#5e5e5e" stroke="#000" stroke-width="1.45"/>
<line x1="186.8" y1="769.1" x2="186.8" y2="774.4" stroke="#000" stroke-width="1.3"/>
<line x1="182.3" y1="769.1" x2="191.3" y2="769.1" stroke="#000" stroke-width="1.3"/>
<line x1="182.3" y1="774.4" x2="191.3" y2="774.4" stroke="#000" stroke-width="1.3"/>
<line x1="207.3" y1="743.5" x2="207.3" y2="747.1" stroke="#000" stroke-width="1.3"/>
<line x1="202.8" y1="743.5" x2="211.8" y2="743.5" stroke="#000" stroke-width="1.3"/>
<line x1="202.8" y1="747.1" x2="211.8" y2="747.1" stroke="#000" stroke-width="1.3"/>
<line x1="227.95" y1="679.1" x2="227.95" y2="718.9" stroke="#000" stroke-width="1.3"/>
<line x1="223.45" y1="679.1" x2="232.45" y2="679.1" stroke="#000" stroke-width="1.3"/>
<line x1="223.45" y1="718.9" x2="232.45" y2="718.9" stroke="#000" stroke-width="1.3"/>
<line x1="248.45" y1="758" x2="248.45" y2="767.2" stroke="#000" stroke-width="1.3"/>
<line x1="243.95" y1="758" x2="252.95" y2="758" stroke="#000" stroke-width="1.3"/>
<line x1="243.95" y1="767.2" x2="252.95" y2="767.2" stroke="#000" stroke-width="1.3"/>
<line x1="176.5" y1="658.6" x2="176.5" y2="789.62" stroke="#000" stroke-width="1.45"/>
<line x1="172.7" y1="788.9" x2="176.5" y2="788.9" stroke="#000" stroke-width="1.45"/>
<text x="165.94" y="792.63" font-size="10.8" font-weight="bold">0</text>
<line x1="172.7" y1="756.33" x2="176.5" y2="756.33" stroke="#000" stroke-width="1.45"/>
<text x="165.94" y="760.11" font-size="10.8" font-weight="bold">2</text>
<line x1="172.7" y1="723.75" x2="176.5" y2="723.75" stroke="#000" stroke-width="1.45"/>
<text x="165.56" y="727.48" font-size="10.8" font-weight="bold">4</text>
<line x1="172.7" y1="691.17" x2="176.5" y2="691.17" stroke="#000" stroke-width="1.45"/>
<text x="165.88" y="694.9" font-size="10.8" font-weight="bold">6</text>
<line x1="172.7" y1="658.6" x2="176.5" y2="658.6" stroke="#000" stroke-width="1.45"/>
<text x="165.83" y="662.33" font-size="10.8" font-weight="bold">8</text>
<line x1="175.78" y1="788.9" x2="257.4" y2="788.9" stroke="#000" stroke-width="1.45"/>
<line x1="186.8" y1="788.9" x2="186.8" y2="792.9" stroke="#000" stroke-width="1.45"/>
<line x1="207.3" y1="788.9" x2="207.3" y2="792.9" stroke="#000" stroke-width="1.45"/>
<line x1="227.95" y1="788.9" x2="227.95" y2="792.9" stroke="#000" stroke-width="1.45"/>
<line x1="248.45" y1="788.9" x2="248.45" y2="792.9" stroke="#000" stroke-width="1.45"/>
<text x="184.14" y="804.42" font-size="9.6" font-weight="bold" font-style="normal" fill="#000">0</text>
<text x="199.33" y="804.42" font-size="9.6" font-weight="bold" font-style="normal" fill="#000">200</text>
<text x="225.29" y="804.42" font-size="9.6" font-weight="bold" font-style="normal" fill="#000">0</text>
<text x="240.48" y="804.42" font-size="9.6" font-weight="bold" font-style="normal" fill="#000">200</text>
<line x1="181.4" y1="807.5" x2="216.3" y2="807.5" stroke="#111" stroke-width="1.15"/>
<text x="185.91" y="817.96" font-size="9.6" font-weight="bold" font-style="normal" fill="#000">Sham</text>
<line x1="221.7" y1="807.5" x2="257.4" y2="807.5" stroke="#111" stroke-width="1.15"/>
<text x="230.31" y="817.62" font-size="9.6" font-weight="bold" font-style="normal" fill="#000">ELL</text>
<text x="179.99" y="663.88" font-size="13.9" font-weight="bold" font-style="italic" fill="#000">Serpinb2</text>
<text x="183.23" y="764.12" font-size="12.3" font-weight="normal" font-style="normal" fill="#000">b</text>
<text x="203.73" y="737.72" font-size="12.3" font-weight="normal" font-style="normal" fill="#000">b</text>
<text x="224.34" y="673.64" font-size="12.3" font-weight="normal" font-style="normal" fill="#000">a</text>
<text x="244.93" y="753.32" font-size="12.3" font-weight="normal" font-style="normal" fill="#000">b</text>
<rect x="288.7" y="753.9" width="16.2" height="34.3" fill="#ffffff" stroke="#000" stroke-width="1.45"/>
<rect x="308.5" y="756.8" width="16.9" height="31.4" fill="#d9d9d9" stroke="#000" stroke-width="1.45"/>
<rect x="329.3" y="689.2" width="16.6" height="99" fill="#a09fa6" stroke="#000" stroke-width="1.45"/>
<rect x="349.3" y="768.4" width="16.4" height="19.8" fill="#5e5e5e" stroke="#000" stroke-width="1.45"/>
<line x1="296.8" y1="750.3" x2="296.8" y2="757.5" stroke="#000" stroke-width="1.3"/>
<line x1="292.3" y1="750.3" x2="301.3" y2="750.3" stroke="#000" stroke-width="1.3"/>
<line x1="292.3" y1="757.5" x2="301.3" y2="757.5" stroke="#000" stroke-width="1.3"/>
<line x1="316.95" y1="751.5" x2="316.95" y2="761.9" stroke="#000" stroke-width="1.3"/>
<line x1="312.45" y1="751.5" x2="321.45" y2="751.5" stroke="#000" stroke-width="1.3"/>
<line x1="312.45" y1="761.9" x2="321.45" y2="761.9" stroke="#000" stroke-width="1.3"/>
<line x1="337.6" y1="673" x2="337.6" y2="705.6" stroke="#000" stroke-width="1.3"/>
<line x1="333.1" y1="673" x2="342.1" y2="673" stroke="#000" stroke-width="1.3"/>
<line x1="333.1" y1="705.6" x2="342.1" y2="705.6" stroke="#000" stroke-width="1.3"/>
<line x1="357.5" y1="764" x2="357.5" y2="773.2" stroke="#000" stroke-width="1.3"/>
<line x1="353" y1="764" x2="362" y2="764" stroke="#000" stroke-width="1.3"/>
<line x1="353" y1="773.2" x2="362" y2="773.2" stroke="#000" stroke-width="1.3"/>
<line x1="287" y1="657.4" x2="287" y2="788.93" stroke="#000" stroke-width="1.45"/>
<line x1="283.2" y1="788.2" x2="287" y2="788.2" stroke="#000" stroke-width="1.45"/>
<text x="276.44" y="791.93" font-size="10.8" font-weight="bold">0</text>
<line x1="283.2" y1="755.5" x2="287" y2="755.5" stroke="#000" stroke-width="1.45"/>
<text x="276.28" y="759.23" font-size="10.8" font-weight="bold">1</text>
<line x1="283.2" y1="722.8" x2="287" y2="722.8" stroke="#000" stroke-width="1.45"/>
<text x="276.44" y="726.58" font-size="10.8" font-weight="bold">2</text>
<line x1="283.2" y1="690.1" x2="287" y2="690.1" stroke="#000" stroke-width="1.45"/>
<text x="276.38" y="693.83" font-size="10.8" font-weight="bold">3</text>
<line x1="283.2" y1="657.4" x2="287" y2="657.4" stroke="#000" stroke-width="1.45"/>
<text x="276.06" y="661.13" font-size="10.8" font-weight="bold">4</text>
<line x1="286.27" y1="788.2" x2="366.2" y2="788.2" stroke="#000" stroke-width="1.45"/>
<line x1="296.8" y1="788.2" x2="296.8" y2="792.2" stroke="#000" stroke-width="1.45"/>
<line x1="316.95" y1="788.2" x2="316.95" y2="792.2" stroke="#000" stroke-width="1.45"/>
<line x1="337.6" y1="788.2" x2="337.6" y2="792.2" stroke="#000" stroke-width="1.45"/>
<line x1="357.5" y1="788.2" x2="357.5" y2="792.2" stroke="#000" stroke-width="1.45"/>
<text x="294.14" y="804.42" font-size="9.6" font-weight="bold" font-style="normal" fill="#000">0</text>
<text x="308.98" y="804.42" font-size="9.6" font-weight="bold" font-style="normal" fill="#000">200</text>
<text x="334.94" y="804.42" font-size="9.6" font-weight="bold" font-style="normal" fill="#000">0</text>
<text x="349.53" y="804.42" font-size="9.6" font-weight="bold" font-style="normal" fill="#000">200</text>
<line x1="292" y1="807.5" x2="326.5" y2="807.5" stroke="#111" stroke-width="1.15"/>
<text x="296.31" y="817.96" font-size="9.6" font-weight="bold" font-style="normal" fill="#000">Sham</text>
<line x1="331.8" y1="807.5" x2="367.4" y2="807.5" stroke="#111" stroke-width="1.15"/>
<text x="340.36" y="817.62" font-size="9.6" font-weight="bold" font-style="normal" fill="#000">ELL</text>
<text x="290.13" y="668.68" font-size="13.9" font-weight="bold" font-style="italic" fill="#000">Tgfb2</text>
<text x="293.23" y="740.12" font-size="12.3" font-weight="normal" font-style="normal" fill="#000">b</text>
<text x="313.43" y="742.52" font-size="12.3" font-weight="normal" font-style="normal" fill="#000">b</text>
<text x="333.54" y="667.34" font-size="12.3" font-weight="normal" font-style="normal" fill="#000">a</text>
<text x="353.93" y="754.52" font-size="12.3" font-weight="normal" font-style="normal" fill="#000">b</text>
<rect x="394" y="755.1" width="16.3" height="33.1" fill="#ffffff" stroke="#000" stroke-width="1.45"/>
<rect x="414.4" y="737.7" width="16.9" height="50.5" fill="#d9d9d9" stroke="#000" stroke-width="1.45"/>
<rect x="435.4" y="706.1" width="16.4" height="82.1" fill="#a09fa6" stroke="#000" stroke-width="1.45"/>
<rect x="455.5" y="768.4" width="16.8" height="19.8" fill="#5e5e5e" stroke="#000" stroke-width="1.45"/>
<line x1="402.15" y1="752.2" x2="402.15" y2="757.5" stroke="#000" stroke-width="1.3"/>
<line x1="397.65" y1="752.2" x2="406.65" y2="752.2" stroke="#000" stroke-width="1.3"/>
<line x1="397.65" y1="757.5" x2="406.65" y2="757.5" stroke="#000" stroke-width="1.3"/>
<line x1="422.85" y1="732.7" x2="422.85" y2="742.6" stroke="#000" stroke-width="1.3"/>
<line x1="418.35" y1="732.7" x2="427.35" y2="732.7" stroke="#000" stroke-width="1.3"/>
<line x1="418.35" y1="742.6" x2="427.35" y2="742.6" stroke="#000" stroke-width="1.3"/>
<line x1="443.6" y1="688" x2="443.6" y2="725" stroke="#000" stroke-width="1.3"/>
<line x1="439.1" y1="688" x2="448.1" y2="688" stroke="#000" stroke-width="1.3"/>
<line x1="439.1" y1="725" x2="448.1" y2="725" stroke="#000" stroke-width="1.3"/>
<line x1="463.9" y1="760.4" x2="463.9" y2="775.6" stroke="#000" stroke-width="1.3"/>
<line x1="459.4" y1="760.4" x2="468.4" y2="760.4" stroke="#000" stroke-width="1.3"/>
<line x1="459.4" y1="775.6" x2="468.4" y2="775.6" stroke="#000" stroke-width="1.3"/>
<line x1="392.2" y1="657.9" x2="392.2" y2="788.93" stroke="#000" stroke-width="1.45"/>
<line x1="388.4" y1="788.2" x2="392.2" y2="788.2" stroke="#000" stroke-width="1.45"/>
<text x="381.64" y="791.93" font-size="10.8" font-weight="bold">0</text>
<line x1="388.4" y1="755.62" x2="392.2" y2="755.62" stroke="#000" stroke-width="1.45"/>
<text x="381.48" y="759.35" font-size="10.8" font-weight="bold">1</text>
<line x1="388.4" y1="723.05" x2="392.2" y2="723.05" stroke="#000" stroke-width="1.45"/>
<text x="381.64" y="726.83" font-size="10.8" font-weight="bold">2</text>
<line x1="388.4" y1="690.48" x2="392.2" y2="690.48" stroke="#000" stroke-width="1.45"/>
<text x="381.58" y="694.2" font-size="10.8" font-weight="bold">3</text>
<line x1="388.4" y1="657.9" x2="392.2" y2="657.9" stroke="#000" stroke-width="1.45"/>
<text x="381.26" y="661.63" font-size="10.8" font-weight="bold">4</text>
<line x1="391.47" y1="788.2" x2="472.8" y2="788.2" stroke="#000" stroke-width="1.45"/>
<line x1="402.15" y1="788.2" x2="402.15" y2="792.2" stroke="#000" stroke-width="1.45"/>
<line x1="422.85" y1="788.2" x2="422.85" y2="792.2" stroke="#000" stroke-width="1.45"/>
<line x1="443.6" y1="788.2" x2="443.6" y2="792.2" stroke="#000" stroke-width="1.45"/>
<line x1="463.9" y1="788.2" x2="463.9" y2="792.2" stroke="#000" stroke-width="1.45"/>
<text x="399.49" y="804.42" font-size="9.6" font-weight="bold" font-style="normal" fill="#000">0</text>
<text x="414.88" y="804.42" font-size="9.6" font-weight="bold" font-style="normal" fill="#000">200</text>
<text x="440.94" y="804.42" font-size="9.6" font-weight="bold" font-style="normal" fill="#000">0</text>
<text x="455.93" y="804.42" font-size="9.6" font-weight="bold" font-style="normal" fill="#000">200</text>
<line x1="397" y1="807.5" x2="432.5" y2="807.5" stroke="#111" stroke-width="1.15"/>
<text x="401.81" y="817.96" font-size="9.6" font-weight="bold" font-style="normal" fill="#000">Sham</text>
<line x1="437.4" y1="807.5" x2="473" y2="807.5" stroke="#111" stroke-width="1.15"/>
<text x="445.96" y="817.62" font-size="9.6" font-weight="bold" font-style="normal" fill="#000">ELL</text>
<text x="395.33" y="668.68" font-size="13.9" font-weight="bold" font-style="italic" fill="#000">Thbs1</text>
<text x="398.63" y="747.82" font-size="12.3" font-weight="normal" font-style="normal" fill="#000">b</text>
<text x="419.23" y="727.52" font-size="12.3" font-weight="normal" font-style="normal" fill="#000">b</text>
<text x="439.94" y="681.14" font-size="12.3" font-weight="normal" font-style="normal" fill="#000">a</text>
<text x="460.43" y="754.12" font-size="12.3" font-weight="normal" font-style="normal" fill="#000">b</text>
<rect x="71.4" y="981" width="16.1" height="9.4" fill="#ffffff" stroke="#000" stroke-width="1.45"/>
<rect x="91.1" y="972.6" width="17.2" height="17.8" fill="#d9d9d9" stroke="#000" stroke-width="1.45"/>
<rect x="111.9" y="914.7" width="16.9" height="75.7" fill="#a09fa6" stroke="#000" stroke-width="1.45"/>
<rect x="132.4" y="981.5" width="16.9" height="8.9" fill="#5e5e5e" stroke="#000" stroke-width="1.45"/>
<line x1="79.45" y1="979.6" x2="79.45" y2="982.7" stroke="#000" stroke-width="1.3"/>
<line x1="74.95" y1="979.6" x2="83.95" y2="979.6" stroke="#000" stroke-width="1.3"/>
<line x1="74.95" y1="982.7" x2="83.95" y2="982.7" stroke="#000" stroke-width="1.3"/>
<line x1="99.7" y1="966.5" x2="99.7" y2="979" stroke="#000" stroke-width="1.3"/>
<line x1="95.2" y1="966.5" x2="104.2" y2="966.5" stroke="#000" stroke-width="1.3"/>
<line x1="95.2" y1="979" x2="104.2" y2="979" stroke="#000" stroke-width="1.3"/>
<line x1="120.35" y1="895.8" x2="120.35" y2="934.4" stroke="#000" stroke-width="1.3"/>
<line x1="115.85" y1="895.8" x2="124.85" y2="895.8" stroke="#000" stroke-width="1.3"/>
<line x1="115.85" y1="934.4" x2="124.85" y2="934.4" stroke="#000" stroke-width="1.3"/>
<line x1="140.85" y1="977.9" x2="140.85" y2="985.1" stroke="#000" stroke-width="1.3"/>
<line x1="136.35" y1="977.9" x2="145.35" y2="977.9" stroke="#000" stroke-width="1.3"/>
<line x1="136.35" y1="985.1" x2="145.35" y2="985.1" stroke="#000" stroke-width="1.3"/>
<line x1="68.5" y1="859.7" x2="68.5" y2="991.12" stroke="#000" stroke-width="1.45"/>
<line x1="64.7" y1="990.4" x2="68.5" y2="990.4" stroke="#000" stroke-width="1.45"/>
<text x="57.94" y="994.13" font-size="10.8" font-weight="bold">0</text>
<line x1="64.7" y1="946.83" x2="68.5" y2="946.83" stroke="#000" stroke-width="1.45"/>
<text x="57.78" y="950.51" font-size="10.8" font-weight="bold">5</text>
<line x1="64.7" y1="903.27" x2="68.5" y2="903.27" stroke="#000" stroke-width="1.45"/>
<text x="51.94" y="906.99" font-size="10.8" font-weight="bold">10</text>
<line x1="64.7" y1="859.7" x2="68.5" y2="859.7" stroke="#000" stroke-width="1.45"/>
<text x="51.78" y="863.37" font-size="10.8" font-weight="bold">15</text>
<line x1="67.78" y1="990.4" x2="150.5" y2="990.4" stroke="#000" stroke-width="1.45"/>
<line x1="79.45" y1="990.4" x2="79.45" y2="994.4" stroke="#000" stroke-width="1.45"/>
<line x1="99.7" y1="990.4" x2="99.7" y2="994.4" stroke="#000" stroke-width="1.45"/>
<line x1="120.35" y1="990.4" x2="120.35" y2="994.4" stroke="#000" stroke-width="1.45"/>
<line x1="140.85" y1="990.4" x2="140.85" y2="994.4" stroke="#000" stroke-width="1.45"/>
<text x="76.79" y="1006.12" font-size="9.6" font-weight="bold" font-style="normal" fill="#000">0</text>
<text x="91.73" y="1006.12" font-size="9.6" font-weight="bold" font-style="normal" fill="#000">200</text>
<text x="117.69" y="1006.12" font-size="9.6" font-weight="bold" font-style="normal" fill="#000">0</text>
<text x="132.88" y="1006.12" font-size="9.6" font-weight="bold" font-style="normal" fill="#000">200</text>
<line x1="73.8" y1="1009.5" x2="110" y2="1009.5" stroke="#111" stroke-width="1.15"/>
<text x="78.96" y="1019.96" font-size="9.6" font-weight="bold" font-style="normal" fill="#000">Sham</text>
<line x1="115.3" y1="1009.5" x2="150.5" y2="1009.5" stroke="#111" stroke-width="1.15"/>
<text x="123.66" y="1019.62" font-size="9.6" font-weight="bold" font-style="normal" fill="#000">ELL</text>
<text x="72.12" y="870.88" font-size="13.9" font-weight="bold" font-style="italic" fill="#000">Igf1</text>
<text x="75.93" y="963.32" font-size="12.3" font-weight="normal" font-style="normal" fill="#000">b</text>
<text x="96.13" y="955.12" font-size="12.3" font-weight="normal" font-style="normal" fill="#000">b</text>
<text x="116.74" y="885.84" font-size="12.3" font-weight="normal" font-style="normal" fill="#000">a</text>
<text x="137.43" y="959.22" font-size="12.3" font-weight="normal" font-style="normal" fill="#000">b</text>
<rect x="171" y="965" width="16.9" height="27.3" fill="#ffffff" stroke="#000" stroke-width="1.45"/>
<rect x="191.5" y="966.3" width="16.9" height="26" fill="#d9d9d9" stroke="#000" stroke-width="1.45"/>
<rect x="212" y="904.8" width="16.9" height="87.5" fill="#a09fa6" stroke="#000" stroke-width="1.45"/>
<rect x="232.6" y="965.3" width="16.9" height="27" fill="#5e5e5e" stroke="#000" stroke-width="1.45"/>
<line x1="179.45" y1="961.7" x2="179.45" y2="968.7" stroke="#000" stroke-width="1.3"/>
<line x1="174.95" y1="961.7" x2="183.95" y2="961.7" stroke="#000" stroke-width="1.3"/>
<line x1="174.95" y1="968.7" x2="183.95" y2="968.7" stroke="#000" stroke-width="1.3"/>
<line x1="199.95" y1="959.3" x2="199.95" y2="973.5" stroke="#000" stroke-width="1.3"/>
<line x1="195.45" y1="959.3" x2="204.45" y2="959.3" stroke="#000" stroke-width="1.3"/>
<line x1="195.45" y1="973.5" x2="204.45" y2="973.5" stroke="#000" stroke-width="1.3"/>
<line x1="220.45" y1="893.4" x2="220.45" y2="915.9" stroke="#000" stroke-width="1.3"/>
<line x1="215.95" y1="893.4" x2="224.95" y2="893.4" stroke="#000" stroke-width="1.3"/>
<line x1="215.95" y1="915.9" x2="224.95" y2="915.9" stroke="#000" stroke-width="1.3"/>
<line x1="241.05" y1="955" x2="241.05" y2="976.7" stroke="#000" stroke-width="1.3"/>
<line x1="236.55" y1="955" x2="245.55" y2="955" stroke="#000" stroke-width="1.3"/>
<line x1="236.55" y1="976.7" x2="245.55" y2="976.7" stroke="#000" stroke-width="1.3"/>
<line x1="170.3" y1="862" x2="170.3" y2="993.02" stroke="#000" stroke-width="1.45"/>
<line x1="166.5" y1="992.3" x2="170.3" y2="992.3" stroke="#000" stroke-width="1.45"/>
<text x="159.74" y="996.03" font-size="10.8" font-weight="bold">0</text>
<line x1="166.5" y1="966.24" x2="170.3" y2="966.24" stroke="#000" stroke-width="1.45"/>
<text x="159.58" y="969.97" font-size="10.8" font-weight="bold">1</text>
<line x1="166.5" y1="940.18" x2="170.3" y2="940.18" stroke="#000" stroke-width="1.45"/>
<text x="159.74" y="943.96" font-size="10.8" font-weight="bold">2</text>
<line x1="166.5" y1="914.12" x2="170.3" y2="914.12" stroke="#000" stroke-width="1.45"/>
<text x="159.68" y="917.85" font-size="10.8" font-weight="bold">3</text>
<line x1="166.5" y1="888.06" x2="170.3" y2="888.06" stroke="#000" stroke-width="1.45"/>
<text x="159.36" y="891.79" font-size="10.8" font-weight="bold">4</text>
<line x1="166.5" y1="862" x2="170.3" y2="862" stroke="#000" stroke-width="1.45"/>
<text x="159.58" y="865.67" font-size="10.8" font-weight="bold">5</text>
<line x1="169.58" y1="992.3" x2="250.2" y2="992.3" stroke="#000" stroke-width="1.45"/>
<line x1="179.45" y1="992.3" x2="179.45" y2="996.3" stroke="#000" stroke-width="1.45"/>
<line x1="199.95" y1="992.3" x2="199.95" y2="996.3" stroke="#000" stroke-width="1.45"/>
<line x1="220.45" y1="992.3" x2="220.45" y2="996.3" stroke="#000" stroke-width="1.45"/>
<line x1="241.05" y1="992.3" x2="241.05" y2="996.3" stroke="#000" stroke-width="1.45"/>
<text x="176.79" y="1006.12" font-size="9.6" font-weight="bold" font-style="normal" fill="#000">0</text>
<text x="191.98" y="1006.12" font-size="9.6" font-weight="bold" font-style="normal" fill="#000">200</text>
<text x="217.79" y="1006.12" font-size="9.6" font-weight="bold" font-style="normal" fill="#000">0</text>
<text x="233.08" y="1006.12" font-size="9.6" font-weight="bold" font-style="normal" fill="#000">200</text>
<line x1="174.5" y1="1009.5" x2="210" y2="1009.5" stroke="#111" stroke-width="1.15"/>
<text x="179.31" y="1019.96" font-size="9.6" font-weight="bold" font-style="normal" fill="#000">Sham</text>
<line x1="215" y1="1009.5" x2="250.2" y2="1009.5" stroke="#111" stroke-width="1.15"/>
<text x="223.36" y="1019.62" font-size="9.6" font-weight="bold" font-style="normal" fill="#000">ELL</text>
<text x="172.42" y="874.58" font-size="13.9" font-weight="bold" font-style="italic" fill="#000">Pf4</text>
<text x="175.93" y="956.82" font-size="12.3" font-weight="normal" font-style="normal" fill="#000">b</text>
<text x="196.43" y="955.12" font-size="12.3" font-weight="normal" font-style="normal" fill="#000">b</text>
<text x="216.84" y="887.04" font-size="12.3" font-weight="normal" font-style="normal" fill="#000">a</text>
<text x="237.43" y="950.82" font-size="12.3" font-weight="normal" font-style="normal" fill="#000">b</text>
<rect x="273.6" y="988" width="16.4" height="3.6" fill="#ffffff" stroke="#000" stroke-width="1.45"/>
<rect x="294" y="988.2" width="16.5" height="3.4" fill="#d9d9d9" stroke="#000" stroke-width="1.45"/>
<rect x="314.1" y="915.1" width="16.9" height="76.5" fill="#a09fa6" stroke="#000" stroke-width="1.45"/>
<rect x="334.4" y="968.9" width="16.9" height="22.7" fill="#5e5e5e" stroke="#000" stroke-width="1.45"/>
<line x1="281.8" y1="987" x2="281.8" y2="989" stroke="#000" stroke-width="1.3"/>
<line x1="277.3" y1="987" x2="286.3" y2="987" stroke="#000" stroke-width="1.3"/>
<line x1="277.3" y1="989" x2="286.3" y2="989" stroke="#000" stroke-width="1.3"/>
<line x1="302.25" y1="987.2" x2="302.25" y2="989.2" stroke="#000" stroke-width="1.3"/>
<line x1="297.75" y1="987.2" x2="306.75" y2="987.2" stroke="#000" stroke-width="1.3"/>
<line x1="297.75" y1="989.2" x2="306.75" y2="989.2" stroke="#000" stroke-width="1.3"/>
<line x1="322.55" y1="893.4" x2="322.55" y2="936.4" stroke="#000" stroke-width="1.3"/>
<line x1="318.05" y1="893.4" x2="327.05" y2="893.4" stroke="#000" stroke-width="1.3"/>
<line x1="318.05" y1="936.4" x2="327.05" y2="936.4" stroke="#000" stroke-width="1.3"/>
<line x1="342.85" y1="961" x2="342.85" y2="977.9" stroke="#000" stroke-width="1.3"/>
<line x1="338.35" y1="961" x2="347.35" y2="961" stroke="#000" stroke-width="1.3"/>
<line x1="338.35" y1="977.9" x2="347.35" y2="977.9" stroke="#000" stroke-width="1.3"/>
<line x1="271.9" y1="862" x2="271.9" y2="992.33" stroke="#000" stroke-width="1.45"/>
<line x1="268.1" y1="991.6" x2="271.9" y2="991.6" stroke="#000" stroke-width="1.45"/>
<text x="261.34" y="995.33" font-size="10.8" font-weight="bold">0</text>
<line x1="268.1" y1="959.2" x2="271.9" y2="959.2" stroke="#000" stroke-width="1.45"/>
<text x="255.34" y="962.93" font-size="10.8" font-weight="bold">10</text>
<line x1="268.1" y1="926.8" x2="271.9" y2="926.8" stroke="#000" stroke-width="1.45"/>
<text x="255.34" y="930.53" font-size="10.8" font-weight="bold">20</text>
<line x1="268.1" y1="894.4" x2="271.9" y2="894.4" stroke="#000" stroke-width="1.45"/>
<text x="255.34" y="898.13" font-size="10.8" font-weight="bold">30</text>
<line x1="268.1" y1="862" x2="271.9" y2="862" stroke="#000" stroke-width="1.45"/>
<text x="255.34" y="865.73" font-size="10.8" font-weight="bold">40</text>
<line x1="271.17" y1="991.6" x2="352" y2="991.6" stroke="#000" stroke-width="1.45"/>
<line x1="281.8" y1="991.6" x2="281.8" y2="995.6" stroke="#000" stroke-width="1.45"/>
<line x1="302.25" y1="991.6" x2="302.25" y2="995.6" stroke="#000" stroke-width="1.45"/>
<line x1="322.55" y1="991.6" x2="322.55" y2="995.6" stroke="#000" stroke-width="1.45"/>
<line x1="342.85" y1="991.6" x2="342.85" y2="995.6" stroke="#000" stroke-width="1.45"/>
<text x="279.14" y="1006.12" font-size="9.6" font-weight="bold" font-style="normal" fill="#000">0</text>
<text x="294.28" y="1006.12" font-size="9.6" font-weight="bold" font-style="normal" fill="#000">200</text>
<text x="319.89" y="1006.12" font-size="9.6" font-weight="bold" font-style="normal" fill="#000">0</text>
<text x="334.88" y="1006.12" font-size="9.6" font-weight="bold" font-style="normal" fill="#000">200</text>
<line x1="274.8" y1="1009.5" x2="310.5" y2="1009.5" stroke="#111" stroke-width="1.15"/>
<text x="279.71" y="1019.96" font-size="9.6" font-weight="bold" font-style="normal" fill="#000">Sham</text>
<line x1="317" y1="1009.5" x2="352" y2="1009.5" stroke="#111" stroke-width="1.15"/>
<text x="325.26" y="1019.62" font-size="9.6" font-weight="bold" font-style="normal" fill="#000">ELL</text>
<text x="276.49" y="873.23" font-size="13.9" font-weight="bold" font-style="italic" fill="#000">Saa3</text>
<text x="278.23" y="983.12" font-size="12.3" font-weight="normal" font-style="normal" fill="#000">b</text>
<text x="298.73" y="978.52" font-size="12.3" font-weight="normal" font-style="normal" fill="#000">b</text>
<text x="318.94" y="889.44" font-size="12.3" font-weight="normal" font-style="normal" fill="#000">a</text>
<text x="339.23" y="958.12" font-size="12.3" font-weight="normal" font-style="normal" fill="#000">b</text>
<rect x="380.9" y="964.6" width="16.8" height="26.5" fill="#ffffff" stroke="#000" stroke-width="1.45"/>
<rect x="401.4" y="931.3" width="16.9" height="59.8" fill="#d9d9d9" stroke="#000" stroke-width="1.45"/>
<rect x="421.9" y="939.3" width="16.9" height="51.8" fill="#a09fa6" stroke="#000" stroke-width="1.45"/>
<rect x="441.9" y="970.1" width="17.4" height="21" fill="#5e5e5e" stroke="#000" stroke-width="1.45"/>
<line x1="389.3" y1="962.2" x2="389.3" y2="966.3" stroke="#000" stroke-width="1.3"/>
<line x1="384.8" y1="962.2" x2="393.8" y2="962.2" stroke="#000" stroke-width="1.3"/>
<line x1="384.8" y1="966.3" x2="393.8" y2="966.3" stroke="#000" stroke-width="1.3"/>
<line x1="409.85" y1="920" x2="409.85" y2="942.2" stroke="#000" stroke-width="1.3"/>
<line x1="405.35" y1="920" x2="414.35" y2="920" stroke="#000" stroke-width="1.3"/>
<line x1="405.35" y1="942.2" x2="414.35" y2="942.2" stroke="#000" stroke-width="1.3"/>
<line x1="430.35" y1="920" x2="430.35" y2="958.6" stroke="#000" stroke-width="1.3"/>
<line x1="425.85" y1="920" x2="434.85" y2="920" stroke="#000" stroke-width="1.3"/>
<line x1="425.85" y1="958.6" x2="434.85" y2="958.6" stroke="#000" stroke-width="1.3"/>
<line x1="450.6" y1="960.5" x2="450.6" y2="981" stroke="#000" stroke-width="1.3"/>
<line x1="446.1" y1="960.5" x2="455.1" y2="960.5" stroke="#000" stroke-width="1.3"/>
<line x1="446.1" y1="981" x2="455.1" y2="981" stroke="#000" stroke-width="1.3"/>
<line x1="379.2" y1="860.9" x2="379.2" y2="991.83" stroke="#000" stroke-width="1.45"/>
<line x1="375.4" y1="991.1" x2="379.2" y2="991.1" stroke="#000" stroke-width="1.45"/>
<text x="368.64" y="994.83" font-size="10.8" font-weight="bold">0</text>
<line x1="375.4" y1="965.06" x2="379.2" y2="965.06" stroke="#000" stroke-width="1.45"/>
<text x="368.48" y="968.79" font-size="10.8" font-weight="bold">1</text>
<line x1="375.4" y1="939.02" x2="379.2" y2="939.02" stroke="#000" stroke-width="1.45"/>
<text x="368.64" y="942.8" font-size="10.8" font-weight="bold">2</text>
<line x1="375.4" y1="912.98" x2="379.2" y2="912.98" stroke="#000" stroke-width="1.45"/>
<text x="368.58" y="916.71" font-size="10.8" font-weight="bold">3</text>
<line x1="375.4" y1="886.94" x2="379.2" y2="886.94" stroke="#000" stroke-width="1.45"/>
<text x="368.26" y="890.67" font-size="10.8" font-weight="bold">4</text>
<line x1="375.4" y1="860.9" x2="379.2" y2="860.9" stroke="#000" stroke-width="1.45"/>
<text x="368.48" y="864.57" font-size="10.8" font-weight="bold">5</text>
<line x1="378.47" y1="991.1" x2="460" y2="991.1" stroke="#000" stroke-width="1.45"/>
<line x1="389.3" y1="991.1" x2="389.3" y2="995.1" stroke="#000" stroke-width="1.45"/>
<line x1="409.85" y1="991.1" x2="409.85" y2="995.1" stroke="#000" stroke-width="1.45"/>
<line x1="430.35" y1="991.1" x2="430.35" y2="995.1" stroke="#000" stroke-width="1.45"/>
<line x1="450.6" y1="991.1" x2="450.6" y2="995.1" stroke="#000" stroke-width="1.45"/>
<text x="386.64" y="1006.12" font-size="9.6" font-weight="bold" font-style="normal" fill="#000">0</text>
<text x="401.88" y="1006.12" font-size="9.6" font-weight="bold" font-style="normal" fill="#000">200</text>
<text x="427.69" y="1006.12" font-size="9.6" font-weight="bold" font-style="normal" fill="#000">0</text>
<text x="442.63" y="1006.12" font-size="9.6" font-weight="bold" font-style="normal" fill="#000">200</text>
<line x1="383.3" y1="1009.5" x2="419.5" y2="1009.5" stroke="#111" stroke-width="1.15"/>
<text x="388.46" y="1019.96" font-size="9.6" font-weight="bold" font-style="normal" fill="#000">Sham</text>
<line x1="424.3" y1="1009.5" x2="459.7" y2="1009.5" stroke="#111" stroke-width="1.15"/>
<text x="432.76" y="1019.62" font-size="9.6" font-weight="bold" font-style="normal" fill="#000">ELL</text>
<text x="384.72" y="871.79" font-size="13.9" font-weight="bold" font-style="italic" fill="#000">Fn1</text>
<rect x="487.5" y="964.1" width="15.9" height="27.5" fill="#ffffff" stroke="#000" stroke-width="1.45"/>
<rect x="507.5" y="939.3" width="16.9" height="52.3" fill="#d9d9d9" stroke="#000" stroke-width="1.45"/>
<rect x="528" y="915.1" width="17" height="76.5" fill="#a09fa6" stroke="#000" stroke-width="1.45"/>
<rect x="548.5" y="956.2" width="16.9" height="35.4" fill="#5e5e5e" stroke="#000" stroke-width="1.45"/>
<line x1="495.45" y1="961" x2="495.45" y2="968.2" stroke="#000" stroke-width="1.3"/>
<line x1="490.95" y1="961" x2="499.95" y2="961" stroke="#000" stroke-width="1.3"/>
<line x1="490.95" y1="968.2" x2="499.95" y2="968.2" stroke="#000" stroke-width="1.3"/>
<line x1="515.95" y1="925.3" x2="515.95" y2="953.3" stroke="#000" stroke-width="1.3"/>
<line x1="511.45" y1="925.3" x2="520.45" y2="925.3" stroke="#000" stroke-width="1.3"/>
<line x1="511.45" y1="953.3" x2="520.45" y2="953.3" stroke="#000" stroke-width="1.3"/>
<line x1="536.5" y1="890.5" x2="536.5" y2="941" stroke="#000" stroke-width="1.3"/>
<line x1="532" y1="890.5" x2="541" y2="890.5" stroke="#000" stroke-width="1.3"/>
<line x1="532" y1="941" x2="541" y2="941" stroke="#000" stroke-width="1.3"/>
<line x1="556.95" y1="947" x2="556.95" y2="966.5" stroke="#000" stroke-width="1.3"/>
<line x1="552.45" y1="947" x2="561.45" y2="947" stroke="#000" stroke-width="1.3"/>
<line x1="552.45" y1="966.5" x2="561.45" y2="966.5" stroke="#000" stroke-width="1.3"/>
<line x1="485.3" y1="860.9" x2="485.3" y2="992.33" stroke="#000" stroke-width="1.45"/>
<line x1="481.5" y1="991.6" x2="485.3" y2="991.6" stroke="#000" stroke-width="1.45"/>
<text x="474.74" y="995.33" font-size="10.8" font-weight="bold">0</text>
<line x1="481.5" y1="965.46" x2="485.3" y2="965.46" stroke="#000" stroke-width="1.45"/>
<text x="474.58" y="969.19" font-size="10.8" font-weight="bold">1</text>
<line x1="481.5" y1="939.32" x2="485.3" y2="939.32" stroke="#000" stroke-width="1.45"/>
<text x="474.74" y="943.1" font-size="10.8" font-weight="bold">2</text>
<line x1="481.5" y1="913.18" x2="485.3" y2="913.18" stroke="#000" stroke-width="1.45"/>
<text x="474.68" y="916.91" font-size="10.8" font-weight="bold">3</text>
<line x1="481.5" y1="887.04" x2="485.3" y2="887.04" stroke="#000" stroke-width="1.45"/>
<text x="474.36" y="890.77" font-size="10.8" font-weight="bold">4</text>
<line x1="481.5" y1="860.9" x2="485.3" y2="860.9" stroke="#000" stroke-width="1.45"/>
<text x="474.58" y="864.57" font-size="10.8" font-weight="bold">5</text>
<line x1="484.57" y1="991.6" x2="565.9" y2="991.6" stroke="#000" stroke-width="1.45"/>
<line x1="495.45" y1="991.6" x2="495.45" y2="995.6" stroke="#000" stroke-width="1.45"/>
<line x1="515.95" y1="991.6" x2="515.95" y2="995.6" stroke="#000" stroke-width="1.45"/>
<line x1="536.5" y1="991.6" x2="536.5" y2="995.6" stroke="#000" stroke-width="1.45"/>
<line x1="556.95" y1="991.6" x2="556.95" y2="995.6" stroke="#000" stroke-width="1.45"/>
<text x="492.79" y="1006.12" font-size="9.6" font-weight="bold" font-style="normal" fill="#000">0</text>
<text x="507.98" y="1006.12" font-size="9.6" font-weight="bold" font-style="normal" fill="#000">200</text>
<text x="533.84" y="1006.12" font-size="9.6" font-weight="bold" font-style="normal" fill="#000">0</text>
<text x="548.98" y="1006.12" font-size="9.6" font-weight="bold" font-style="normal" fill="#000">200</text>
<line x1="490.6" y1="1009.5" x2="525.6" y2="1009.5" stroke="#111" stroke-width="1.15"/>
<text x="495.16" y="1019.96" font-size="9.6" font-weight="bold" font-style="normal" fill="#000">Sham</text>
<line x1="531.2" y1="1009.5" x2="565.9" y2="1009.5" stroke="#111" stroke-width="1.15"/>
<text x="539.31" y="1019.62" font-size="9.6" font-weight="bold" font-style="normal" fill="#000">ELL</text>
<text x="489.12" y="871.79" font-size="13.9" font-weight="bold" font-style="italic" fill="#000">Lrg1</text>
<rect x="594.5" y="964.6" width="16.9" height="26.5" fill="#ffffff" stroke="#000" stroke-width="1.45"/>
<rect x="615.5" y="941.7" width="16.9" height="49.4" fill="#d9d9d9" stroke="#000" stroke-width="1.45"/>
<rect x="635.5" y="949.4" width="17.4" height="41.7" fill="#a09fa6" stroke="#000" stroke-width="1.45"/>
<rect x="656.5" y="959.3" width="16.9" height="31.8" fill="#5e5e5e" stroke="#000" stroke-width="1.45"/>
<line x1="602.95" y1="961.5" x2="602.95" y2="967.7" stroke="#000" stroke-width="1.3"/>
<line x1="598.45" y1="961.5" x2="607.45" y2="961.5" stroke="#000" stroke-width="1.3"/>
<line x1="598.45" y1="967.7" x2="607.45" y2="967.7" stroke="#000" stroke-width="1.3"/>
<line x1="623.95" y1="927.2" x2="623.95" y2="956.2" stroke="#000" stroke-width="1.3"/>
<line x1="619.45" y1="927.2" x2="628.45" y2="927.2" stroke="#000" stroke-width="1.3"/>
<line x1="619.45" y1="956.2" x2="628.45" y2="956.2" stroke="#000" stroke-width="1.3"/>
<line x1="644.2" y1="936.1" x2="644.2" y2="962.7" stroke="#000" stroke-width="1.3"/>
<line x1="639.7" y1="936.1" x2="648.7" y2="936.1" stroke="#000" stroke-width="1.3"/>
<line x1="639.7" y1="962.7" x2="648.7" y2="962.7" stroke="#000" stroke-width="1.3"/>
<line x1="664.95" y1="947.7" x2="664.95" y2="971.8" stroke="#000" stroke-width="1.3"/>
<line x1="660.45" y1="947.7" x2="669.45" y2="947.7" stroke="#000" stroke-width="1.3"/>
<line x1="660.45" y1="971.8" x2="669.45" y2="971.8" stroke="#000" stroke-width="1.3"/>
<line x1="592.6" y1="860.9" x2="592.6" y2="991.83" stroke="#000" stroke-width="1.45"/>
<line x1="588.8" y1="991.1" x2="592.6" y2="991.1" stroke="#000" stroke-width="1.45"/>
<text x="582.04" y="994.83" font-size="10.8" font-weight="bold">0</text>
<line x1="588.8" y1="965.06" x2="592.6" y2="965.06" stroke="#000" stroke-width="1.45"/>
<text x="581.88" y="968.79" font-size="10.8" font-weight="bold">1</text>
<line x1="588.8" y1="939.02" x2="592.6" y2="939.02" stroke="#000" stroke-width="1.45"/>
<text x="582.04" y="942.8" font-size="10.8" font-weight="bold">2</text>
<line x1="588.8" y1="912.98" x2="592.6" y2="912.98" stroke="#000" stroke-width="1.45"/>
<text x="581.98" y="916.71" font-size="10.8" font-weight="bold">3</text>
<line x1="588.8" y1="886.94" x2="592.6" y2="886.94" stroke="#000" stroke-width="1.45"/>
<text x="581.66" y="890.67" font-size="10.8" font-weight="bold">4</text>
<line x1="588.8" y1="860.9" x2="592.6" y2="860.9" stroke="#000" stroke-width="1.45"/>
<text x="581.88" y="864.57" font-size="10.8" font-weight="bold">5</text>
<line x1="591.88" y1="991.1" x2="674.1" y2="991.1" stroke="#000" stroke-width="1.45"/>
<line x1="602.95" y1="991.1" x2="602.95" y2="995.1" stroke="#000" stroke-width="1.45"/>
<line x1="623.95" y1="991.1" x2="623.95" y2="995.1" stroke="#000" stroke-width="1.45"/>
<line x1="644.2" y1="991.1" x2="644.2" y2="995.1" stroke="#000" stroke-width="1.45"/>
<line x1="664.95" y1="991.1" x2="664.95" y2="995.1" stroke="#000" stroke-width="1.45"/>
<text x="600.29" y="1006.12" font-size="9.6" font-weight="bold" font-style="normal" fill="#000">0</text>
<text x="615.98" y="1006.12" font-size="9.6" font-weight="bold" font-style="normal" fill="#000">200</text>
<text x="641.54" y="1006.12" font-size="9.6" font-weight="bold" font-style="normal" fill="#000">0</text>
<text x="656.98" y="1006.12" font-size="9.6" font-weight="bold" font-style="normal" fill="#000">200</text>
<line x1="597.4" y1="1009.5" x2="632.9" y2="1009.5" stroke="#111" stroke-width="1.15"/>
<text x="602.21" y="1019.96" font-size="9.6" font-weight="bold" font-style="normal" fill="#000">Sham</text>
<line x1="638.4" y1="1009.5" x2="673.9" y2="1009.5" stroke="#111" stroke-width="1.15"/>
<text x="646.91" y="1019.62" font-size="9.6" font-weight="bold" font-style="normal" fill="#000">ELL</text>
<text x="599.02" y="872.28" font-size="13.9" font-weight="bold" font-style="italic" fill="#000">Rai14</text>
<rect x="701.1" y="982.2" width="16.9" height="8.9" fill="#ffffff" stroke="#000" stroke-width="1.45"/>
<rect x="721.6" y="968.9" width="17.4" height="22.2" fill="#d9d9d9" stroke="#000" stroke-width="1.45"/>
<rect x="742.1" y="918.8" width="16.9" height="72.3" fill="#a09fa6" stroke="#000" stroke-width="1.45"/>
<rect x="763.4" y="943.6" width="16.9" height="47.5" fill="#5e5e5e" stroke="#000" stroke-width="1.45"/>
<line x1="709.55" y1="981" x2="709.55" y2="983.5" stroke="#000" stroke-width="1.3"/>
<line x1="705.05" y1="981" x2="714.05" y2="981" stroke="#000" stroke-width="1.3"/>
<line x1="705.05" y1="983.5" x2="714.05" y2="983.5" stroke="#000" stroke-width="1.3"/>
<line x1="730.3" y1="963.4" x2="730.3" y2="974.7" stroke="#000" stroke-width="1.3"/>
<line x1="725.8" y1="963.4" x2="734.8" y2="963.4" stroke="#000" stroke-width="1.3"/>
<line x1="725.8" y1="974.7" x2="734.8" y2="974.7" stroke="#000" stroke-width="1.3"/>
<line x1="750.55" y1="893.4" x2="750.55" y2="944.8" stroke="#000" stroke-width="1.3"/>
<line x1="746.05" y1="893.4" x2="755.05" y2="893.4" stroke="#000" stroke-width="1.3"/>
<line x1="746.05" y1="944.8" x2="755.05" y2="944.8" stroke="#000" stroke-width="1.3"/>
<line x1="771.85" y1="930.3" x2="771.85" y2="957.4" stroke="#000" stroke-width="1.3"/>
<line x1="767.35" y1="930.3" x2="776.35" y2="930.3" stroke="#000" stroke-width="1.3"/>
<line x1="767.35" y1="957.4" x2="776.35" y2="957.4" stroke="#000" stroke-width="1.3"/>
<line x1="698.7" y1="860.9" x2="698.7" y2="991.83" stroke="#000" stroke-width="1.45"/>
<line x1="694.9" y1="991.1" x2="698.7" y2="991.1" stroke="#000" stroke-width="1.45"/>
<text x="688.14" y="994.83" font-size="10.8" font-weight="bold">0</text>
<line x1="694.9" y1="947.7" x2="698.7" y2="947.7" stroke="#000" stroke-width="1.45"/>
<text x="687.98" y="951.37" font-size="10.8" font-weight="bold">5</text>
<line x1="694.9" y1="904.3" x2="698.7" y2="904.3" stroke="#000" stroke-width="1.45"/>
<text x="682.14" y="908.03" font-size="10.8" font-weight="bold">10</text>
<line x1="694.9" y1="860.9" x2="698.7" y2="860.9" stroke="#000" stroke-width="1.45"/>
<text x="681.98" y="864.57" font-size="10.8" font-weight="bold">15</text>
<line x1="697.98" y1="991.1" x2="781" y2="991.1" stroke="#000" stroke-width="1.45"/>
<line x1="709.55" y1="991.1" x2="709.55" y2="995.1" stroke="#000" stroke-width="1.45"/>
<line x1="730.3" y1="991.1" x2="730.3" y2="995.1" stroke="#000" stroke-width="1.45"/>
<line x1="750.55" y1="991.1" x2="750.55" y2="995.1" stroke="#000" stroke-width="1.45"/>
<line x1="771.85" y1="991.1" x2="771.85" y2="995.1" stroke="#000" stroke-width="1.45"/>
<text x="706.89" y="1006.12" font-size="9.6" font-weight="bold" font-style="normal" fill="#000">0</text>
<text x="722.33" y="1006.12" font-size="9.6" font-weight="bold" font-style="normal" fill="#000">200</text>
<text x="747.89" y="1006.12" font-size="9.6" font-weight="bold" font-style="normal" fill="#000">0</text>
<text x="763.88" y="1006.12" font-size="9.6" font-weight="bold" font-style="normal" fill="#000">200</text>
<line x1="705" y1="1009.5" x2="740" y2="1009.5" stroke="#111" stroke-width="1.15"/>
<text x="709.56" y="1019.96" font-size="9.6" font-weight="bold" font-style="normal" fill="#000">Sham</text>
<line x1="745.5" y1="1009.5" x2="781" y2="1009.5" stroke="#111" stroke-width="1.15"/>
<text x="754.01" y="1019.62" font-size="9.6" font-weight="bold" font-style="normal" fill="#000">ELL</text>
<text x="705.72" y="872.28" font-size="13.9" font-weight="bold" font-style="italic" fill="#000">Rarb</text>
</svg></body></html>
